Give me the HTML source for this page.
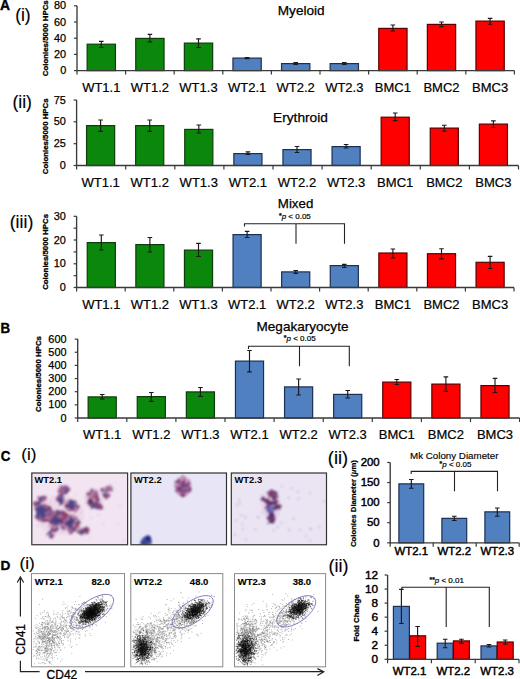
<!DOCTYPE html>
<html><head><meta charset="utf-8"><style>
html,body{margin:0;padding:0;background:#fff;width:520px;height:679px;overflow:hidden}
svg{display:block}
text{font-family:"Liberation Sans", sans-serif;fill:#000}
</style></head><body>
<svg width="520" height="679" viewBox="0 0 520 679" font-family='"Liberation Sans", sans-serif'>
<rect width="520" height="679" fill="#fff"/>
<defs><filter id="bl" x="-20%" y="-20%" width="140%" height="140%"><feGaussianBlur stdDeviation="0.9"/></filter><filter id="bl2" x="-20%" y="-20%" width="140%" height="140%"><feGaussianBlur stdDeviation="0.5"/></filter></defs>
<text x="0.05" y="10.0" font-size="13.9" text-anchor="start" font-weight="bold" stroke="#000" stroke-width="0.35" >A</text>
<text x="15.15" y="20.9" font-size="17.5" text-anchor="start" stroke="#000" stroke-width="0.15" >(i)</text>
<rect x="87.15" y="44.20" width="28.30" height="26.40" fill="#0b870b" stroke="#0d3d0d" stroke-width="1.2"/>
<rect x="135.75" y="38.40" width="28.30" height="32.20" fill="#0b870b" stroke="#0d3d0d" stroke-width="1.2"/>
<rect x="184.35" y="43.10" width="28.30" height="27.50" fill="#0b870b" stroke="#0d3d0d" stroke-width="1.2"/>
<rect x="232.95" y="58.10" width="28.30" height="12.50" fill="#5080c0" stroke="#1c2f52" stroke-width="1.2"/>
<rect x="281.55" y="63.60" width="28.30" height="7.00" fill="#5080c0" stroke="#1c2f52" stroke-width="1.2"/>
<rect x="330.15" y="63.60" width="28.30" height="7.00" fill="#5080c0" stroke="#1c2f52" stroke-width="1.2"/>
<rect x="378.75" y="28.40" width="28.30" height="42.20" fill="#ff0000" stroke="#5a0000" stroke-width="1.2"/>
<rect x="427.35" y="24.40" width="28.30" height="46.20" fill="#ff0000" stroke="#5a0000" stroke-width="1.2"/>
<rect x="475.95" y="21.10" width="28.30" height="49.50" fill="#ff0000" stroke="#5a0000" stroke-width="1.2"/>
<path d="M77 5.8V70.6H514.4000000000001" fill="none" stroke="#3a3a3a" stroke-width="1.35"/>
<path d="M74 70.6H77" stroke="#3a3a3a" stroke-width="1.2"/>
<text x="66.2" y="74.2" font-size="10.9" text-anchor="end" stroke="#000" stroke-width="0.25" >0</text>
<path d="M74 54.4H77" stroke="#3a3a3a" stroke-width="1.2"/>
<text x="66.2" y="58.0" font-size="10.9" text-anchor="end" stroke="#000" stroke-width="0.25" >20</text>
<path d="M74 38.2H77" stroke="#3a3a3a" stroke-width="1.2"/>
<text x="66.2" y="41.8" font-size="10.9" text-anchor="end" stroke="#000" stroke-width="0.25" >40</text>
<path d="M74 22.0H77" stroke="#3a3a3a" stroke-width="1.2"/>
<text x="66.2" y="25.6" font-size="10.9" text-anchor="end" stroke="#000" stroke-width="0.25" >60</text>
<path d="M74 5.8H77" stroke="#3a3a3a" stroke-width="1.2"/>
<text x="66.2" y="9.4" font-size="10.9" text-anchor="end" stroke="#000" stroke-width="0.25" >80</text>
<path d="M77.00 70.6V74.6" stroke="#3a3a3a" stroke-width="1.2"/>
<path d="M125.60 70.6V74.6" stroke="#3a3a3a" stroke-width="1.2"/>
<path d="M174.20 70.6V74.6" stroke="#3a3a3a" stroke-width="1.2"/>
<path d="M222.80 70.6V74.6" stroke="#3a3a3a" stroke-width="1.2"/>
<path d="M271.40 70.6V74.6" stroke="#3a3a3a" stroke-width="1.2"/>
<path d="M320.00 70.6V74.6" stroke="#3a3a3a" stroke-width="1.2"/>
<path d="M368.60 70.6V74.6" stroke="#3a3a3a" stroke-width="1.2"/>
<path d="M417.20 70.6V74.6" stroke="#3a3a3a" stroke-width="1.2"/>
<path d="M465.80 70.6V74.6" stroke="#3a3a3a" stroke-width="1.2"/>
<path d="M514.40 70.6V74.6" stroke="#3a3a3a" stroke-width="1.2"/>
<path d="M101.30 41.3V47.5M99.00 41.3h4.6M99.00 47.5h4.6" stroke="#1a1a1a" stroke-width="1.15" fill="none"/>
<path d="M149.90 34.3V41.8M147.60 34.3h4.6M147.60 41.8h4.6" stroke="#1a1a1a" stroke-width="1.15" fill="none"/>
<path d="M198.50 38.8V47.5M196.20 38.8h4.6M196.20 47.5h4.6" stroke="#1a1a1a" stroke-width="1.15" fill="none"/>
<path d="M247.10 57.5V58.6M244.80 57.5h4.6M244.80 58.6h4.6" stroke="#1a1a1a" stroke-width="1.15" fill="none"/>
<path d="M295.70 62.6V64.4M293.40 62.6h4.6M293.40 64.4h4.6" stroke="#1a1a1a" stroke-width="1.15" fill="none"/>
<path d="M344.30 62.6V64.4M342.00 62.6h4.6M342.00 64.4h4.6" stroke="#1a1a1a" stroke-width="1.15" fill="none"/>
<path d="M392.90 25V31M390.60 25h4.6M390.60 31h4.6" stroke="#1a1a1a" stroke-width="1.15" fill="none"/>
<path d="M441.50 22V26.6M439.20 22h4.6M439.20 26.6h4.6" stroke="#1a1a1a" stroke-width="1.15" fill="none"/>
<path d="M490.10 18.4V24.2M487.80 18.4h4.6M487.80 24.2h4.6" stroke="#1a1a1a" stroke-width="1.15" fill="none"/>
<text x="101.30" y="91.5" font-size="13.0" text-anchor="middle" stroke="#000" stroke-width="0.2" >WT1.1</text>
<text x="149.90" y="91.5" font-size="13.0" text-anchor="middle" stroke="#000" stroke-width="0.2" >WT1.2</text>
<text x="198.50" y="91.5" font-size="13.0" text-anchor="middle" stroke="#000" stroke-width="0.2" >WT1.3</text>
<text x="247.10" y="91.5" font-size="13.0" text-anchor="middle" stroke="#000" stroke-width="0.2" >WT2.1</text>
<text x="295.70" y="91.5" font-size="13.0" text-anchor="middle" stroke="#000" stroke-width="0.2" >WT2.2</text>
<text x="344.30" y="91.5" font-size="13.0" text-anchor="middle" stroke="#000" stroke-width="0.2" >WT2.3</text>
<text x="392.90" y="91.5" font-size="13.0" text-anchor="middle" stroke="#000" stroke-width="0.2" >BMC1</text>
<text x="441.50" y="91.5" font-size="13.0" text-anchor="middle" stroke="#000" stroke-width="0.2" >BMC2</text>
<text x="490.10" y="91.5" font-size="13.0" text-anchor="middle" stroke="#000" stroke-width="0.2" >BMC3</text>
<text x="48.2" y="38.2" font-size="7.85" font-weight="bold" text-anchor="middle" stroke="#000" stroke-width="0.3" transform="rotate(-90 48.2 38.2)">Colonies/5000 HPCs</text>
<text x="277.8" y="14.6" font-size="13.58" text-anchor="start" stroke="#000" stroke-width="0.25" >Myeloid</text>
<text x="12.45" y="107.8" font-size="17.56" text-anchor="start" stroke="#000" stroke-width="0.15" >(ii)</text>
<rect x="86.55" y="125.60" width="28.10" height="39.90" fill="#0b870b" stroke="#0d3d0d" stroke-width="1.2"/>
<rect x="135.65" y="125.60" width="28.10" height="39.90" fill="#0b870b" stroke="#0d3d0d" stroke-width="1.2"/>
<rect x="184.75" y="129.40" width="28.10" height="36.10" fill="#0b870b" stroke="#0d3d0d" stroke-width="1.2"/>
<rect x="233.85" y="153.60" width="28.10" height="11.90" fill="#5080c0" stroke="#1c2f52" stroke-width="1.2"/>
<rect x="282.95" y="149.60" width="28.10" height="15.90" fill="#5080c0" stroke="#1c2f52" stroke-width="1.2"/>
<rect x="332.05" y="146.60" width="28.10" height="18.90" fill="#5080c0" stroke="#1c2f52" stroke-width="1.2"/>
<rect x="381.15" y="117.20" width="28.10" height="48.30" fill="#ff0000" stroke="#5a0000" stroke-width="1.2"/>
<rect x="430.25" y="128.10" width="28.10" height="37.40" fill="#ff0000" stroke="#5a0000" stroke-width="1.2"/>
<rect x="479.35" y="124.10" width="28.10" height="41.40" fill="#ff0000" stroke="#5a0000" stroke-width="1.2"/>
<path d="M76.6 100V165.5H518.5" fill="none" stroke="#3a3a3a" stroke-width="1.35"/>
<path d="M73.6 165.5H76.6" stroke="#3a3a3a" stroke-width="1.2"/>
<text x="65.8" y="169.1" font-size="10.9" text-anchor="end" stroke="#000" stroke-width="0.25" >0</text>
<path d="M73.6 143.7H76.6" stroke="#3a3a3a" stroke-width="1.2"/>
<text x="65.8" y="147.3" font-size="10.9" text-anchor="end" stroke="#000" stroke-width="0.25" >25</text>
<path d="M73.6 121.8H76.6" stroke="#3a3a3a" stroke-width="1.2"/>
<text x="65.8" y="125.4" font-size="10.9" text-anchor="end" stroke="#000" stroke-width="0.25" >50</text>
<path d="M73.6 100H76.6" stroke="#3a3a3a" stroke-width="1.2"/>
<text x="65.8" y="103.6" font-size="10.9" text-anchor="end" stroke="#000" stroke-width="0.25" >75</text>
<path d="M76.60 165.5V169.5" stroke="#3a3a3a" stroke-width="1.2"/>
<path d="M125.70 165.5V169.5" stroke="#3a3a3a" stroke-width="1.2"/>
<path d="M174.80 165.5V169.5" stroke="#3a3a3a" stroke-width="1.2"/>
<path d="M223.90 165.5V169.5" stroke="#3a3a3a" stroke-width="1.2"/>
<path d="M273.00 165.5V169.5" stroke="#3a3a3a" stroke-width="1.2"/>
<path d="M322.10 165.5V169.5" stroke="#3a3a3a" stroke-width="1.2"/>
<path d="M371.20 165.5V169.5" stroke="#3a3a3a" stroke-width="1.2"/>
<path d="M420.30 165.5V169.5" stroke="#3a3a3a" stroke-width="1.2"/>
<path d="M469.40 165.5V169.5" stroke="#3a3a3a" stroke-width="1.2"/>
<path d="M518.50 165.5V169.5" stroke="#3a3a3a" stroke-width="1.2"/>
<path d="M100.60 120V131.3M98.30 120h4.6M98.30 131.3h4.6" stroke="#1a1a1a" stroke-width="1.15" fill="none"/>
<path d="M149.70 120V131.3M147.40 120h4.6M147.40 131.3h4.6" stroke="#1a1a1a" stroke-width="1.15" fill="none"/>
<path d="M198.80 125V133M196.50 125h4.6M196.50 133h4.6" stroke="#1a1a1a" stroke-width="1.15" fill="none"/>
<path d="M247.90 151.8V154.5M245.60 151.8h4.6M245.60 154.5h4.6" stroke="#1a1a1a" stroke-width="1.15" fill="none"/>
<path d="M297.00 146.5V152.5M294.70 146.5h4.6M294.70 152.5h4.6" stroke="#1a1a1a" stroke-width="1.15" fill="none"/>
<path d="M346.10 144.5V148M343.80 144.5h4.6M343.80 148h4.6" stroke="#1a1a1a" stroke-width="1.15" fill="none"/>
<path d="M395.20 113V120.6M392.90 113h4.6M392.90 120.6h4.6" stroke="#1a1a1a" stroke-width="1.15" fill="none"/>
<path d="M444.30 125.2V131.2M442.00 125.2h4.6M442.00 131.2h4.6" stroke="#1a1a1a" stroke-width="1.15" fill="none"/>
<path d="M493.40 120.9V127.5M491.10 120.9h4.6M491.10 127.5h4.6" stroke="#1a1a1a" stroke-width="1.15" fill="none"/>
<text x="100.60" y="186.6" font-size="13.06" text-anchor="middle" stroke="#000" stroke-width="0.2" >WT1.1</text>
<text x="149.70" y="186.6" font-size="13.06" text-anchor="middle" stroke="#000" stroke-width="0.2" >WT1.2</text>
<text x="198.80" y="186.6" font-size="13.06" text-anchor="middle" stroke="#000" stroke-width="0.2" >WT1.3</text>
<text x="247.90" y="186.6" font-size="13.06" text-anchor="middle" stroke="#000" stroke-width="0.2" >WT2.1</text>
<text x="297.00" y="186.6" font-size="13.06" text-anchor="middle" stroke="#000" stroke-width="0.2" >WT2.2</text>
<text x="346.10" y="186.6" font-size="13.06" text-anchor="middle" stroke="#000" stroke-width="0.2" >WT2.3</text>
<text x="395.20" y="186.6" font-size="13.06" text-anchor="middle" stroke="#000" stroke-width="0.2" >BMC1</text>
<text x="444.30" y="186.6" font-size="13.06" text-anchor="middle" stroke="#000" stroke-width="0.2" >BMC2</text>
<text x="493.40" y="186.6" font-size="13.06" text-anchor="middle" stroke="#000" stroke-width="0.2" >BMC3</text>
<text x="48.2" y="136.3" font-size="7.85" font-weight="bold" text-anchor="middle" stroke="#000" stroke-width="0.3" transform="rotate(-90 48.2 136.3)">Colonies/5000 HPCs</text>
<text x="273.05" y="122.1" font-size="13.7" text-anchor="start" stroke="#000" stroke-width="0.25" >Erythroid</text>
<text x="9.73" y="227.5" font-size="17.7" text-anchor="start" stroke="#000" stroke-width="0.15" >(iii)</text>
<rect x="87.25" y="242.60" width="28.10" height="44.90" fill="#0b870b" stroke="#0d3d0d" stroke-width="1.2"/>
<rect x="135.85" y="244.60" width="28.10" height="42.90" fill="#0b870b" stroke="#0d3d0d" stroke-width="1.2"/>
<rect x="184.45" y="250.10" width="28.10" height="37.40" fill="#0b870b" stroke="#0d3d0d" stroke-width="1.2"/>
<rect x="233.05" y="234.60" width="28.10" height="52.90" fill="#5080c0" stroke="#1c2f52" stroke-width="1.2"/>
<rect x="281.65" y="271.90" width="28.10" height="15.60" fill="#5080c0" stroke="#1c2f52" stroke-width="1.2"/>
<rect x="330.25" y="265.60" width="28.10" height="21.90" fill="#5080c0" stroke="#1c2f52" stroke-width="1.2"/>
<rect x="378.85" y="253.00" width="28.10" height="34.50" fill="#ff0000" stroke="#5a0000" stroke-width="1.2"/>
<rect x="427.45" y="253.70" width="28.10" height="33.80" fill="#ff0000" stroke="#5a0000" stroke-width="1.2"/>
<rect x="476.05" y="262.30" width="28.10" height="25.20" fill="#ff0000" stroke="#5a0000" stroke-width="1.2"/>
<path d="M76.6 216.3V287.5H514.0" fill="none" stroke="#3a3a3a" stroke-width="1.35"/>
<path d="M73.6 287.5H76.6" stroke="#3a3a3a" stroke-width="1.2"/>
<text x="65.8" y="291.1" font-size="10.9" text-anchor="end" stroke="#000" stroke-width="0.25" >0</text>
<path d="M73.6 263.8H76.6" stroke="#3a3a3a" stroke-width="1.2"/>
<text x="65.8" y="267.4" font-size="10.9" text-anchor="end" stroke="#000" stroke-width="0.25" >10</text>
<path d="M73.6 240H76.6" stroke="#3a3a3a" stroke-width="1.2"/>
<text x="65.8" y="243.6" font-size="10.9" text-anchor="end" stroke="#000" stroke-width="0.25" >20</text>
<path d="M73.6 216.3H76.6" stroke="#3a3a3a" stroke-width="1.2"/>
<text x="65.8" y="219.9" font-size="10.9" text-anchor="end" stroke="#000" stroke-width="0.25" >30</text>
<path d="M76.60 287.5V291.5" stroke="#3a3a3a" stroke-width="1.2"/>
<path d="M125.20 287.5V291.5" stroke="#3a3a3a" stroke-width="1.2"/>
<path d="M173.80 287.5V291.5" stroke="#3a3a3a" stroke-width="1.2"/>
<path d="M222.40 287.5V291.5" stroke="#3a3a3a" stroke-width="1.2"/>
<path d="M271.00 287.5V291.5" stroke="#3a3a3a" stroke-width="1.2"/>
<path d="M319.60 287.5V291.5" stroke="#3a3a3a" stroke-width="1.2"/>
<path d="M368.20 287.5V291.5" stroke="#3a3a3a" stroke-width="1.2"/>
<path d="M416.80 287.5V291.5" stroke="#3a3a3a" stroke-width="1.2"/>
<path d="M465.40 287.5V291.5" stroke="#3a3a3a" stroke-width="1.2"/>
<path d="M514.00 287.5V291.5" stroke="#3a3a3a" stroke-width="1.2"/>
<path d="M101.30 235V250M99.00 235h4.6M99.00 250h4.6" stroke="#1a1a1a" stroke-width="1.15" fill="none"/>
<path d="M149.90 237.5V252M147.60 237.5h4.6M147.60 252h4.6" stroke="#1a1a1a" stroke-width="1.15" fill="none"/>
<path d="M198.50 243.3V256.5M196.20 243.3h4.6M196.20 256.5h4.6" stroke="#1a1a1a" stroke-width="1.15" fill="none"/>
<path d="M247.10 231.3V237.5M244.80 231.3h4.6M244.80 237.5h4.6" stroke="#1a1a1a" stroke-width="1.15" fill="none"/>
<path d="M295.70 270.5V273.3M293.40 270.5h4.6M293.40 273.3h4.6" stroke="#1a1a1a" stroke-width="1.15" fill="none"/>
<path d="M344.30 264.3V267.5M342.00 264.3h4.6M342.00 267.5h4.6" stroke="#1a1a1a" stroke-width="1.15" fill="none"/>
<path d="M392.90 249V258M390.60 249h4.6M390.60 258h4.6" stroke="#1a1a1a" stroke-width="1.15" fill="none"/>
<path d="M441.50 248.7V258.8M439.20 248.7h4.6M439.20 258.8h4.6" stroke="#1a1a1a" stroke-width="1.15" fill="none"/>
<path d="M490.10 256.3V268.5M487.80 256.3h4.6M487.80 268.5h4.6" stroke="#1a1a1a" stroke-width="1.15" fill="none"/>
<text x="101.30" y="308.6" font-size="13.0" text-anchor="middle" stroke="#000" stroke-width="0.2" >WT1.1</text>
<text x="149.90" y="308.6" font-size="13.0" text-anchor="middle" stroke="#000" stroke-width="0.2" >WT1.2</text>
<text x="198.50" y="308.6" font-size="13.0" text-anchor="middle" stroke="#000" stroke-width="0.2" >WT1.3</text>
<text x="247.10" y="308.6" font-size="13.0" text-anchor="middle" stroke="#000" stroke-width="0.2" >WT2.1</text>
<text x="295.70" y="308.6" font-size="13.0" text-anchor="middle" stroke="#000" stroke-width="0.2" >WT2.2</text>
<text x="344.30" y="308.6" font-size="13.0" text-anchor="middle" stroke="#000" stroke-width="0.2" >WT2.3</text>
<text x="392.90" y="308.6" font-size="13.0" text-anchor="middle" stroke="#000" stroke-width="0.2" >BMC1</text>
<text x="441.50" y="308.6" font-size="13.0" text-anchor="middle" stroke="#000" stroke-width="0.2" >BMC2</text>
<text x="490.10" y="308.6" font-size="13.0" text-anchor="middle" stroke="#000" stroke-width="0.2" >BMC3</text>
<path d="M73.6 275.65H76.6" stroke="#3a3a3a" stroke-width="1.2"/>
<path d="M73.6 251.9H76.6" stroke="#3a3a3a" stroke-width="1.2"/>
<path d="M73.6 228.15H76.6" stroke="#3a3a3a" stroke-width="1.2"/>
<text x="48.2" y="251.9" font-size="7.85" font-weight="bold" text-anchor="middle" stroke="#000" stroke-width="0.3" transform="rotate(-90 48.2 251.9)">Colonies/5000 HPCs</text>
<text x="277.84" y="207.8" font-size="13.3" text-anchor="start" stroke="#000" stroke-width="0.25" >Mixed</text>
<text x="279.0" y="219.4" font-size="8" stroke="#000" stroke-width="0.2"><tspan font-size="6.8" dy="-1" font-weight="bold">*</tspan><tspan font-style="italic" dy="1">p</tspan> &lt; 0.05</text>
<path d="M244.5 226.5V223.8H344.5V243.8M296 223.8V243.8" fill="none" stroke="#222" stroke-width="1.1"/>
<text x="0.54" y="333.4" font-size="13.3" text-anchor="start" font-weight="bold" transform="matrix(1 0 0 1.1 0 -33.340)" stroke="#000" stroke-width="0.35" >B</text>
<rect x="88.15" y="396.90" width="28.10" height="21.10" fill="#0b870b" stroke="#0d3d0d" stroke-width="1.2"/>
<rect x="137.25" y="396.60" width="28.10" height="21.40" fill="#0b870b" stroke="#0d3d0d" stroke-width="1.2"/>
<rect x="186.35" y="391.90" width="28.10" height="26.10" fill="#0b870b" stroke="#0d3d0d" stroke-width="1.2"/>
<rect x="235.45" y="361.10" width="28.10" height="56.90" fill="#5080c0" stroke="#1c2f52" stroke-width="1.2"/>
<rect x="284.55" y="386.90" width="28.10" height="31.10" fill="#5080c0" stroke="#1c2f52" stroke-width="1.2"/>
<rect x="333.65" y="394.40" width="28.10" height="23.60" fill="#5080c0" stroke="#1c2f52" stroke-width="1.2"/>
<rect x="382.75" y="382.10" width="28.10" height="35.90" fill="#ff0000" stroke="#5a0000" stroke-width="1.2"/>
<rect x="431.85" y="384.10" width="28.10" height="33.90" fill="#ff0000" stroke="#5a0000" stroke-width="1.2"/>
<rect x="480.95" y="385.60" width="28.10" height="32.40" fill="#ff0000" stroke="#5a0000" stroke-width="1.2"/>
<path d="M77.7 339.1V418H519.6" fill="none" stroke="#3a3a3a" stroke-width="1.35"/>
<path d="M74.7 418.0H77.7" stroke="#3a3a3a" stroke-width="1.2"/>
<text x="66.5" y="421.6" font-size="10.9" text-anchor="end" stroke="#000" stroke-width="0.25" >0</text>
<path d="M74.7 404.85H77.7" stroke="#3a3a3a" stroke-width="1.2"/>
<text x="66.5" y="408.45" font-size="10.9" text-anchor="end" stroke="#000" stroke-width="0.25" >100</text>
<path d="M74.7 391.7H77.7" stroke="#3a3a3a" stroke-width="1.2"/>
<text x="66.5" y="395.3" font-size="10.9" text-anchor="end" stroke="#000" stroke-width="0.25" >200</text>
<path d="M74.7 378.55H77.7" stroke="#3a3a3a" stroke-width="1.2"/>
<text x="66.5" y="382.15" font-size="10.9" text-anchor="end" stroke="#000" stroke-width="0.25" >300</text>
<path d="M74.7 365.4H77.7" stroke="#3a3a3a" stroke-width="1.2"/>
<text x="66.5" y="369.0" font-size="10.9" text-anchor="end" stroke="#000" stroke-width="0.25" >400</text>
<path d="M74.7 352.25H77.7" stroke="#3a3a3a" stroke-width="1.2"/>
<text x="66.5" y="355.85" font-size="10.9" text-anchor="end" stroke="#000" stroke-width="0.25" >500</text>
<path d="M74.7 339.1H77.7" stroke="#3a3a3a" stroke-width="1.2"/>
<text x="66.5" y="342.7" font-size="10.9" text-anchor="end" stroke="#000" stroke-width="0.25" >600</text>
<path d="M77.70 418V422" stroke="#3a3a3a" stroke-width="1.2"/>
<path d="M126.80 418V422" stroke="#3a3a3a" stroke-width="1.2"/>
<path d="M175.90 418V422" stroke="#3a3a3a" stroke-width="1.2"/>
<path d="M225.00 418V422" stroke="#3a3a3a" stroke-width="1.2"/>
<path d="M274.10 418V422" stroke="#3a3a3a" stroke-width="1.2"/>
<path d="M323.20 418V422" stroke="#3a3a3a" stroke-width="1.2"/>
<path d="M372.30 418V422" stroke="#3a3a3a" stroke-width="1.2"/>
<path d="M421.40 418V422" stroke="#3a3a3a" stroke-width="1.2"/>
<path d="M470.50 418V422" stroke="#3a3a3a" stroke-width="1.2"/>
<path d="M519.60 418V422" stroke="#3a3a3a" stroke-width="1.2"/>
<path d="M102.20 394.5V399M99.90 394.5h4.6M99.90 399h4.6" stroke="#1a1a1a" stroke-width="1.15" fill="none"/>
<path d="M151.30 392.5V401.3M149.00 392.5h4.6M149.00 401.3h4.6" stroke="#1a1a1a" stroke-width="1.15" fill="none"/>
<path d="M200.40 387.5V396.3M198.10 387.5h4.6M198.10 396.3h4.6" stroke="#1a1a1a" stroke-width="1.15" fill="none"/>
<path d="M249.50 350.5V371.8M247.20 350.5h4.6M247.20 371.8h4.6" stroke="#1a1a1a" stroke-width="1.15" fill="none"/>
<path d="M298.60 379V395M296.30 379h4.6M296.30 395h4.6" stroke="#1a1a1a" stroke-width="1.15" fill="none"/>
<path d="M347.70 390.5V398M345.40 390.5h4.6M345.40 398h4.6" stroke="#1a1a1a" stroke-width="1.15" fill="none"/>
<path d="M396.80 379.5V384.5M394.50 379.5h4.6M394.50 384.5h4.6" stroke="#1a1a1a" stroke-width="1.15" fill="none"/>
<path d="M445.90 376.8V391.3M443.60 376.8h4.6M443.60 391.3h4.6" stroke="#1a1a1a" stroke-width="1.15" fill="none"/>
<path d="M495.00 378.3V392.5M492.70 378.3h4.6M492.70 392.5h4.6" stroke="#1a1a1a" stroke-width="1.15" fill="none"/>
<text x="102.20" y="438.8" font-size="13.0" text-anchor="middle" stroke="#000" stroke-width="0.2" >WT1.1</text>
<text x="151.30" y="438.8" font-size="13.0" text-anchor="middle" stroke="#000" stroke-width="0.2" >WT1.2</text>
<text x="200.40" y="438.8" font-size="13.0" text-anchor="middle" stroke="#000" stroke-width="0.2" >WT1.3</text>
<text x="249.50" y="438.8" font-size="13.0" text-anchor="middle" stroke="#000" stroke-width="0.2" >WT2.1</text>
<text x="298.60" y="438.8" font-size="13.0" text-anchor="middle" stroke="#000" stroke-width="0.2" >WT2.2</text>
<text x="347.70" y="438.8" font-size="13.0" text-anchor="middle" stroke="#000" stroke-width="0.2" >WT2.3</text>
<text x="396.80" y="438.8" font-size="13.0" text-anchor="middle" stroke="#000" stroke-width="0.2" >BMC1</text>
<text x="445.90" y="438.8" font-size="13.0" text-anchor="middle" stroke="#000" stroke-width="0.2" >BMC2</text>
<text x="495.00" y="438.8" font-size="13.0" text-anchor="middle" stroke="#000" stroke-width="0.2" >BMC3</text>
<text x="40.7" y="374" font-size="7.85" font-weight="bold" text-anchor="middle" stroke="#000" stroke-width="0.3" transform="rotate(-90 40.7 374)">Colonies/5000 HPCs</text>
<text x="256.5" y="331.0" font-size="13.57" text-anchor="start" stroke="#000" stroke-width="0.25" >Megakaryocyte</text>
<text x="283.8" y="341.4" font-size="8" stroke="#000" stroke-width="0.2"><tspan font-size="6.8" dy="-1" font-weight="bold">*</tspan><tspan font-style="italic" dy="1">p</tspan> &lt; 0.05</text>
<path d="M248.5 349V346.3H349.3V366.3M299.5 346.3V366.3" fill="none" stroke="#222" stroke-width="1.1"/>
<text x="0.7" y="461.2" font-size="13.3" text-anchor="start" font-weight="bold" transform="matrix(1 0 0 1.05 0 -23.060)" stroke="#000" stroke-width="0.35" >C</text>
<text x="21.27" y="459.9" font-size="17.1" text-anchor="start" stroke="#000" stroke-width="0.15" >(i)</text>
<clipPath id="mc0"><rect x="31.8" y="473" width="95.8" height="71.75"/></clipPath>
<clipPath id="mc1"><rect x="130.9" y="473" width="95.6" height="71.75"/></clipPath>
<clipPath id="mc2"><rect x="231.3" y="473" width="95.19999999999999" height="71.75"/></clipPath>
<rect x="31.8" y="473" width="95.8" height="71.75" fill="#f2e4f0"/>
<g clip-path="url(#mc0)"><g filter="url(#bl)">
<ellipse cx="60" cy="515" rx="24" ry="20" fill="#e6c0dc" opacity="0.35"/>
<ellipse cx="94" cy="499" rx="10" ry="11" fill="#e6c0dc" opacity="0.35"/>
<ellipse cx="44" cy="513" rx="8" ry="9.5" fill="#4a2e62" opacity="0.45"/>
<ellipse cx="59" cy="518" rx="11" ry="8" fill="#7a4278" opacity="0.4"/>
<ellipse cx="71" cy="523" rx="9" ry="9" fill="#7a4278" opacity="0.45"/>
<ellipse cx="70" cy="505" rx="6" ry="6" fill="#7a4278" opacity="0.35"/>
<ellipse cx="93" cy="500" rx="5" ry="8" fill="#7a4278" opacity="0.3"/>
<ellipse cx="62" cy="491" rx="5" ry="4" fill="#7a4278" opacity="0.35"/>
<ellipse cx="83" cy="531" rx="4.5" ry="4" fill="#7a4278" opacity="0.35"/>
<circle cx="66.1" cy="491.0" r="1.8" fill="#8e4676" opacity="0.68"/>
<circle cx="66.7" cy="491.5" r="1.1" fill="#4a5092" opacity="0.68"/>
<circle cx="63.8" cy="488.7" r="1.7" fill="#4a2e62" opacity="0.68"/>
<circle cx="60.5" cy="491.3" r="2.3" fill="#8e4676" opacity="0.68"/>
<circle cx="63.1" cy="493.1" r="1.3" fill="#8e4676" opacity="0.68"/>
<circle cx="68.9" cy="490.0" r="1.4" fill="#4a2e62" opacity="0.68"/>
<circle cx="67.0" cy="488.1" r="2.1" fill="#4a5092" opacity="0.68"/>
<circle cx="68.1" cy="490.6" r="1.0" fill="#4a2e62" opacity="0.68"/>
<circle cx="61.4" cy="486.7" r="1.8" fill="#7a4278" opacity="0.68"/>
<circle cx="62.7" cy="493.3" r="1.2" fill="#8e4676" opacity="0.68"/>
<circle cx="66.0" cy="487.2" r="2.1" fill="#b46a9a" opacity="0.68"/>
<circle cx="60.1" cy="491.5" r="1.1" fill="#8e4676" opacity="0.68"/>
<circle cx="65.8" cy="488.0" r="1.1" fill="#4a5092" opacity="0.68"/>
<circle cx="63.1" cy="488.0" r="1.3" fill="#8e4676" opacity="0.68"/>
<circle cx="61.1" cy="489.0" r="1.2" fill="#b46a9a" opacity="0.68"/>
<circle cx="65.8" cy="493.1" r="1.8" fill="#8e4676" opacity="0.68"/>
<circle cx="66.0" cy="489.1" r="1.2" fill="#8e4676" opacity="0.68"/>
<circle cx="67.9" cy="489.3" r="2.4" fill="#b46a9a" opacity="0.68"/>
<circle cx="65.0" cy="486.5" r="1.5" fill="#7a4278" opacity="0.68"/>
<circle cx="65.9" cy="490.9" r="2.2" fill="#7a4278" opacity="0.68"/>
<circle cx="65.9" cy="491.6" r="2.2" fill="#4a5092" opacity="0.68"/>
<circle cx="68.1" cy="489.3" r="1.7" fill="#7a4278" opacity="0.68"/>
<circle cx="63.7" cy="489.1" r="1.5" fill="#b46a9a" opacity="0.68"/>
<circle cx="60.5" cy="488.3" r="1.7" fill="#b46a9a" opacity="0.68"/>
<circle cx="61.9" cy="489.4" r="1.1" fill="#4a5092" opacity="0.68"/>
<circle cx="39.5" cy="498.8" r="1.5" fill="#8e4676" opacity="0.68"/>
<circle cx="44.5" cy="498.8" r="2.0" fill="#7a4278" opacity="0.68"/>
<circle cx="40.3" cy="499.7" r="1.5" fill="#d6a8c8" opacity="0.68"/>
<circle cx="40.8" cy="499.9" r="1.0" fill="#4a5092" opacity="0.68"/>
<circle cx="38.8" cy="497.7" r="2.0" fill="#b46a9a" opacity="0.68"/>
<circle cx="45.0" cy="497.6" r="2.1" fill="#8e4676" opacity="0.68"/>
<circle cx="42.8" cy="497.1" r="1.4" fill="#4a5092" opacity="0.68"/>
<circle cx="41.8" cy="500.8" r="1.8" fill="#4a2e62" opacity="0.68"/>
<circle cx="41.0" cy="498.0" r="1.5" fill="#4a5092" opacity="0.68"/>
<circle cx="41.7" cy="497.6" r="1.7" fill="#7a4278" opacity="0.68"/>
<circle cx="39.6" cy="499.9" r="1.2" fill="#4a2e62" opacity="0.68"/>
<circle cx="43.6" cy="497.9" r="1.3" fill="#7a4278" opacity="0.68"/>
<circle cx="41.1" cy="499.7" r="2.3" fill="#4a5092" opacity="0.68"/>
<circle cx="43.6" cy="499.9" r="2.2" fill="#b46a9a" opacity="0.68"/>
<circle cx="47.0" cy="513.0" r="2.2" fill="#4a5092" opacity="0.68"/>
<circle cx="49.8" cy="515.3" r="2.1" fill="#7a4278" opacity="0.68"/>
<circle cx="49.4" cy="510.5" r="1.0" fill="#7a4278" opacity="0.68"/>
<circle cx="37.6" cy="517.2" r="1.9" fill="#4a2e62" opacity="0.68"/>
<circle cx="40.6" cy="515.6" r="1.4" fill="#8e4676" opacity="0.68"/>
<circle cx="39.1" cy="518.7" r="2.1" fill="#4a5092" opacity="0.68"/>
<circle cx="40.8" cy="512.6" r="2.2" fill="#4a5092" opacity="0.68"/>
<circle cx="36.8" cy="509.5" r="1.4" fill="#7a4278" opacity="0.68"/>
<circle cx="44.8" cy="505.6" r="1.9" fill="#b46a9a" opacity="0.68"/>
<circle cx="48.7" cy="507.8" r="1.7" fill="#b46a9a" opacity="0.68"/>
<circle cx="41.7" cy="508.6" r="1.8" fill="#b46a9a" opacity="0.68"/>
<circle cx="45.2" cy="506.9" r="1.7" fill="#7a4278" opacity="0.68"/>
<circle cx="48.0" cy="507.4" r="1.5" fill="#b46a9a" opacity="0.68"/>
<circle cx="39.8" cy="519.0" r="2.2" fill="#7a4278" opacity="0.68"/>
<circle cx="49.6" cy="506.8" r="1.1" fill="#7a4278" opacity="0.68"/>
<circle cx="48.0" cy="509.5" r="1.5" fill="#4a2e62" opacity="0.68"/>
<circle cx="42.3" cy="510.0" r="1.9" fill="#4a5092" opacity="0.68"/>
<circle cx="43.8" cy="512.0" r="1.6" fill="#8e4676" opacity="0.68"/>
<circle cx="38.5" cy="515.6" r="2.2" fill="#4a2e62" opacity="0.68"/>
<circle cx="45.4" cy="519.4" r="1.8" fill="#7a4278" opacity="0.68"/>
<circle cx="50.1" cy="508.1" r="1.8" fill="#7a4278" opacity="0.68"/>
<circle cx="46.8" cy="510.5" r="2.0" fill="#4a2e62" opacity="0.68"/>
<circle cx="43.6" cy="507.0" r="1.9" fill="#b46a9a" opacity="0.68"/>
<circle cx="40.1" cy="518.8" r="1.9" fill="#b46a9a" opacity="0.68"/>
<circle cx="39.4" cy="512.6" r="2.3" fill="#4a5092" opacity="0.68"/>
<circle cx="45.2" cy="516.2" r="2.2" fill="#7a4278" opacity="0.68"/>
<circle cx="47.9" cy="512.7" r="1.2" fill="#4a2e62" opacity="0.68"/>
<circle cx="39.5" cy="509.3" r="1.2" fill="#8e4676" opacity="0.68"/>
<circle cx="47.9" cy="508.7" r="2.1" fill="#8e4676" opacity="0.68"/>
<circle cx="48.8" cy="509.6" r="1.7" fill="#b46a9a" opacity="0.68"/>
<circle cx="46.1" cy="518.9" r="2.3" fill="#d6a8c8" opacity="0.68"/>
<circle cx="50.5" cy="514.0" r="1.1" fill="#4a2e62" opacity="0.68"/>
<circle cx="48.6" cy="519.2" r="1.7" fill="#d6a8c8" opacity="0.68"/>
<circle cx="39.8" cy="517.3" r="2.0" fill="#8e4676" opacity="0.68"/>
<circle cx="47.4" cy="514.6" r="1.6" fill="#8e4676" opacity="0.68"/>
<circle cx="40.1" cy="506.4" r="2.0" fill="#b46a9a" opacity="0.68"/>
<circle cx="40.3" cy="511.8" r="2.4" fill="#7a4278" opacity="0.68"/>
<circle cx="50.6" cy="513.5" r="1.2" fill="#8e4676" opacity="0.68"/>
<circle cx="48.8" cy="514.7" r="1.6" fill="#4a2e62" opacity="0.68"/>
<circle cx="37.0" cy="516.8" r="2.3" fill="#7a4278" opacity="0.68"/>
<circle cx="51.4" cy="515.5" r="2.0" fill="#4a2e62" opacity="0.68"/>
<circle cx="49.3" cy="513.1" r="1.8" fill="#b46a9a" opacity="0.68"/>
<circle cx="45.1" cy="509.7" r="1.8" fill="#4a2e62" opacity="0.68"/>
<circle cx="51.2" cy="514.5" r="1.3" fill="#4a2e62" opacity="0.68"/>
<circle cx="45.1" cy="520.2" r="1.3" fill="#7a4278" opacity="0.68"/>
<circle cx="42.6" cy="517.3" r="1.8" fill="#8e4676" opacity="0.68"/>
<circle cx="49.5" cy="508.7" r="1.4" fill="#4a2e62" opacity="0.68"/>
<circle cx="46.8" cy="516.1" r="2.0" fill="#b46a9a" opacity="0.68"/>
<circle cx="42.7" cy="518.1" r="2.3" fill="#8e4676" opacity="0.68"/>
<circle cx="45.8" cy="514.2" r="1.6" fill="#8e4676" opacity="0.68"/>
<circle cx="38.3" cy="516.3" r="1.0" fill="#8e4676" opacity="0.68"/>
<circle cx="51.6" cy="510.9" r="1.6" fill="#4a2e62" opacity="0.68"/>
<circle cx="43.1" cy="519.8" r="1.7" fill="#7a4278" opacity="0.68"/>
<circle cx="48.7" cy="509.4" r="1.2" fill="#8e4676" opacity="0.68"/>
<circle cx="46.1" cy="510.9" r="2.0" fill="#7a4278" opacity="0.68"/>
<circle cx="43.1" cy="515.9" r="2.1" fill="#7a4278" opacity="0.68"/>
<circle cx="45.9" cy="513.3" r="2.1" fill="#d6a8c8" opacity="0.68"/>
<circle cx="41.6" cy="515.9" r="2.1" fill="#8e4676" opacity="0.68"/>
<circle cx="41.1" cy="507.3" r="2.4" fill="#4a5092" opacity="0.68"/>
<circle cx="41.7" cy="512.6" r="1.8" fill="#7a4278" opacity="0.68"/>
<circle cx="43.3" cy="505.9" r="1.3" fill="#8e4676" opacity="0.68"/>
<circle cx="41.2" cy="516.4" r="1.3" fill="#4a2e62" opacity="0.68"/>
<circle cx="45.6" cy="510.0" r="2.0" fill="#7a4278" opacity="0.68"/>
<circle cx="40.3" cy="516.1" r="2.2" fill="#d6a8c8" opacity="0.68"/>
<circle cx="44.6" cy="516.5" r="1.8" fill="#4a5092" opacity="0.68"/>
<circle cx="40.5" cy="518.7" r="2.1" fill="#b46a9a" opacity="0.68"/>
<circle cx="44.3" cy="520.2" r="1.0" fill="#7a4278" opacity="0.68"/>
<circle cx="46.6" cy="514.0" r="1.5" fill="#8e4676" opacity="0.68"/>
<circle cx="38.6" cy="513.3" r="1.0" fill="#7a4278" opacity="0.68"/>
<circle cx="47.1" cy="520.6" r="1.5" fill="#4a2e62" opacity="0.68"/>
<circle cx="43.4" cy="520.7" r="1.5" fill="#8e4676" opacity="0.68"/>
<circle cx="39.0" cy="512.8" r="1.8" fill="#b46a9a" opacity="0.68"/>
<circle cx="57.1" cy="497.8" r="1.0" fill="#d6a8c8" opacity="0.68"/>
<circle cx="59.9" cy="500.7" r="2.1" fill="#4a2e62" opacity="0.68"/>
<circle cx="59.2" cy="496.6" r="2.1" fill="#7a4278" opacity="0.68"/>
<circle cx="58.8" cy="498.2" r="1.0" fill="#8e4676" opacity="0.68"/>
<circle cx="61.9" cy="504.1" r="1.1" fill="#7a4278" opacity="0.68"/>
<circle cx="57.1" cy="500.0" r="1.0" fill="#b46a9a" opacity="0.68"/>
<circle cx="60.0" cy="504.2" r="1.2" fill="#4a2e62" opacity="0.68"/>
<circle cx="62.5" cy="500.0" r="1.0" fill="#d6a8c8" opacity="0.68"/>
<circle cx="56.9" cy="498.4" r="1.3" fill="#8e4676" opacity="0.68"/>
<circle cx="59.7" cy="498.6" r="1.3" fill="#4a5092" opacity="0.68"/>
<circle cx="63.1" cy="496.7" r="1.5" fill="#8e4676" opacity="0.68"/>
<circle cx="61.7" cy="495.3" r="1.7" fill="#4a2e62" opacity="0.68"/>
<circle cx="61.2" cy="501.4" r="1.0" fill="#8e4676" opacity="0.68"/>
<circle cx="59.4" cy="499.0" r="2.0" fill="#b46a9a" opacity="0.68"/>
<circle cx="62.8" cy="498.9" r="1.5" fill="#4a2e62" opacity="0.68"/>
<circle cx="59.5" cy="495.7" r="1.4" fill="#7a4278" opacity="0.68"/>
<circle cx="62.3" cy="500.8" r="2.3" fill="#8e4676" opacity="0.68"/>
<circle cx="61.5" cy="499.8" r="2.2" fill="#4a2e62" opacity="0.68"/>
<circle cx="58.1" cy="499.9" r="2.2" fill="#8e4676" opacity="0.68"/>
<circle cx="62.2" cy="502.9" r="1.2" fill="#7a4278" opacity="0.68"/>
<circle cx="58.5" cy="499.5" r="1.4" fill="#8e4676" opacity="0.68"/>
<circle cx="61.8" cy="503.6" r="1.0" fill="#4a2e62" opacity="0.68"/>
<circle cx="62.2" cy="500.0" r="1.6" fill="#7a4278" opacity="0.68"/>
<circle cx="64.1" cy="500.1" r="1.0" fill="#7a4278" opacity="0.68"/>
<circle cx="63.3" cy="499.2" r="2.2" fill="#d6a8c8" opacity="0.68"/>
<circle cx="71.9" cy="505.0" r="1.0" fill="#b46a9a" opacity="0.68"/>
<circle cx="77.5" cy="506.4" r="2.0" fill="#4a2e62" opacity="0.68"/>
<circle cx="66.8" cy="505.0" r="2.4" fill="#b46a9a" opacity="0.68"/>
<circle cx="66.5" cy="506.9" r="1.8" fill="#8e4676" opacity="0.68"/>
<circle cx="68.1" cy="505.8" r="1.2" fill="#b46a9a" opacity="0.68"/>
<circle cx="67.5" cy="507.8" r="1.2" fill="#4a2e62" opacity="0.68"/>
<circle cx="76.2" cy="509.3" r="2.2" fill="#8e4676" opacity="0.68"/>
<circle cx="70.7" cy="501.5" r="2.2" fill="#7a4278" opacity="0.68"/>
<circle cx="67.1" cy="506.8" r="2.0" fill="#7a4278" opacity="0.68"/>
<circle cx="75.5" cy="510.7" r="1.7" fill="#8e4676" opacity="0.68"/>
<circle cx="70.4" cy="503.6" r="1.0" fill="#4a5092" opacity="0.68"/>
<circle cx="71.4" cy="509.2" r="1.5" fill="#7a4278" opacity="0.68"/>
<circle cx="72.9" cy="506.4" r="2.4" fill="#4a2e62" opacity="0.68"/>
<circle cx="71.4" cy="502.1" r="1.1" fill="#7a4278" opacity="0.68"/>
<circle cx="67.8" cy="508.4" r="1.6" fill="#8e4676" opacity="0.68"/>
<circle cx="75.2" cy="501.7" r="1.4" fill="#8e4676" opacity="0.68"/>
<circle cx="69.6" cy="506.5" r="1.0" fill="#b46a9a" opacity="0.68"/>
<circle cx="69.6" cy="506.5" r="1.2" fill="#4a5092" opacity="0.68"/>
<circle cx="75.9" cy="506.0" r="1.7" fill="#4a5092" opacity="0.68"/>
<circle cx="75.0" cy="509.0" r="1.0" fill="#4a2e62" opacity="0.68"/>
<circle cx="67.9" cy="508.6" r="2.0" fill="#4a2e62" opacity="0.68"/>
<circle cx="72.2" cy="505.3" r="1.3" fill="#7a4278" opacity="0.68"/>
<circle cx="68.5" cy="503.7" r="1.0" fill="#b46a9a" opacity="0.68"/>
<circle cx="71.4" cy="508.3" r="1.9" fill="#8e4676" opacity="0.68"/>
<circle cx="70.1" cy="511.3" r="0.9" fill="#7a4278" opacity="0.68"/>
<circle cx="68.6" cy="509.5" r="1.7" fill="#d6a8c8" opacity="0.68"/>
<circle cx="75.0" cy="509.5" r="2.1" fill="#7a4278" opacity="0.68"/>
<circle cx="71.2" cy="507.7" r="2.1" fill="#7a4278" opacity="0.68"/>
<circle cx="74.1" cy="504.6" r="2.2" fill="#d6a8c8" opacity="0.68"/>
<circle cx="71.4" cy="507.2" r="1.6" fill="#7a4278" opacity="0.68"/>
<circle cx="72.7" cy="508.5" r="2.2" fill="#4a2e62" opacity="0.68"/>
<circle cx="77.6" cy="507.3" r="2.0" fill="#4a5092" opacity="0.68"/>
<circle cx="66.2" cy="505.6" r="1.3" fill="#7a4278" opacity="0.68"/>
<circle cx="67.7" cy="505.8" r="1.4" fill="#4a2e62" opacity="0.68"/>
<circle cx="75.6" cy="508.3" r="2.2" fill="#8e4676" opacity="0.68"/>
<circle cx="66.9" cy="509.0" r="1.4" fill="#d6a8c8" opacity="0.68"/>
<circle cx="76.1" cy="509.7" r="1.9" fill="#d6a8c8" opacity="0.68"/>
<circle cx="76.0" cy="505.1" r="1.0" fill="#4a5092" opacity="0.68"/>
<circle cx="68.1" cy="510.2" r="1.1" fill="#7a4278" opacity="0.68"/>
<circle cx="76.1" cy="506.9" r="1.7" fill="#b46a9a" opacity="0.68"/>
<circle cx="75.6" cy="502.6" r="1.8" fill="#b46a9a" opacity="0.68"/>
<circle cx="70.4" cy="505.9" r="1.9" fill="#7a4278" opacity="0.68"/>
<circle cx="72.9" cy="509.8" r="1.8" fill="#b46a9a" opacity="0.68"/>
<circle cx="72.1" cy="509.1" r="1.9" fill="#7a4278" opacity="0.68"/>
<circle cx="71.6" cy="503.9" r="1.1" fill="#4a2e62" opacity="0.68"/>
<circle cx="69.5" cy="503.9" r="1.3" fill="#8e4676" opacity="0.68"/>
<circle cx="53.6" cy="513.6" r="2.0" fill="#d6a8c8" opacity="0.68"/>
<circle cx="64.3" cy="515.8" r="1.4" fill="#7a4278" opacity="0.68"/>
<circle cx="57.7" cy="513.9" r="1.1" fill="#b46a9a" opacity="0.68"/>
<circle cx="54.6" cy="514.5" r="1.0" fill="#d6a8c8" opacity="0.68"/>
<circle cx="53.0" cy="522.7" r="1.6" fill="#4a2e62" opacity="0.68"/>
<circle cx="56.6" cy="519.9" r="2.2" fill="#4a2e62" opacity="0.68"/>
<circle cx="58.5" cy="514.1" r="2.1" fill="#b46a9a" opacity="0.68"/>
<circle cx="58.6" cy="516.4" r="2.3" fill="#7a4278" opacity="0.68"/>
<circle cx="56.5" cy="524.1" r="2.2" fill="#b46a9a" opacity="0.68"/>
<circle cx="65.7" cy="521.2" r="1.3" fill="#8e4676" opacity="0.68"/>
<circle cx="57.8" cy="517.5" r="1.5" fill="#8e4676" opacity="0.68"/>
<circle cx="57.5" cy="511.8" r="2.2" fill="#7a4278" opacity="0.68"/>
<circle cx="60.8" cy="519.7" r="1.3" fill="#4a5092" opacity="0.68"/>
<circle cx="55.7" cy="515.6" r="2.0" fill="#b46a9a" opacity="0.68"/>
<circle cx="63.5" cy="517.0" r="1.8" fill="#4a2e62" opacity="0.68"/>
<circle cx="53.0" cy="512.5" r="1.6" fill="#b46a9a" opacity="0.68"/>
<circle cx="55.7" cy="523.7" r="1.0" fill="#b46a9a" opacity="0.68"/>
<circle cx="56.9" cy="520.7" r="1.5" fill="#4a5092" opacity="0.68"/>
<circle cx="61.6" cy="522.3" r="1.4" fill="#b46a9a" opacity="0.68"/>
<circle cx="59.5" cy="516.1" r="2.0" fill="#7a4278" opacity="0.68"/>
<circle cx="50.8" cy="515.7" r="1.7" fill="#d6a8c8" opacity="0.68"/>
<circle cx="61.0" cy="512.9" r="1.7" fill="#4a5092" opacity="0.68"/>
<circle cx="63.3" cy="517.8" r="1.6" fill="#4a5092" opacity="0.68"/>
<circle cx="56.6" cy="516.7" r="1.0" fill="#b46a9a" opacity="0.68"/>
<circle cx="53.6" cy="521.2" r="1.8" fill="#b46a9a" opacity="0.68"/>
<circle cx="56.9" cy="517.3" r="2.0" fill="#4a2e62" opacity="0.68"/>
<circle cx="50.9" cy="521.2" r="1.8" fill="#b46a9a" opacity="0.68"/>
<circle cx="54.0" cy="511.8" r="1.1" fill="#7a4278" opacity="0.68"/>
<circle cx="61.5" cy="519.7" r="2.4" fill="#7a4278" opacity="0.68"/>
<circle cx="61.6" cy="521.9" r="1.6" fill="#8e4676" opacity="0.68"/>
<circle cx="58.1" cy="521.8" r="1.4" fill="#4a2e62" opacity="0.68"/>
<circle cx="52.3" cy="518.8" r="2.2" fill="#7a4278" opacity="0.68"/>
<circle cx="64.6" cy="517.0" r="2.3" fill="#7a4278" opacity="0.68"/>
<circle cx="54.4" cy="521.3" r="2.3" fill="#4a2e62" opacity="0.68"/>
<circle cx="56.2" cy="514.4" r="1.5" fill="#4a2e62" opacity="0.68"/>
<circle cx="52.6" cy="521.9" r="1.0" fill="#d6a8c8" opacity="0.68"/>
<circle cx="62.8" cy="512.7" r="2.4" fill="#7a4278" opacity="0.68"/>
<circle cx="63.4" cy="513.8" r="1.6" fill="#7a4278" opacity="0.68"/>
<circle cx="58.3" cy="512.8" r="2.0" fill="#7a4278" opacity="0.68"/>
<circle cx="54.4" cy="519.8" r="1.1" fill="#4a2e62" opacity="0.68"/>
<circle cx="57.3" cy="518.7" r="1.1" fill="#d6a8c8" opacity="0.68"/>
<circle cx="55.4" cy="521.3" r="1.4" fill="#4a5092" opacity="0.68"/>
<circle cx="61.0" cy="516.0" r="1.5" fill="#d6a8c8" opacity="0.68"/>
<circle cx="63.2" cy="517.6" r="2.2" fill="#7a4278" opacity="0.68"/>
<circle cx="62.2" cy="523.1" r="1.2" fill="#8e4676" opacity="0.68"/>
<circle cx="55.2" cy="522.8" r="2.2" fill="#8e4676" opacity="0.68"/>
<circle cx="51.2" cy="518.4" r="1.1" fill="#8e4676" opacity="0.68"/>
<circle cx="65.6" cy="515.3" r="1.8" fill="#4a2e62" opacity="0.68"/>
<circle cx="57.2" cy="512.4" r="1.0" fill="#7a4278" opacity="0.68"/>
<circle cx="58.5" cy="520.2" r="2.0" fill="#4a5092" opacity="0.68"/>
<circle cx="50.4" cy="514.9" r="1.6" fill="#4a5092" opacity="0.68"/>
<circle cx="64.1" cy="522.9" r="2.4" fill="#b46a9a" opacity="0.68"/>
<circle cx="60.4" cy="517.2" r="1.6" fill="#b46a9a" opacity="0.68"/>
<circle cx="58.1" cy="516.5" r="1.8" fill="#b46a9a" opacity="0.68"/>
<circle cx="55.8" cy="519.8" r="1.0" fill="#b46a9a" opacity="0.68"/>
<circle cx="57.2" cy="519.0" r="1.3" fill="#4a2e62" opacity="0.68"/>
<circle cx="52.5" cy="514.1" r="1.5" fill="#8e4676" opacity="0.68"/>
<circle cx="58.2" cy="512.3" r="2.1" fill="#4a5092" opacity="0.68"/>
<circle cx="64.1" cy="517.1" r="1.8" fill="#d6a8c8" opacity="0.68"/>
<circle cx="53.3" cy="521.2" r="1.4" fill="#b46a9a" opacity="0.68"/>
<circle cx="62.9" cy="516.0" r="2.2" fill="#b46a9a" opacity="0.68"/>
<circle cx="61.5" cy="513.0" r="2.0" fill="#8e4676" opacity="0.68"/>
<circle cx="52.9" cy="515.6" r="1.1" fill="#d6a8c8" opacity="0.68"/>
<circle cx="61.5" cy="520.8" r="2.4" fill="#4a2e62" opacity="0.68"/>
<circle cx="49.7" cy="516.7" r="1.2" fill="#b46a9a" opacity="0.68"/>
<circle cx="64.0" cy="513.4" r="2.0" fill="#7a4278" opacity="0.68"/>
<circle cx="54.5" cy="516.8" r="2.0" fill="#4a2e62" opacity="0.68"/>
<circle cx="60.7" cy="523.0" r="1.7" fill="#4a5092" opacity="0.68"/>
<circle cx="61.4" cy="523.8" r="1.9" fill="#b46a9a" opacity="0.68"/>
<circle cx="54.5" cy="515.2" r="1.5" fill="#8e4676" opacity="0.68"/>
<circle cx="63.4" cy="515.8" r="1.6" fill="#7a4278" opacity="0.68"/>
<circle cx="51.1" cy="522.2" r="2.2" fill="#4a2e62" opacity="0.68"/>
<circle cx="73.3" cy="524.5" r="2.0" fill="#4a2e62" opacity="0.68"/>
<circle cx="65.3" cy="520.5" r="2.2" fill="#4a2e62" opacity="0.68"/>
<circle cx="71.6" cy="531.8" r="1.9" fill="#4a2e62" opacity="0.68"/>
<circle cx="72.4" cy="518.6" r="1.3" fill="#7a4278" opacity="0.68"/>
<circle cx="70.1" cy="526.8" r="1.9" fill="#4a5092" opacity="0.68"/>
<circle cx="63.3" cy="529.7" r="2.1" fill="#d6a8c8" opacity="0.68"/>
<circle cx="71.4" cy="519.2" r="1.0" fill="#8e4676" opacity="0.68"/>
<circle cx="72.3" cy="524.3" r="2.0" fill="#4a2e62" opacity="0.68"/>
<circle cx="75.5" cy="525.1" r="2.2" fill="#b46a9a" opacity="0.68"/>
<circle cx="65.9" cy="522.3" r="1.7" fill="#7a4278" opacity="0.68"/>
<circle cx="72.8" cy="516.3" r="1.2" fill="#b46a9a" opacity="0.68"/>
<circle cx="71.8" cy="524.9" r="1.7" fill="#4a2e62" opacity="0.68"/>
<circle cx="74.2" cy="529.7" r="2.1" fill="#4a2e62" opacity="0.68"/>
<circle cx="62.3" cy="522.5" r="1.8" fill="#4a2e62" opacity="0.68"/>
<circle cx="70.9" cy="523.2" r="1.8" fill="#d6a8c8" opacity="0.68"/>
<circle cx="74.8" cy="523.9" r="1.9" fill="#4a5092" opacity="0.68"/>
<circle cx="64.1" cy="520.1" r="1.1" fill="#8e4676" opacity="0.68"/>
<circle cx="68.8" cy="518.1" r="2.3" fill="#d6a8c8" opacity="0.68"/>
<circle cx="64.9" cy="525.8" r="2.3" fill="#d6a8c8" opacity="0.68"/>
<circle cx="71.2" cy="515.5" r="1.6" fill="#d6a8c8" opacity="0.68"/>
<circle cx="68.6" cy="525.7" r="1.2" fill="#4a5092" opacity="0.68"/>
<circle cx="68.9" cy="517.0" r="1.9" fill="#d6a8c8" opacity="0.68"/>
<circle cx="70.0" cy="529.5" r="1.7" fill="#4a5092" opacity="0.68"/>
<circle cx="76.7" cy="521.4" r="1.3" fill="#4a2e62" opacity="0.68"/>
<circle cx="67.7" cy="522.8" r="2.2" fill="#4a5092" opacity="0.68"/>
<circle cx="75.9" cy="520.7" r="1.4" fill="#b46a9a" opacity="0.68"/>
<circle cx="64.8" cy="520.8" r="2.3" fill="#b46a9a" opacity="0.68"/>
<circle cx="70.1" cy="520.7" r="1.9" fill="#7a4278" opacity="0.68"/>
<circle cx="76.9" cy="522.9" r="1.3" fill="#8e4676" opacity="0.68"/>
<circle cx="70.4" cy="532.9" r="1.6" fill="#8e4676" opacity="0.68"/>
<circle cx="72.9" cy="517.4" r="1.8" fill="#8e4676" opacity="0.68"/>
<circle cx="66.4" cy="516.0" r="2.0" fill="#4a5092" opacity="0.68"/>
<circle cx="71.8" cy="523.6" r="1.4" fill="#4a2e62" opacity="0.68"/>
<circle cx="64.6" cy="521.3" r="1.2" fill="#d6a8c8" opacity="0.68"/>
<circle cx="69.1" cy="526.3" r="1.8" fill="#7a4278" opacity="0.68"/>
<circle cx="78.3" cy="526.8" r="1.0" fill="#8e4676" opacity="0.68"/>
<circle cx="70.8" cy="520.9" r="1.2" fill="#4a5092" opacity="0.68"/>
<circle cx="73.1" cy="529.8" r="1.0" fill="#8e4676" opacity="0.68"/>
<circle cx="71.6" cy="530.1" r="1.4" fill="#d6a8c8" opacity="0.68"/>
<circle cx="74.5" cy="519.2" r="2.0" fill="#4a5092" opacity="0.68"/>
<circle cx="72.2" cy="530.2" r="1.7" fill="#7a4278" opacity="0.68"/>
<circle cx="72.4" cy="523.9" r="1.8" fill="#7a4278" opacity="0.68"/>
<circle cx="76.1" cy="521.2" r="1.4" fill="#d6a8c8" opacity="0.68"/>
<circle cx="74.1" cy="523.8" r="1.4" fill="#8e4676" opacity="0.68"/>
<circle cx="70.9" cy="522.5" r="2.3" fill="#4a2e62" opacity="0.68"/>
<circle cx="70.9" cy="517.8" r="2.3" fill="#4a2e62" opacity="0.68"/>
<circle cx="71.3" cy="527.7" r="1.9" fill="#7a4278" opacity="0.68"/>
<circle cx="72.8" cy="522.3" r="2.0" fill="#8e4676" opacity="0.68"/>
<circle cx="71.9" cy="530.2" r="1.0" fill="#b46a9a" opacity="0.68"/>
<circle cx="73.1" cy="522.9" r="2.0" fill="#7a4278" opacity="0.68"/>
<circle cx="62.0" cy="524.0" r="1.0" fill="#b46a9a" opacity="0.68"/>
<circle cx="61.5" cy="526.7" r="1.2" fill="#4a2e62" opacity="0.68"/>
<circle cx="72.0" cy="522.3" r="2.4" fill="#4a2e62" opacity="0.68"/>
<circle cx="72.1" cy="521.5" r="1.6" fill="#7a4278" opacity="0.68"/>
<circle cx="66.8" cy="516.6" r="1.5" fill="#7a4278" opacity="0.68"/>
<circle cx="65.3" cy="525.5" r="1.7" fill="#b46a9a" opacity="0.68"/>
<circle cx="63.2" cy="528.0" r="1.8" fill="#4a2e62" opacity="0.68"/>
<circle cx="71.0" cy="518.9" r="0.9" fill="#7a4278" opacity="0.68"/>
<circle cx="72.0" cy="516.1" r="0.9" fill="#8e4676" opacity="0.68"/>
<circle cx="69.6" cy="532.8" r="1.5" fill="#b46a9a" opacity="0.68"/>
<circle cx="78.7" cy="522.4" r="2.0" fill="#4a2e62" opacity="0.68"/>
<circle cx="73.4" cy="516.4" r="2.0" fill="#d6a8c8" opacity="0.68"/>
<circle cx="74.5" cy="526.1" r="1.9" fill="#7a4278" opacity="0.68"/>
<circle cx="61.5" cy="521.5" r="1.1" fill="#4a2e62" opacity="0.68"/>
<circle cx="73.9" cy="524.8" r="1.8" fill="#d6a8c8" opacity="0.68"/>
<circle cx="70.1" cy="530.8" r="1.4" fill="#b46a9a" opacity="0.68"/>
<circle cx="77.5" cy="524.9" r="1.0" fill="#b46a9a" opacity="0.68"/>
<circle cx="66.6" cy="524.0" r="2.0" fill="#4a2e62" opacity="0.68"/>
<circle cx="65.9" cy="520.9" r="1.3" fill="#8e4676" opacity="0.68"/>
<circle cx="67.2" cy="520.0" r="1.8" fill="#b46a9a" opacity="0.68"/>
<circle cx="63.4" cy="519.1" r="2.4" fill="#8e4676" opacity="0.68"/>
<circle cx="71.3" cy="532.8" r="1.1" fill="#b46a9a" opacity="0.68"/>
<circle cx="85.4" cy="531.0" r="1.9" fill="#4a5092" opacity="0.68"/>
<circle cx="86.5" cy="528.6" r="2.2" fill="#d6a8c8" opacity="0.68"/>
<circle cx="86.4" cy="528.1" r="1.1" fill="#8e4676" opacity="0.68"/>
<circle cx="80.0" cy="529.8" r="1.3" fill="#b46a9a" opacity="0.68"/>
<circle cx="85.4" cy="530.0" r="1.2" fill="#4a5092" opacity="0.68"/>
<circle cx="87.1" cy="529.2" r="1.2" fill="#d6a8c8" opacity="0.68"/>
<circle cx="80.6" cy="534.3" r="1.1" fill="#8e4676" opacity="0.68"/>
<circle cx="81.8" cy="531.2" r="2.2" fill="#8e4676" opacity="0.68"/>
<circle cx="87.2" cy="529.7" r="1.5" fill="#4a2e62" opacity="0.68"/>
<circle cx="81.2" cy="528.8" r="1.6" fill="#d6a8c8" opacity="0.68"/>
<circle cx="78.2" cy="532.0" r="1.4" fill="#4a2e62" opacity="0.68"/>
<circle cx="87.3" cy="532.8" r="1.6" fill="#4a5092" opacity="0.68"/>
<circle cx="86.7" cy="528.6" r="1.1" fill="#7a4278" opacity="0.68"/>
<circle cx="86.6" cy="528.3" r="2.0" fill="#b46a9a" opacity="0.68"/>
<circle cx="86.5" cy="531.3" r="1.1" fill="#7a4278" opacity="0.68"/>
<circle cx="86.4" cy="532.0" r="1.5" fill="#b46a9a" opacity="0.68"/>
<circle cx="82.7" cy="529.9" r="1.2" fill="#4a2e62" opacity="0.68"/>
<circle cx="78.6" cy="530.8" r="2.3" fill="#7a4278" opacity="0.68"/>
<circle cx="81.7" cy="532.4" r="2.1" fill="#4a2e62" opacity="0.68"/>
<circle cx="86.3" cy="531.1" r="1.7" fill="#4a2e62" opacity="0.68"/>
<circle cx="81.8" cy="531.8" r="2.3" fill="#7a4278" opacity="0.68"/>
<circle cx="78.6" cy="529.5" r="1.8" fill="#d6a8c8" opacity="0.68"/>
<circle cx="85.8" cy="529.7" r="2.1" fill="#4a2e62" opacity="0.68"/>
<circle cx="81.8" cy="532.8" r="1.5" fill="#4a5092" opacity="0.68"/>
<circle cx="87.6" cy="530.0" r="2.2" fill="#8e4676" opacity="0.68"/>
<circle cx="50.5" cy="536.8" r="1.8" fill="#4a2e62" opacity="0.68"/>
<circle cx="51.4" cy="535.2" r="1.0" fill="#4a2e62" opacity="0.68"/>
<circle cx="50.5" cy="536.1" r="1.6" fill="#4a2e62" opacity="0.68"/>
<circle cx="47.9" cy="534.1" r="1.5" fill="#4a2e62" opacity="0.68"/>
<circle cx="50.8" cy="534.7" r="1.1" fill="#4a5092" opacity="0.68"/>
<circle cx="53.3" cy="535.3" r="1.6" fill="#b46a9a" opacity="0.68"/>
<circle cx="51.6" cy="531.8" r="1.6" fill="#b46a9a" opacity="0.68"/>
<circle cx="53.4" cy="535.0" r="1.1" fill="#8e4676" opacity="0.68"/>
<circle cx="49.1" cy="535.6" r="1.4" fill="#d6a8c8" opacity="0.68"/>
<circle cx="52.3" cy="537.6" r="1.1" fill="#4a2e62" opacity="0.68"/>
<circle cx="51.6" cy="535.5" r="1.3" fill="#4a5092" opacity="0.68"/>
<circle cx="49.2" cy="532.0" r="1.0" fill="#7a4278" opacity="0.68"/>
<circle cx="50.7" cy="532.2" r="1.1" fill="#8e4676" opacity="0.68"/>
<circle cx="50.0" cy="533.2" r="1.5" fill="#7a4278" opacity="0.68"/>
<circle cx="96.2" cy="492.4" r="1.3" fill="#8e4676" opacity="0.68"/>
<circle cx="90.6" cy="500.1" r="2.2" fill="#7a4278" opacity="0.68"/>
<circle cx="97.5" cy="504.4" r="1.6" fill="#d6a8c8" opacity="0.68"/>
<circle cx="88.2" cy="493.9" r="2.1" fill="#8e4676" opacity="0.68"/>
<circle cx="92.9" cy="496.9" r="1.9" fill="#8e4676" opacity="0.68"/>
<circle cx="92.3" cy="500.6" r="1.7" fill="#4a2e62" opacity="0.68"/>
<circle cx="90.1" cy="504.3" r="1.9" fill="#4a2e62" opacity="0.68"/>
<circle cx="93.7" cy="498.6" r="2.1" fill="#b46a9a" opacity="0.68"/>
<circle cx="97.0" cy="499.9" r="1.9" fill="#8e4676" opacity="0.68"/>
<circle cx="90.4" cy="502.5" r="1.7" fill="#7a4278" opacity="0.68"/>
<circle cx="95.3" cy="491.6" r="1.6" fill="#8e4676" opacity="0.68"/>
<circle cx="93.1" cy="503.8" r="1.4" fill="#7a4278" opacity="0.68"/>
<circle cx="97.0" cy="499.2" r="1.4" fill="#8e4676" opacity="0.68"/>
<circle cx="95.7" cy="493.7" r="2.4" fill="#8e4676" opacity="0.68"/>
<circle cx="96.0" cy="502.5" r="1.1" fill="#7a4278" opacity="0.68"/>
<circle cx="92.9" cy="498.4" r="2.3" fill="#b46a9a" opacity="0.68"/>
<circle cx="88.6" cy="502.5" r="2.0" fill="#7a4278" opacity="0.68"/>
<circle cx="93.7" cy="492.2" r="1.7" fill="#d6a8c8" opacity="0.68"/>
<circle cx="92.4" cy="498.3" r="1.4" fill="#8e4676" opacity="0.68"/>
<circle cx="91.5" cy="493.1" r="1.6" fill="#7a4278" opacity="0.68"/>
<circle cx="97.4" cy="496.0" r="1.7" fill="#7a4278" opacity="0.68"/>
<circle cx="93.8" cy="498.2" r="2.1" fill="#7a4278" opacity="0.68"/>
<circle cx="88.7" cy="494.7" r="1.7" fill="#4a2e62" opacity="0.68"/>
<circle cx="94.2" cy="501.5" r="2.2" fill="#b46a9a" opacity="0.68"/>
<circle cx="92.3" cy="498.7" r="2.0" fill="#7a4278" opacity="0.68"/>
<circle cx="91.2" cy="502.0" r="2.3" fill="#4a2e62" opacity="0.68"/>
<circle cx="90.8" cy="499.4" r="1.0" fill="#7a4278" opacity="0.68"/>
<circle cx="96.8" cy="497.0" r="1.0" fill="#4a5092" opacity="0.68"/>
<circle cx="92.1" cy="507.0" r="1.6" fill="#8e4676" opacity="0.68"/>
<circle cx="91.9" cy="507.7" r="1.3" fill="#4a2e62" opacity="0.68"/>
<circle cx="95.6" cy="503.9" r="1.7" fill="#8e4676" opacity="0.68"/>
<circle cx="94.5" cy="494.4" r="1.2" fill="#b46a9a" opacity="0.68"/>
<circle cx="89.8" cy="500.3" r="2.0" fill="#4a2e62" opacity="0.68"/>
<circle cx="93.9" cy="505.3" r="2.2" fill="#4a2e62" opacity="0.68"/>
<circle cx="93.5" cy="504.3" r="1.3" fill="#8e4676" opacity="0.68"/>
<circle cx="92.3" cy="490.1" r="1.7" fill="#4a2e62" opacity="0.68"/>
<circle cx="98.3" cy="500.1" r="1.8" fill="#4a2e62" opacity="0.68"/>
<circle cx="94.4" cy="506.1" r="2.4" fill="#4a5092" opacity="0.68"/>
<circle cx="97.3" cy="496.8" r="1.3" fill="#7a4278" opacity="0.68"/>
<circle cx="87.8" cy="496.9" r="2.2" fill="#d6a8c8" opacity="0.68"/>
<circle cx="93.7" cy="493.0" r="1.3" fill="#b46a9a" opacity="0.68"/>
<circle cx="89.6" cy="497.1" r="1.0" fill="#b46a9a" opacity="0.68"/>
<circle cx="97.1" cy="503.0" r="1.2" fill="#4a5092" opacity="0.68"/>
<circle cx="93.8" cy="498.8" r="2.2" fill="#d6a8c8" opacity="0.68"/>
<circle cx="98.6" cy="499.0" r="1.2" fill="#8e4676" opacity="0.68"/>
<circle cx="90.7" cy="491.0" r="1.3" fill="#7a4278" opacity="0.68"/>
<circle cx="100.6" cy="508.0" r="1.1" fill="#7a4278" opacity="0.68"/>
<circle cx="101.0" cy="507.5" r="2.4" fill="#7a4278" opacity="0.68"/>
<circle cx="100.6" cy="506.4" r="1.2" fill="#7a4278" opacity="0.68"/>
<circle cx="99.2" cy="508.0" r="1.4" fill="#7a4278" opacity="0.68"/>
<circle cx="100.0" cy="504.2" r="1.3" fill="#7a4278" opacity="0.68"/>
<circle cx="96.3" cy="504.9" r="1.1" fill="#7a4278" opacity="0.68"/>
<circle cx="96.1" cy="507.9" r="1.3" fill="#4a5092" opacity="0.68"/>
<circle cx="99.3" cy="507.4" r="1.0" fill="#8e4676" opacity="0.68"/>
<circle cx="99.1" cy="506.4" r="0.9" fill="#b46a9a" opacity="0.68"/>
<circle cx="97.2" cy="507.5" r="1.5" fill="#4a2e62" opacity="0.68"/>
<circle cx="99.2" cy="504.6" r="2.1" fill="#7a4278" opacity="0.68"/>
<circle cx="98.3" cy="507.1" r="2.3" fill="#7a4278" opacity="0.68"/>
<circle cx="96.4" cy="504.0" r="2.2" fill="#7a4278" opacity="0.68"/>
<circle cx="101.1" cy="506.9" r="1.6" fill="#8e4676" opacity="0.68"/>
<circle cx="105.3" cy="494.2" r="1.3" fill="#7a4278" opacity="0.68"/>
<circle cx="101.9" cy="489.2" r="1.3" fill="#7a4278" opacity="0.68"/>
<circle cx="101.2" cy="493.0" r="1.0" fill="#d6a8c8" opacity="0.68"/>
<circle cx="105.3" cy="489.2" r="1.6" fill="#4a2e62" opacity="0.68"/>
<circle cx="106.8" cy="492.0" r="1.3" fill="#8e4676" opacity="0.68"/>
<circle cx="107.0" cy="491.6" r="1.1" fill="#d6a8c8" opacity="0.68"/>
<circle cx="106.6" cy="490.7" r="2.0" fill="#4a2e62" opacity="0.68"/>
<circle cx="104.2" cy="488.9" r="1.2" fill="#b46a9a" opacity="0.68"/>
<circle cx="102.7" cy="490.2" r="2.1" fill="#4a2e62" opacity="0.68"/>
<circle cx="104.8" cy="488.3" r="2.1" fill="#d6a8c8" opacity="0.68"/>
<circle cx="101.7" cy="489.3" r="1.0" fill="#7a4278" opacity="0.68"/>
<circle cx="104.1" cy="494.1" r="1.2" fill="#d6a8c8" opacity="0.68"/>
<circle cx="107.1" cy="490.6" r="1.7" fill="#7a4278" opacity="0.68"/>
<circle cx="103.8" cy="494.0" r="1.5" fill="#4a2e62" opacity="0.68"/>
<circle cx="107.8" cy="488.4" r="1.8" fill="#8e4676" opacity="0.68"/>
<circle cx="110.8" cy="489.6" r="2.3" fill="#4a5092" opacity="0.68"/>
<circle cx="109.6" cy="488.8" r="1.8" fill="#8e4676" opacity="0.68"/>
<circle cx="108.2" cy="489.0" r="1.9" fill="#d6a8c8" opacity="0.68"/>
<circle cx="107.3" cy="487.2" r="1.5" fill="#7a4278" opacity="0.68"/>
<circle cx="110.3" cy="489.3" r="1.5" fill="#d6a8c8" opacity="0.68"/>
<circle cx="110.1" cy="486.9" r="2.1" fill="#b46a9a" opacity="0.68"/>
<circle cx="109.2" cy="489.7" r="1.0" fill="#7a4278" opacity="0.68"/>
<circle cx="109.4" cy="489.3" r="1.1" fill="#7a4278" opacity="0.68"/>
<circle cx="104.7" cy="494.6" r="1.8" fill="#d6a8c8" opacity="0.68"/>
<circle cx="108.0" cy="494.2" r="2.3" fill="#d6a8c8" opacity="0.68"/>
<circle cx="105.1" cy="495.8" r="2.3" fill="#7a4278" opacity="0.68"/>
<circle cx="106.2" cy="497.5" r="2.1" fill="#8e4676" opacity="0.68"/>
<circle cx="108.3" cy="495.5" r="2.1" fill="#7a4278" opacity="0.68"/>
<circle cx="108.4" cy="495.5" r="1.1" fill="#7a4278" opacity="0.68"/>
<circle cx="105.0" cy="495.3" r="1.4" fill="#7a4278" opacity="0.68"/>
<circle cx="107.8" cy="495.7" r="1.6" fill="#8e4676" opacity="0.68"/>
<circle cx="104.9" cy="494.5" r="1.8" fill="#4a5092" opacity="0.68"/>
<circle cx="39.0" cy="504.8" r="1.5" fill="#d6a8c8" opacity="0.68"/>
<circle cx="35.0" cy="503.9" r="2.1" fill="#7a4278" opacity="0.68"/>
<circle cx="37.5" cy="504.8" r="1.5" fill="#b46a9a" opacity="0.68"/>
<circle cx="37.6" cy="507.7" r="2.3" fill="#7a4278" opacity="0.68"/>
<circle cx="38.1" cy="502.9" r="2.0" fill="#7a4278" opacity="0.68"/>
<circle cx="36.8" cy="508.8" r="2.3" fill="#7a4278" opacity="0.68"/>
<circle cx="35.6" cy="508.8" r="1.2" fill="#7a4278" opacity="0.68"/>
<circle cx="37.1" cy="502.7" r="1.5" fill="#b46a9a" opacity="0.68"/>
<circle cx="35.1" cy="503.1" r="2.1" fill="#8e4676" opacity="0.68"/>
<circle cx="35.1" cy="506.9" r="1.3" fill="#d6a8c8" opacity="0.68"/>
<circle cx="35.6" cy="505.6" r="1.3" fill="#4a5092" opacity="0.68"/>
<circle cx="39.1" cy="503.4" r="2.1" fill="#4a2e62" opacity="0.68"/>
<circle cx="37.9" cy="502.4" r="1.2" fill="#8e4676" opacity="0.68"/>
<circle cx="36.0" cy="504.4" r="1.0" fill="#4a5092" opacity="0.68"/>
<circle cx="57.7" cy="528.5" r="1.6" fill="#4a5092" opacity="0.68"/>
<circle cx="52.4" cy="527.5" r="2.0" fill="#b46a9a" opacity="0.68"/>
<circle cx="57.2" cy="529.3" r="1.7" fill="#4a5092" opacity="0.68"/>
<circle cx="52.5" cy="528.9" r="1.2" fill="#7a4278" opacity="0.68"/>
<circle cx="54.0" cy="525.0" r="1.2" fill="#d6a8c8" opacity="0.68"/>
<circle cx="53.9" cy="524.8" r="2.0" fill="#4a5092" opacity="0.68"/>
<circle cx="55.0" cy="531.0" r="1.7" fill="#4a2e62" opacity="0.68"/>
<circle cx="51.8" cy="526.4" r="1.1" fill="#d6a8c8" opacity="0.68"/>
<circle cx="57.0" cy="525.6" r="1.6" fill="#8e4676" opacity="0.68"/>
<circle cx="54.0" cy="524.9" r="1.9" fill="#d6a8c8" opacity="0.68"/>
<circle cx="55.6" cy="530.1" r="1.7" fill="#7a4278" opacity="0.68"/>
<circle cx="55.6" cy="529.9" r="0.9" fill="#8e4676" opacity="0.68"/>
<circle cx="52.3" cy="528.8" r="1.5" fill="#4a2e62" opacity="0.68"/>
<circle cx="55.8" cy="528.2" r="1.6" fill="#b46a9a" opacity="0.68"/>
<circle cx="55.3" cy="529.8" r="1.1" fill="#7a4278" opacity="0.68"/>
<circle cx="51.2" cy="528.7" r="1.1" fill="#b46a9a" opacity="0.68"/>
<circle cx="53.7" cy="524.4" r="2.0" fill="#8e4676" opacity="0.68"/>
<circle cx="49.3" cy="525.8" r="1.0" fill="#7a4278" opacity="0.68"/>
<circle cx="50.5" cy="531.4" r="1.7" fill="#4a5092" opacity="0.68"/>
<circle cx="52.8" cy="531.0" r="1.8" fill="#8e4676" opacity="0.68"/>
<circle cx="55.9" cy="528.6" r="1.1" fill="#4a2e62" opacity="0.68"/>
<ellipse cx="41" cy="512" rx="5" ry="6" fill="#32408a" opacity="0.7"/>
<ellipse cx="56" cy="521" rx="4" ry="3.5" fill="#32408a" opacity="0.7"/>
<ellipse cx="72" cy="504" rx="3.5" ry="4" fill="#32408a" opacity="0.7"/>
<ellipse cx="70" cy="523" rx="3" ry="3.5" fill="#32408a" opacity="0.7"/>
<ellipse cx="61" cy="500" rx="2.5" ry="3" fill="#32408a" opacity="0.7"/>
<ellipse cx="66" cy="515" rx="2.5" ry="2.5" fill="#a8305a" opacity="0.6"/>
<ellipse cx="77" cy="526" rx="2.5" ry="2" fill="#a8305a" opacity="0.6"/>
<ellipse cx="48" cy="520" rx="2" ry="2" fill="#a8305a" opacity="0.6"/>
<ellipse cx="95" cy="497" rx="2" ry="2" fill="#a8305a" opacity="0.6"/>
<circle cx="37.4" cy="525.4" r="0.5" fill="#8a5a8a" opacity="0.6"/>
<circle cx="35.2" cy="502.1" r="0.5" fill="#8a5a8a" opacity="0.6"/>
<circle cx="89.6" cy="530.2" r="0.5" fill="#8a5a8a" opacity="0.6"/>
<circle cx="58.4" cy="490.2" r="0.5" fill="#8a5a8a" opacity="0.6"/>
<circle cx="117.8" cy="523.6" r="0.5" fill="#8a5a8a" opacity="0.6"/>
<circle cx="103.4" cy="523.8" r="0.5" fill="#8a5a8a" opacity="0.6"/>
<circle cx="97.9" cy="490.0" r="0.5" fill="#8a5a8a" opacity="0.6"/>
<circle cx="45.7" cy="535.7" r="0.5" fill="#8a5a8a" opacity="0.6"/>
<circle cx="61.1" cy="520.5" r="0.5" fill="#8a5a8a" opacity="0.6"/>
<circle cx="98.7" cy="515.0" r="0.5" fill="#8a5a8a" opacity="0.6"/>
<circle cx="39.6" cy="518.3" r="0.5" fill="#8a5a8a" opacity="0.6"/>
<circle cx="76.8" cy="502.5" r="0.5" fill="#8a5a8a" opacity="0.6"/>
<circle cx="74.8" cy="518.1" r="0.5" fill="#8a5a8a" opacity="0.6"/>
<circle cx="37.5" cy="507.5" r="0.5" fill="#8a5a8a" opacity="0.6"/>
<circle cx="52.6" cy="514.1" r="0.5" fill="#8a5a8a" opacity="0.6"/>
<circle cx="50.1" cy="510.1" r="0.5" fill="#8a5a8a" opacity="0.6"/>
<circle cx="76.2" cy="495.0" r="0.5" fill="#8a5a8a" opacity="0.6"/>
<circle cx="56.2" cy="518.0" r="0.5" fill="#8a5a8a" opacity="0.6"/>
<circle cx="90.4" cy="537.7" r="0.5" fill="#8a5a8a" opacity="0.6"/>
<circle cx="91.1" cy="517.5" r="0.5" fill="#8a5a8a" opacity="0.6"/>
<circle cx="123.3" cy="540.7" r="0.5" fill="#8a5a8a" opacity="0.6"/>
<circle cx="81.4" cy="513.0" r="0.5" fill="#8a5a8a" opacity="0.6"/>
<circle cx="119.9" cy="506.1" r="0.5" fill="#8a5a8a" opacity="0.6"/>
<circle cx="108.8" cy="496.5" r="0.5" fill="#8a5a8a" opacity="0.6"/>
<circle cx="50.0" cy="502.2" r="0.5" fill="#8a5a8a" opacity="0.6"/>
</g></g>
<rect x="130.9" y="473" width="95.6" height="71.75" fill="#e8e6f6"/>
<g clip-path="url(#mc1)"><g filter="url(#bl)">
<ellipse cx="183" cy="486.8" rx="8.3" ry="10.3" fill="#c888c0" opacity="0.8"/>
<circle cx="178.4" cy="486.6" r="1.1" fill="#7a4278" opacity="0.75"/>
<circle cx="189.4" cy="490.7" r="1.9" fill="#8e4676" opacity="0.75"/>
<circle cx="179.3" cy="481.5" r="1.8" fill="#4a2e62" opacity="0.75"/>
<circle cx="176.6" cy="490.6" r="1.6" fill="#7a4278" opacity="0.75"/>
<circle cx="183.9" cy="479.7" r="1.9" fill="#8e4676" opacity="0.75"/>
<circle cx="179.5" cy="491.1" r="1.5" fill="#7a4278" opacity="0.75"/>
<circle cx="184.9" cy="486.0" r="2.0" fill="#d6a8c8" opacity="0.75"/>
<circle cx="183.5" cy="483.0" r="2.2" fill="#8e4676" opacity="0.75"/>
<circle cx="181.7" cy="489.9" r="1.3" fill="#7a4278" opacity="0.75"/>
<circle cx="182.9" cy="489.4" r="1.4" fill="#7a4278" opacity="0.75"/>
<circle cx="183.0" cy="477.3" r="2.1" fill="#7a4278" opacity="0.75"/>
<circle cx="188.9" cy="481.1" r="1.5" fill="#b46a9a" opacity="0.75"/>
<circle cx="183.7" cy="491.9" r="1.3" fill="#7a4278" opacity="0.75"/>
<circle cx="181.3" cy="488.0" r="1.5" fill="#7a4278" opacity="0.75"/>
<circle cx="189.8" cy="488.2" r="1.3" fill="#8e4676" opacity="0.75"/>
<circle cx="183.9" cy="477.5" r="1.3" fill="#8e4676" opacity="0.75"/>
<circle cx="178.1" cy="481.7" r="1.5" fill="#8e4676" opacity="0.75"/>
<circle cx="182.7" cy="492.8" r="2.0" fill="#7a4278" opacity="0.75"/>
<circle cx="180.4" cy="480.7" r="2.2" fill="#b46a9a" opacity="0.75"/>
<circle cx="190.0" cy="488.8" r="1.6" fill="#4a2e62" opacity="0.75"/>
<circle cx="179.0" cy="488.7" r="1.7" fill="#4a2e62" opacity="0.75"/>
<circle cx="181.6" cy="491.0" r="1.4" fill="#7a4278" opacity="0.75"/>
<circle cx="181.3" cy="486.5" r="2.1" fill="#7a4278" opacity="0.75"/>
<circle cx="185.3" cy="487.0" r="1.8" fill="#4a2e62" opacity="0.75"/>
<circle cx="180.2" cy="480.7" r="1.5" fill="#4a2e62" opacity="0.75"/>
<circle cx="189.2" cy="488.9" r="2.2" fill="#8e4676" opacity="0.75"/>
<circle cx="182.1" cy="493.1" r="1.9" fill="#7a4278" opacity="0.75"/>
<circle cx="182.5" cy="482.8" r="2.1" fill="#7a4278" opacity="0.75"/>
<circle cx="180.4" cy="484.5" r="1.5" fill="#4a2e62" opacity="0.75"/>
<circle cx="181.2" cy="478.5" r="1.1" fill="#8e4676" opacity="0.75"/>
<circle cx="188.3" cy="490.5" r="1.1" fill="#8e4676" opacity="0.75"/>
<circle cx="176.3" cy="485.9" r="2.0" fill="#8e4676" opacity="0.75"/>
<circle cx="178.2" cy="485.0" r="1.9" fill="#b46a9a" opacity="0.75"/>
<circle cx="183.1" cy="495.0" r="2.2" fill="#4a2e62" opacity="0.75"/>
<circle cx="182.8" cy="495.2" r="1.9" fill="#8e4676" opacity="0.75"/>
<circle cx="178.9" cy="479.6" r="1.4" fill="#7a4278" opacity="0.75"/>
<circle cx="188.3" cy="485.6" r="1.3" fill="#4a2e62" opacity="0.75"/>
<circle cx="182.7" cy="488.0" r="1.0" fill="#8e4676" opacity="0.75"/>
<circle cx="183.0" cy="484.9" r="1.5" fill="#7a4278" opacity="0.75"/>
<circle cx="184.4" cy="487.8" r="2.1" fill="#d6a8c8" opacity="0.75"/>
<circle cx="179.5" cy="480.1" r="1.0" fill="#7a4278" opacity="0.75"/>
<circle cx="183.0" cy="493.5" r="1.5" fill="#8e4676" opacity="0.75"/>
<circle cx="181.6" cy="488.7" r="1.5" fill="#7a4278" opacity="0.75"/>
<circle cx="182.4" cy="492.9" r="1.3" fill="#b46a9a" opacity="0.75"/>
<circle cx="188.3" cy="485.0" r="1.6" fill="#d6a8c8" opacity="0.75"/>
<circle cx="176.5" cy="482.3" r="1.9" fill="#4a2e62" opacity="0.75"/>
<circle cx="183.6" cy="482.3" r="1.4" fill="#4a2e62" opacity="0.75"/>
<circle cx="185.9" cy="490.5" r="2.0" fill="#4a2e62" opacity="0.75"/>
<circle cx="183.6" cy="486.7" r="1.8" fill="#b46a9a" opacity="0.75"/>
<circle cx="181.9" cy="495.3" r="1.1" fill="#4a2e62" opacity="0.75"/>
<circle cx="188.8" cy="489.4" r="1.7" fill="#d6a8c8" opacity="0.75"/>
<circle cx="186.4" cy="485.7" r="2.0" fill="#7a4278" opacity="0.75"/>
<circle cx="179.9" cy="493.5" r="1.5" fill="#b46a9a" opacity="0.75"/>
<circle cx="181.5" cy="479.2" r="2.1" fill="#d6a8c8" opacity="0.75"/>
<circle cx="181.9" cy="481.4" r="1.3" fill="#b46a9a" opacity="0.75"/>
<circle cx="188.6" cy="483.8" r="2.0" fill="#7a4278" opacity="0.75"/>
<circle cx="183.7" cy="477.5" r="1.6" fill="#d6a8c8" opacity="0.75"/>
<circle cx="184.8" cy="489.6" r="1.2" fill="#7a4278" opacity="0.75"/>
<circle cx="183.0" cy="486.7" r="1.8" fill="#4a2e62" opacity="0.75"/>
<circle cx="185.2" cy="493.8" r="1.7" fill="#b46a9a" opacity="0.75"/>
<circle cx="188.8" cy="487.8" r="1.0" fill="#7a4278" opacity="0.75"/>
<circle cx="187.6" cy="480.2" r="1.1" fill="#d6a8c8" opacity="0.75"/>
<circle cx="181.8" cy="490.7" r="1.2" fill="#4a2e62" opacity="0.75"/>
<circle cx="176.5" cy="484.7" r="2.0" fill="#d6a8c8" opacity="0.75"/>
<circle cx="178.5" cy="487.6" r="1.7" fill="#4a2e62" opacity="0.75"/>
<circle cx="181.0" cy="481.7" r="1.2" fill="#b46a9a" opacity="0.75"/>
<circle cx="189.3" cy="489.7" r="2.0" fill="#7a4278" opacity="0.75"/>
<circle cx="186.2" cy="485.3" r="1.7" fill="#7a4278" opacity="0.75"/>
<circle cx="182.5" cy="489.0" r="1.2" fill="#b46a9a" opacity="0.75"/>
<circle cx="179.9" cy="485.4" r="2.0" fill="#b46a9a" opacity="0.75"/>
<ellipse cx="146.5" cy="541.5" rx="5.5" ry="5" fill="#4a5092" opacity="0.95"/><ellipse cx="148" cy="538.5" rx="3" ry="3.2" fill="#1e2a86" opacity="0.9"/><ellipse cx="143" cy="543" rx="3" ry="2" fill="#2a3a9a" opacity="0.9"/>
</g></g>
<rect x="231.3" y="473" width="95.19999999999999" height="71.75" fill="#eae4f3"/>
<g clip-path="url(#mc2)"><g filter="url(#bl)">
<ellipse cx="271.5" cy="506" rx="9" ry="16" fill="#e0bede" opacity="0.5"/>
<circle cx="275.4" cy="503.0" r="1.9" fill="#8e4676" opacity="0.8"/>
<circle cx="269.7" cy="495.0" r="1.9" fill="#7a4278" opacity="0.8"/>
<circle cx="267.4" cy="502.5" r="2.0" fill="#7a4278" opacity="0.8"/>
<circle cx="270.9" cy="492.1" r="1.4" fill="#8e4676" opacity="0.8"/>
<circle cx="274.6" cy="496.9" r="2.1" fill="#7a4278" opacity="0.8"/>
<circle cx="275.1" cy="495.9" r="1.7" fill="#7a4278" opacity="0.8"/>
<circle cx="275.6" cy="493.2" r="2.1" fill="#7a4278" opacity="0.8"/>
<circle cx="271.9" cy="491.5" r="1.9" fill="#5a2a6a" opacity="0.8"/>
<circle cx="267.8" cy="499.2" r="1.3" fill="#8e4676" opacity="0.8"/>
<circle cx="269.9" cy="497.0" r="1.0" fill="#7a4278" opacity="0.8"/>
<circle cx="273.0" cy="498.8" r="1.2" fill="#7a4278" opacity="0.8"/>
<circle cx="274.8" cy="503.3" r="1.1" fill="#4a2e62" opacity="0.8"/>
<circle cx="273.9" cy="503.7" r="1.4" fill="#8e4676" opacity="0.8"/>
<circle cx="275.1" cy="498.4" r="1.4" fill="#4a2e62" opacity="0.8"/>
<circle cx="276.8" cy="496.6" r="1.8" fill="#8e4676" opacity="0.8"/>
<circle cx="274.7" cy="492.6" r="1.5" fill="#4a2e62" opacity="0.8"/>
<circle cx="270.8" cy="503.1" r="1.2" fill="#7a4278" opacity="0.8"/>
<circle cx="272.3" cy="495.7" r="2.2" fill="#7a4278" opacity="0.8"/>
<circle cx="270.2" cy="492.8" r="1.1" fill="#7a4278" opacity="0.8"/>
<circle cx="273.7" cy="499.1" r="1.1" fill="#7a4278" opacity="0.8"/>
<circle cx="276.5" cy="501.4" r="1.9" fill="#5a2a6a" opacity="0.8"/>
<circle cx="271.0" cy="494.1" r="1.5" fill="#4a2e62" opacity="0.8"/>
<circle cx="270.1" cy="495.0" r="1.2" fill="#7a4278" opacity="0.8"/>
<circle cx="267.8" cy="492.8" r="1.2" fill="#8e4676" opacity="0.8"/>
<circle cx="272.1" cy="503.4" r="1.5" fill="#4a2e62" opacity="0.8"/>
<circle cx="273.6" cy="498.0" r="1.8" fill="#7a4278" opacity="0.8"/>
<circle cx="271.0" cy="491.8" r="1.3" fill="#5a2a6a" opacity="0.8"/>
<circle cx="272.9" cy="495.3" r="1.3" fill="#7a4278" opacity="0.8"/>
<circle cx="270.8" cy="502.3" r="1.2" fill="#8e4676" opacity="0.8"/>
<circle cx="272.6" cy="503.3" r="2.3" fill="#4a2e62" opacity="0.8"/>
<circle cx="273.2" cy="498.5" r="1.2" fill="#4a2e62" opacity="0.8"/>
<circle cx="271.0" cy="493.3" r="1.8" fill="#4a2e62" opacity="0.8"/>
<circle cx="269.7" cy="493.6" r="1.9" fill="#7a4278" opacity="0.8"/>
<circle cx="273.9" cy="500.8" r="1.5" fill="#8e4676" opacity="0.8"/>
<circle cx="270.2" cy="492.1" r="1.8" fill="#8e4676" opacity="0.8"/>
<circle cx="269.7" cy="502.2" r="2.2" fill="#8e4676" opacity="0.8"/>
<circle cx="274.4" cy="493.4" r="1.0" fill="#8e4676" opacity="0.8"/>
<circle cx="266.7" cy="501.9" r="1.9" fill="#8e4676" opacity="0.8"/>
<circle cx="273.9" cy="495.2" r="1.9" fill="#7a4278" opacity="0.8"/>
<circle cx="268.2" cy="500.1" r="1.3" fill="#7a4278" opacity="0.8"/>
<circle cx="271.8" cy="491.2" r="1.8" fill="#7a4278" opacity="0.8"/>
<circle cx="270.7" cy="503.4" r="2.2" fill="#7a4278" opacity="0.8"/>
<circle cx="268.4" cy="502.3" r="1.9" fill="#4a2e62" opacity="0.8"/>
<circle cx="270.1" cy="494.4" r="1.0" fill="#7a4278" opacity="0.8"/>
<circle cx="270.8" cy="504.0" r="1.6" fill="#4a2e62" opacity="0.8"/>
<circle cx="278.9" cy="507.8" r="1.9" fill="#4a2e62" opacity="0.8"/>
<circle cx="276.9" cy="506.3" r="1.0" fill="#8e4676" opacity="0.8"/>
<circle cx="274.3" cy="508.0" r="2.2" fill="#5a2a6a" opacity="0.8"/>
<circle cx="276.3" cy="505.9" r="1.6" fill="#4a2e62" opacity="0.8"/>
<circle cx="275.5" cy="509.2" r="1.3" fill="#4a2e62" opacity="0.8"/>
<circle cx="278.0" cy="506.2" r="2.2" fill="#4a2e62" opacity="0.8"/>
<circle cx="278.0" cy="507.8" r="1.0" fill="#4a2e62" opacity="0.8"/>
<circle cx="279.6" cy="506.2" r="2.1" fill="#7a4278" opacity="0.8"/>
<circle cx="268.8" cy="518.1" r="2.2" fill="#4a2e62" opacity="0.8"/>
<circle cx="269.7" cy="522.2" r="1.3" fill="#4a2e62" opacity="0.8"/>
<circle cx="271.9" cy="516.9" r="1.8" fill="#7a4278" opacity="0.8"/>
<circle cx="273.6" cy="515.0" r="1.0" fill="#8e4676" opacity="0.8"/>
<circle cx="273.5" cy="519.1" r="2.3" fill="#8e4676" opacity="0.8"/>
<circle cx="269.6" cy="520.5" r="1.1" fill="#7a4278" opacity="0.8"/>
<circle cx="270.1" cy="512.3" r="1.7" fill="#7a4278" opacity="0.8"/>
<circle cx="272.5" cy="512.8" r="1.0" fill="#4a2e62" opacity="0.8"/>
<circle cx="271.1" cy="519.2" r="1.6" fill="#4a2e62" opacity="0.8"/>
<circle cx="269.9" cy="517.4" r="1.3" fill="#4a2e62" opacity="0.8"/>
<circle cx="272.6" cy="512.7" r="1.5" fill="#5a2a6a" opacity="0.8"/>
<circle cx="271.5" cy="514.5" r="1.5" fill="#4a2e62" opacity="0.8"/>
<circle cx="270.6" cy="519.6" r="1.6" fill="#5a2a6a" opacity="0.8"/>
<circle cx="270.7" cy="514.3" r="1.9" fill="#8e4676" opacity="0.8"/>
<circle cx="272.3" cy="515.2" r="2.1" fill="#5a2a6a" opacity="0.8"/>
<circle cx="272.1" cy="520.2" r="2.3" fill="#4a2e62" opacity="0.8"/>
<circle cx="270.5" cy="514.9" r="2.0" fill="#4a2e62" opacity="0.8"/>
<circle cx="273.4" cy="518.8" r="2.0" fill="#8e4676" opacity="0.8"/>
<circle cx="272.7" cy="521.8" r="1.9" fill="#4a2e62" opacity="0.8"/>
<circle cx="271.0" cy="518.1" r="1.7" fill="#7a4278" opacity="0.8"/>
<circle cx="273.0" cy="514.1" r="1.0" fill="#7a4278" opacity="0.8"/>
<circle cx="272.9" cy="516.6" r="2.0" fill="#5a2a6a" opacity="0.8"/>
<circle cx="263.8" cy="498.2" r="1.4" fill="#4a2e62" opacity="0.8"/>
<circle cx="265.9" cy="500.7" r="2.1" fill="#7a4278" opacity="0.8"/>
<circle cx="265.4" cy="500.7" r="1.7" fill="#5a2a6a" opacity="0.8"/>
<circle cx="262.8" cy="499.3" r="2.3" fill="#7a4278" opacity="0.8"/>
<circle cx="263.3" cy="498.2" r="1.3" fill="#5a2a6a" opacity="0.8"/>
<circle cx="268.2" cy="505.8" r="1.7" fill="#7a4278" opacity="0.8"/>
<circle cx="268.5" cy="507.9" r="1.5" fill="#8e4676" opacity="0.8"/>
<circle cx="265.5" cy="508.1" r="1.1" fill="#7a4278" opacity="0.8"/>
<circle cx="269.1" cy="509.5" r="1.6" fill="#8e4676" opacity="0.8"/>
<circle cx="268.4" cy="506.5" r="1.8" fill="#7a4278" opacity="0.8"/>
<circle cx="267.5" cy="506.0" r="1.6" fill="#7a4278" opacity="0.8"/>
<circle cx="267.4" cy="506.3" r="1.3" fill="#5a2a6a" opacity="0.8"/>
<circle cx="267.1" cy="506.3" r="1.3" fill="#7a4278" opacity="0.8"/>
<ellipse cx="270" cy="509.5" rx="3.8" ry="3.8" fill="#5a5ab4" opacity="0.8"/>
<circle cx="245.5" cy="517.2" r="0.6" fill="#6a4a8a" opacity="0.7"/>
<circle cx="311.0" cy="528.9" r="0.6" fill="#6a4a8a" opacity="0.7"/>
<circle cx="291.3" cy="488.5" r="0.6" fill="#6a4a8a" opacity="0.7"/>
<circle cx="289.3" cy="530.2" r="0.6" fill="#6a4a8a" opacity="0.7"/>
<circle cx="262.2" cy="512.6" r="0.6" fill="#6a4a8a" opacity="0.7"/>
<circle cx="274.0" cy="514.0" r="0.6" fill="#6a4a8a" opacity="0.7"/>
<circle cx="241.4" cy="515.3" r="0.6" fill="#6a4a8a" opacity="0.7"/>
<circle cx="257.7" cy="517.1" r="0.6" fill="#6a4a8a" opacity="0.7"/>
<circle cx="239.7" cy="503.4" r="0.6" fill="#6a4a8a" opacity="0.7"/>
<circle cx="242.8" cy="529.1" r="0.6" fill="#6a4a8a" opacity="0.7"/>
<circle cx="319.2" cy="526.8" r="0.6" fill="#6a4a8a" opacity="0.7"/>
<circle cx="269.0" cy="510.8" r="0.6" fill="#6a4a8a" opacity="0.7"/>
<circle cx="288.6" cy="497.9" r="0.6" fill="#6a4a8a" opacity="0.7"/>
<circle cx="235.0" cy="534.7" r="0.6" fill="#6a4a8a" opacity="0.7"/>
<circle cx="277.2" cy="526.9" r="0.6" fill="#6a4a8a" opacity="0.7"/>
<circle cx="274.9" cy="501.0" r="0.6" fill="#6a4a8a" opacity="0.7"/>
<circle cx="236.1" cy="520.3" r="0.6" fill="#6a4a8a" opacity="0.7"/>
<circle cx="281.9" cy="486.5" r="0.6" fill="#6a4a8a" opacity="0.7"/>
<circle cx="245.9" cy="539.5" r="0.6" fill="#6a4a8a" opacity="0.7"/>
<circle cx="298.8" cy="498.6" r="0.6" fill="#6a4a8a" opacity="0.7"/>
<circle cx="267.4" cy="523.8" r="0.6" fill="#6a4a8a" opacity="0.7"/>
<circle cx="310.2" cy="493.0" r="0.6" fill="#6a4a8a" opacity="0.7"/>
<circle cx="293.5" cy="518.6" r="0.6" fill="#6a4a8a" opacity="0.7"/>
<circle cx="298.0" cy="491.6" r="0.6" fill="#6a4a8a" opacity="0.7"/>
<circle cx="267.6" cy="523.0" r="0.6" fill="#6a4a8a" opacity="0.7"/>
<circle cx="258.5" cy="517.5" r="0.6" fill="#6a4a8a" opacity="0.7"/>
<circle cx="272.1" cy="517.0" r="0.6" fill="#6a4a8a" opacity="0.7"/>
<circle cx="310.3" cy="528.9" r="0.6" fill="#6a4a8a" opacity="0.7"/>
<circle cx="242.2" cy="524.0" r="0.6" fill="#6a4a8a" opacity="0.7"/>
<circle cx="237.1" cy="504.7" r="0.6" fill="#6a4a8a" opacity="0.7"/>
<circle cx="300.0" cy="530.1" r="0.6" fill="#6a4a8a" opacity="0.7"/>
<circle cx="323.9" cy="501.4" r="0.6" fill="#6a4a8a" opacity="0.7"/>
<circle cx="281.1" cy="523.1" r="0.6" fill="#6a4a8a" opacity="0.7"/>
<circle cx="305.5" cy="536.0" r="0.6" fill="#6a4a8a" opacity="0.7"/>
<circle cx="262.3" cy="495.2" r="0.6" fill="#6a4a8a" opacity="0.7"/>
<circle cx="255.2" cy="529.4" r="0.6" fill="#6a4a8a" opacity="0.7"/>
<circle cx="239.1" cy="499.9" r="0.6" fill="#6a4a8a" opacity="0.7"/>
<circle cx="309.9" cy="540.6" r="0.6" fill="#6a4a8a" opacity="0.7"/>
<circle cx="273.9" cy="530.1" r="0.6" fill="#6a4a8a" opacity="0.7"/>
<circle cx="268.6" cy="501.4" r="0.6" fill="#6a4a8a" opacity="0.7"/>
</g></g>
<rect x="31.8" y="473" width="95.8" height="71.75" fill="none" stroke="#333" stroke-width="1.2"/>
<rect x="130.9" y="473" width="95.6" height="71.75" fill="none" stroke="#333" stroke-width="1.2"/>
<rect x="231.3" y="473" width="95.19999999999999" height="71.75" fill="none" stroke="#333" stroke-width="1.2"/>
<text x="34.4" y="482.9" font-size="9.4" text-anchor="start" font-weight="bold" >WT2.1</text>
<text x="134" y="482.9" font-size="9.4" text-anchor="start" font-weight="bold" >WT2.2</text>
<text x="234.5" y="482.9" font-size="9.4" text-anchor="start" font-weight="bold" >WT2.3</text>
<text x="327.8" y="463.6" font-size="18.27" text-anchor="start" stroke="#000" stroke-width="0.15" >(ii)</text>
<rect x="398.90" y="483.85" width="24.80" height="58.95" fill="#5080c0" stroke="#1c2f52" stroke-width="1.2"/>
<rect x="441.90" y="518.35" width="24.80" height="24.45" fill="#5080c0" stroke="#1c2f52" stroke-width="1.2"/>
<rect x="484.90" y="511.85" width="24.80" height="30.95" fill="#5080c0" stroke="#1c2f52" stroke-width="1.2"/>
<path d="M390.2 462.47999999999996V542.8H519.2" fill="none" stroke="#3a3a3a" stroke-width="1.35"/>
<path d="M387.2 542.8H390.2" stroke="#3a3a3a" stroke-width="1.2"/>
<text x="379.7" y="546.56" font-size="11.4" text-anchor="end" stroke="#000" stroke-width="0.45" >0</text>
<path d="M387.2 522.7199999999999H390.2" stroke="#3a3a3a" stroke-width="1.2"/>
<text x="379.7" y="526.48" font-size="11.4" text-anchor="end" stroke="#000" stroke-width="0.45" >50</text>
<path d="M387.2 502.64H390.2" stroke="#3a3a3a" stroke-width="1.2"/>
<text x="379.7" y="506.4" font-size="11.4" text-anchor="end" stroke="#000" stroke-width="0.45" >100</text>
<path d="M387.2 482.55999999999995H390.2" stroke="#3a3a3a" stroke-width="1.2"/>
<text x="379.7" y="486.32" font-size="11.4" text-anchor="end" stroke="#000" stroke-width="0.45" >150</text>
<path d="M387.2 462.47999999999996H390.2" stroke="#3a3a3a" stroke-width="1.2"/>
<text x="379.7" y="466.24" font-size="11.4" text-anchor="end" stroke="#000" stroke-width="0.45" >200</text>
<path d="M390.20 542.8V546.8" stroke="#3a3a3a" stroke-width="1.2"/>
<path d="M433.20 542.8V546.8" stroke="#3a3a3a" stroke-width="1.2"/>
<path d="M476.20 542.8V546.8" stroke="#3a3a3a" stroke-width="1.2"/>
<path d="M519.20 542.8V546.8" stroke="#3a3a3a" stroke-width="1.2"/>
<path d="M411.30 479.5V488.25M409.00 479.5h4.6M409.00 488.25h4.6" stroke="#1a1a1a" stroke-width="1.15" fill="none"/>
<path d="M454.30 516.25V520.5M452.00 516.25h4.6M452.00 520.5h4.6" stroke="#1a1a1a" stroke-width="1.15" fill="none"/>
<path d="M497.30 508V516.25M495.00 508h4.6M495.00 516.25h4.6" stroke="#1a1a1a" stroke-width="1.15" fill="none"/>
<text x="411.30" y="554.5" font-size="11.4" text-anchor="middle" stroke="#000" stroke-width="0.45" >WT2.1</text>
<text x="454.30" y="554.5" font-size="11.4" text-anchor="middle" stroke="#000" stroke-width="0.45" >WT2.2</text>
<text x="497.30" y="554.5" font-size="11.4" text-anchor="middle" stroke="#000" stroke-width="0.45" >WT2.3</text>
<text x="356.2" y="503.6" font-size="7.75" font-weight="bold" text-anchor="middle" stroke="#000" stroke-width="0.2" transform="rotate(-90 356.2 503.6)">Colonies Diameter (<tspan font-style="italic">μ</tspan>m)</text>
<text x="410.0" y="458.7" font-size="9.77" text-anchor="start" stroke="#000" stroke-width="0.15" >Mk Colony Diameter</text>
<text x="439.6" y="466.8" font-size="8" stroke="#000" stroke-width="0.2"><tspan font-size="6.8" dy="-1" font-weight="bold">*</tspan><tspan font-style="italic" dy="1">p</tspan> &lt; 0.05</text>
<path d="M411.2 474.0V471.4H497.5V491.2M454.5 471.4V491.2" fill="none" stroke="#222" stroke-width="1.1"/>
<text x="0.51" y="569.6" font-size="13.66" text-anchor="start" font-weight="bold" stroke="#000" stroke-width="0.35" >D</text>
<text x="19.56" y="569.0" font-size="17.25" text-anchor="start" stroke="#000" stroke-width="0.15" >(i)</text>
<clipPath id="fc0"><rect x="31.5" y="573.6" width="93.0" height="93.19999999999993"/></clipPath>
<g clip-path="url(#fc0)">
<path d="M55.9 627.0h1v1h-1zM36.3 626.5h1v1h-1zM98.0 602.0h1v1h-1zM77.5 619.2h1v1h-1zM70.1 626.9h1v1h-1zM52.4 627.8h1v1h-1zM81.5 612.5h1v1h-1zM96.1 606.9h1v1h-1zM42.4 636.4h1v1h-1zM84.8 611.4h1v1h-1zM48.8 642.3h1v1h-1zM56.3 644.4h1v1h-1zM56.0 637.8h1v1h-1zM81.1 621.2h1v1h-1zM56.6 634.1h1v1h-1zM67.6 637.4h1v1h-1zM66.0 625.2h1v1h-1zM79.5 614.9h1v1h-1zM40.7 630.8h1v1h-1zM82.0 621.7h1v1h-1zM49.3 620.3h1v1h-1zM47.0 620.3h1v1h-1zM59.8 633.8h1v1h-1zM97.2 607.0h1v1h-1zM78.4 622.5h1v1h-1zM67.3 616.4h1v1h-1zM83.3 606.0h1v1h-1zM93.9 611.7h1v1h-1zM52.8 638.2h1v1h-1zM88.9 611.6h1v1h-1zM50.2 640.5h1v1h-1zM67.8 630.2h1v1h-1zM82.1 628.5h1v1h-1zM90.3 617.2h1v1h-1zM75.4 619.5h1v1h-1zM62.3 604.1h1v1h-1zM99.2 603.7h1v1h-1zM90.9 609.5h1v1h-1zM40.4 627.9h1v1h-1zM84.2 618.9h1v1h-1zM91.4 616.0h1v1h-1zM41.6 641.3h1v1h-1zM60.3 638.7h1v1h-1zM49.0 638.8h1v1h-1zM73.6 620.3h1v1h-1zM71.9 629.7h1v1h-1zM82.8 622.3h1v1h-1zM38.5 634.6h1v1h-1zM53.9 644.8h1v1h-1zM91.7 607.5h1v1h-1zM55.4 619.9h1v1h-1zM70.0 625.5h1v1h-1zM63.1 617.4h1v1h-1zM60.1 632.0h1v1h-1zM33.0 655.7h1v1h-1zM70.4 610.5h1v1h-1zM88.6 614.6h1v1h-1zM87.9 610.9h1v1h-1zM96.0 619.1h1v1h-1zM88.5 611.4h1v1h-1zM87.9 621.2h1v1h-1zM94.2 612.9h1v1h-1zM43.7 632.2h1v1h-1zM46.9 636.8h1v1h-1zM44.3 626.6h1v1h-1zM54.6 642.5h1v1h-1zM43.6 638.6h1v1h-1zM43.3 646.5h1v1h-1zM43.8 629.5h1v1h-1zM98.7 602.6h1v1h-1zM34.8 635.5h1v1h-1zM45.3 616.1h1v1h-1zM62.2 625.5h1v1h-1zM44.5 641.3h1v1h-1zM40.8 650.2h1v1h-1zM67.8 610.7h1v1h-1zM38.9 636.6h1v1h-1zM104.5 610.4h1v1h-1zM51.2 663.8h1v1h-1zM83.5 610.5h1v1h-1zM40.6 635.8h1v1h-1zM80.0 625.3h1v1h-1zM61.0 640.1h1v1h-1zM70.2 638.6h1v1h-1zM67.1 607.4h1v1h-1zM89.0 614.3h1v1h-1zM89.5 627.3h1v1h-1zM51.7 634.6h1v1h-1zM35.5 642.8h1v1h-1zM59.4 646.9h1v1h-1zM40.7 631.3h1v1h-1zM83.2 628.0h1v1h-1zM99.9 615.9h1v1h-1zM56.7 649.7h1v1h-1zM66.8 633.5h1v1h-1zM92.3 617.3h1v1h-1zM58.7 644.6h1v1h-1zM59.9 650.0h1v1h-1zM48.7 632.0h1v1h-1zM110.8 594.8h1v1h-1zM60.3 615.7h1v1h-1zM48.8 633.6h1v1h-1zM38.4 645.5h1v1h-1zM94.6 614.6h1v1h-1zM56.9 658.2h1v1h-1zM49.5 639.3h1v1h-1zM82.3 616.6h1v1h-1zM46.5 644.6h1v1h-1zM56.7 635.4h1v1h-1zM49.4 640.5h1v1h-1zM44.0 652.5h1v1h-1zM87.9 616.0h1v1h-1zM82.0 614.5h1v1h-1zM47.7 649.6h1v1h-1zM78.7 610.8h1v1h-1zM99.5 613.4h1v1h-1zM47.9 635.0h1v1h-1zM66.9 616.3h1v1h-1zM53.5 613.4h1v1h-1zM70.9 606.6h1v1h-1zM91.5 628.7h1v1h-1zM85.1 606.5h1v1h-1zM91.9 618.3h1v1h-1zM91.4 615.6h1v1h-1zM43.0 633.4h1v1h-1zM63.0 629.0h1v1h-1zM44.1 648.0h1v1h-1zM87.7 611.5h1v1h-1zM62.0 630.4h1v1h-1zM64.5 626.0h1v1h-1zM51.8 656.6h1v1h-1zM69.3 644.5h1v1h-1zM58.7 637.9h1v1h-1zM61.7 658.9h1v1h-1zM49.7 650.6h1v1h-1zM54.2 638.3h1v1h-1zM93.6 617.9h1v1h-1zM70.7 622.9h1v1h-1zM89.3 618.6h1v1h-1zM38.4 641.3h1v1h-1zM64.8 613.0h1v1h-1zM83.1 616.3h1v1h-1zM57.0 625.5h1v1h-1zM81.4 614.1h1v1h-1zM90.9 620.0h1v1h-1zM86.5 618.6h1v1h-1zM75.6 617.6h1v1h-1zM55.8 627.9h1v1h-1zM94.0 603.5h1v1h-1zM93.8 620.7h1v1h-1zM39.4 652.4h1v1h-1zM75.3 633.5h1v1h-1zM45.0 623.7h1v1h-1zM80.0 626.1h1v1h-1zM100.7 611.1h1v1h-1zM54.1 641.7h1v1h-1zM48.9 641.1h1v1h-1zM45.3 648.2h1v1h-1zM80.3 620.4h1v1h-1zM38.0 628.7h1v1h-1zM52.0 620.4h1v1h-1zM92.6 621.3h1v1h-1zM70.3 624.4h1v1h-1zM42.2 634.0h1v1h-1zM92.1 614.9h1v1h-1zM92.4 608.4h1v1h-1zM54.7 632.0h1v1h-1zM39.5 663.0h1v1h-1zM90.3 618.4h1v1h-1zM49.4 627.8h1v1h-1zM44.6 651.5h1v1h-1zM70.0 640.4h1v1h-1zM72.3 619.1h1v1h-1zM65.4 624.4h1v1h-1zM36.3 633.2h1v1h-1zM39.4 633.8h1v1h-1zM75.2 608.4h1v1h-1zM42.0 634.0h1v1h-1zM48.1 631.2h1v1h-1zM92.7 605.1h1v1h-1zM64.0 630.1h1v1h-1zM44.4 618.6h1v1h-1zM55.3 622.1h1v1h-1zM90.0 615.5h1v1h-1zM59.7 634.4h1v1h-1zM84.6 620.6h1v1h-1zM51.9 644.7h1v1h-1zM47.3 628.3h1v1h-1zM58.8 626.5h1v1h-1zM47.4 657.6h1v1h-1zM40.6 624.3h1v1h-1zM47.9 612.4h1v1h-1zM34.9 646.2h1v1h-1zM65.0 607.7h1v1h-1zM57.8 637.6h1v1h-1zM67.5 636.5h1v1h-1zM39.5 648.6h1v1h-1zM84.3 617.4h1v1h-1zM46.3 650.7h1v1h-1zM43.4 662.0h1v1h-1zM80.4 607.7h1v1h-1zM46.1 631.2h1v1h-1zM37.5 624.8h1v1h-1zM58.4 641.4h1v1h-1zM62.3 617.7h1v1h-1zM46.1 651.3h1v1h-1zM35.6 638.4h1v1h-1zM46.5 651.3h1v1h-1zM91.8 603.7h1v1h-1zM54.1 645.8h1v1h-1zM61.6 616.4h1v1h-1zM92.2 602.1h1v1h-1zM84.9 623.7h1v1h-1zM69.4 635.4h1v1h-1zM42.0 640.8h1v1h-1zM53.7 641.5h1v1h-1zM89.8 614.3h1v1h-1zM97.8 605.7h1v1h-1zM43.7 639.0h1v1h-1zM45.2 657.7h1v1h-1zM72.1 607.2h1v1h-1zM53.0 613.4h1v1h-1zM52.9 644.8h1v1h-1zM89.0 612.3h1v1h-1zM53.6 642.9h1v1h-1zM99.5 605.8h1v1h-1zM67.6 611.6h1v1h-1zM53.2 613.8h1v1h-1zM51.5 628.1h1v1h-1zM59.4 636.2h1v1h-1zM65.4 632.6h1v1h-1zM46.5 649.8h1v1h-1zM90.2 623.2h1v1h-1zM53.5 631.4h1v1h-1zM74.5 609.3h1v1h-1zM50.5 630.4h1v1h-1zM102.0 610.3h1v1h-1zM46.0 646.6h1v1h-1zM46.9 636.4h1v1h-1zM39.0 622.8h1v1h-1zM48.2 645.0h1v1h-1zM82.0 614.6h1v1h-1zM49.3 629.3h1v1h-1zM51.9 641.1h1v1h-1zM84.6 623.7h1v1h-1zM52.3 636.0h1v1h-1zM87.7 613.4h1v1h-1zM48.5 639.4h1v1h-1zM35.5 651.1h1v1h-1zM49.5 639.5h1v1h-1zM36.6 649.4h1v1h-1zM54.6 652.2h1v1h-1zM90.8 617.3h1v1h-1zM70.1 628.0h1v1h-1zM88.5 620.8h1v1h-1zM57.0 636.0h1v1h-1zM58.3 630.2h1v1h-1zM80.4 607.2h1v1h-1zM71.7 615.0h1v1h-1zM87.3 625.4h1v1h-1zM91.3 616.4h1v1h-1zM87.2 617.3h1v1h-1zM80.9 610.9h1v1h-1zM60.7 621.1h1v1h-1zM68.9 624.9h1v1h-1zM87.1 620.4h1v1h-1zM62.9 644.0h1v1h-1zM55.4 623.6h1v1h-1zM41.9 633.3h1v1h-1zM44.3 637.1h1v1h-1zM80.7 615.8h1v1h-1zM82.5 609.4h1v1h-1zM81.2 603.5h1v1h-1zM96.1 604.9h1v1h-1zM49.3 643.4h1v1h-1zM34.4 625.5h1v1h-1zM45.8 625.9h1v1h-1zM85.9 619.5h1v1h-1zM85.0 621.9h1v1h-1zM76.2 619.3h1v1h-1zM48.2 634.9h1v1h-1zM42.0 621.9h1v1h-1zM44.9 627.6h1v1h-1zM44.9 651.5h1v1h-1zM80.0 614.8h1v1h-1zM45.2 662.9h1v1h-1zM62.8 627.7h1v1h-1zM82.9 602.1h1v1h-1zM87.1 615.1h1v1h-1zM95.2 612.8h1v1h-1zM43.9 652.5h1v1h-1zM82.0 613.4h1v1h-1zM89.7 621.1h1v1h-1zM73.5 612.4h1v1h-1zM39.2 645.9h1v1h-1zM41.1 622.2h1v1h-1zM65.2 619.8h1v1h-1zM81.4 617.1h1v1h-1zM49.3 653.2h1v1h-1zM92.1 609.9h1v1h-1zM91.7 616.3h1v1h-1zM91.8 617.6h1v1h-1zM78.8 625.3h1v1h-1zM94.6 614.7h1v1h-1zM85.5 616.9h1v1h-1zM68.6 610.4h1v1h-1zM92.0 625.3h1v1h-1zM91.9 611.3h1v1h-1zM67.0 630.9h1v1h-1zM49.7 633.1h1v1h-1zM41.7 628.5h1v1h-1zM41.9 616.8h1v1h-1zM49.1 662.5h1v1h-1zM82.5 610.2h1v1h-1zM42.2 612.0h1v1h-1zM71.6 628.1h1v1h-1zM86.2 612.7h1v1h-1zM47.6 652.9h1v1h-1zM66.2 620.8h1v1h-1zM40.3 628.5h1v1h-1zM52.4 639.0h1v1h-1zM87.4 610.6h1v1h-1zM57.4 647.1h1v1h-1zM48.3 637.2h1v1h-1zM45.0 635.3h1v1h-1zM62.7 627.3h1v1h-1zM79.8 607.4h1v1h-1zM53.3 643.1h1v1h-1zM90.7 615.1h1v1h-1zM56.8 616.1h1v1h-1zM79.8 609.6h1v1h-1zM84.2 619.0h1v1h-1zM50.1 633.6h1v1h-1zM94.0 605.0h1v1h-1zM51.8 636.9h1v1h-1zM41.5 641.8h1v1h-1zM52.2 639.9h1v1h-1zM43.1 637.7h1v1h-1zM95.0 613.1h1v1h-1zM48.2 638.2h1v1h-1zM54.5 624.4h1v1h-1zM51.4 637.7h1v1h-1zM97.9 611.4h1v1h-1zM38.8 650.0h1v1h-1zM47.3 647.8h1v1h-1zM90.1 615.3h1v1h-1zM82.6 619.3h1v1h-1zM37.2 637.8h1v1h-1zM44.5 633.2h1v1h-1zM78.5 626.2h1v1h-1zM68.9 615.2h1v1h-1zM96.2 614.9h1v1h-1zM51.8 636.0h1v1h-1zM87.7 610.7h1v1h-1zM62.8 640.0h1v1h-1zM88.7 610.1h1v1h-1zM61.2 633.3h1v1h-1zM83.6 604.6h1v1h-1zM58.0 636.4h1v1h-1zM51.6 630.5h1v1h-1zM36.0 650.1h1v1h-1zM69.9 641.5h1v1h-1zM95.6 612.3h1v1h-1zM54.5 635.2h1v1h-1zM46.8 640.2h1v1h-1zM66.0 617.0h1v1h-1zM53.0 618.3h1v1h-1zM39.4 635.6h1v1h-1zM98.8 606.8h1v1h-1zM53.4 634.7h1v1h-1zM68.8 621.7h1v1h-1zM98.5 608.0h1v1h-1zM102.8 600.9h1v1h-1zM33.0 646.8h1v1h-1zM85.9 622.5h1v1h-1zM52.9 650.6h1v1h-1zM78.3 621.5h1v1h-1zM43.3 658.6h1v1h-1zM63.0 621.0h1v1h-1zM97.4 619.7h1v1h-1zM75.9 630.5h1v1h-1zM97.1 607.0h1v1h-1zM32.5 649.1h1v1h-1zM38.3 635.0h1v1h-1zM70.6 611.9h1v1h-1zM42.3 626.8h1v1h-1zM64.9 633.7h1v1h-1zM52.5 625.5h1v1h-1zM73.9 619.0h1v1h-1zM89.7 616.4h1v1h-1zM92.8 623.5h1v1h-1zM37.8 657.6h1v1h-1zM44.9 628.6h1v1h-1zM52.3 632.2h1v1h-1zM99.7 606.3h1v1h-1zM70.2 625.0h1v1h-1zM46.1 631.5h1v1h-1zM71.9 614.4h1v1h-1zM36.8 648.4h1v1h-1zM48.5 624.4h1v1h-1zM50.9 650.1h1v1h-1zM79.3 634.4h1v1h-1zM61.3 629.7h1v1h-1zM100.4 606.2h1v1h-1zM40.6 631.0h1v1h-1zM37.5 627.2h1v1h-1zM94.8 607.4h1v1h-1zM92.3 602.6h1v1h-1zM75.3 631.4h1v1h-1zM84.8 613.0h1v1h-1zM42.5 616.3h1v1h-1zM85.3 620.3h1v1h-1zM49.9 662.8h1v1h-1zM71.2 616.2h1v1h-1zM85.3 614.0h1v1h-1zM73.0 616.5h1v1h-1zM84.8 627.2h1v1h-1zM64.7 603.6h1v1h-1zM82.7 619.7h1v1h-1zM39.5 631.8h1v1h-1zM48.3 655.6h1v1h-1zM55.2 630.0h1v1h-1zM50.3 648.5h1v1h-1zM47.2 648.3h1v1h-1zM72.9 613.7h1v1h-1zM90.7 612.8h1v1h-1zM92.7 614.1h1v1h-1zM82.9 613.2h1v1h-1zM48.2 661.2h1v1h-1zM43.0 618.5h1v1h-1zM78.3 604.1h1v1h-1zM47.9 627.3h1v1h-1zM77.4 633.4h1v1h-1zM36.4 652.4h1v1h-1zM93.7 610.1h1v1h-1zM53.2 610.5h1v1h-1zM98.8 602.1h1v1h-1zM65.6 626.6h1v1h-1zM82.2 613.9h1v1h-1zM85.8 614.2h1v1h-1zM93.8 614.0h1v1h-1zM60.9 621.1h1v1h-1zM35.8 624.3h1v1h-1zM49.7 643.4h1v1h-1zM42.8 626.4h1v1h-1zM88.5 623.8h1v1h-1zM44.0 663.3h1v1h-1zM81.3 610.8h1v1h-1zM42.4 641.1h1v1h-1zM99.1 608.5h1v1h-1zM88.2 615.3h1v1h-1zM91.5 616.1h1v1h-1zM91.6 615.0h1v1h-1zM97.0 610.9h1v1h-1zM45.4 640.6h1v1h-1zM64.3 647.3h1v1h-1zM88.1 619.5h1v1h-1zM53.5 650.0h1v1h-1zM90.2 620.9h1v1h-1zM59.8 633.0h1v1h-1zM89.2 626.0h1v1h-1zM106.0 604.6h1v1h-1zM49.1 633.6h1v1h-1zM90.9 617.2h1v1h-1zM58.7 642.7h1v1h-1zM46.7 647.2h1v1h-1zM97.9 596.2h1v1h-1zM53.8 634.6h1v1h-1zM85.2 618.2h1v1h-1zM89.0 610.5h1v1h-1zM37.5 627.0h1v1h-1zM45.8 659.0h1v1h-1zM72.7 632.9h1v1h-1zM80.5 607.2h1v1h-1zM72.2 628.1h1v1h-1zM48.5 621.7h1v1h-1zM81.3 614.4h1v1h-1zM50.7 630.3h1v1h-1zM57.3 639.4h1v1h-1zM44.9 624.1h1v1h-1zM45.3 633.9h1v1h-1zM89.4 619.9h1v1h-1zM45.9 657.2h1v1h-1zM62.6 634.9h1v1h-1zM41.5 662.4h1v1h-1zM45.0 633.4h1v1h-1zM90.3 617.6h1v1h-1zM54.8 642.8h1v1h-1zM90.2 612.6h1v1h-1zM39.9 635.9h1v1h-1zM51.9 634.7h1v1h-1zM53.9 657.2h1v1h-1zM53.7 651.6h1v1h-1zM107.2 606.2h1v1h-1zM39.5 638.2h1v1h-1zM81.5 611.9h1v1h-1zM47.8 626.8h1v1h-1zM91.1 620.0h1v1h-1zM44.1 622.4h1v1h-1zM53.4 627.4h1v1h-1zM111.6 607.4h1v1h-1zM74.9 622.0h1v1h-1zM90.3 611.8h1v1h-1zM76.2 644.2h1v1h-1zM95.3 607.2h1v1h-1zM88.8 608.1h1v1h-1zM88.4 625.1h1v1h-1zM47.6 614.6h1v1h-1zM43.6 641.4h1v1h-1zM53.2 630.5h1v1h-1zM58.9 627.5h1v1h-1zM89.3 613.2h1v1h-1zM97.0 615.4h1v1h-1zM77.3 620.2h1v1h-1zM97.0 609.9h1v1h-1zM60.2 661.0h1v1h-1zM44.3 638.1h1v1h-1zM95.8 607.6h1v1h-1zM48.0 632.0h1v1h-1zM94.7 605.7h1v1h-1zM36.8 647.5h1v1h-1zM49.9 626.5h1v1h-1zM54.6 617.2h1v1h-1zM46.7 625.9h1v1h-1zM86.0 612.4h1v1h-1zM97.2 619.8h1v1h-1zM45.9 643.1h1v1h-1zM70.8 647.1h1v1h-1zM88.1 616.8h1v1h-1zM44.6 632.0h1v1h-1zM39.6 632.0h1v1h-1zM54.3 624.0h1v1h-1zM51.9 637.0h1v1h-1zM99.6 599.0h1v1h-1zM96.0 613.5h1v1h-1zM53.9 623.0h1v1h-1zM41.4 624.5h1v1h-1zM92.5 613.0h1v1h-1zM67.4 634.3h1v1h-1zM72.9 624.1h1v1h-1zM79.5 623.0h1v1h-1zM91.5 619.1h1v1h-1zM60.2 619.1h1v1h-1zM103.4 602.6h1v1h-1zM52.9 641.1h1v1h-1zM86.7 612.7h1v1h-1zM65.0 621.7h1v1h-1zM44.9 649.4h1v1h-1zM38.4 632.3h1v1h-1zM78.3 621.5h1v1h-1zM53.6 639.2h1v1h-1zM47.0 634.0h1v1h-1zM83.6 612.9h1v1h-1zM85.3 618.3h1v1h-1zM66.5 636.3h1v1h-1zM45.8 651.2h1v1h-1zM68.8 622.4h1v1h-1zM72.3 613.4h1v1h-1zM85.7 609.6h1v1h-1zM51.6 648.6h1v1h-1zM47.3 633.3h1v1h-1zM73.0 612.0h1v1h-1zM46.6 659.5h1v1h-1zM41.9 633.0h1v1h-1zM89.8 611.6h1v1h-1zM50.2 630.6h1v1h-1zM83.2 618.8h1v1h-1zM88.7 606.0h1v1h-1zM87.8 615.6h1v1h-1zM48.8 634.5h1v1h-1zM90.7 619.0h1v1h-1zM54.4 642.4h1v1h-1zM78.6 611.5h1v1h-1zM89.7 608.5h1v1h-1zM38.1 641.5h1v1h-1zM84.8 618.2h1v1h-1zM68.0 630.2h1v1h-1zM60.7 630.7h1v1h-1zM78.4 627.1h1v1h-1zM43.6 630.4h1v1h-1zM64.3 636.2h1v1h-1zM39.5 636.9h1v1h-1zM38.2 631.1h1v1h-1zM52.0 635.2h1v1h-1zM55.9 631.5h1v1h-1zM78.8 631.5h1v1h-1zM90.2 608.3h1v1h-1zM86.0 601.5h1v1h-1zM40.6 637.6h1v1h-1zM84.6 610.1h1v1h-1zM99.6 606.8h1v1h-1zM37.4 635.0h1v1h-1zM41.8 636.7h1v1h-1zM87.7 620.7h1v1h-1zM49.5 630.9h1v1h-1zM102.8 602.6h1v1h-1zM86.4 617.0h1v1h-1zM77.2 613.4h1v1h-1zM49.5 629.2h1v1h-1zM55.0 633.8h1v1h-1zM59.8 618.5h1v1h-1zM57.3 637.2h1v1h-1zM46.8 616.5h1v1h-1zM83.5 619.5h1v1h-1zM51.4 653.0h1v1h-1zM90.0 610.3h1v1h-1zM42.2 662.0h1v1h-1zM44.0 655.2h1v1h-1zM51.1 643.1h1v1h-1zM47.3 640.0h1v1h-1zM61.0 642.2h1v1h-1zM89.9 610.4h1v1h-1zM38.4 646.2h1v1h-1zM85.1 635.7h1v1h-1zM55.7 614.1h1v1h-1zM90.1 610.6h1v1h-1zM87.5 607.2h1v1h-1zM82.1 610.5h1v1h-1zM41.8 627.9h1v1h-1zM86.2 609.0h1v1h-1zM52.2 633.7h1v1h-1zM38.4 635.9h1v1h-1zM103.7 611.5h1v1h-1zM89.2 633.0h1v1h-1zM86.8 616.5h1v1h-1zM89.0 609.5h1v1h-1zM76.0 616.6h1v1h-1zM53.2 642.0h1v1h-1zM84.2 614.7h1v1h-1zM69.1 625.4h1v1h-1zM57.0 633.3h1v1h-1zM85.4 608.2h1v1h-1zM78.4 637.6h1v1h-1zM91.0 611.8h1v1h-1zM52.2 627.0h1v1h-1zM43.6 633.6h1v1h-1zM92.2 619.4h1v1h-1zM88.1 614.6h1v1h-1zM53.4 629.5h1v1h-1zM75.8 608.9h1v1h-1zM84.5 618.7h1v1h-1zM78.6 615.0h1v1h-1zM59.6 627.0h1v1h-1zM43.9 633.7h1v1h-1zM88.6 623.4h1v1h-1zM33.4 643.3h1v1h-1zM69.2 625.9h1v1h-1zM78.9 610.2h1v1h-1zM46.4 653.8h1v1h-1zM44.0 639.2h1v1h-1zM66.1 631.5h1v1h-1zM90.4 622.4h1v1h-1zM40.6 618.1h1v1h-1zM67.3 605.2h1v1h-1zM43.6 629.5h1v1h-1zM49.1 616.0h1v1h-1zM46.9 628.9h1v1h-1zM46.8 611.8h1v1h-1zM67.5 640.2h1v1h-1zM49.4 653.5h1v1h-1zM46.3 637.9h1v1h-1zM59.5 636.7h1v1h-1zM61.1 633.1h1v1h-1zM87.1 613.3h1v1h-1zM42.6 635.8h1v1h-1zM54.7 632.1h1v1h-1zM50.9 649.0h1v1h-1zM42.0 639.7h1v1h-1zM93.7 619.0h1v1h-1zM69.6 619.0h1v1h-1zM37.5 630.6h1v1h-1zM39.7 630.6h1v1h-1zM44.3 656.3h1v1h-1zM69.9 613.0h1v1h-1zM44.0 636.5h1v1h-1zM61.2 627.5h1v1h-1zM37.0 632.9h1v1h-1zM59.6 633.3h1v1h-1zM44.7 633.6h1v1h-1zM41.2 644.0h1v1h-1zM39.5 630.2h1v1h-1zM48.3 629.1h1v1h-1zM44.3 635.8h1v1h-1zM57.3 629.0h1v1h-1zM42.7 647.0h1v1h-1zM61.6 615.6h1v1h-1zM96.0 612.3h1v1h-1zM88.2 614.3h1v1h-1zM47.6 649.1h1v1h-1zM59.7 614.1h1v1h-1zM81.4 618.0h1v1h-1zM78.6 623.0h1v1h-1zM50.8 644.6h1v1h-1zM47.2 635.7h1v1h-1zM45.1 647.3h1v1h-1zM92.2 611.3h1v1h-1zM86.3 607.9h1v1h-1zM48.9 654.5h1v1h-1zM47.8 632.7h1v1h-1zM51.9 658.0h1v1h-1zM37.6 649.3h1v1h-1zM59.3 639.1h1v1h-1zM85.3 607.9h1v1h-1zM96.8 609.6h1v1h-1zM37.0 651.1h1v1h-1zM68.0 636.2h1v1h-1zM42.7 618.3h1v1h-1zM59.6 625.9h1v1h-1zM82.0 620.8h1v1h-1zM77.2 624.9h1v1h-1zM65.8 632.6h1v1h-1zM44.4 635.3h1v1h-1zM71.8 617.7h1v1h-1zM51.9 642.6h1v1h-1zM53.5 637.0h1v1h-1zM74.6 610.1h1v1h-1zM41.9 638.1h1v1h-1zM49.5 647.9h1v1h-1zM104.1 605.5h1v1h-1zM52.6 632.2h1v1h-1zM52.5 621.6h1v1h-1zM87.3 612.8h1v1h-1zM79.2 610.0h1v1h-1zM37.5 640.8h1v1h-1zM48.5 661.0h1v1h-1zM49.1 643.9h1v1h-1zM69.6 621.6h1v1h-1zM106.3 606.3h1v1h-1zM86.1 611.3h1v1h-1zM85.6 626.1h1v1h-1zM35.8 628.1h1v1h-1zM49.1 641.4h1v1h-1zM47.8 648.5h1v1h-1zM39.1 604.0h1v1h-1zM40.1 656.5h1v1h-1zM71.3 627.7h1v1h-1zM49.9 638.1h1v1h-1zM80.0 622.0h1v1h-1zM41.3 639.1h1v1h-1zM89.3 613.6h1v1h-1zM76.5 627.4h1v1h-1zM81.9 626.0h1v1h-1zM49.4 637.5h1v1h-1zM81.9 616.9h1v1h-1zM96.3 621.4h1v1h-1zM58.1 628.3h1v1h-1zM67.2 613.6h1v1h-1zM64.8 634.2h1v1h-1zM42.2 645.6h1v1h-1zM49.7 617.2h1v1h-1zM49.7 632.8h1v1h-1zM78.3 614.9h1v1h-1zM45.0 620.6h1v1h-1zM48.1 632.1h1v1h-1zM77.1 610.0h1v1h-1zM94.7 602.1h1v1h-1zM56.5 625.3h1v1h-1zM46.9 641.4h1v1h-1zM51.4 655.0h1v1h-1zM53.0 639.1h1v1h-1zM76.5 619.9h1v1h-1zM39.6 647.2h1v1h-1zM89.6 626.1h1v1h-1zM82.0 618.4h1v1h-1zM91.0 608.4h1v1h-1zM71.4 615.3h1v1h-1zM90.3 607.5h1v1h-1zM39.0 642.3h1v1h-1zM47.3 643.3h1v1h-1zM95.8 612.3h1v1h-1zM93.6 605.4h1v1h-1zM46.5 642.6h1v1h-1zM60.8 628.5h1v1h-1zM101.3 603.8h1v1h-1zM66.7 622.4h1v1h-1zM47.7 637.7h1v1h-1zM93.6 607.2h1v1h-1zM86.2 623.4h1v1h-1zM46.0 650.2h1v1h-1zM84.6 612.9h1v1h-1zM65.5 607.0h1v1h-1zM80.3 619.1h1v1h-1zM90.5 610.2h1v1h-1zM47.2 624.1h1v1h-1zM71.7 621.6h1v1h-1zM61.9 629.2h1v1h-1z" fill="#000" opacity="0.28"/>
<path d="M87.0 609.7h1v1h-1zM89.8 617.0h1v1h-1zM34.1 637.8h1v1h-1zM82.4 612.4h1v1h-1zM93.3 610.4h1v1h-1zM44.8 640.7h1v1h-1zM85.3 618.8h1v1h-1zM66.9 629.3h1v1h-1zM40.4 634.4h1v1h-1zM40.3 613.8h1v1h-1zM88.4 610.6h1v1h-1zM68.2 630.5h1v1h-1zM47.6 637.1h1v1h-1zM42.9 641.6h1v1h-1zM45.6 646.7h1v1h-1zM48.0 646.3h1v1h-1zM57.5 613.5h1v1h-1zM48.5 640.9h1v1h-1zM89.9 614.0h1v1h-1zM44.3 645.5h1v1h-1zM74.2 614.1h1v1h-1zM43.9 634.3h1v1h-1zM93.8 604.4h1v1h-1zM59.1 642.9h1v1h-1zM80.1 620.3h1v1h-1zM80.1 610.7h1v1h-1zM63.2 626.1h1v1h-1zM89.2 610.4h1v1h-1zM76.2 608.3h1v1h-1zM80.7 620.1h1v1h-1zM90.1 605.7h1v1h-1zM42.7 652.2h1v1h-1zM55.5 626.0h1v1h-1zM78.0 631.5h1v1h-1zM50.9 629.3h1v1h-1zM57.9 637.2h1v1h-1zM76.7 612.5h1v1h-1zM92.6 620.4h1v1h-1zM48.0 614.4h1v1h-1zM71.6 616.6h1v1h-1zM78.5 611.4h1v1h-1zM92.6 615.3h1v1h-1zM70.7 615.1h1v1h-1zM75.5 622.4h1v1h-1zM89.0 614.3h1v1h-1zM58.6 647.5h1v1h-1zM73.0 629.6h1v1h-1zM55.7 633.8h1v1h-1zM92.0 615.7h1v1h-1zM60.8 625.0h1v1h-1zM41.3 647.4h1v1h-1zM102.0 598.4h1v1h-1zM47.3 627.6h1v1h-1zM47.7 641.8h1v1h-1zM45.3 623.1h1v1h-1zM47.5 624.6h1v1h-1zM44.0 609.9h1v1h-1zM95.6 605.0h1v1h-1zM91.9 612.7h1v1h-1zM41.4 632.8h1v1h-1zM39.4 651.9h1v1h-1zM49.6 653.2h1v1h-1zM54.0 631.7h1v1h-1zM88.9 614.1h1v1h-1zM44.4 636.7h1v1h-1zM46.9 633.0h1v1h-1zM64.1 637.1h1v1h-1zM47.5 649.2h1v1h-1zM46.6 650.6h1v1h-1zM82.4 620.8h1v1h-1zM103.6 610.8h1v1h-1zM34.3 646.6h1v1h-1zM56.8 636.6h1v1h-1zM49.6 648.7h1v1h-1zM91.7 611.1h1v1h-1zM80.9 614.8h1v1h-1zM47.7 624.1h1v1h-1zM48.0 616.5h1v1h-1zM87.8 616.0h1v1h-1zM39.0 636.1h1v1h-1zM81.7 612.6h1v1h-1zM50.7 657.0h1v1h-1zM45.0 636.7h1v1h-1zM99.4 599.9h1v1h-1zM102.7 602.8h1v1h-1zM108.7 608.1h1v1h-1zM56.5 643.6h1v1h-1zM77.9 624.5h1v1h-1zM65.3 625.5h1v1h-1zM46.4 643.8h1v1h-1zM98.9 611.1h1v1h-1zM64.0 617.2h1v1h-1zM92.6 613.5h1v1h-1zM47.1 645.5h1v1h-1zM79.0 625.3h1v1h-1zM74.5 627.0h1v1h-1zM62.8 634.8h1v1h-1zM68.6 615.9h1v1h-1zM45.0 636.9h1v1h-1zM40.5 649.7h1v1h-1zM43.9 627.0h1v1h-1zM79.0 622.5h1v1h-1zM93.6 609.3h1v1h-1zM44.0 628.4h1v1h-1zM39.6 625.9h1v1h-1zM93.5 604.4h1v1h-1zM42.5 653.5h1v1h-1zM78.5 626.5h1v1h-1zM89.7 609.1h1v1h-1zM96.6 613.7h1v1h-1zM44.1 652.6h1v1h-1zM85.8 624.2h1v1h-1zM85.8 612.5h1v1h-1zM60.3 623.5h1v1h-1zM96.6 609.6h1v1h-1zM87.9 617.7h1v1h-1zM66.1 624.8h1v1h-1zM81.0 609.7h1v1h-1zM107.1 601.0h1v1h-1zM101.1 607.6h1v1h-1zM90.2 606.9h1v1h-1zM93.6 604.6h1v1h-1zM83.6 623.5h1v1h-1zM88.9 616.3h1v1h-1zM84.4 634.3h1v1h-1zM55.4 634.8h1v1h-1zM49.3 637.1h1v1h-1zM53.2 621.7h1v1h-1zM61.3 621.5h1v1h-1zM54.5 648.8h1v1h-1zM65.7 630.9h1v1h-1zM42.7 623.3h1v1h-1zM75.4 620.3h1v1h-1zM87.7 609.9h1v1h-1zM84.9 607.1h1v1h-1zM46.1 635.7h1v1h-1zM40.7 649.7h1v1h-1zM78.9 615.0h1v1h-1zM70.8 622.8h1v1h-1zM43.9 626.3h1v1h-1zM88.6 619.9h1v1h-1zM42.7 641.5h1v1h-1zM35.5 644.7h1v1h-1zM51.0 624.6h1v1h-1zM72.1 606.6h1v1h-1zM35.5 636.6h1v1h-1zM46.9 645.2h1v1h-1zM91.0 618.7h1v1h-1zM88.7 607.0h1v1h-1zM81.6 606.9h1v1h-1zM77.4 628.7h1v1h-1zM49.1 633.0h1v1h-1zM37.9 649.0h1v1h-1zM75.6 622.8h1v1h-1zM97.2 611.8h1v1h-1zM87.0 620.4h1v1h-1zM46.4 620.5h1v1h-1zM42.1 622.2h1v1h-1zM63.7 632.4h1v1h-1zM55.8 636.4h1v1h-1zM50.7 649.6h1v1h-1zM49.7 628.5h1v1h-1zM51.2 621.2h1v1h-1zM81.4 618.8h1v1h-1zM83.8 620.8h1v1h-1zM33.9 654.8h1v1h-1zM94.6 603.3h1v1h-1zM38.3 629.6h1v1h-1zM66.4 628.6h1v1h-1zM46.4 637.4h1v1h-1zM55.3 634.3h1v1h-1zM52.0 630.7h1v1h-1zM42.9 637.1h1v1h-1zM87.0 610.1h1v1h-1zM99.1 603.3h1v1h-1zM45.2 625.5h1v1h-1zM83.0 613.3h1v1h-1zM82.6 602.3h1v1h-1zM80.4 618.1h1v1h-1zM33.3 638.8h1v1h-1zM71.4 645.9h1v1h-1zM36.4 654.5h1v1h-1zM93.6 609.3h1v1h-1zM51.9 637.4h1v1h-1zM80.0 612.7h1v1h-1zM45.1 639.4h1v1h-1zM88.3 611.4h1v1h-1zM104.6 607.6h1v1h-1zM42.4 632.4h1v1h-1zM54.0 647.1h1v1h-1zM98.0 620.0h1v1h-1zM70.7 627.0h1v1h-1zM106.6 612.4h1v1h-1zM41.8 656.3h1v1h-1zM85.1 614.4h1v1h-1zM86.5 630.3h1v1h-1zM86.6 618.0h1v1h-1zM63.7 631.7h1v1h-1zM46.6 627.4h1v1h-1zM69.1 610.3h1v1h-1zM81.9 625.5h1v1h-1zM47.5 623.6h1v1h-1zM73.0 627.7h1v1h-1zM90.4 634.9h1v1h-1zM62.2 644.8h1v1h-1zM43.6 622.0h1v1h-1zM51.0 629.8h1v1h-1zM91.7 603.9h1v1h-1zM40.9 631.7h1v1h-1zM89.5 611.9h1v1h-1zM79.2 617.7h1v1h-1zM48.3 646.1h1v1h-1zM41.6 635.3h1v1h-1zM52.8 634.3h1v1h-1zM38.3 646.6h1v1h-1zM41.5 650.0h1v1h-1zM54.6 625.6h1v1h-1zM84.6 614.6h1v1h-1zM56.8 631.3h1v1h-1zM69.4 627.3h1v1h-1zM52.0 647.7h1v1h-1zM54.3 631.1h1v1h-1zM54.5 647.3h1v1h-1zM73.6 612.7h1v1h-1zM47.4 640.2h1v1h-1zM98.0 616.9h1v1h-1zM66.2 620.7h1v1h-1zM83.9 616.1h1v1h-1zM71.8 628.1h1v1h-1zM52.6 638.4h1v1h-1zM42.5 638.7h1v1h-1zM79.2 617.9h1v1h-1zM40.7 639.5h1v1h-1zM48.0 638.8h1v1h-1zM75.0 600.9h1v1h-1zM46.9 626.1h1v1h-1zM86.6 620.8h1v1h-1zM35.1 627.2h1v1h-1zM59.3 640.3h1v1h-1zM41.3 635.8h1v1h-1zM75.7 619.4h1v1h-1zM50.7 630.0h1v1h-1zM72.4 616.5h1v1h-1zM63.6 620.0h1v1h-1zM43.6 611.7h1v1h-1zM83.9 622.5h1v1h-1zM87.7 612.1h1v1h-1zM68.3 625.1h1v1h-1zM89.4 605.8h1v1h-1zM52.4 659.8h1v1h-1zM72.5 626.6h1v1h-1zM50.9 625.6h1v1h-1zM43.9 640.9h1v1h-1zM41.7 642.3h1v1h-1zM46.1 648.7h1v1h-1zM75.9 616.6h1v1h-1zM51.4 647.1h1v1h-1zM81.0 616.1h1v1h-1zM94.1 613.7h1v1h-1zM69.7 626.0h1v1h-1zM92.1 605.3h1v1h-1zM73.0 629.2h1v1h-1zM85.2 618.4h1v1h-1zM80.5 628.1h1v1h-1zM57.1 611.9h1v1h-1zM79.5 622.5h1v1h-1zM36.0 631.7h1v1h-1zM91.9 624.1h1v1h-1zM35.6 636.7h1v1h-1zM89.6 608.0h1v1h-1zM51.0 639.0h1v1h-1zM37.8 632.7h1v1h-1zM47.3 638.1h1v1h-1zM92.9 619.7h1v1h-1zM47.3 653.6h1v1h-1zM88.1 610.0h1v1h-1zM83.8 601.3h1v1h-1zM101.5 595.4h1v1h-1zM97.5 616.8h1v1h-1zM45.1 648.0h1v1h-1zM50.9 643.3h1v1h-1zM78.2 615.6h1v1h-1zM46.4 630.6h1v1h-1zM50.0 626.7h1v1h-1zM86.0 605.3h1v1h-1zM34.2 663.2h1v1h-1zM81.9 629.1h1v1h-1zM43.5 652.1h1v1h-1zM60.1 624.7h1v1h-1zM100.9 609.3h1v1h-1zM47.3 640.0h1v1h-1zM96.1 625.0h1v1h-1zM52.7 634.8h1v1h-1zM79.3 615.5h1v1h-1zM41.7 631.1h1v1h-1zM38.3 647.7h1v1h-1zM58.2 645.2h1v1h-1zM87.9 611.9h1v1h-1zM45.4 645.5h1v1h-1zM98.9 614.0h1v1h-1zM95.0 609.2h1v1h-1zM79.3 623.8h1v1h-1zM69.4 632.6h1v1h-1zM68.8 634.7h1v1h-1zM44.8 636.4h1v1h-1zM42.0 598.7h1v1h-1zM49.8 632.7h1v1h-1zM85.4 618.5h1v1h-1zM42.2 633.0h1v1h-1zM39.3 629.4h1v1h-1zM46.2 634.4h1v1h-1zM59.5 640.3h1v1h-1zM43.7 650.1h1v1h-1zM88.9 616.1h1v1h-1zM96.3 614.1h1v1h-1zM86.0 614.4h1v1h-1zM65.3 630.6h1v1h-1zM72.0 617.5h1v1h-1zM87.3 606.2h1v1h-1zM60.8 637.9h1v1h-1zM38.9 653.9h1v1h-1zM49.8 653.4h1v1h-1zM85.2 626.3h1v1h-1zM41.0 646.0h1v1h-1zM50.6 640.1h1v1h-1zM45.4 642.6h1v1h-1zM46.4 628.8h1v1h-1zM63.4 624.3h1v1h-1zM36.9 652.2h1v1h-1zM43.3 630.9h1v1h-1zM59.8 636.6h1v1h-1zM60.3 622.4h1v1h-1zM72.2 621.5h1v1h-1zM59.6 632.4h1v1h-1zM35.9 658.3h1v1h-1zM88.3 623.8h1v1h-1zM57.0 628.2h1v1h-1zM37.1 637.4h1v1h-1zM60.9 624.4h1v1h-1zM98.0 612.6h1v1h-1zM47.1 623.1h1v1h-1zM87.3 613.0h1v1h-1zM69.2 610.7h1v1h-1zM90.9 604.3h1v1h-1zM35.8 652.9h1v1h-1zM94.9 611.1h1v1h-1zM90.1 610.3h1v1h-1zM91.5 617.6h1v1h-1zM51.8 624.2h1v1h-1zM44.9 651.8h1v1h-1zM77.1 617.6h1v1h-1zM77.3 628.7h1v1h-1zM86.3 603.7h1v1h-1zM45.7 638.4h1v1h-1zM71.7 611.8h1v1h-1zM85.6 620.4h1v1h-1zM56.7 627.5h1v1h-1zM82.7 624.0h1v1h-1zM42.1 642.6h1v1h-1zM89.4 620.9h1v1h-1zM81.3 626.9h1v1h-1zM91.3 617.7h1v1h-1zM45.4 630.8h1v1h-1zM64.4 623.2h1v1h-1zM35.4 636.4h1v1h-1zM110.8 607.8h1v1h-1zM57.4 625.3h1v1h-1zM56.8 631.0h1v1h-1zM41.9 649.2h1v1h-1zM43.4 631.5h1v1h-1zM90.2 613.5h1v1h-1zM46.3 623.7h1v1h-1zM77.0 617.6h1v1h-1zM62.6 609.9h1v1h-1zM46.3 645.2h1v1h-1zM88.1 614.9h1v1h-1zM46.3 660.3h1v1h-1zM103.0 613.3h1v1h-1zM38.9 643.2h1v1h-1zM48.2 655.4h1v1h-1zM55.2 630.8h1v1h-1zM70.7 615.8h1v1h-1zM83.0 612.2h1v1h-1zM102.3 615.9h1v1h-1zM49.5 645.5h1v1h-1zM48.2 630.7h1v1h-1zM81.4 606.7h1v1h-1zM83.1 623.4h1v1h-1zM79.4 637.7h1v1h-1zM95.7 604.4h1v1h-1zM93.1 613.9h1v1h-1zM51.7 621.7h1v1h-1zM89.6 613.3h1v1h-1zM50.8 645.2h1v1h-1zM39.1 637.8h1v1h-1zM40.9 638.6h1v1h-1zM51.8 621.4h1v1h-1zM55.7 631.4h1v1h-1zM87.8 615.7h1v1h-1zM88.8 620.3h1v1h-1zM87.9 613.8h1v1h-1zM70.7 620.5h1v1h-1zM58.0 642.2h1v1h-1zM58.3 632.4h1v1h-1zM86.3 616.9h1v1h-1zM73.2 629.0h1v1h-1zM96.7 615.8h1v1h-1zM49.1 630.5h1v1h-1zM79.1 618.2h1v1h-1zM72.9 622.2h1v1h-1zM59.3 627.3h1v1h-1zM33.1 641.2h1v1h-1zM88.6 610.6h1v1h-1zM90.1 615.5h1v1h-1zM75.7 624.1h1v1h-1zM41.2 630.9h1v1h-1zM38.6 637.6h1v1h-1zM48.1 634.4h1v1h-1zM38.4 650.3h1v1h-1zM45.4 626.8h1v1h-1zM74.2 617.9h1v1h-1zM74.9 607.9h1v1h-1zM62.6 643.0h1v1h-1zM84.0 622.8h1v1h-1zM86.4 614.2h1v1h-1zM45.8 612.8h1v1h-1zM77.4 629.0h1v1h-1zM98.2 604.1h1v1h-1zM70.1 620.1h1v1h-1zM44.0 648.4h1v1h-1zM38.6 649.2h1v1h-1zM56.6 645.5h1v1h-1zM95.2 603.7h1v1h-1zM62.0 627.2h1v1h-1zM92.6 608.1h1v1h-1zM52.3 640.7h1v1h-1zM110.4 603.7h1v1h-1zM62.8 628.0h1v1h-1zM56.9 643.7h1v1h-1zM93.5 611.1h1v1h-1zM44.0 626.7h1v1h-1zM51.0 622.1h1v1h-1zM69.7 627.4h1v1h-1zM84.4 608.7h1v1h-1zM67.0 610.8h1v1h-1zM74.2 612.4h1v1h-1zM55.6 644.3h1v1h-1zM38.3 636.5h1v1h-1zM61.7 616.9h1v1h-1zM82.2 621.2h1v1h-1zM88.2 620.8h1v1h-1zM80.1 616.8h1v1h-1zM66.3 618.5h1v1h-1zM82.9 608.9h1v1h-1zM42.4 627.4h1v1h-1zM42.3 638.1h1v1h-1zM84.2 620.2h1v1h-1zM50.3 622.3h1v1h-1zM82.9 616.1h1v1h-1zM92.2 612.2h1v1h-1zM50.3 628.3h1v1h-1zM61.0 641.1h1v1h-1zM37.6 652.6h1v1h-1zM62.0 614.6h1v1h-1zM60.2 623.7h1v1h-1zM39.6 653.6h1v1h-1zM104.8 621.8h1v1h-1zM92.9 604.3h1v1h-1zM77.8 620.1h1v1h-1zM95.0 615.2h1v1h-1zM90.7 614.4h1v1h-1zM47.9 627.9h1v1h-1zM50.1 628.6h1v1h-1zM45.5 649.7h1v1h-1zM44.7 640.9h1v1h-1zM54.1 644.5h1v1h-1zM77.1 619.0h1v1h-1zM90.5 615.1h1v1h-1zM46.8 621.9h1v1h-1zM77.6 614.0h1v1h-1zM78.9 608.6h1v1h-1zM62.4 612.7h1v1h-1zM49.7 630.4h1v1h-1zM63.8 634.7h1v1h-1zM38.9 627.8h1v1h-1zM54.0 638.1h1v1h-1zM84.4 617.2h1v1h-1zM48.5 643.5h1v1h-1zM84.7 605.1h1v1h-1zM54.7 640.8h1v1h-1zM92.3 616.9h1v1h-1zM49.7 651.8h1v1h-1zM71.1 616.9h1v1h-1zM51.8 636.5h1v1h-1zM45.3 647.6h1v1h-1zM59.9 624.8h1v1h-1zM48.4 638.8h1v1h-1zM52.5 626.1h1v1h-1zM63.9 633.6h1v1h-1zM86.8 612.2h1v1h-1zM91.7 612.9h1v1h-1zM91.8 610.6h1v1h-1zM91.1 617.5h1v1h-1zM54.1 634.9h1v1h-1zM41.0 624.3h1v1h-1zM58.1 629.7h1v1h-1zM79.2 617.5h1v1h-1zM49.7 661.0h1v1h-1zM87.3 617.0h1v1h-1zM93.0 611.9h1v1h-1zM51.9 641.3h1v1h-1zM76.6 623.5h1v1h-1zM79.0 621.6h1v1h-1zM57.5 632.8h1v1h-1zM79.5 620.9h1v1h-1zM67.8 627.7h1v1h-1zM88.8 608.3h1v1h-1zM79.9 617.4h1v1h-1zM80.7 617.8h1v1h-1zM44.3 659.8h1v1h-1zM34.6 633.5h1v1h-1zM42.7 633.8h1v1h-1zM62.3 617.0h1v1h-1zM48.8 622.9h1v1h-1zM64.1 633.8h1v1h-1zM84.6 623.0h1v1h-1zM50.3 648.9h1v1h-1zM55.0 623.5h1v1h-1zM54.9 627.6h1v1h-1zM80.5 618.8h1v1h-1zM49.9 619.3h1v1h-1zM52.1 624.7h1v1h-1zM51.2 647.0h1v1h-1zM48.7 633.8h1v1h-1zM39.2 629.4h1v1h-1zM88.4 612.7h1v1h-1zM50.4 645.4h1v1h-1zM75.4 625.0h1v1h-1zM61.3 629.7h1v1h-1zM85.9 621.4h1v1h-1zM71.0 622.9h1v1h-1zM99.1 607.7h1v1h-1zM89.6 612.1h1v1h-1zM47.7 635.1h1v1h-1zM85.8 608.1h1v1h-1zM96.4 614.6h1v1h-1zM38.1 647.5h1v1h-1zM41.8 637.6h1v1h-1zM64.1 618.5h1v1h-1zM45.8 636.5h1v1h-1zM83.5 603.7h1v1h-1zM46.1 653.4h1v1h-1zM46.2 641.3h1v1h-1zM55.4 621.2h1v1h-1zM55.9 629.2h1v1h-1zM87.8 623.0h1v1h-1zM53.5 641.9h1v1h-1zM33.8 632.8h1v1h-1zM35.8 645.9h1v1h-1zM47.4 627.0h1v1h-1zM85.0 630.7h1v1h-1zM75.0 638.6h1v1h-1zM49.8 633.8h1v1h-1zM45.5 638.8h1v1h-1zM81.8 603.0h1v1h-1zM43.5 636.1h1v1h-1zM57.2 635.4h1v1h-1zM92.0 614.4h1v1h-1zM72.7 608.0h1v1h-1zM44.7 627.7h1v1h-1zM72.2 621.9h1v1h-1zM106.0 616.1h1v1h-1zM46.7 634.2h1v1h-1zM96.7 609.4h1v1h-1zM74.3 629.6h1v1h-1zM69.9 633.3h1v1h-1zM63.2 625.5h1v1h-1zM45.3 643.1h1v1h-1zM93.4 602.1h1v1h-1zM85.7 625.7h1v1h-1zM74.9 613.6h1v1h-1zM44.6 616.1h1v1h-1zM88.7 610.4h1v1h-1zM48.5 640.2h1v1h-1zM79.8 620.4h1v1h-1zM74.6 607.7h1v1h-1zM58.6 651.7h1v1h-1zM47.9 639.2h1v1h-1zM68.1 631.1h1v1h-1zM38.4 650.0h1v1h-1zM87.6 615.7h1v1h-1zM52.2 641.8h1v1h-1zM88.5 614.0h1v1h-1zM54.9 618.6h1v1h-1zM92.1 620.0h1v1h-1zM100.7 608.2h1v1h-1zM47.2 656.4h1v1h-1zM63.0 633.0h1v1h-1zM52.4 635.0h1v1h-1zM84.5 621.6h1v1h-1zM78.1 622.2h1v1h-1zM50.2 652.4h1v1h-1zM45.1 635.3h1v1h-1zM98.1 598.6h1v1h-1zM81.7 609.5h1v1h-1zM87.9 619.8h1v1h-1zM96.8 612.9h1v1h-1zM42.0 625.4h1v1h-1zM74.1 621.3h1v1h-1zM44.5 650.2h1v1h-1zM85.3 613.9h1v1h-1zM95.0 616.0h1v1h-1zM83.3 620.5h1v1h-1zM77.5 619.7h1v1h-1zM38.1 662.3h1v1h-1zM85.4 620.2h1v1h-1zM63.3 601.8h1v1h-1zM44.2 634.3h1v1h-1zM49.9 642.6h1v1h-1zM52.4 631.5h1v1h-1zM73.7 625.1h1v1h-1zM42.9 640.5h1v1h-1zM91.0 613.0h1v1h-1zM83.7 617.3h1v1h-1zM37.5 654.8h1v1h-1zM90.7 609.9h1v1h-1zM50.8 651.4h1v1h-1zM64.2 619.6h1v1h-1zM50.6 630.2h1v1h-1zM41.9 627.6h1v1h-1zM87.1 614.4h1v1h-1zM94.6 605.2h1v1h-1zM42.8 644.0h1v1h-1zM49.5 618.0h1v1h-1zM55.2 637.1h1v1h-1zM88.7 605.1h1v1h-1zM49.5 620.6h1v1h-1zM96.2 612.2h1v1h-1zM85.1 619.0h1v1h-1zM51.5 629.6h1v1h-1zM74.7 611.8h1v1h-1zM89.4 619.5h1v1h-1zM44.4 648.4h1v1h-1zM35.6 650.2h1v1h-1zM40.3 636.8h1v1h-1zM71.0 619.9h1v1h-1zM88.0 612.8h1v1h-1zM57.9 628.1h1v1h-1zM71.3 609.0h1v1h-1zM95.2 605.9h1v1h-1zM34.8 618.1h1v1h-1zM61.5 642.6h1v1h-1zM90.2 614.2h1v1h-1zM86.0 621.2h1v1h-1zM39.4 658.6h1v1h-1zM76.5 630.9h1v1h-1zM58.6 622.8h1v1h-1zM51.8 640.0h1v1h-1zM71.2 623.6h1v1h-1zM50.0 639.5h1v1h-1zM47.0 631.4h1v1h-1zM56.0 642.8h1v1h-1zM45.7 645.1h1v1h-1zM87.7 618.2h1v1h-1zM53.7 640.1h1v1h-1zM37.4 639.6h1v1h-1zM51.0 636.8h1v1h-1zM45.1 627.0h1v1h-1zM70.8 631.0h1v1h-1zM39.8 646.2h1v1h-1zM43.4 635.3h1v1h-1zM64.9 630.3h1v1h-1zM49.2 641.4h1v1h-1zM43.0 637.8h1v1h-1zM55.8 655.1h1v1h-1zM33.0 630.4h1v1h-1zM49.8 637.5h1v1h-1zM44.2 629.1h1v1h-1zM75.1 612.3h1v1h-1zM48.9 662.1h1v1h-1zM48.0 615.3h1v1h-1zM36.3 657.8h1v1h-1zM95.4 618.4h1v1h-1zM100.4 603.6h1v1h-1zM50.2 626.7h1v1h-1zM78.5 604.2h1v1h-1zM65.9 627.6h1v1h-1zM79.4 595.9h1v1h-1zM71.2 628.6h1v1h-1zM61.7 611.6h1v1h-1zM42.8 643.5h1v1h-1zM60.6 626.5h1v1h-1zM53.9 630.3h1v1h-1zM51.1 644.7h1v1h-1zM98.7 601.9h1v1h-1zM89.1 621.2h1v1h-1zM70.3 633.9h1v1h-1zM94.3 612.9h1v1h-1zM61.6 627.9h1v1h-1zM53.6 633.8h1v1h-1zM88.6 615.5h1v1h-1zM47.8 622.7h1v1h-1zM81.1 608.5h1v1h-1zM100.6 609.7h1v1h-1zM70.2 621.1h1v1h-1zM49.8 626.1h1v1h-1zM48.1 632.2h1v1h-1zM93.6 612.2h1v1h-1zM45.9 645.8h1v1h-1zM38.7 642.2h1v1h-1zM42.5 635.6h1v1h-1zM75.8 626.0h1v1h-1zM74.1 603.9h1v1h-1zM48.2 639.0h1v1h-1zM57.3 616.9h1v1h-1zM39.1 654.9h1v1h-1zM48.8 638.4h1v1h-1zM42.0 624.0h1v1h-1zM90.4 618.4h1v1h-1zM47.3 651.0h1v1h-1zM43.1 631.0h1v1h-1zM82.3 616.2h1v1h-1zM49.7 633.9h1v1h-1zM52.3 636.8h1v1h-1zM51.0 631.8h1v1h-1zM89.8 604.8h1v1h-1zM60.2 649.0h1v1h-1zM71.3 652.7h1v1h-1zM101.5 611.7h1v1h-1zM45.2 645.2h1v1h-1zM94.0 610.0h1v1h-1zM89.0 618.8h1v1h-1zM65.1 619.9h1v1h-1zM36.4 643.4h1v1h-1zM95.3 623.9h1v1h-1zM46.7 659.3h1v1h-1zM68.1 614.2h1v1h-1zM77.7 613.0h1v1h-1zM79.8 617.4h1v1h-1zM86.1 615.9h1v1h-1zM66.4 630.6h1v1h-1zM88.6 616.5h1v1h-1zM55.2 651.8h1v1h-1zM47.3 652.2h1v1h-1zM39.7 612.4h1v1h-1zM43.9 636.0h1v1h-1zM69.2 632.3h1v1h-1zM84.0 612.7h1v1h-1zM42.9 637.6h1v1h-1zM79.4 633.7h1v1h-1zM48.5 649.7h1v1h-1zM41.6 658.6h1v1h-1zM86.2 621.6h1v1h-1zM36.6 615.0h1v1h-1zM35.6 655.7h1v1h-1zM45.9 655.2h1v1h-1zM56.0 651.7h1v1h-1zM34.4 640.7h1v1h-1zM50.6 626.4h1v1h-1zM46.4 629.8h1v1h-1zM51.3 645.8h1v1h-1zM85.2 620.9h1v1h-1zM96.2 609.6h1v1h-1zM101.6 605.9h1v1h-1zM48.0 622.5h1v1h-1zM60.0 629.3h1v1h-1zM80.3 616.0h1v1h-1zM50.9 640.0h1v1h-1zM67.8 613.2h1v1h-1zM57.3 645.3h1v1h-1zM90.2 619.4h1v1h-1zM73.7 629.2h1v1h-1zM50.6 624.9h1v1h-1zM42.6 628.0h1v1h-1zM44.6 642.6h1v1h-1zM69.6 618.1h1v1h-1zM39.7 626.1h1v1h-1zM72.7 634.6h1v1h-1zM46.4 648.0h1v1h-1zM51.9 653.6h1v1h-1zM87.0 616.5h1v1h-1zM76.2 618.3h1v1h-1zM59.5 617.6h1v1h-1zM39.9 638.2h1v1h-1zM63.6 621.9h1v1h-1zM70.6 626.6h1v1h-1z" fill="#000" opacity="0.28"/>
<path d="M90.9 611.6h1v1h-1zM85.0 623.8h1v1h-1zM94.2 615.6h1v1h-1zM103.5 610.8h1v1h-1zM83.9 611.2h1v1h-1zM90.3 614.0h1v1h-1zM109.4 605.6h1v1h-1zM86.7 612.4h1v1h-1zM90.4 611.7h1v1h-1zM91.0 619.5h1v1h-1zM102.1 613.9h1v1h-1zM90.9 611.0h1v1h-1zM99.7 610.5h1v1h-1zM92.3 618.6h1v1h-1zM83.6 615.4h1v1h-1zM94.5 612.1h1v1h-1zM97.4 608.7h1v1h-1zM96.3 609.2h1v1h-1zM102.6 606.4h1v1h-1zM87.6 611.0h1v1h-1zM94.2 602.6h1v1h-1zM88.3 613.6h1v1h-1zM84.6 612.6h1v1h-1zM86.2 613.5h1v1h-1zM92.9 612.0h1v1h-1zM88.5 606.9h1v1h-1zM82.4 620.7h1v1h-1zM90.9 613.7h1v1h-1zM95.4 608.3h1v1h-1zM94.8 618.5h1v1h-1zM89.9 610.0h1v1h-1zM93.3 613.0h1v1h-1zM93.3 619.2h1v1h-1zM96.9 609.6h1v1h-1zM85.5 617.0h1v1h-1zM91.4 611.5h1v1h-1zM89.6 617.1h1v1h-1zM89.4 619.0h1v1h-1zM93.0 605.8h1v1h-1zM95.3 615.0h1v1h-1zM83.7 610.5h1v1h-1zM93.9 612.1h1v1h-1zM85.4 607.8h1v1h-1zM83.7 614.7h1v1h-1zM82.2 613.0h1v1h-1zM83.9 618.1h1v1h-1zM90.8 606.1h1v1h-1zM87.2 618.7h1v1h-1zM89.4 611.8h1v1h-1zM86.2 621.5h1v1h-1zM91.0 612.7h1v1h-1zM95.3 605.3h1v1h-1zM93.3 609.1h1v1h-1zM92.4 617.8h1v1h-1zM102.1 594.3h1v1h-1zM97.6 602.5h1v1h-1zM84.2 616.9h1v1h-1zM93.6 610.5h1v1h-1zM94.3 605.2h1v1h-1zM101.9 608.1h1v1h-1zM94.4 601.4h1v1h-1zM96.7 612.8h1v1h-1zM94.0 611.2h1v1h-1zM94.7 613.1h1v1h-1zM94.7 611.4h1v1h-1zM89.8 610.5h1v1h-1zM91.1 609.6h1v1h-1zM85.3 618.7h1v1h-1zM90.9 612.4h1v1h-1zM81.5 610.3h1v1h-1zM97.5 613.6h1v1h-1zM92.1 614.0h1v1h-1zM93.3 611.3h1v1h-1zM96.0 604.2h1v1h-1zM99.8 606.2h1v1h-1zM95.0 612.6h1v1h-1zM99.2 605.2h1v1h-1zM94.9 608.3h1v1h-1zM83.7 616.9h1v1h-1zM88.0 610.6h1v1h-1zM99.1 602.6h1v1h-1zM97.4 611.9h1v1h-1zM87.0 609.2h1v1h-1zM91.0 615.3h1v1h-1zM94.7 607.0h1v1h-1zM81.9 613.3h1v1h-1zM93.8 611.7h1v1h-1zM93.0 609.8h1v1h-1zM91.6 613.5h1v1h-1zM92.0 618.9h1v1h-1zM96.4 612.5h1v1h-1zM88.2 610.7h1v1h-1zM87.4 617.3h1v1h-1zM87.3 608.8h1v1h-1zM85.4 621.5h1v1h-1zM101.9 603.6h1v1h-1zM88.0 615.3h1v1h-1zM97.0 611.9h1v1h-1zM84.6 616.9h1v1h-1zM103.7 609.7h1v1h-1zM103.4 606.9h1v1h-1zM86.8 614.9h1v1h-1zM79.6 617.7h1v1h-1zM85.3 616.8h1v1h-1zM86.5 618.0h1v1h-1zM94.8 605.2h1v1h-1zM85.2 614.6h1v1h-1zM97.7 608.0h1v1h-1zM95.0 617.3h1v1h-1zM88.1 610.8h1v1h-1zM88.4 608.7h1v1h-1zM83.2 614.5h1v1h-1zM80.2 617.3h1v1h-1zM99.4 611.1h1v1h-1zM89.6 613.1h1v1h-1zM93.1 610.0h1v1h-1zM83.3 617.7h1v1h-1zM87.2 612.7h1v1h-1zM98.6 607.9h1v1h-1zM91.9 611.9h1v1h-1zM87.1 617.9h1v1h-1zM95.3 604.5h1v1h-1zM98.7 605.0h1v1h-1zM100.7 606.5h1v1h-1zM92.1 612.4h1v1h-1zM87.2 610.3h1v1h-1zM84.9 616.7h1v1h-1zM92.5 608.5h1v1h-1zM91.0 607.8h1v1h-1zM94.0 612.1h1v1h-1zM85.0 617.9h1v1h-1zM89.8 616.8h1v1h-1zM86.5 616.3h1v1h-1zM90.3 617.2h1v1h-1zM84.0 617.2h1v1h-1zM99.2 616.9h1v1h-1zM95.4 612.7h1v1h-1zM92.9 613.5h1v1h-1zM79.7 620.9h1v1h-1zM85.6 617.3h1v1h-1zM91.0 610.9h1v1h-1zM99.0 616.7h1v1h-1zM98.8 615.0h1v1h-1zM87.2 614.7h1v1h-1zM97.7 610.9h1v1h-1zM105.0 604.5h1v1h-1zM88.4 614.8h1v1h-1zM80.8 622.0h1v1h-1zM90.8 613.6h1v1h-1zM92.8 610.2h1v1h-1zM86.2 613.3h1v1h-1zM91.2 610.6h1v1h-1zM98.6 611.3h1v1h-1zM102.7 609.0h1v1h-1zM91.5 612.3h1v1h-1zM89.4 614.9h1v1h-1zM91.9 610.6h1v1h-1zM97.5 609.7h1v1h-1zM91.1 617.9h1v1h-1zM90.6 615.6h1v1h-1zM85.3 620.6h1v1h-1zM82.8 620.6h1v1h-1zM97.4 615.0h1v1h-1zM94.4 609.3h1v1h-1zM98.4 607.7h1v1h-1zM97.8 603.8h1v1h-1zM93.3 612.3h1v1h-1zM97.5 615.4h1v1h-1zM82.3 617.1h1v1h-1zM97.8 615.6h1v1h-1zM95.0 615.4h1v1h-1zM94.8 613.1h1v1h-1zM93.8 608.5h1v1h-1zM96.5 605.7h1v1h-1zM88.9 608.2h1v1h-1zM88.8 610.6h1v1h-1zM89.4 616.3h1v1h-1zM93.7 612.4h1v1h-1zM91.4 618.0h1v1h-1zM89.4 616.0h1v1h-1zM93.1 606.9h1v1h-1zM96.1 613.1h1v1h-1zM88.0 608.8h1v1h-1zM90.0 608.7h1v1h-1zM93.3 607.9h1v1h-1zM96.5 615.0h1v1h-1zM100.9 606.7h1v1h-1zM93.7 617.8h1v1h-1zM83.7 611.3h1v1h-1zM84.5 613.3h1v1h-1zM88.5 616.8h1v1h-1zM92.5 612.2h1v1h-1zM97.3 608.3h1v1h-1zM89.5 607.8h1v1h-1zM76.3 624.9h1v1h-1zM93.5 606.0h1v1h-1zM89.7 611.4h1v1h-1zM94.2 612.7h1v1h-1zM82.0 617.4h1v1h-1zM87.7 608.8h1v1h-1zM96.9 615.0h1v1h-1zM102.4 607.0h1v1h-1zM87.7 613.6h1v1h-1zM92.2 615.5h1v1h-1zM91.1 605.9h1v1h-1zM95.4 612.9h1v1h-1zM90.5 614.6h1v1h-1zM85.9 615.4h1v1h-1zM85.8 615.3h1v1h-1zM90.3 622.1h1v1h-1zM87.5 606.9h1v1h-1zM92.1 613.3h1v1h-1zM84.0 612.0h1v1h-1zM92.4 612.0h1v1h-1zM78.6 611.8h1v1h-1zM101.9 611.5h1v1h-1zM90.8 612.7h1v1h-1zM87.1 611.3h1v1h-1zM94.7 613.6h1v1h-1zM86.7 615.6h1v1h-1zM81.8 614.2h1v1h-1zM93.0 603.2h1v1h-1zM93.2 609.6h1v1h-1zM94.2 613.2h1v1h-1zM84.4 617.5h1v1h-1zM94.5 607.3h1v1h-1zM83.4 614.9h1v1h-1zM85.1 618.1h1v1h-1zM92.4 603.5h1v1h-1zM83.8 614.2h1v1h-1zM93.2 607.5h1v1h-1zM98.8 607.9h1v1h-1zM98.1 607.6h1v1h-1zM94.2 610.1h1v1h-1zM92.5 617.3h1v1h-1zM90.7 612.9h1v1h-1zM93.2 611.9h1v1h-1zM99.3 602.5h1v1h-1zM93.5 606.2h1v1h-1zM90.1 616.9h1v1h-1zM87.5 614.9h1v1h-1zM92.0 612.6h1v1h-1zM98.7 608.3h1v1h-1zM86.7 619.0h1v1h-1zM93.3 612.0h1v1h-1zM89.6 614.5h1v1h-1zM90.6 617.0h1v1h-1zM93.2 615.7h1v1h-1zM86.6 621.1h1v1h-1zM89.4 611.9h1v1h-1zM85.8 614.0h1v1h-1zM93.2 606.6h1v1h-1zM89.8 615.1h1v1h-1zM99.0 606.8h1v1h-1zM91.3 607.6h1v1h-1zM89.4 615.3h1v1h-1zM97.1 609.2h1v1h-1zM99.3 608.2h1v1h-1zM88.9 611.4h1v1h-1zM88.9 613.6h1v1h-1zM93.4 613.1h1v1h-1zM95.2 613.9h1v1h-1zM90.4 610.2h1v1h-1zM86.1 608.1h1v1h-1zM96.0 605.5h1v1h-1zM88.9 607.4h1v1h-1zM89.3 604.3h1v1h-1zM92.0 612.4h1v1h-1zM81.9 616.9h1v1h-1zM94.9 615.2h1v1h-1zM84.2 615.6h1v1h-1zM91.2 614.6h1v1h-1zM100.9 606.9h1v1h-1zM98.2 614.6h1v1h-1zM81.8 617.7h1v1h-1zM90.9 611.9h1v1h-1zM100.3 601.1h1v1h-1zM88.8 615.5h1v1h-1zM84.9 612.9h1v1h-1zM95.0 615.7h1v1h-1zM98.0 613.3h1v1h-1zM89.4 610.5h1v1h-1zM87.8 610.3h1v1h-1zM99.4 612.9h1v1h-1zM97.4 606.6h1v1h-1zM87.6 603.9h1v1h-1zM93.0 612.6h1v1h-1zM88.8 610.9h1v1h-1zM88.6 620.3h1v1h-1zM95.6 603.5h1v1h-1zM83.0 615.5h1v1h-1zM87.8 613.0h1v1h-1zM87.1 612.2h1v1h-1zM91.0 612.1h1v1h-1zM86.8 612.8h1v1h-1zM78.6 620.8h1v1h-1zM85.2 608.8h1v1h-1zM97.3 610.8h1v1h-1zM95.9 610.5h1v1h-1zM102.3 606.1h1v1h-1z" fill="#000" opacity="0.5"/>
<path d="M95.7 605.2h1v1h-1zM101.6 609.2h1v1h-1zM85.8 622.1h1v1h-1zM90.2 616.2h1v1h-1zM90.0 611.7h1v1h-1zM89.2 616.2h1v1h-1zM88.3 608.5h1v1h-1zM85.8 614.9h1v1h-1zM81.7 616.9h1v1h-1zM92.5 612.3h1v1h-1zM86.9 614.2h1v1h-1zM87.4 615.5h1v1h-1zM99.7 610.3h1v1h-1zM83.9 613.7h1v1h-1zM91.0 609.4h1v1h-1zM95.2 604.5h1v1h-1zM90.1 610.9h1v1h-1zM81.9 618.5h1v1h-1zM91.9 609.1h1v1h-1zM93.5 615.8h1v1h-1zM93.0 611.3h1v1h-1zM90.3 603.8h1v1h-1zM91.4 607.4h1v1h-1zM87.8 611.1h1v1h-1zM83.0 614.0h1v1h-1zM96.0 614.6h1v1h-1zM76.8 617.4h1v1h-1zM93.5 612.1h1v1h-1zM87.2 615.5h1v1h-1zM88.5 616.0h1v1h-1zM86.9 611.5h1v1h-1zM87.0 613.4h1v1h-1zM87.3 618.2h1v1h-1zM90.2 615.9h1v1h-1zM95.3 612.6h1v1h-1zM96.7 604.7h1v1h-1zM95.5 609.2h1v1h-1zM83.1 618.4h1v1h-1zM94.1 609.8h1v1h-1zM87.5 618.9h1v1h-1zM84.2 610.1h1v1h-1zM87.7 605.6h1v1h-1zM89.1 612.3h1v1h-1zM102.6 605.6h1v1h-1zM93.5 616.2h1v1h-1zM100.8 604.1h1v1h-1zM89.2 613.1h1v1h-1zM87.9 607.5h1v1h-1zM86.6 618.8h1v1h-1zM98.3 610.0h1v1h-1zM103.1 608.4h1v1h-1zM87.5 615.6h1v1h-1zM81.9 613.6h1v1h-1zM90.2 613.0h1v1h-1zM94.9 609.6h1v1h-1zM92.6 605.8h1v1h-1zM91.6 617.4h1v1h-1zM96.4 615.5h1v1h-1zM95.0 609.0h1v1h-1zM93.9 614.9h1v1h-1zM97.7 611.7h1v1h-1zM94.2 611.8h1v1h-1zM93.2 614.6h1v1h-1zM83.9 611.9h1v1h-1zM88.3 618.6h1v1h-1zM88.8 606.9h1v1h-1zM90.6 610.9h1v1h-1zM96.1 608.8h1v1h-1zM90.7 613.4h1v1h-1zM95.9 604.8h1v1h-1zM86.4 614.1h1v1h-1zM93.1 614.8h1v1h-1zM95.0 611.1h1v1h-1zM91.9 608.8h1v1h-1zM89.8 616.8h1v1h-1zM86.8 611.3h1v1h-1zM92.3 604.7h1v1h-1zM100.7 604.3h1v1h-1zM95.8 615.2h1v1h-1zM95.9 606.6h1v1h-1zM91.2 612.2h1v1h-1zM85.5 612.1h1v1h-1zM92.1 615.5h1v1h-1zM91.1 615.9h1v1h-1zM102.6 608.0h1v1h-1zM88.6 613.8h1v1h-1zM90.8 613.7h1v1h-1zM102.1 601.0h1v1h-1zM94.0 615.1h1v1h-1zM91.3 613.9h1v1h-1zM91.6 613.8h1v1h-1zM98.2 605.8h1v1h-1zM93.5 611.4h1v1h-1zM92.5 606.7h1v1h-1zM85.7 615.2h1v1h-1zM94.6 610.6h1v1h-1zM85.1 610.2h1v1h-1zM95.9 607.8h1v1h-1zM100.1 610.1h1v1h-1zM92.6 616.9h1v1h-1zM99.5 604.6h1v1h-1zM95.7 612.8h1v1h-1zM98.1 603.6h1v1h-1zM88.0 610.0h1v1h-1zM94.3 612.0h1v1h-1zM86.7 607.4h1v1h-1zM83.1 617.2h1v1h-1zM91.6 608.0h1v1h-1zM99.4 607.2h1v1h-1zM91.7 608.6h1v1h-1zM95.4 608.1h1v1h-1zM83.7 616.9h1v1h-1zM80.7 618.5h1v1h-1zM83.2 617.2h1v1h-1zM93.8 607.5h1v1h-1zM99.3 604.7h1v1h-1zM93.5 604.8h1v1h-1zM88.2 612.9h1v1h-1zM91.5 614.4h1v1h-1zM92.2 611.9h1v1h-1zM94.8 607.6h1v1h-1zM95.3 609.7h1v1h-1zM89.1 610.3h1v1h-1zM99.9 600.8h1v1h-1zM92.5 612.7h1v1h-1zM93.1 609.3h1v1h-1zM94.4 607.6h1v1h-1zM88.4 618.5h1v1h-1zM91.3 611.1h1v1h-1zM97.6 610.8h1v1h-1zM93.4 607.8h1v1h-1zM92.6 615.8h1v1h-1zM91.9 612.8h1v1h-1zM96.4 611.4h1v1h-1zM99.9 613.1h1v1h-1zM91.9 619.1h1v1h-1zM94.0 619.4h1v1h-1zM87.0 614.3h1v1h-1zM93.6 611.9h1v1h-1zM100.1 606.1h1v1h-1zM83.5 612.5h1v1h-1zM97.6 607.3h1v1h-1zM87.2 612.3h1v1h-1zM103.1 600.2h1v1h-1zM92.0 614.4h1v1h-1zM93.7 607.8h1v1h-1zM92.2 610.5h1v1h-1zM93.0 609.8h1v1h-1zM96.6 603.5h1v1h-1zM89.0 617.2h1v1h-1zM94.2 613.9h1v1h-1zM94.9 606.9h1v1h-1zM96.9 611.3h1v1h-1zM86.5 613.1h1v1h-1zM80.7 620.3h1v1h-1zM89.1 616.0h1v1h-1zM95.6 605.7h1v1h-1zM94.7 610.3h1v1h-1zM89.6 610.2h1v1h-1zM94.2 610.8h1v1h-1zM84.1 615.2h1v1h-1zM102.4 608.8h1v1h-1zM100.6 602.1h1v1h-1zM86.1 617.1h1v1h-1zM85.5 612.7h1v1h-1zM82.3 621.3h1v1h-1zM92.6 611.7h1v1h-1zM96.4 609.2h1v1h-1zM97.6 612.0h1v1h-1zM83.6 621.3h1v1h-1zM83.3 615.0h1v1h-1zM92.7 610.1h1v1h-1zM94.8 615.2h1v1h-1zM103.6 602.0h1v1h-1zM92.3 615.5h1v1h-1zM89.0 618.9h1v1h-1zM86.5 610.2h1v1h-1zM92.5 607.7h1v1h-1zM95.8 608.7h1v1h-1zM98.8 614.9h1v1h-1zM90.6 609.6h1v1h-1zM86.8 612.2h1v1h-1zM89.4 610.8h1v1h-1zM93.1 610.6h1v1h-1zM94.9 614.0h1v1h-1zM83.5 614.4h1v1h-1zM94.9 603.8h1v1h-1zM98.8 611.9h1v1h-1zM89.7 611.3h1v1h-1zM102.8 607.2h1v1h-1zM89.1 612.4h1v1h-1zM98.6 612.3h1v1h-1zM91.4 612.3h1v1h-1zM87.0 609.0h1v1h-1zM94.2 610.2h1v1h-1zM85.5 611.1h1v1h-1zM96.3 603.5h1v1h-1zM87.5 615.1h1v1h-1zM88.8 614.4h1v1h-1zM99.8 611.2h1v1h-1zM86.6 616.4h1v1h-1zM89.4 611.7h1v1h-1zM83.4 615.7h1v1h-1zM92.2 611.9h1v1h-1zM97.8 610.9h1v1h-1zM89.7 605.5h1v1h-1zM80.1 616.9h1v1h-1zM92.0 609.0h1v1h-1zM95.9 613.4h1v1h-1zM92.5 614.1h1v1h-1zM83.8 613.2h1v1h-1zM96.7 613.1h1v1h-1zM84.1 615.9h1v1h-1zM93.5 606.7h1v1h-1zM91.9 615.9h1v1h-1zM92.2 610.9h1v1h-1zM81.0 620.0h1v1h-1zM92.2 612.3h1v1h-1zM93.1 615.4h1v1h-1zM87.6 614.1h1v1h-1zM91.7 608.9h1v1h-1zM84.0 613.2h1v1h-1zM92.8 611.3h1v1h-1zM94.8 612.9h1v1h-1zM87.6 617.5h1v1h-1zM83.7 612.7h1v1h-1zM82.7 617.2h1v1h-1zM89.3 615.6h1v1h-1zM81.7 621.0h1v1h-1zM86.3 610.5h1v1h-1zM100.1 616.5h1v1h-1zM97.2 609.2h1v1h-1zM98.1 604.2h1v1h-1zM99.3 610.5h1v1h-1zM87.1 615.9h1v1h-1zM86.2 608.5h1v1h-1zM89.1 614.6h1v1h-1zM89.1 614.4h1v1h-1zM101.5 599.4h1v1h-1zM90.3 612.1h1v1h-1zM88.2 622.0h1v1h-1zM91.5 617.0h1v1h-1zM88.9 615.2h1v1h-1zM86.4 617.9h1v1h-1zM96.0 608.6h1v1h-1zM91.7 611.5h1v1h-1zM88.1 611.9h1v1h-1zM97.2 605.1h1v1h-1zM94.4 606.9h1v1h-1zM89.5 613.9h1v1h-1zM97.4 607.4h1v1h-1zM82.5 623.5h1v1h-1zM80.4 617.2h1v1h-1zM100.4 604.1h1v1h-1zM89.8 610.0h1v1h-1zM96.5 613.2h1v1h-1zM91.9 610.9h1v1h-1zM91.8 612.0h1v1h-1zM89.0 618.3h1v1h-1zM92.2 613.4h1v1h-1zM86.9 614.1h1v1h-1zM91.0 609.5h1v1h-1zM88.4 612.2h1v1h-1zM89.8 609.3h1v1h-1zM87.9 614.2h1v1h-1zM94.7 608.7h1v1h-1zM93.9 613.0h1v1h-1zM84.7 611.8h1v1h-1zM93.0 611.9h1v1h-1zM92.1 611.0h1v1h-1zM94.2 617.5h1v1h-1zM80.5 616.7h1v1h-1zM89.5 615.5h1v1h-1zM96.9 609.0h1v1h-1zM89.6 619.0h1v1h-1zM93.1 622.5h1v1h-1zM89.8 608.6h1v1h-1zM87.9 612.8h1v1h-1zM91.2 609.1h1v1h-1zM96.0 607.7h1v1h-1zM90.6 611.1h1v1h-1zM91.5 613.5h1v1h-1zM89.1 607.6h1v1h-1zM93.9 613.4h1v1h-1zM92.4 611.5h1v1h-1zM94.2 606.4h1v1h-1zM93.2 612.9h1v1h-1zM84.7 617.5h1v1h-1zM86.9 613.9h1v1h-1zM95.4 613.5h1v1h-1zM88.0 618.1h1v1h-1zM92.8 610.8h1v1h-1zM82.4 616.5h1v1h-1zM87.2 614.5h1v1h-1zM95.8 606.8h1v1h-1zM88.5 611.7h1v1h-1zM89.1 620.5h1v1h-1zM96.7 613.7h1v1h-1zM97.5 610.3h1v1h-1zM90.3 614.6h1v1h-1z" fill="#000" opacity="0.5"/>
<path d="M83.3 623.7h1v1h-1zM86.3 614.1h1v1h-1zM90.6 608.4h1v1h-1zM94.4 607.5h1v1h-1zM90.1 609.4h1v1h-1zM96.5 616.6h1v1h-1zM87.8 617.9h1v1h-1zM97.9 609.9h1v1h-1zM83.3 612.3h1v1h-1zM92.7 609.2h1v1h-1zM92.5 608.7h1v1h-1zM92.2 613.8h1v1h-1zM86.0 617.5h1v1h-1zM86.9 620.4h1v1h-1zM87.5 621.8h1v1h-1zM97.8 604.5h1v1h-1zM88.5 610.7h1v1h-1zM90.1 610.6h1v1h-1zM96.1 613.4h1v1h-1zM92.6 604.8h1v1h-1zM92.3 612.9h1v1h-1zM98.6 605.5h1v1h-1zM88.6 613.5h1v1h-1zM85.5 615.3h1v1h-1zM89.7 608.9h1v1h-1zM89.6 611.4h1v1h-1zM89.8 611.6h1v1h-1zM107.0 608.3h1v1h-1zM90.4 617.1h1v1h-1zM94.4 605.4h1v1h-1zM98.4 604.4h1v1h-1zM99.5 607.0h1v1h-1zM94.7 615.9h1v1h-1zM93.1 615.5h1v1h-1zM106.0 609.4h1v1h-1zM88.2 616.8h1v1h-1zM92.2 611.6h1v1h-1zM89.9 615.3h1v1h-1zM94.8 605.1h1v1h-1zM90.9 612.4h1v1h-1zM87.4 607.9h1v1h-1zM98.1 614.7h1v1h-1zM90.6 613.5h1v1h-1zM97.6 609.0h1v1h-1zM88.9 613.4h1v1h-1zM88.0 617.6h1v1h-1zM85.0 615.6h1v1h-1zM95.2 610.9h1v1h-1zM92.4 612.4h1v1h-1zM88.5 617.9h1v1h-1zM89.2 608.5h1v1h-1zM87.3 611.2h1v1h-1zM92.7 614.0h1v1h-1zM95.1 605.2h1v1h-1zM83.3 614.1h1v1h-1zM90.9 607.9h1v1h-1zM94.8 614.4h1v1h-1zM94.5 606.8h1v1h-1zM86.0 610.6h1v1h-1zM102.2 610.6h1v1h-1zM89.5 610.2h1v1h-1zM73.3 615.4h1v1h-1zM102.7 601.6h1v1h-1zM96.3 606.7h1v1h-1zM91.5 613.8h1v1h-1zM92.5 611.8h1v1h-1zM91.8 612.5h1v1h-1zM95.0 607.0h1v1h-1zM82.5 616.5h1v1h-1zM92.4 614.9h1v1h-1zM90.9 613.5h1v1h-1zM95.1 613.3h1v1h-1zM97.8 605.8h1v1h-1zM91.3 616.5h1v1h-1zM94.1 613.7h1v1h-1zM90.8 611.4h1v1h-1zM90.2 609.9h1v1h-1zM86.8 621.0h1v1h-1zM91.0 618.0h1v1h-1zM89.5 611.9h1v1h-1zM94.2 615.6h1v1h-1zM87.2 617.6h1v1h-1zM83.3 611.3h1v1h-1zM97.5 604.5h1v1h-1zM100.1 606.3h1v1h-1zM80.7 610.0h1v1h-1zM94.9 613.0h1v1h-1zM91.6 624.2h1v1h-1zM83.9 615.8h1v1h-1zM90.3 612.7h1v1h-1zM103.6 613.8h1v1h-1zM85.0 610.7h1v1h-1zM91.1 609.3h1v1h-1zM93.1 613.4h1v1h-1zM96.9 606.4h1v1h-1zM88.5 613.1h1v1h-1zM88.0 616.6h1v1h-1zM91.0 615.6h1v1h-1zM91.2 607.5h1v1h-1zM97.4 609.8h1v1h-1zM91.3 613.0h1v1h-1zM94.3 610.5h1v1h-1zM80.7 616.1h1v1h-1zM94.6 607.4h1v1h-1zM96.1 606.7h1v1h-1zM90.5 610.3h1v1h-1zM90.1 606.8h1v1h-1zM89.9 613.1h1v1h-1zM94.2 609.8h1v1h-1zM81.4 611.0h1v1h-1zM96.5 614.4h1v1h-1zM92.6 613.4h1v1h-1zM94.5 607.2h1v1h-1zM93.0 613.4h1v1h-1zM94.4 614.3h1v1h-1zM99.8 608.8h1v1h-1zM93.8 610.5h1v1h-1zM79.8 615.7h1v1h-1zM90.8 615.6h1v1h-1zM98.4 609.3h1v1h-1zM90.8 608.3h1v1h-1zM84.4 612.7h1v1h-1zM101.2 612.3h1v1h-1zM90.5 606.3h1v1h-1zM88.1 609.9h1v1h-1zM92.4 617.5h1v1h-1zM94.1 615.1h1v1h-1zM89.9 609.2h1v1h-1zM96.3 603.2h1v1h-1zM93.6 607.8h1v1h-1zM94.6 611.9h1v1h-1zM86.6 608.2h1v1h-1zM90.5 604.9h1v1h-1zM97.4 612.9h1v1h-1zM80.0 622.2h1v1h-1zM95.0 604.6h1v1h-1zM79.5 614.2h1v1h-1zM92.1 609.4h1v1h-1zM90.5 611.6h1v1h-1zM102.1 609.4h1v1h-1zM85.4 610.5h1v1h-1zM98.5 612.4h1v1h-1zM84.7 620.6h1v1h-1zM96.9 607.2h1v1h-1zM78.3 622.3h1v1h-1zM91.0 615.9h1v1h-1zM88.9 617.6h1v1h-1zM95.7 598.9h1v1h-1zM90.6 611.5h1v1h-1zM88.6 614.5h1v1h-1zM90.8 607.3h1v1h-1zM91.5 610.3h1v1h-1zM96.2 608.6h1v1h-1zM103.1 608.7h1v1h-1zM94.9 611.6h1v1h-1zM90.5 611.9h1v1h-1zM95.2 610.5h1v1h-1zM88.7 617.1h1v1h-1zM92.0 608.5h1v1h-1zM92.9 609.3h1v1h-1zM93.5 607.6h1v1h-1zM86.9 613.7h1v1h-1zM93.6 614.4h1v1h-1zM92.5 608.8h1v1h-1zM83.8 615.3h1v1h-1zM96.7 609.0h1v1h-1zM95.6 608.7h1v1h-1zM93.9 607.1h1v1h-1zM90.4 617.7h1v1h-1zM93.4 605.5h1v1h-1zM91.8 603.3h1v1h-1zM86.4 620.2h1v1h-1zM80.6 609.5h1v1h-1zM92.3 608.5h1v1h-1zM88.4 614.5h1v1h-1zM88.7 607.5h1v1h-1zM95.7 608.4h1v1h-1zM101.3 609.0h1v1h-1zM91.4 616.1h1v1h-1zM96.2 609.1h1v1h-1zM98.2 606.0h1v1h-1zM92.4 612.8h1v1h-1zM93.3 615.0h1v1h-1zM91.3 610.2h1v1h-1zM93.9 609.1h1v1h-1zM91.0 608.5h1v1h-1zM90.2 610.6h1v1h-1zM87.9 608.7h1v1h-1zM96.2 610.3h1v1h-1zM90.6 611.3h1v1h-1zM84.9 611.5h1v1h-1zM88.6 605.4h1v1h-1zM87.3 611.1h1v1h-1zM106.0 603.7h1v1h-1zM96.9 608.8h1v1h-1zM95.5 612.7h1v1h-1zM88.2 609.9h1v1h-1zM91.4 604.4h1v1h-1zM92.8 610.2h1v1h-1zM93.4 601.4h1v1h-1zM94.3 611.1h1v1h-1zM89.8 619.0h1v1h-1zM99.4 603.9h1v1h-1zM87.2 611.6h1v1h-1zM87.0 606.7h1v1h-1zM88.0 615.0h1v1h-1zM98.4 604.4h1v1h-1zM95.1 618.8h1v1h-1zM91.8 605.9h1v1h-1zM92.6 610.0h1v1h-1zM91.0 613.8h1v1h-1zM98.9 608.8h1v1h-1zM99.5 611.1h1v1h-1zM90.5 609.8h1v1h-1zM92.9 613.3h1v1h-1zM81.8 613.5h1v1h-1zM95.7 609.6h1v1h-1zM95.4 606.6h1v1h-1zM95.2 606.2h1v1h-1zM84.7 617.6h1v1h-1zM94.3 607.6h1v1h-1zM86.2 617.1h1v1h-1zM101.5 602.7h1v1h-1zM105.3 602.2h1v1h-1zM87.1 611.4h1v1h-1zM90.2 611.0h1v1h-1zM91.5 608.9h1v1h-1zM92.9 604.6h1v1h-1zM94.0 618.5h1v1h-1zM98.6 612.0h1v1h-1zM87.0 604.5h1v1h-1zM88.5 612.3h1v1h-1zM88.6 617.0h1v1h-1zM84.0 618.1h1v1h-1zM86.9 610.7h1v1h-1zM100.2 608.3h1v1h-1zM88.9 607.4h1v1h-1zM102.4 606.9h1v1h-1zM85.9 614.2h1v1h-1zM88.7 608.1h1v1h-1zM104.7 602.8h1v1h-1zM97.7 604.3h1v1h-1zM94.8 612.0h1v1h-1zM83.0 615.3h1v1h-1zM88.1 615.4h1v1h-1zM96.0 603.6h1v1h-1zM95.4 610.4h1v1h-1zM78.2 608.7h1v1h-1zM84.9 614.6h1v1h-1zM92.8 610.8h1v1h-1zM87.3 610.4h1v1h-1zM88.8 613.3h1v1h-1zM81.3 614.0h1v1h-1zM92.4 612.4h1v1h-1zM88.6 612.3h1v1h-1zM104.0 604.1h1v1h-1zM84.7 617.9h1v1h-1zM96.7 611.2h1v1h-1zM95.5 612.0h1v1h-1zM101.0 603.7h1v1h-1zM96.6 605.3h1v1h-1zM87.2 615.4h1v1h-1zM83.2 610.2h1v1h-1zM87.3 610.4h1v1h-1zM88.1 609.8h1v1h-1zM90.9 614.2h1v1h-1zM85.5 609.0h1v1h-1zM95.4 602.7h1v1h-1zM79.5 622.4h1v1h-1zM91.9 602.9h1v1h-1zM93.4 608.4h1v1h-1zM77.3 614.3h1v1h-1zM90.8 608.6h1v1h-1zM87.9 612.9h1v1h-1zM105.5 601.0h1v1h-1zM88.8 608.4h1v1h-1zM97.2 611.4h1v1h-1zM87.3 611.4h1v1h-1zM98.0 605.2h1v1h-1zM88.6 610.8h1v1h-1zM98.6 611.6h1v1h-1zM90.3 609.7h1v1h-1zM85.8 614.0h1v1h-1zM87.5 608.9h1v1h-1zM86.2 612.2h1v1h-1zM87.0 610.2h1v1h-1zM90.0 608.1h1v1h-1zM101.5 610.0h1v1h-1zM85.8 610.3h1v1h-1zM86.0 616.6h1v1h-1zM89.7 610.4h1v1h-1zM97.0 611.2h1v1h-1zM96.4 610.5h1v1h-1zM101.6 606.2h1v1h-1zM97.9 610.4h1v1h-1zM100.8 606.6h1v1h-1zM99.0 611.6h1v1h-1zM86.7 612.9h1v1h-1zM91.9 602.6h1v1h-1zM86.9 611.8h1v1h-1z" fill="#000" opacity="0.5"/>
<path d="M95.7 612.8h1v1h-1zM94.8 607.9h1v1h-1zM89.9 613.2h1v1h-1zM91.6 609.1h1v1h-1zM91.2 610.0h1v1h-1zM87.3 610.3h1v1h-1zM85.2 615.1h1v1h-1zM100.0 611.8h1v1h-1zM86.6 613.6h1v1h-1zM91.1 602.0h1v1h-1zM90.1 608.6h1v1h-1zM96.3 607.1h1v1h-1zM96.5 606.0h1v1h-1zM90.7 611.5h1v1h-1zM87.1 614.5h1v1h-1zM91.0 606.0h1v1h-1zM95.0 605.0h1v1h-1zM102.7 603.7h1v1h-1zM93.0 606.9h1v1h-1zM89.4 611.4h1v1h-1zM92.3 615.1h1v1h-1zM93.3 612.0h1v1h-1zM95.1 612.7h1v1h-1zM78.0 613.1h1v1h-1zM93.5 609.7h1v1h-1zM86.2 609.9h1v1h-1zM93.4 612.6h1v1h-1zM87.0 618.1h1v1h-1zM92.7 607.2h1v1h-1zM84.6 601.9h1v1h-1zM86.2 614.2h1v1h-1zM95.4 603.7h1v1h-1zM95.0 609.5h1v1h-1zM87.8 612.0h1v1h-1zM93.7 615.8h1v1h-1zM96.7 610.0h1v1h-1zM90.7 617.0h1v1h-1zM94.1 605.4h1v1h-1zM98.4 608.3h1v1h-1zM93.6 614.6h1v1h-1zM94.7 614.7h1v1h-1zM90.8 612.6h1v1h-1zM92.7 612.6h1v1h-1zM94.2 608.2h1v1h-1zM87.4 616.4h1v1h-1zM84.9 620.2h1v1h-1zM91.4 616.3h1v1h-1zM82.3 622.6h1v1h-1zM97.0 609.2h1v1h-1zM92.5 614.6h1v1h-1zM83.8 620.0h1v1h-1zM97.5 615.4h1v1h-1zM84.6 607.8h1v1h-1zM91.8 613.4h1v1h-1zM86.9 617.5h1v1h-1zM94.9 609.0h1v1h-1zM98.5 609.6h1v1h-1zM90.2 612.7h1v1h-1zM89.7 608.7h1v1h-1zM88.0 611.0h1v1h-1zM94.7 606.5h1v1h-1zM100.5 598.6h1v1h-1zM92.7 617.6h1v1h-1zM90.9 612.6h1v1h-1zM86.4 612.6h1v1h-1zM90.1 611.3h1v1h-1zM93.6 615.0h1v1h-1zM94.5 606.9h1v1h-1zM97.9 607.7h1v1h-1zM94.8 609.4h1v1h-1zM92.4 613.3h1v1h-1zM90.1 607.3h1v1h-1zM93.7 606.9h1v1h-1zM87.1 614.5h1v1h-1zM90.6 615.0h1v1h-1zM90.5 605.2h1v1h-1zM102.8 610.1h1v1h-1zM80.4 614.0h1v1h-1zM90.4 616.5h1v1h-1zM104.4 613.7h1v1h-1zM91.6 613.7h1v1h-1zM95.6 608.3h1v1h-1zM92.2 606.8h1v1h-1zM94.1 610.6h1v1h-1zM89.4 608.6h1v1h-1zM82.5 614.5h1v1h-1zM92.5 612.8h1v1h-1zM95.8 605.3h1v1h-1zM91.2 612.6h1v1h-1zM91.9 607.2h1v1h-1zM94.2 609.2h1v1h-1zM89.7 613.1h1v1h-1zM85.0 610.7h1v1h-1zM101.2 609.5h1v1h-1zM91.4 617.4h1v1h-1zM91.3 613.5h1v1h-1zM90.9 604.2h1v1h-1zM102.3 603.9h1v1h-1zM93.1 610.8h1v1h-1zM91.0 610.7h1v1h-1zM94.7 609.0h1v1h-1zM96.8 603.5h1v1h-1zM79.7 618.4h1v1h-1zM90.7 609.4h1v1h-1zM94.6 612.4h1v1h-1zM81.1 621.0h1v1h-1zM86.1 611.2h1v1h-1zM85.4 618.8h1v1h-1zM87.9 611.0h1v1h-1zM101.2 608.2h1v1h-1zM90.7 612.9h1v1h-1zM97.2 612.1h1v1h-1zM93.0 610.1h1v1h-1zM88.6 610.2h1v1h-1zM96.9 612.3h1v1h-1zM91.5 614.3h1v1h-1zM86.4 609.5h1v1h-1zM94.8 613.9h1v1h-1zM91.4 611.6h1v1h-1zM88.0 612.5h1v1h-1zM90.0 613.7h1v1h-1zM93.6 612.7h1v1h-1zM88.7 612.2h1v1h-1zM94.4 610.6h1v1h-1zM90.4 606.5h1v1h-1zM97.4 608.2h1v1h-1zM93.1 608.2h1v1h-1zM88.9 617.9h1v1h-1zM98.1 610.7h1v1h-1zM96.8 604.0h1v1h-1zM94.8 616.4h1v1h-1zM82.7 612.2h1v1h-1zM93.4 608.3h1v1h-1zM98.2 614.3h1v1h-1zM97.8 615.1h1v1h-1zM103.9 606.5h1v1h-1zM93.8 608.5h1v1h-1zM92.7 606.4h1v1h-1zM104.8 601.9h1v1h-1zM100.1 610.2h1v1h-1zM97.0 615.4h1v1h-1zM96.0 614.0h1v1h-1zM88.9 620.4h1v1h-1zM90.1 609.9h1v1h-1zM87.1 621.9h1v1h-1zM104.1 601.3h1v1h-1zM85.4 610.7h1v1h-1zM92.7 613.5h1v1h-1zM85.0 602.5h1v1h-1zM98.3 617.9h1v1h-1zM98.5 611.1h1v1h-1zM87.1 613.5h1v1h-1zM93.9 610.2h1v1h-1zM99.4 611.3h1v1h-1zM88.8 611.2h1v1h-1zM88.9 611.8h1v1h-1zM87.0 615.9h1v1h-1zM105.6 605.6h1v1h-1zM89.0 608.9h1v1h-1zM90.8 612.2h1v1h-1zM85.8 611.9h1v1h-1zM93.9 606.2h1v1h-1zM91.2 607.3h1v1h-1zM93.7 611.7h1v1h-1zM88.9 614.8h1v1h-1zM91.2 615.6h1v1h-1zM95.3 617.3h1v1h-1zM100.2 601.8h1v1h-1zM80.3 615.2h1v1h-1zM89.1 611.1h1v1h-1zM90.5 614.3h1v1h-1zM93.0 613.4h1v1h-1zM93.4 609.7h1v1h-1zM90.7 613.2h1v1h-1zM97.3 610.9h1v1h-1zM97.0 609.7h1v1h-1zM92.6 614.4h1v1h-1zM91.6 610.4h1v1h-1zM98.3 610.9h1v1h-1zM90.0 610.2h1v1h-1zM94.3 620.7h1v1h-1zM98.6 609.0h1v1h-1zM97.4 611.7h1v1h-1zM84.5 615.9h1v1h-1zM96.3 617.0h1v1h-1zM90.8 609.7h1v1h-1zM87.2 613.5h1v1h-1zM97.8 602.2h1v1h-1zM90.1 605.9h1v1h-1zM96.5 608.1h1v1h-1zM83.2 615.7h1v1h-1zM92.0 613.7h1v1h-1zM82.1 615.0h1v1h-1zM86.4 613.5h1v1h-1zM90.9 616.2h1v1h-1zM74.3 616.4h1v1h-1zM92.4 614.4h1v1h-1zM95.3 614.0h1v1h-1zM87.9 616.0h1v1h-1zM91.7 620.0h1v1h-1zM90.4 604.6h1v1h-1zM91.1 614.5h1v1h-1zM94.7 612.2h1v1h-1zM96.3 606.7h1v1h-1zM89.2 611.6h1v1h-1zM86.5 607.0h1v1h-1zM89.6 610.7h1v1h-1zM92.5 604.6h1v1h-1zM98.9 613.4h1v1h-1zM97.5 610.3h1v1h-1zM95.6 606.0h1v1h-1zM91.6 610.1h1v1h-1zM84.3 612.8h1v1h-1zM83.7 610.5h1v1h-1zM96.1 609.0h1v1h-1zM93.6 606.4h1v1h-1zM97.4 607.0h1v1h-1zM95.0 609.3h1v1h-1zM89.4 617.3h1v1h-1zM89.1 614.8h1v1h-1zM87.1 616.5h1v1h-1zM92.6 609.9h1v1h-1zM89.1 618.8h1v1h-1zM95.7 608.6h1v1h-1zM90.8 616.5h1v1h-1zM84.2 610.5h1v1h-1zM81.0 616.0h1v1h-1zM91.6 611.4h1v1h-1zM99.7 606.7h1v1h-1zM99.2 608.6h1v1h-1zM89.6 618.8h1v1h-1zM93.9 615.9h1v1h-1zM99.6 614.5h1v1h-1zM85.6 620.6h1v1h-1zM89.9 616.6h1v1h-1zM84.9 613.0h1v1h-1zM92.5 616.5h1v1h-1zM93.6 618.8h1v1h-1zM94.9 608.2h1v1h-1zM90.4 609.7h1v1h-1zM90.0 617.4h1v1h-1zM105.8 602.2h1v1h-1zM96.4 617.6h1v1h-1zM95.0 620.2h1v1h-1zM89.2 614.2h1v1h-1zM92.3 614.8h1v1h-1zM99.1 604.4h1v1h-1zM101.1 603.7h1v1h-1zM88.6 609.5h1v1h-1zM88.3 616.3h1v1h-1zM83.0 613.0h1v1h-1zM84.0 614.6h1v1h-1zM86.6 617.7h1v1h-1zM95.8 603.7h1v1h-1zM96.2 610.1h1v1h-1zM85.4 617.1h1v1h-1zM92.5 616.9h1v1h-1zM84.3 611.7h1v1h-1zM86.7 614.7h1v1h-1zM100.1 609.3h1v1h-1zM91.0 613.8h1v1h-1zM97.7 602.0h1v1h-1zM88.6 614.6h1v1h-1zM90.3 612.4h1v1h-1zM97.3 607.8h1v1h-1zM92.0 604.1h1v1h-1zM87.9 616.7h1v1h-1zM92.6 615.6h1v1h-1zM96.8 606.5h1v1h-1zM93.0 609.8h1v1h-1zM96.6 609.8h1v1h-1zM91.1 611.8h1v1h-1zM91.1 612.4h1v1h-1zM100.6 606.5h1v1h-1zM98.8 609.4h1v1h-1zM91.2 611.2h1v1h-1zM88.4 622.7h1v1h-1zM91.3 610.9h1v1h-1zM93.6 612.6h1v1h-1zM90.3 609.3h1v1h-1zM93.2 612.1h1v1h-1zM92.4 615.3h1v1h-1zM92.3 612.0h1v1h-1zM80.0 616.5h1v1h-1zM101.5 610.6h1v1h-1zM89.2 611.1h1v1h-1zM91.5 613.3h1v1h-1zM89.8 608.1h1v1h-1zM86.5 614.4h1v1h-1zM87.3 616.6h1v1h-1zM98.0 610.3h1v1h-1zM91.5 606.4h1v1h-1zM84.1 614.2h1v1h-1zM85.6 612.8h1v1h-1zM91.4 616.2h1v1h-1zM92.0 619.6h1v1h-1zM96.2 616.8h1v1h-1zM90.1 613.9h1v1h-1zM87.7 611.0h1v1h-1zM88.9 608.7h1v1h-1z" fill="#000" opacity="0.5"/>
<path d="M85.5 611.1h1v1h-1zM93.2 611.9h1v1h-1zM101.7 606.8h1v1h-1zM94.5 608.8h1v1h-1zM102.1 613.6h1v1h-1zM86.5 612.9h1v1h-1zM85.1 620.8h1v1h-1zM85.4 615.6h1v1h-1zM98.8 614.7h1v1h-1zM90.9 610.2h1v1h-1zM95.4 614.8h1v1h-1zM93.0 614.3h1v1h-1zM100.8 608.9h1v1h-1zM84.6 620.0h1v1h-1zM83.8 617.3h1v1h-1zM92.7 611.9h1v1h-1zM89.4 613.0h1v1h-1zM98.6 604.1h1v1h-1zM89.8 611.5h1v1h-1zM79.8 615.8h1v1h-1zM94.0 612.1h1v1h-1zM88.5 614.2h1v1h-1zM93.6 609.2h1v1h-1zM81.5 624.5h1v1h-1zM96.2 600.3h1v1h-1zM91.9 611.1h1v1h-1zM93.8 613.3h1v1h-1zM91.1 609.4h1v1h-1zM86.5 615.5h1v1h-1zM95.1 607.8h1v1h-1zM90.8 610.2h1v1h-1zM85.2 622.0h1v1h-1zM88.4 618.8h1v1h-1zM91.2 608.0h1v1h-1zM100.0 604.1h1v1h-1zM90.9 617.7h1v1h-1zM98.1 610.2h1v1h-1zM102.5 613.6h1v1h-1zM92.1 612.1h1v1h-1zM93.1 608.6h1v1h-1zM95.7 610.7h1v1h-1zM96.7 612.0h1v1h-1zM96.5 614.8h1v1h-1zM91.7 620.2h1v1h-1zM97.3 597.0h1v1h-1zM93.1 613.6h1v1h-1zM96.0 604.2h1v1h-1zM100.2 609.7h1v1h-1zM86.3 611.4h1v1h-1zM99.9 609.8h1v1h-1zM84.6 613.9h1v1h-1zM100.4 608.9h1v1h-1zM87.6 613.9h1v1h-1zM100.8 601.3h1v1h-1zM90.3 609.3h1v1h-1zM85.8 611.6h1v1h-1zM92.3 611.3h1v1h-1zM97.0 608.3h1v1h-1zM92.4 612.7h1v1h-1zM95.2 608.5h1v1h-1zM102.3 596.6h1v1h-1zM85.9 615.2h1v1h-1zM95.4 610.8h1v1h-1zM96.5 606.8h1v1h-1zM106.4 604.7h1v1h-1zM87.0 613.6h1v1h-1zM86.9 615.2h1v1h-1zM87.5 616.2h1v1h-1zM94.6 608.1h1v1h-1zM88.4 618.1h1v1h-1zM94.1 610.3h1v1h-1zM103.7 606.2h1v1h-1zM84.6 614.7h1v1h-1zM89.2 612.2h1v1h-1zM93.5 614.1h1v1h-1zM96.3 607.8h1v1h-1zM82.6 616.5h1v1h-1zM95.9 605.0h1v1h-1zM93.3 611.1h1v1h-1zM88.6 610.7h1v1h-1zM93.2 606.1h1v1h-1zM83.0 608.0h1v1h-1zM90.5 609.4h1v1h-1zM88.7 608.1h1v1h-1zM97.5 602.2h1v1h-1zM85.8 614.5h1v1h-1zM95.9 604.3h1v1h-1zM83.4 620.8h1v1h-1zM88.9 611.6h1v1h-1zM91.1 611.0h1v1h-1zM91.2 614.4h1v1h-1zM84.3 614.4h1v1h-1zM99.2 608.4h1v1h-1zM88.6 607.3h1v1h-1zM93.8 605.1h1v1h-1zM92.5 612.7h1v1h-1zM91.6 613.1h1v1h-1zM89.1 613.0h1v1h-1zM89.3 616.1h1v1h-1zM84.9 620.0h1v1h-1zM84.7 612.8h1v1h-1zM89.5 610.2h1v1h-1zM91.5 616.9h1v1h-1zM90.1 609.8h1v1h-1zM88.4 616.3h1v1h-1zM88.2 613.3h1v1h-1zM103.2 615.4h1v1h-1zM86.8 615.4h1v1h-1zM100.4 604.5h1v1h-1zM95.0 610.3h1v1h-1zM83.2 611.0h1v1h-1zM96.4 607.1h1v1h-1zM83.6 620.7h1v1h-1zM103.6 606.2h1v1h-1zM85.1 613.5h1v1h-1zM95.5 607.7h1v1h-1zM94.0 605.1h1v1h-1zM89.9 614.6h1v1h-1zM90.0 621.4h1v1h-1zM97.4 609.5h1v1h-1zM91.7 609.9h1v1h-1zM98.8 611.7h1v1h-1zM98.0 614.9h1v1h-1zM92.1 611.7h1v1h-1zM89.9 615.4h1v1h-1zM90.1 615.5h1v1h-1zM90.8 606.6h1v1h-1zM94.5 616.1h1v1h-1zM91.0 615.4h1v1h-1zM88.7 616.5h1v1h-1zM95.6 610.6h1v1h-1zM94.1 604.2h1v1h-1zM86.5 609.5h1v1h-1zM93.9 608.5h1v1h-1zM89.7 612.4h1v1h-1zM86.1 617.6h1v1h-1zM86.3 612.9h1v1h-1zM85.7 610.5h1v1h-1zM88.7 613.3h1v1h-1zM93.5 609.8h1v1h-1zM85.1 616.2h1v1h-1zM94.0 609.8h1v1h-1zM97.6 603.5h1v1h-1zM95.6 616.2h1v1h-1zM97.5 603.7h1v1h-1zM86.2 615.7h1v1h-1zM95.6 617.4h1v1h-1zM90.8 614.1h1v1h-1zM88.1 616.7h1v1h-1zM88.6 614.9h1v1h-1zM91.8 611.9h1v1h-1zM94.7 604.5h1v1h-1zM90.9 608.8h1v1h-1zM96.6 612.3h1v1h-1zM93.1 617.1h1v1h-1zM97.6 605.6h1v1h-1zM82.6 621.8h1v1h-1zM96.6 604.8h1v1h-1zM98.1 603.3h1v1h-1zM89.4 608.4h1v1h-1zM84.5 610.8h1v1h-1zM104.2 608.7h1v1h-1zM91.4 612.0h1v1h-1zM100.4 613.8h1v1h-1zM96.9 615.4h1v1h-1zM87.2 612.4h1v1h-1zM99.8 608.8h1v1h-1zM90.5 619.5h1v1h-1zM89.4 614.2h1v1h-1zM89.0 609.1h1v1h-1zM93.0 611.4h1v1h-1zM87.3 615.6h1v1h-1zM93.8 618.6h1v1h-1zM91.2 609.5h1v1h-1zM92.3 613.3h1v1h-1zM81.9 616.1h1v1h-1zM89.8 612.4h1v1h-1zM98.7 606.3h1v1h-1zM93.0 610.1h1v1h-1zM88.8 612.3h1v1h-1zM90.5 608.8h1v1h-1zM88.1 616.2h1v1h-1zM90.4 608.4h1v1h-1zM89.2 606.8h1v1h-1zM89.4 614.8h1v1h-1zM93.8 606.4h1v1h-1zM88.8 610.3h1v1h-1zM81.3 619.8h1v1h-1zM94.9 612.5h1v1h-1zM81.3 617.5h1v1h-1zM83.1 616.8h1v1h-1zM94.9 609.1h1v1h-1zM92.1 610.5h1v1h-1zM86.4 608.4h1v1h-1zM86.4 610.8h1v1h-1zM101.8 611.1h1v1h-1zM86.7 614.1h1v1h-1zM85.7 612.4h1v1h-1zM86.2 613.6h1v1h-1zM83.7 617.2h1v1h-1zM92.8 611.3h1v1h-1zM88.8 608.9h1v1h-1zM92.0 609.5h1v1h-1zM91.9 607.4h1v1h-1zM96.2 610.8h1v1h-1zM89.0 617.3h1v1h-1zM88.0 616.6h1v1h-1zM103.6 605.9h1v1h-1zM91.7 613.2h1v1h-1zM90.2 611.5h1v1h-1zM97.2 607.9h1v1h-1zM85.2 618.7h1v1h-1zM94.7 605.6h1v1h-1zM88.7 616.9h1v1h-1zM102.1 599.8h1v1h-1zM79.4 616.7h1v1h-1zM85.8 614.7h1v1h-1zM105.6 602.3h1v1h-1zM99.3 605.6h1v1h-1zM93.9 618.7h1v1h-1zM99.8 608.7h1v1h-1zM87.8 616.6h1v1h-1zM91.4 612.4h1v1h-1zM89.0 604.4h1v1h-1zM92.3 616.6h1v1h-1zM90.9 618.1h1v1h-1zM99.1 614.9h1v1h-1zM90.1 606.1h1v1h-1zM95.7 602.9h1v1h-1zM90.5 613.1h1v1h-1zM90.8 609.8h1v1h-1zM81.0 615.4h1v1h-1zM91.6 614.3h1v1h-1zM88.7 612.5h1v1h-1zM96.3 611.4h1v1h-1zM87.3 613.0h1v1h-1zM84.7 617.1h1v1h-1zM92.9 611.6h1v1h-1zM92.5 610.2h1v1h-1zM90.5 610.6h1v1h-1zM86.5 618.1h1v1h-1zM88.2 617.0h1v1h-1zM93.8 617.0h1v1h-1zM81.4 614.9h1v1h-1zM94.6 610.2h1v1h-1zM93.1 612.0h1v1h-1zM90.4 610.5h1v1h-1zM82.6 616.9h1v1h-1zM90.9 610.4h1v1h-1zM103.5 607.5h1v1h-1zM91.0 618.1h1v1h-1zM95.3 607.3h1v1h-1zM87.4 618.3h1v1h-1zM84.1 613.1h1v1h-1zM90.2 613.0h1v1h-1zM94.8 609.0h1v1h-1zM92.5 615.9h1v1h-1zM95.2 606.5h1v1h-1zM93.1 608.0h1v1h-1zM99.6 610.9h1v1h-1zM93.9 605.4h1v1h-1zM88.8 608.2h1v1h-1zM95.1 613.2h1v1h-1zM91.3 610.8h1v1h-1zM93.3 610.9h1v1h-1zM91.5 606.4h1v1h-1zM81.9 620.2h1v1h-1zM85.1 612.9h1v1h-1zM83.3 611.7h1v1h-1zM92.3 607.5h1v1h-1zM96.4 604.6h1v1h-1zM93.5 609.9h1v1h-1zM85.9 612.1h1v1h-1zM95.0 613.8h1v1h-1zM91.1 610.7h1v1h-1zM86.2 612.9h1v1h-1zM90.5 615.4h1v1h-1zM92.2 610.4h1v1h-1zM99.9 606.7h1v1h-1zM93.2 613.8h1v1h-1zM91.0 608.5h1v1h-1zM90.1 611.5h1v1h-1zM93.9 609.9h1v1h-1zM92.6 612.0h1v1h-1zM101.9 605.2h1v1h-1zM100.3 605.2h1v1h-1zM98.4 604.2h1v1h-1zM92.9 606.2h1v1h-1zM87.8 608.5h1v1h-1zM97.8 608.3h1v1h-1zM99.1 611.9h1v1h-1zM89.5 615.2h1v1h-1zM91.7 620.0h1v1h-1zM91.1 608.1h1v1h-1zM98.2 607.3h1v1h-1zM86.6 611.6h1v1h-1zM81.8 615.5h1v1h-1zM87.0 618.8h1v1h-1zM101.2 602.7h1v1h-1zM93.7 602.2h1v1h-1z" fill="#000" opacity="0.5"/>
</g>
<ellipse cx="92.2" cy="611.3" rx="25" ry="11" fill="none" stroke="#7878c0" stroke-width="0.85" transform="rotate(-35 92.2 611.3)"/>
<rect x="31.5" y="573.6" width="93.0" height="93.19999999999993" fill="none" stroke="#8a8a8a" stroke-width="1"/>
<text x="34.8" y="585.3" font-size="9.5" text-anchor="start" font-weight="bold" stroke="#000" stroke-width="0.15" >WT2.1</text>
<text x="100.8" y="585.3" font-size="9.5" text-anchor="middle" font-weight="bold" stroke="#000" stroke-width="0.15" >82.0</text>
<clipPath id="fc1"><rect x="130.8" y="573.6" width="92.0" height="93.19999999999993"/></clipPath>
<g clip-path="url(#fc1)">
<path d="M193.8 616.4h1v1h-1zM187.2 613.2h1v1h-1zM203.5 608.3h1v1h-1zM142.3 618.4h1v1h-1zM149.4 645.5h1v1h-1zM177.7 619.8h1v1h-1zM144.9 631.7h1v1h-1zM154.0 636.5h1v1h-1zM135.2 655.7h1v1h-1zM138.7 644.8h1v1h-1zM144.8 631.7h1v1h-1zM190.2 606.2h1v1h-1zM163.1 617.6h1v1h-1zM141.3 656.7h1v1h-1zM154.3 648.9h1v1h-1zM202.0 610.4h1v1h-1zM151.2 636.2h1v1h-1zM156.8 655.6h1v1h-1zM166.0 639.1h1v1h-1zM150.2 638.9h1v1h-1zM151.6 649.8h1v1h-1zM188.4 597.6h1v1h-1zM189.8 615.7h1v1h-1zM136.9 630.9h1v1h-1zM160.8 645.3h1v1h-1zM186.8 615.9h1v1h-1zM180.2 621.3h1v1h-1zM183.2 602.2h1v1h-1zM149.6 656.7h1v1h-1zM188.0 630.2h1v1h-1zM180.9 640.9h1v1h-1zM156.5 645.1h1v1h-1zM187.5 621.9h1v1h-1zM161.5 631.4h1v1h-1zM195.8 620.6h1v1h-1zM154.6 645.8h1v1h-1zM189.3 614.1h1v1h-1zM173.1 650.2h1v1h-1zM156.7 625.9h1v1h-1zM153.4 647.8h1v1h-1zM180.7 592.5h1v1h-1zM171.1 631.9h1v1h-1zM161.8 633.0h1v1h-1zM177.3 615.3h1v1h-1zM184.0 617.4h1v1h-1zM138.7 643.9h1v1h-1zM151.3 648.2h1v1h-1zM147.7 646.1h1v1h-1zM183.2 606.8h1v1h-1zM204.1 615.2h1v1h-1zM151.8 651.9h1v1h-1zM194.2 617.7h1v1h-1zM177.1 615.7h1v1h-1zM182.3 597.0h1v1h-1zM176.1 626.8h1v1h-1zM199.5 610.3h1v1h-1zM152.3 639.6h1v1h-1zM173.2 633.0h1v1h-1zM149.4 644.9h1v1h-1zM135.9 637.8h1v1h-1zM197.1 608.7h1v1h-1zM146.4 654.6h1v1h-1zM198.8 612.1h1v1h-1zM151.7 645.7h1v1h-1zM189.8 622.9h1v1h-1zM134.9 634.1h1v1h-1zM187.0 608.9h1v1h-1zM164.1 622.0h1v1h-1zM191.7 615.2h1v1h-1zM167.8 611.6h1v1h-1zM182.0 620.6h1v1h-1zM192.8 610.6h1v1h-1zM184.1 624.8h1v1h-1zM161.7 646.4h1v1h-1zM166.0 620.2h1v1h-1zM151.0 633.1h1v1h-1zM155.1 641.3h1v1h-1zM184.5 615.2h1v1h-1zM180.6 638.2h1v1h-1zM192.1 620.6h1v1h-1zM172.9 618.5h1v1h-1zM155.9 651.9h1v1h-1zM178.0 613.3h1v1h-1zM143.8 644.3h1v1h-1zM136.3 654.8h1v1h-1zM148.4 651.2h1v1h-1zM144.7 626.4h1v1h-1zM153.7 629.8h1v1h-1zM194.8 614.0h1v1h-1zM195.4 621.7h1v1h-1zM149.3 646.6h1v1h-1zM140.6 630.3h1v1h-1zM160.3 623.4h1v1h-1zM158.1 655.9h1v1h-1zM150.6 641.1h1v1h-1zM185.0 616.7h1v1h-1zM187.5 621.9h1v1h-1zM186.8 620.5h1v1h-1zM143.1 627.3h1v1h-1zM147.1 632.8h1v1h-1zM142.8 654.9h1v1h-1zM142.2 642.4h1v1h-1zM143.7 635.4h1v1h-1zM150.3 644.2h1v1h-1zM156.2 618.7h1v1h-1zM150.2 655.1h1v1h-1zM138.8 642.5h1v1h-1zM179.4 624.3h1v1h-1zM159.9 619.4h1v1h-1zM141.5 622.1h1v1h-1zM190.5 609.3h1v1h-1zM160.4 627.4h1v1h-1zM146.9 646.9h1v1h-1zM153.9 626.9h1v1h-1zM179.9 610.4h1v1h-1zM168.4 621.0h1v1h-1zM190.6 610.5h1v1h-1zM156.7 637.7h1v1h-1zM143.2 638.2h1v1h-1zM182.2 609.9h1v1h-1zM142.1 640.8h1v1h-1zM185.5 620.2h1v1h-1zM155.7 620.1h1v1h-1zM153.4 643.6h1v1h-1zM195.3 607.6h1v1h-1zM139.1 626.7h1v1h-1zM135.1 659.2h1v1h-1zM169.3 612.8h1v1h-1zM191.8 620.5h1v1h-1zM174.2 627.3h1v1h-1zM174.1 621.1h1v1h-1zM188.5 615.4h1v1h-1zM203.6 611.4h1v1h-1zM165.1 624.7h1v1h-1zM140.5 628.5h1v1h-1zM182.0 624.1h1v1h-1zM183.4 616.8h1v1h-1zM154.7 644.3h1v1h-1zM141.8 643.0h1v1h-1zM141.5 643.7h1v1h-1zM170.9 627.0h1v1h-1zM167.4 627.8h1v1h-1zM190.5 614.1h1v1h-1zM185.2 618.6h1v1h-1zM144.9 625.6h1v1h-1zM152.7 639.1h1v1h-1zM194.9 609.4h1v1h-1zM187.5 614.7h1v1h-1zM183.9 624.6h1v1h-1zM175.5 621.7h1v1h-1zM170.5 642.0h1v1h-1zM148.9 631.9h1v1h-1zM172.9 626.3h1v1h-1zM180.7 634.6h1v1h-1zM166.7 637.8h1v1h-1zM137.3 650.2h1v1h-1zM174.3 622.9h1v1h-1zM187.6 614.5h1v1h-1zM143.5 650.7h1v1h-1zM181.9 633.4h1v1h-1zM191.8 615.5h1v1h-1zM198.1 607.5h1v1h-1zM136.4 632.6h1v1h-1zM142.6 654.5h1v1h-1zM134.4 647.8h1v1h-1zM198.4 614.8h1v1h-1zM158.3 630.4h1v1h-1zM157.4 626.5h1v1h-1zM208.4 603.1h1v1h-1zM132.8 649.0h1v1h-1zM175.3 614.9h1v1h-1zM149.4 627.7h1v1h-1zM175.2 626.2h1v1h-1zM184.6 615.3h1v1h-1zM177.2 622.0h1v1h-1zM173.4 640.1h1v1h-1zM150.1 641.7h1v1h-1zM146.2 630.3h1v1h-1zM198.6 612.7h1v1h-1zM148.7 658.4h1v1h-1zM183.0 613.7h1v1h-1zM146.7 639.9h1v1h-1zM158.2 642.5h1v1h-1zM151.4 631.9h1v1h-1zM146.2 625.6h1v1h-1zM141.9 647.4h1v1h-1zM147.9 643.9h1v1h-1zM176.0 614.9h1v1h-1zM197.3 614.6h1v1h-1zM152.1 626.5h1v1h-1zM152.4 634.9h1v1h-1zM174.2 619.0h1v1h-1zM144.9 638.2h1v1h-1zM170.8 625.5h1v1h-1zM173.1 610.8h1v1h-1zM201.3 604.1h1v1h-1zM168.3 607.5h1v1h-1zM174.0 635.9h1v1h-1zM191.6 603.8h1v1h-1zM190.2 618.8h1v1h-1zM186.1 622.6h1v1h-1zM185.8 618.2h1v1h-1zM186.5 618.2h1v1h-1zM194.7 615.8h1v1h-1zM158.3 642.5h1v1h-1zM186.2 612.5h1v1h-1zM150.0 649.1h1v1h-1zM192.1 614.5h1v1h-1zM165.0 612.9h1v1h-1zM177.8 627.1h1v1h-1zM156.5 661.2h1v1h-1zM207.8 601.9h1v1h-1zM147.4 633.9h1v1h-1zM157.9 627.8h1v1h-1zM167.9 623.5h1v1h-1zM145.6 650.2h1v1h-1zM172.7 618.7h1v1h-1zM172.6 628.6h1v1h-1zM158.3 628.5h1v1h-1zM144.7 646.9h1v1h-1zM154.2 651.5h1v1h-1zM175.0 632.2h1v1h-1zM140.9 658.0h1v1h-1zM140.1 635.2h1v1h-1zM191.3 613.2h1v1h-1zM160.9 644.0h1v1h-1zM174.3 630.5h1v1h-1zM149.9 638.1h1v1h-1zM181.3 620.5h1v1h-1zM145.7 635.9h1v1h-1zM196.4 608.5h1v1h-1zM190.5 621.6h1v1h-1zM164.8 626.1h1v1h-1zM173.3 618.9h1v1h-1zM192.6 611.7h1v1h-1zM156.1 640.9h1v1h-1zM190.1 614.2h1v1h-1zM149.3 657.8h1v1h-1zM148.8 654.3h1v1h-1zM155.9 638.5h1v1h-1zM184.4 608.6h1v1h-1zM146.7 635.3h1v1h-1zM174.1 629.9h1v1h-1zM139.3 630.2h1v1h-1zM170.3 628.1h1v1h-1zM146.1 642.2h1v1h-1zM175.2 641.9h1v1h-1zM163.4 633.3h1v1h-1zM188.7 614.2h1v1h-1zM143.3 650.0h1v1h-1zM144.5 638.6h1v1h-1zM182.6 611.6h1v1h-1zM152.3 653.2h1v1h-1zM159.2 632.0h1v1h-1zM159.5 643.5h1v1h-1zM185.7 610.1h1v1h-1zM163.8 635.1h1v1h-1zM198.7 611.6h1v1h-1zM144.8 648.2h1v1h-1zM201.0 605.5h1v1h-1zM172.9 636.5h1v1h-1zM194.2 620.8h1v1h-1zM140.8 641.5h1v1h-1zM170.0 623.4h1v1h-1zM161.2 647.5h1v1h-1zM184.6 617.2h1v1h-1zM194.6 615.7h1v1h-1zM154.5 646.2h1v1h-1zM194.2 609.6h1v1h-1zM141.2 631.8h1v1h-1zM163.3 637.1h1v1h-1zM181.7 619.8h1v1h-1zM183.7 614.9h1v1h-1zM187.1 610.3h1v1h-1zM184.4 621.0h1v1h-1zM150.3 654.1h1v1h-1zM178.1 614.0h1v1h-1zM188.9 611.0h1v1h-1zM178.7 625.8h1v1h-1zM175.9 619.1h1v1h-1zM185.7 615.3h1v1h-1zM134.6 629.5h1v1h-1zM135.4 626.3h1v1h-1zM136.1 659.6h1v1h-1zM147.1 636.5h1v1h-1zM149.0 624.9h1v1h-1zM173.5 613.5h1v1h-1zM152.0 625.4h1v1h-1zM157.8 650.7h1v1h-1zM196.3 611.6h1v1h-1zM186.3 622.7h1v1h-1zM187.5 604.2h1v1h-1zM185.9 629.6h1v1h-1zM159.6 639.7h1v1h-1zM171.6 624.6h1v1h-1zM151.4 624.7h1v1h-1zM169.3 624.4h1v1h-1zM161.1 637.0h1v1h-1zM153.7 628.0h1v1h-1zM143.3 631.0h1v1h-1zM166.0 624.6h1v1h-1zM145.7 652.0h1v1h-1zM190.8 606.0h1v1h-1zM188.0 603.4h1v1h-1zM159.2 621.1h1v1h-1zM163.0 633.0h1v1h-1zM140.6 625.8h1v1h-1zM144.0 644.3h1v1h-1zM162.2 627.8h1v1h-1zM160.1 644.5h1v1h-1zM191.2 610.2h1v1h-1zM204.1 599.8h1v1h-1zM184.4 622.6h1v1h-1zM150.2 642.8h1v1h-1zM151.1 634.4h1v1h-1zM150.2 630.6h1v1h-1zM194.3 606.6h1v1h-1zM172.6 624.0h1v1h-1zM136.2 645.9h1v1h-1zM181.5 617.0h1v1h-1zM162.8 651.0h1v1h-1zM193.4 612.6h1v1h-1zM138.6 631.4h1v1h-1zM144.4 650.1h1v1h-1zM144.2 644.5h1v1h-1zM189.7 621.2h1v1h-1zM166.8 627.9h1v1h-1zM142.5 645.9h1v1h-1zM160.5 644.9h1v1h-1zM138.8 627.3h1v1h-1zM186.7 599.7h1v1h-1zM163.0 623.7h1v1h-1zM146.8 644.4h1v1h-1zM189.4 620.6h1v1h-1zM162.1 641.4h1v1h-1zM202.2 613.7h1v1h-1zM190.6 617.3h1v1h-1zM192.4 606.5h1v1h-1zM191.9 613.0h1v1h-1zM179.5 621.7h1v1h-1zM150.1 629.9h1v1h-1zM170.5 616.8h1v1h-1zM145.2 640.9h1v1h-1zM150.5 631.1h1v1h-1zM191.4 612.7h1v1h-1zM148.2 654.1h1v1h-1zM140.8 631.8h1v1h-1zM198.1 613.4h1v1h-1zM190.4 605.8h1v1h-1zM155.0 639.5h1v1h-1zM187.2 631.8h1v1h-1zM144.5 624.6h1v1h-1zM145.0 637.0h1v1h-1zM146.0 634.4h1v1h-1zM151.0 653.3h1v1h-1zM136.9 639.5h1v1h-1zM200.5 632.8h1v1h-1zM135.0 644.7h1v1h-1zM168.0 618.3h1v1h-1zM192.6 614.1h1v1h-1zM145.7 626.8h1v1h-1zM146.2 651.0h1v1h-1zM149.0 637.9h1v1h-1zM144.1 650.0h1v1h-1zM186.4 607.2h1v1h-1zM145.6 642.3h1v1h-1zM164.3 640.7h1v1h-1zM145.2 654.5h1v1h-1zM163.3 642.9h1v1h-1zM186.2 604.7h1v1h-1zM146.7 630.6h1v1h-1zM147.2 640.7h1v1h-1zM147.3 637.0h1v1h-1zM173.1 615.5h1v1h-1zM192.9 622.3h1v1h-1zM192.9 604.0h1v1h-1zM187.4 618.0h1v1h-1zM192.3 616.8h1v1h-1zM181.3 608.0h1v1h-1zM191.5 631.6h1v1h-1zM166.3 652.4h1v1h-1zM142.3 643.4h1v1h-1zM166.3 642.1h1v1h-1zM153.5 623.8h1v1h-1zM140.8 646.7h1v1h-1zM146.8 640.2h1v1h-1zM173.0 621.4h1v1h-1zM200.7 599.4h1v1h-1zM168.4 632.4h1v1h-1zM158.5 640.7h1v1h-1zM187.7 615.7h1v1h-1zM137.1 636.3h1v1h-1zM178.4 611.9h1v1h-1zM200.5 617.2h1v1h-1zM151.9 637.9h1v1h-1zM169.8 646.7h1v1h-1zM150.6 642.8h1v1h-1zM192.0 613.1h1v1h-1zM177.0 609.8h1v1h-1zM147.3 640.3h1v1h-1zM183.6 615.1h1v1h-1zM186.6 624.9h1v1h-1zM148.0 640.8h1v1h-1zM190.6 607.2h1v1h-1zM150.9 627.5h1v1h-1zM157.7 612.7h1v1h-1zM154.6 643.7h1v1h-1zM166.5 638.4h1v1h-1zM141.6 640.6h1v1h-1zM152.3 625.5h1v1h-1zM159.2 634.8h1v1h-1zM151.8 634.9h1v1h-1zM196.7 616.1h1v1h-1zM178.9 606.6h1v1h-1zM187.0 618.3h1v1h-1zM183.7 608.1h1v1h-1zM164.8 620.8h1v1h-1zM191.5 619.1h1v1h-1zM148.7 638.0h1v1h-1zM142.0 636.9h1v1h-1zM133.6 632.5h1v1h-1zM168.6 635.3h1v1h-1zM168.4 627.2h1v1h-1zM187.7 629.0h1v1h-1zM154.5 616.4h1v1h-1zM188.1 613.2h1v1h-1zM191.4 607.9h1v1h-1zM166.9 638.0h1v1h-1zM187.9 614.7h1v1h-1zM175.2 619.3h1v1h-1zM178.9 620.2h1v1h-1zM192.2 609.0h1v1h-1zM164.9 622.0h1v1h-1zM165.6 640.0h1v1h-1zM143.1 646.1h1v1h-1zM171.2 643.0h1v1h-1zM166.8 626.6h1v1h-1zM192.1 613.9h1v1h-1zM185.8 617.2h1v1h-1zM141.4 654.8h1v1h-1zM134.1 641.9h1v1h-1zM157.4 632.2h1v1h-1zM143.8 649.5h1v1h-1zM188.1 619.8h1v1h-1zM187.3 616.0h1v1h-1zM191.9 612.8h1v1h-1zM199.5 602.1h1v1h-1zM135.5 618.8h1v1h-1zM153.7 652.0h1v1h-1zM166.8 623.8h1v1h-1zM149.9 632.9h1v1h-1zM146.8 650.6h1v1h-1zM143.4 643.7h1v1h-1zM151.9 635.4h1v1h-1zM142.9 641.5h1v1h-1zM139.0 640.5h1v1h-1zM152.7 637.7h1v1h-1zM165.9 633.8h1v1h-1zM178.4 623.0h1v1h-1zM148.7 631.9h1v1h-1zM179.7 622.1h1v1h-1zM156.5 640.9h1v1h-1zM163.2 638.4h1v1h-1zM139.3 651.7h1v1h-1zM146.3 652.8h1v1h-1zM175.8 616.2h1v1h-1zM177.4 618.4h1v1h-1zM138.8 633.1h1v1h-1zM151.4 629.2h1v1h-1zM192.5 615.8h1v1h-1zM187.0 601.5h1v1h-1zM170.7 600.3h1v1h-1zM132.9 630.8h1v1h-1zM201.7 604.4h1v1h-1zM178.9 616.5h1v1h-1zM138.8 634.8h1v1h-1zM154.7 654.3h1v1h-1zM154.7 643.9h1v1h-1zM145.3 655.8h1v1h-1zM150.8 640.9h1v1h-1zM170.9 623.9h1v1h-1zM159.7 630.9h1v1h-1zM153.9 659.8h1v1h-1zM147.0 622.9h1v1h-1zM166.0 643.7h1v1h-1zM140.6 644.2h1v1h-1zM184.3 626.3h1v1h-1zM184.0 615.6h1v1h-1zM179.6 626.7h1v1h-1zM193.1 614.1h1v1h-1zM147.5 643.2h1v1h-1zM168.3 638.1h1v1h-1zM203.1 613.6h1v1h-1zM209.0 607.1h1v1h-1zM195.1 610.3h1v1h-1zM143.2 646.7h1v1h-1zM143.0 644.1h1v1h-1zM176.3 618.0h1v1h-1zM163.7 619.9h1v1h-1zM195.4 614.4h1v1h-1zM159.6 620.4h1v1h-1zM152.7 647.1h1v1h-1zM138.6 644.3h1v1h-1zM158.0 647.7h1v1h-1zM150.1 630.8h1v1h-1zM193.0 614.5h1v1h-1zM142.5 636.5h1v1h-1zM146.6 646.8h1v1h-1zM176.8 627.0h1v1h-1zM200.2 608.1h1v1h-1zM158.0 619.6h1v1h-1zM150.8 632.4h1v1h-1zM170.9 619.1h1v1h-1zM189.0 611.5h1v1h-1zM191.4 609.5h1v1h-1zM186.0 624.7h1v1h-1zM151.5 637.0h1v1h-1zM191.2 611.6h1v1h-1zM139.2 649.2h1v1h-1zM193.3 620.0h1v1h-1zM142.0 632.5h1v1h-1zM171.7 622.3h1v1h-1zM199.0 612.3h1v1h-1zM199.0 614.4h1v1h-1zM165.4 614.9h1v1h-1zM178.6 610.0h1v1h-1zM143.8 645.5h1v1h-1zM184.1 606.5h1v1h-1zM169.5 627.2h1v1h-1zM181.6 627.9h1v1h-1zM183.8 617.5h1v1h-1zM179.3 617.2h1v1h-1zM151.1 633.6h1v1h-1zM182.6 610.3h1v1h-1zM185.6 607.8h1v1h-1zM153.4 650.1h1v1h-1zM193.2 606.8h1v1h-1zM159.4 645.9h1v1h-1zM186.5 625.6h1v1h-1zM137.8 640.5h1v1h-1zM176.6 625.1h1v1h-1zM173.0 633.8h1v1h-1zM139.8 661.6h1v1h-1zM143.6 649.8h1v1h-1zM158.8 627.8h1v1h-1zM148.1 635.4h1v1h-1zM161.4 637.2h1v1h-1zM157.4 639.6h1v1h-1zM162.6 637.4h1v1h-1zM154.9 634.8h1v1h-1zM155.1 625.5h1v1h-1zM181.1 621.8h1v1h-1zM184.8 612.1h1v1h-1zM141.6 640.8h1v1h-1zM183.4 619.8h1v1h-1zM183.6 617.5h1v1h-1zM192.0 608.7h1v1h-1zM186.0 618.7h1v1h-1zM149.8 647.4h1v1h-1zM198.6 602.3h1v1h-1zM145.8 624.4h1v1h-1zM180.1 609.2h1v1h-1zM149.1 648.8h1v1h-1zM187.2 619.1h1v1h-1zM179.7 607.3h1v1h-1zM174.1 625.7h1v1h-1zM143.2 632.8h1v1h-1zM178.3 601.7h1v1h-1zM175.1 636.8h1v1h-1zM146.7 642.6h1v1h-1zM194.2 613.1h1v1h-1zM198.2 607.7h1v1h-1zM153.4 630.4h1v1h-1zM182.0 605.4h1v1h-1zM182.0 604.9h1v1h-1zM138.8 632.5h1v1h-1zM179.7 621.3h1v1h-1zM148.1 636.4h1v1h-1zM137.0 638.4h1v1h-1zM150.5 644.0h1v1h-1zM198.4 616.8h1v1h-1zM183.1 608.5h1v1h-1zM142.4 629.9h1v1h-1zM139.9 650.9h1v1h-1zM137.7 634.7h1v1h-1zM149.3 648.8h1v1h-1zM141.7 648.3h1v1h-1zM181.8 622.2h1v1h-1zM156.9 647.7h1v1h-1zM172.2 622.9h1v1h-1zM187.0 610.1h1v1h-1zM179.0 622.9h1v1h-1zM166.4 626.4h1v1h-1zM143.8 636.6h1v1h-1zM165.6 624.6h1v1h-1zM193.2 625.8h1v1h-1zM152.0 631.5h1v1h-1zM162.2 631.2h1v1h-1zM170.8 639.7h1v1h-1zM169.0 632.8h1v1h-1zM174.0 621.7h1v1h-1zM187.1 604.5h1v1h-1zM176.8 619.6h1v1h-1zM158.8 650.7h1v1h-1zM144.3 649.1h1v1h-1zM139.6 637.3h1v1h-1zM148.5 630.4h1v1h-1zM160.0 653.7h1v1h-1zM173.5 645.6h1v1h-1zM137.4 629.8h1v1h-1zM173.2 598.2h1v1h-1zM157.5 638.9h1v1h-1zM145.7 626.1h1v1h-1zM163.6 634.0h1v1h-1zM146.1 627.7h1v1h-1zM198.8 615.5h1v1h-1zM140.0 650.8h1v1h-1zM145.6 628.3h1v1h-1zM185.4 621.1h1v1h-1zM196.0 602.7h1v1h-1zM142.8 642.4h1v1h-1zM135.6 635.2h1v1h-1zM147.4 652.3h1v1h-1zM157.8 633.9h1v1h-1zM147.4 637.8h1v1h-1zM139.6 639.6h1v1h-1zM147.3 657.9h1v1h-1zM169.0 617.5h1v1h-1zM188.5 605.4h1v1h-1zM174.8 629.3h1v1h-1zM180.9 637.6h1v1h-1zM178.0 609.9h1v1h-1zM196.9 612.7h1v1h-1zM178.7 605.5h1v1h-1zM188.8 617.5h1v1h-1zM156.6 646.6h1v1h-1zM178.9 625.2h1v1h-1zM136.1 662.1h1v1h-1zM146.3 653.7h1v1h-1zM147.1 634.3h1v1h-1zM178.4 610.1h1v1h-1zM183.8 621.9h1v1h-1zM187.4 617.6h1v1h-1zM168.5 642.1h1v1h-1zM189.3 618.6h1v1h-1zM181.1 624.7h1v1h-1zM166.6 635.2h1v1h-1zM207.5 606.1h1v1h-1zM144.4 634.3h1v1h-1zM146.0 653.6h1v1h-1zM184.7 621.1h1v1h-1zM167.5 642.2h1v1h-1zM165.1 638.5h1v1h-1zM193.5 623.6h1v1h-1zM150.0 646.2h1v1h-1zM173.9 614.5h1v1h-1zM137.5 639.8h1v1h-1zM180.3 607.2h1v1h-1zM191.9 616.1h1v1h-1zM158.6 637.1h1v1h-1zM144.6 637.3h1v1h-1zM180.1 609.1h1v1h-1zM143.7 662.4h1v1h-1zM177.2 617.4h1v1h-1zM182.3 628.9h1v1h-1zM148.2 649.2h1v1h-1zM187.9 617.8h1v1h-1zM150.6 623.0h1v1h-1zM143.6 638.8h1v1h-1zM188.0 617.9h1v1h-1zM169.5 636.7h1v1h-1zM150.5 643.0h1v1h-1zM178.4 615.3h1v1h-1zM148.3 650.1h1v1h-1zM142.6 616.1h1v1h-1zM174.6 634.9h1v1h-1zM151.8 654.3h1v1h-1zM140.2 636.9h1v1h-1zM188.6 617.4h1v1h-1zM151.3 647.7h1v1h-1zM149.1 644.7h1v1h-1zM176.6 623.5h1v1h-1zM173.5 621.7h1v1h-1zM160.6 656.7h1v1h-1zM150.3 656.1h1v1h-1zM138.6 631.6h1v1h-1zM165.7 604.6h1v1h-1zM137.7 646.1h1v1h-1zM153.2 631.5h1v1h-1zM146.2 640.6h1v1h-1zM150.5 623.7h1v1h-1zM150.7 612.8h1v1h-1zM192.7 617.1h1v1h-1zM139.6 656.5h1v1h-1zM174.9 622.9h1v1h-1zM199.3 612.5h1v1h-1zM150.7 636.6h1v1h-1zM147.1 652.8h1v1h-1zM151.1 639.1h1v1h-1zM162.9 631.3h1v1h-1zM157.8 653.5h1v1h-1zM145.3 646.9h1v1h-1zM168.2 620.5h1v1h-1zM169.0 633.8h1v1h-1zM208.9 597.9h1v1h-1zM164.6 646.1h1v1h-1zM146.7 653.2h1v1h-1zM140.5 617.6h1v1h-1zM190.5 607.4h1v1h-1zM157.1 637.7h1v1h-1zM171.7 624.3h1v1h-1zM194.6 615.4h1v1h-1zM142.8 650.3h1v1h-1zM153.0 641.5h1v1h-1zM164.5 630.5h1v1h-1zM147.4 641.3h1v1h-1zM173.6 632.4h1v1h-1zM141.3 643.6h1v1h-1zM186.2 615.2h1v1h-1zM135.7 619.0h1v1h-1zM141.8 635.6h1v1h-1zM186.4 619.9h1v1h-1zM180.6 629.4h1v1h-1zM189.4 615.2h1v1h-1zM173.9 621.3h1v1h-1zM188.9 623.0h1v1h-1zM172.7 622.8h1v1h-1zM148.5 644.9h1v1h-1zM187.0 608.6h1v1h-1zM177.5 619.2h1v1h-1zM155.4 653.3h1v1h-1zM161.7 628.7h1v1h-1zM168.4 608.8h1v1h-1zM152.0 648.6h1v1h-1zM151.3 658.7h1v1h-1zM158.2 616.3h1v1h-1zM158.3 627.8h1v1h-1zM163.3 635.7h1v1h-1zM158.6 628.6h1v1h-1zM175.4 616.1h1v1h-1zM158.6 634.8h1v1h-1zM193.0 612.9h1v1h-1zM141.3 640.4h1v1h-1zM142.1 641.5h1v1h-1zM179.4 603.9h1v1h-1zM149.7 652.1h1v1h-1zM179.7 616.8h1v1h-1zM143.6 647.9h1v1h-1zM156.2 643.6h1v1h-1zM150.0 651.0h1v1h-1zM151.9 642.2h1v1h-1zM187.4 614.2h1v1h-1zM164.2 632.8h1v1h-1zM145.0 639.5h1v1h-1zM141.2 642.6h1v1h-1zM149.1 638.6h1v1h-1zM174.0 618.3h1v1h-1zM159.4 626.4h1v1h-1zM191.3 628.0h1v1h-1zM147.4 635.1h1v1h-1zM162.4 623.5h1v1h-1zM142.4 645.6h1v1h-1zM178.5 622.4h1v1h-1zM137.9 627.9h1v1h-1zM141.9 634.8h1v1h-1zM154.4 643.3h1v1h-1zM180.1 591.7h1v1h-1zM142.6 633.1h1v1h-1zM189.3 618.0h1v1h-1zM133.4 641.6h1v1h-1zM164.1 622.7h1v1h-1zM162.3 637.8h1v1h-1zM160.9 632.8h1v1h-1zM150.7 636.4h1v1h-1zM182.5 618.3h1v1h-1zM166.2 626.6h1v1h-1zM143.1 647.9h1v1h-1zM194.8 609.2h1v1h-1zM183.9 629.4h1v1h-1zM164.4 626.0h1v1h-1zM166.4 636.0h1v1h-1zM153.5 631.4h1v1h-1zM163.0 618.9h1v1h-1zM175.8 635.8h1v1h-1zM168.2 616.8h1v1h-1zM185.4 607.9h1v1h-1zM205.7 607.7h1v1h-1zM153.2 658.3h1v1h-1zM192.6 621.9h1v1h-1zM180.3 627.2h1v1h-1zM183.6 614.0h1v1h-1zM158.8 624.3h1v1h-1zM185.4 618.4h1v1h-1zM181.8 621.8h1v1h-1zM194.8 605.8h1v1h-1zM142.8 636.7h1v1h-1zM164.5 641.0h1v1h-1zM142.1 642.7h1v1h-1zM153.2 614.7h1v1h-1zM188.8 611.3h1v1h-1zM193.4 619.9h1v1h-1zM194.6 619.0h1v1h-1zM173.3 613.9h1v1h-1zM160.8 628.6h1v1h-1zM161.6 623.1h1v1h-1zM138.6 624.0h1v1h-1zM173.5 618.4h1v1h-1zM155.7 640.1h1v1h-1zM142.5 643.0h1v1h-1zM156.9 637.1h1v1h-1zM153.6 642.7h1v1h-1zM139.5 635.8h1v1h-1zM135.2 640.2h1v1h-1zM181.4 617.3h1v1h-1zM194.1 612.0h1v1h-1zM159.4 611.4h1v1h-1zM151.8 656.9h1v1h-1zM199.8 611.0h1v1h-1zM195.8 604.8h1v1h-1zM182.8 615.4h1v1h-1zM139.5 636.3h1v1h-1zM170.9 632.7h1v1h-1zM153.7 632.2h1v1h-1zM148.0 649.0h1v1h-1zM176.5 610.4h1v1h-1zM156.7 635.7h1v1h-1zM152.9 629.6h1v1h-1zM188.3 619.7h1v1h-1zM190.3 607.2h1v1h-1zM178.4 625.9h1v1h-1zM171.6 627.4h1v1h-1zM177.1 611.7h1v1h-1zM153.9 658.8h1v1h-1zM145.0 653.6h1v1h-1zM183.4 605.6h1v1h-1zM156.9 635.8h1v1h-1zM179.0 614.5h1v1h-1zM196.7 610.6h1v1h-1zM203.6 601.1h1v1h-1zM185.0 618.6h1v1h-1zM149.6 636.7h1v1h-1zM153.6 633.4h1v1h-1zM166.0 641.7h1v1h-1zM196.7 613.3h1v1h-1zM187.5 611.0h1v1h-1zM196.3 633.7h1v1h-1zM147.7 631.1h1v1h-1zM187.0 618.2h1v1h-1zM161.4 654.4h1v1h-1zM154.2 643.5h1v1h-1zM200.3 609.9h1v1h-1zM174.1 618.4h1v1h-1zM193.2 603.8h1v1h-1zM158.5 640.2h1v1h-1zM147.8 641.2h1v1h-1zM138.0 647.6h1v1h-1zM175.4 611.3h1v1h-1zM153.3 644.3h1v1h-1zM205.9 613.4h1v1h-1zM155.6 625.4h1v1h-1zM172.7 611.7h1v1h-1zM160.0 652.8h1v1h-1zM158.8 653.6h1v1h-1zM186.3 616.0h1v1h-1zM199.4 604.1h1v1h-1zM151.5 638.9h1v1h-1zM138.2 650.9h1v1h-1zM166.7 598.9h1v1h-1zM202.8 607.9h1v1h-1zM142.5 628.3h1v1h-1z" fill="#000" opacity="0.28"/>
<path d="M185.5 627.9h1v1h-1zM203.4 602.7h1v1h-1zM179.4 626.7h1v1h-1zM202.2 620.1h1v1h-1zM180.8 633.3h1v1h-1zM181.9 616.4h1v1h-1zM183.4 616.1h1v1h-1zM183.4 615.9h1v1h-1zM176.2 616.8h1v1h-1zM182.5 603.1h1v1h-1zM148.3 656.9h1v1h-1zM172.6 626.2h1v1h-1zM181.6 617.3h1v1h-1zM143.8 641.0h1v1h-1zM134.3 636.1h1v1h-1zM167.4 626.4h1v1h-1zM152.2 628.8h1v1h-1zM181.9 605.3h1v1h-1zM164.4 626.0h1v1h-1zM164.2 622.4h1v1h-1zM134.8 652.2h1v1h-1zM155.7 644.6h1v1h-1zM169.8 652.9h1v1h-1zM158.6 637.0h1v1h-1zM145.6 634.3h1v1h-1zM160.9 633.7h1v1h-1zM151.5 632.6h1v1h-1zM149.2 646.7h1v1h-1zM144.5 637.6h1v1h-1zM141.5 629.4h1v1h-1zM139.9 644.0h1v1h-1zM155.2 648.8h1v1h-1zM181.4 613.8h1v1h-1zM146.7 636.7h1v1h-1zM182.1 615.2h1v1h-1zM172.4 614.0h1v1h-1zM173.7 619.9h1v1h-1zM192.9 609.2h1v1h-1zM138.3 642.0h1v1h-1zM154.8 631.8h1v1h-1zM166.5 619.2h1v1h-1zM139.2 643.7h1v1h-1zM173.9 619.3h1v1h-1zM154.4 638.3h1v1h-1zM147.0 655.8h1v1h-1zM145.5 629.0h1v1h-1zM149.7 630.2h1v1h-1zM151.5 624.8h1v1h-1zM162.2 637.7h1v1h-1zM151.3 654.5h1v1h-1zM152.7 639.0h1v1h-1zM147.9 642.8h1v1h-1zM204.8 612.6h1v1h-1zM140.6 646.0h1v1h-1zM161.5 651.2h1v1h-1zM151.5 659.4h1v1h-1zM203.1 606.5h1v1h-1zM164.3 631.3h1v1h-1zM143.8 644.1h1v1h-1zM196.6 614.6h1v1h-1zM137.8 624.2h1v1h-1zM147.6 643.4h1v1h-1zM169.1 643.8h1v1h-1zM190.7 608.6h1v1h-1zM153.6 631.1h1v1h-1zM159.0 654.7h1v1h-1zM162.9 647.8h1v1h-1zM144.6 656.4h1v1h-1zM155.3 648.1h1v1h-1zM139.1 632.6h1v1h-1zM136.9 637.0h1v1h-1zM185.0 616.2h1v1h-1zM166.9 620.5h1v1h-1zM184.1 620.1h1v1h-1zM207.5 601.2h1v1h-1zM140.4 644.8h1v1h-1zM149.3 661.9h1v1h-1zM158.4 629.0h1v1h-1zM185.2 612.0h1v1h-1zM208.8 606.3h1v1h-1zM144.4 626.6h1v1h-1zM146.3 636.2h1v1h-1zM186.6 615.6h1v1h-1zM161.3 646.2h1v1h-1zM159.9 632.2h1v1h-1zM186.0 614.4h1v1h-1zM147.4 631.8h1v1h-1zM152.2 645.8h1v1h-1zM178.5 602.1h1v1h-1zM152.2 640.6h1v1h-1zM202.8 603.9h1v1h-1zM141.2 655.0h1v1h-1zM149.4 626.2h1v1h-1zM179.2 623.0h1v1h-1zM179.6 631.8h1v1h-1zM154.8 645.0h1v1h-1zM141.2 648.3h1v1h-1zM151.0 626.7h1v1h-1zM157.1 640.1h1v1h-1zM149.0 650.1h1v1h-1zM165.3 639.8h1v1h-1zM199.0 605.7h1v1h-1zM148.4 622.9h1v1h-1zM144.9 645.2h1v1h-1zM148.2 628.7h1v1h-1zM189.1 622.2h1v1h-1zM184.3 614.8h1v1h-1zM146.1 646.2h1v1h-1zM195.2 609.0h1v1h-1zM140.2 636.3h1v1h-1zM179.4 624.1h1v1h-1zM167.4 629.1h1v1h-1zM178.3 616.8h1v1h-1zM187.0 608.1h1v1h-1zM148.6 636.3h1v1h-1zM148.4 647.0h1v1h-1zM157.2 638.6h1v1h-1zM140.9 646.2h1v1h-1zM143.1 646.5h1v1h-1zM159.6 624.0h1v1h-1zM187.5 629.7h1v1h-1zM145.9 649.9h1v1h-1zM135.5 633.6h1v1h-1zM189.1 613.9h1v1h-1zM139.2 641.0h1v1h-1zM136.0 649.1h1v1h-1zM143.0 639.6h1v1h-1zM167.6 641.7h1v1h-1zM203.2 611.6h1v1h-1zM140.0 640.6h1v1h-1zM199.3 609.4h1v1h-1zM195.2 604.3h1v1h-1zM199.5 607.1h1v1h-1zM152.2 639.3h1v1h-1zM203.6 610.8h1v1h-1zM146.3 635.9h1v1h-1zM162.9 626.7h1v1h-1zM134.2 626.4h1v1h-1zM147.9 641.8h1v1h-1zM149.2 635.2h1v1h-1zM141.2 629.0h1v1h-1zM166.8 613.9h1v1h-1zM174.5 628.5h1v1h-1zM167.7 627.8h1v1h-1zM141.2 618.9h1v1h-1zM137.1 629.4h1v1h-1zM165.2 638.2h1v1h-1zM188.8 629.5h1v1h-1zM180.0 615.9h1v1h-1zM177.4 615.9h1v1h-1zM139.2 640.5h1v1h-1zM147.2 638.8h1v1h-1zM149.8 641.3h1v1h-1zM157.6 619.7h1v1h-1zM164.5 626.1h1v1h-1zM181.4 635.4h1v1h-1zM161.5 635.5h1v1h-1zM144.1 659.2h1v1h-1zM189.9 625.2h1v1h-1zM152.5 647.5h1v1h-1zM195.4 613.4h1v1h-1zM154.2 644.8h1v1h-1zM147.7 639.7h1v1h-1zM201.3 606.1h1v1h-1zM155.3 649.4h1v1h-1zM172.4 637.9h1v1h-1zM146.8 628.9h1v1h-1zM146.5 639.3h1v1h-1zM143.5 638.7h1v1h-1zM151.0 637.8h1v1h-1zM154.4 639.3h1v1h-1zM148.1 641.0h1v1h-1zM197.2 615.0h1v1h-1zM178.5 628.7h1v1h-1zM202.0 623.1h1v1h-1zM136.6 642.4h1v1h-1zM135.1 636.8h1v1h-1zM198.7 611.5h1v1h-1zM162.2 628.0h1v1h-1zM147.7 641.5h1v1h-1zM192.9 614.0h1v1h-1zM165.5 620.9h1v1h-1zM140.6 628.8h1v1h-1zM148.1 623.4h1v1h-1zM175.0 632.7h1v1h-1zM189.5 608.3h1v1h-1zM190.9 619.9h1v1h-1zM153.7 638.0h1v1h-1zM184.7 619.9h1v1h-1zM177.6 627.3h1v1h-1zM142.3 643.2h1v1h-1zM146.6 623.7h1v1h-1zM187.8 620.4h1v1h-1zM149.8 622.3h1v1h-1zM147.4 630.5h1v1h-1zM183.7 633.2h1v1h-1zM144.2 637.7h1v1h-1zM169.7 624.6h1v1h-1zM178.7 622.9h1v1h-1zM193.4 613.5h1v1h-1zM144.9 651.3h1v1h-1zM165.0 647.4h1v1h-1zM142.9 623.3h1v1h-1zM150.0 617.9h1v1h-1zM192.6 611.8h1v1h-1zM168.8 647.3h1v1h-1zM194.0 605.1h1v1h-1zM171.2 638.1h1v1h-1zM177.3 614.3h1v1h-1zM141.9 655.7h1v1h-1zM139.5 627.0h1v1h-1zM175.6 617.9h1v1h-1zM142.1 662.4h1v1h-1zM137.9 646.0h1v1h-1zM142.5 655.8h1v1h-1zM176.8 613.5h1v1h-1zM177.0 621.1h1v1h-1zM159.3 635.5h1v1h-1zM142.2 659.9h1v1h-1zM183.3 622.1h1v1h-1zM146.1 639.4h1v1h-1zM152.1 646.1h1v1h-1zM162.5 628.6h1v1h-1zM170.3 624.1h1v1h-1zM188.7 608.1h1v1h-1zM180.1 606.2h1v1h-1zM152.8 640.8h1v1h-1zM177.2 611.8h1v1h-1zM160.2 637.7h1v1h-1zM142.6 640.6h1v1h-1zM160.4 627.9h1v1h-1zM198.5 591.4h1v1h-1zM193.0 619.9h1v1h-1zM153.2 649.8h1v1h-1zM183.9 621.1h1v1h-1zM187.3 613.4h1v1h-1zM195.4 603.4h1v1h-1zM159.2 637.4h1v1h-1zM159.0 644.9h1v1h-1zM159.1 618.5h1v1h-1zM151.1 647.3h1v1h-1zM148.7 643.8h1v1h-1zM189.8 628.4h1v1h-1zM196.8 634.4h1v1h-1zM154.0 645.2h1v1h-1zM179.0 627.7h1v1h-1zM182.1 610.3h1v1h-1zM139.9 640.0h1v1h-1zM171.8 644.1h1v1h-1zM145.0 650.2h1v1h-1zM204.9 610.6h1v1h-1zM156.3 639.5h1v1h-1zM178.5 605.1h1v1h-1zM151.5 646.1h1v1h-1zM191.5 609.2h1v1h-1zM190.0 616.1h1v1h-1zM142.9 642.5h1v1h-1zM156.8 640.9h1v1h-1zM145.5 632.2h1v1h-1zM180.6 620.2h1v1h-1zM141.6 640.5h1v1h-1zM147.2 651.1h1v1h-1zM148.4 616.5h1v1h-1zM162.1 639.2h1v1h-1zM178.0 624.2h1v1h-1zM159.2 632.4h1v1h-1zM179.3 626.9h1v1h-1zM181.1 624.3h1v1h-1zM192.0 615.9h1v1h-1zM160.6 628.8h1v1h-1zM187.2 615.2h1v1h-1zM145.8 631.0h1v1h-1zM138.0 638.8h1v1h-1zM143.9 638.1h1v1h-1zM154.0 627.7h1v1h-1zM197.6 611.4h1v1h-1zM163.2 639.3h1v1h-1zM141.5 638.3h1v1h-1zM178.5 617.7h1v1h-1zM146.1 632.0h1v1h-1zM146.3 630.3h1v1h-1zM191.9 613.7h1v1h-1zM174.7 632.8h1v1h-1zM183.8 622.8h1v1h-1zM191.7 622.1h1v1h-1zM152.8 635.6h1v1h-1zM197.4 603.9h1v1h-1zM184.5 627.0h1v1h-1zM142.6 640.1h1v1h-1zM181.5 619.2h1v1h-1zM136.9 621.9h1v1h-1zM190.9 601.5h1v1h-1zM180.3 606.8h1v1h-1zM147.9 641.1h1v1h-1zM150.5 648.2h1v1h-1zM174.9 616.7h1v1h-1zM137.1 656.8h1v1h-1zM184.0 621.8h1v1h-1zM185.5 624.9h1v1h-1zM133.8 632.0h1v1h-1zM202.4 610.0h1v1h-1zM143.5 652.0h1v1h-1zM170.8 607.9h1v1h-1zM141.5 640.6h1v1h-1zM149.1 648.9h1v1h-1zM158.9 629.9h1v1h-1zM163.3 626.0h1v1h-1zM158.2 630.2h1v1h-1zM145.5 644.6h1v1h-1zM146.1 639.8h1v1h-1zM151.6 646.4h1v1h-1zM163.8 619.2h1v1h-1zM178.7 611.6h1v1h-1zM150.5 632.0h1v1h-1zM172.0 617.9h1v1h-1zM145.3 649.0h1v1h-1zM184.7 603.3h1v1h-1zM202.4 608.2h1v1h-1zM200.4 602.9h1v1h-1zM160.8 636.0h1v1h-1zM185.5 606.3h1v1h-1zM176.1 610.4h1v1h-1zM138.9 638.2h1v1h-1zM174.4 618.9h1v1h-1zM155.3 627.8h1v1h-1zM170.9 619.6h1v1h-1zM149.2 654.7h1v1h-1zM157.1 647.0h1v1h-1zM145.3 641.0h1v1h-1zM156.7 623.8h1v1h-1zM145.6 646.9h1v1h-1zM157.1 634.0h1v1h-1zM137.5 639.5h1v1h-1zM147.1 633.5h1v1h-1zM196.9 602.9h1v1h-1zM191.6 617.6h1v1h-1zM135.3 631.3h1v1h-1zM166.8 614.6h1v1h-1zM143.5 653.4h1v1h-1zM166.7 626.9h1v1h-1zM147.5 644.5h1v1h-1zM188.1 617.8h1v1h-1zM172.5 618.3h1v1h-1zM186.0 616.6h1v1h-1zM138.6 637.8h1v1h-1zM184.2 614.0h1v1h-1zM156.6 621.7h1v1h-1zM169.8 630.1h1v1h-1zM138.1 660.6h1v1h-1zM138.5 631.7h1v1h-1zM138.7 649.2h1v1h-1zM147.8 628.9h1v1h-1zM142.7 656.9h1v1h-1zM148.9 628.9h1v1h-1zM168.8 626.2h1v1h-1zM144.7 652.9h1v1h-1zM165.7 620.2h1v1h-1zM154.0 645.5h1v1h-1zM148.8 649.0h1v1h-1zM139.2 637.6h1v1h-1zM147.5 639.1h1v1h-1zM177.0 639.7h1v1h-1zM193.1 609.0h1v1h-1zM141.3 640.9h1v1h-1zM157.2 625.9h1v1h-1zM151.7 646.2h1v1h-1zM190.5 613.4h1v1h-1zM169.1 610.1h1v1h-1zM139.2 634.7h1v1h-1zM152.6 659.0h1v1h-1zM184.9 620.4h1v1h-1zM158.8 626.3h1v1h-1zM157.6 636.8h1v1h-1zM150.1 645.4h1v1h-1zM166.7 630.5h1v1h-1zM177.6 612.8h1v1h-1zM193.5 615.0h1v1h-1zM143.0 629.2h1v1h-1zM194.9 625.4h1v1h-1zM161.8 631.6h1v1h-1zM191.8 617.2h1v1h-1zM194.9 615.9h1v1h-1zM155.5 652.3h1v1h-1zM183.5 619.6h1v1h-1zM188.8 618.5h1v1h-1zM151.0 656.3h1v1h-1zM169.2 632.3h1v1h-1zM147.1 653.0h1v1h-1zM145.1 643.6h1v1h-1zM167.6 629.4h1v1h-1zM153.1 626.9h1v1h-1zM136.4 624.0h1v1h-1zM184.1 620.5h1v1h-1zM196.6 615.8h1v1h-1zM199.9 612.1h1v1h-1zM137.6 623.8h1v1h-1zM191.7 612.5h1v1h-1zM158.3 633.4h1v1h-1zM181.9 619.2h1v1h-1zM146.4 644.0h1v1h-1zM188.8 615.4h1v1h-1zM192.7 617.9h1v1h-1zM152.7 651.3h1v1h-1zM179.2 617.6h1v1h-1zM137.6 635.7h1v1h-1zM195.9 609.0h1v1h-1zM159.8 630.6h1v1h-1zM151.0 641.3h1v1h-1zM183.8 615.6h1v1h-1zM188.4 620.5h1v1h-1zM175.6 620.6h1v1h-1zM146.0 633.8h1v1h-1zM166.3 624.6h1v1h-1zM191.2 622.0h1v1h-1zM198.4 605.6h1v1h-1zM143.4 649.4h1v1h-1zM193.0 615.4h1v1h-1zM171.3 623.4h1v1h-1zM147.1 632.6h1v1h-1zM139.0 663.5h1v1h-1zM183.6 627.5h1v1h-1zM158.5 644.6h1v1h-1zM139.4 639.2h1v1h-1zM176.2 617.5h1v1h-1zM177.0 625.0h1v1h-1zM142.4 646.2h1v1h-1zM191.5 607.9h1v1h-1zM153.2 615.7h1v1h-1zM167.0 647.5h1v1h-1zM150.7 652.7h1v1h-1zM189.4 625.0h1v1h-1zM144.4 643.8h1v1h-1zM161.8 656.0h1v1h-1zM167.8 623.2h1v1h-1zM204.9 615.9h1v1h-1zM154.0 621.1h1v1h-1zM153.0 649.8h1v1h-1zM139.1 646.4h1v1h-1zM188.4 621.6h1v1h-1zM170.6 615.4h1v1h-1zM184.3 620.6h1v1h-1zM149.8 623.5h1v1h-1zM190.9 607.4h1v1h-1zM139.3 631.0h1v1h-1zM189.7 616.4h1v1h-1zM200.5 610.0h1v1h-1zM182.1 628.2h1v1h-1zM166.6 619.9h1v1h-1zM193.7 621.1h1v1h-1zM196.7 605.8h1v1h-1zM189.0 605.4h1v1h-1zM160.7 622.6h1v1h-1zM185.7 619.9h1v1h-1zM139.7 632.5h1v1h-1zM177.8 614.0h1v1h-1zM189.5 624.1h1v1h-1zM161.9 634.5h1v1h-1zM153.8 648.9h1v1h-1zM184.0 613.2h1v1h-1zM149.4 638.7h1v1h-1zM185.4 617.6h1v1h-1zM152.3 650.5h1v1h-1zM151.6 627.1h1v1h-1zM187.0 608.8h1v1h-1zM180.8 623.9h1v1h-1zM153.3 624.4h1v1h-1zM155.4 642.6h1v1h-1zM161.6 634.0h1v1h-1zM188.6 608.0h1v1h-1zM146.7 625.5h1v1h-1zM136.4 643.1h1v1h-1zM150.1 646.3h1v1h-1zM139.2 640.3h1v1h-1zM144.1 661.6h1v1h-1zM192.1 613.6h1v1h-1zM157.3 631.0h1v1h-1zM155.5 648.8h1v1h-1zM191.1 607.8h1v1h-1zM135.2 663.3h1v1h-1zM135.7 629.4h1v1h-1zM193.3 608.7h1v1h-1zM141.8 647.4h1v1h-1zM148.8 645.2h1v1h-1zM193.8 613.7h1v1h-1zM154.9 615.0h1v1h-1zM177.2 611.4h1v1h-1zM156.9 625.8h1v1h-1zM166.1 642.2h1v1h-1zM197.6 611.7h1v1h-1zM188.6 615.8h1v1h-1zM138.9 634.4h1v1h-1zM151.3 641.7h1v1h-1zM187.9 626.6h1v1h-1zM172.0 611.9h1v1h-1zM164.3 634.7h1v1h-1zM174.6 608.3h1v1h-1zM149.0 632.7h1v1h-1zM173.9 635.1h1v1h-1zM174.3 610.3h1v1h-1zM153.6 629.2h1v1h-1zM160.4 620.7h1v1h-1zM185.1 615.5h1v1h-1zM164.2 620.1h1v1h-1zM147.7 642.2h1v1h-1zM174.0 625.5h1v1h-1zM191.2 611.7h1v1h-1zM149.7 637.1h1v1h-1zM180.7 615.3h1v1h-1zM188.8 619.2h1v1h-1zM192.4 615.1h1v1h-1zM157.7 633.2h1v1h-1zM169.6 618.0h1v1h-1zM194.5 611.0h1v1h-1zM148.1 638.2h1v1h-1zM179.7 630.9h1v1h-1zM140.9 641.7h1v1h-1zM142.2 634.9h1v1h-1zM195.2 612.2h1v1h-1zM192.2 621.3h1v1h-1zM187.2 615.6h1v1h-1zM153.9 637.9h1v1h-1zM163.7 641.8h1v1h-1zM178.5 613.8h1v1h-1zM186.4 610.3h1v1h-1zM153.8 630.1h1v1h-1zM176.3 618.5h1v1h-1zM172.3 626.0h1v1h-1zM169.6 636.6h1v1h-1zM141.6 644.4h1v1h-1zM184.3 612.1h1v1h-1zM182.7 615.4h1v1h-1zM142.8 643.8h1v1h-1zM173.2 630.2h1v1h-1zM203.6 612.6h1v1h-1zM156.7 641.9h1v1h-1zM175.8 614.0h1v1h-1zM162.2 632.1h1v1h-1zM134.2 637.6h1v1h-1zM150.5 644.3h1v1h-1zM176.2 616.8h1v1h-1zM183.4 604.6h1v1h-1zM139.9 630.9h1v1h-1zM190.8 610.1h1v1h-1zM172.3 630.3h1v1h-1zM144.4 639.6h1v1h-1zM167.0 624.8h1v1h-1zM146.7 625.9h1v1h-1zM186.7 608.8h1v1h-1zM200.4 605.6h1v1h-1zM140.9 648.5h1v1h-1zM155.2 635.1h1v1h-1zM184.3 617.5h1v1h-1zM180.5 607.7h1v1h-1zM188.3 614.5h1v1h-1zM156.5 634.2h1v1h-1zM207.5 614.9h1v1h-1zM146.5 647.8h1v1h-1zM158.0 645.6h1v1h-1zM145.3 643.3h1v1h-1zM153.3 657.8h1v1h-1zM190.9 616.8h1v1h-1zM154.0 638.0h1v1h-1zM153.5 626.5h1v1h-1zM138.0 638.3h1v1h-1zM151.9 643.3h1v1h-1zM197.8 635.4h1v1h-1zM165.2 604.0h1v1h-1zM138.6 642.9h1v1h-1zM201.4 609.8h1v1h-1zM202.7 606.8h1v1h-1zM187.9 607.3h1v1h-1zM188.6 615.3h1v1h-1zM167.4 628.6h1v1h-1zM146.2 633.1h1v1h-1zM183.6 615.5h1v1h-1zM137.6 636.1h1v1h-1zM197.4 615.9h1v1h-1zM138.7 644.1h1v1h-1zM140.5 646.6h1v1h-1zM189.5 604.7h1v1h-1zM180.6 624.8h1v1h-1zM151.0 626.7h1v1h-1zM182.3 617.0h1v1h-1zM158.7 638.0h1v1h-1zM139.9 641.6h1v1h-1zM196.5 619.4h1v1h-1zM184.2 613.8h1v1h-1zM162.1 648.4h1v1h-1zM174.0 629.5h1v1h-1zM185.4 618.7h1v1h-1zM188.9 617.3h1v1h-1zM191.1 608.3h1v1h-1zM162.7 621.7h1v1h-1zM147.8 650.8h1v1h-1zM139.7 643.2h1v1h-1zM189.5 615.0h1v1h-1zM169.3 620.0h1v1h-1zM149.3 639.6h1v1h-1zM200.2 612.2h1v1h-1zM173.1 628.6h1v1h-1zM145.9 638.8h1v1h-1zM140.4 654.1h1v1h-1zM149.9 632.0h1v1h-1zM132.7 624.7h1v1h-1zM192.4 622.8h1v1h-1zM181.2 618.6h1v1h-1zM150.7 645.7h1v1h-1zM149.1 642.1h1v1h-1zM153.5 643.8h1v1h-1zM187.9 617.5h1v1h-1zM143.8 640.6h1v1h-1zM139.3 636.0h1v1h-1zM140.5 655.7h1v1h-1zM195.7 625.0h1v1h-1zM144.1 657.1h1v1h-1zM172.8 629.7h1v1h-1zM146.3 634.3h1v1h-1zM143.0 629.0h1v1h-1zM156.3 638.8h1v1h-1zM191.8 617.4h1v1h-1zM195.4 610.7h1v1h-1zM198.7 612.8h1v1h-1zM145.9 645.4h1v1h-1zM165.7 634.0h1v1h-1zM148.1 654.8h1v1h-1zM174.6 637.4h1v1h-1zM143.5 645.0h1v1h-1zM165.9 655.3h1v1h-1zM172.5 618.2h1v1h-1zM189.7 608.6h1v1h-1zM166.5 625.1h1v1h-1zM145.3 628.9h1v1h-1zM146.6 643.1h1v1h-1zM162.0 636.1h1v1h-1zM134.8 636.7h1v1h-1zM148.0 649.2h1v1h-1zM186.4 614.1h1v1h-1zM161.2 620.9h1v1h-1zM174.3 634.7h1v1h-1zM137.3 651.0h1v1h-1zM158.0 642.3h1v1h-1zM161.3 647.0h1v1h-1zM143.7 645.7h1v1h-1zM159.0 641.0h1v1h-1zM140.0 646.6h1v1h-1zM136.4 659.5h1v1h-1zM167.9 623.5h1v1h-1zM137.6 656.2h1v1h-1zM142.7 637.3h1v1h-1zM140.4 634.9h1v1h-1zM149.2 644.3h1v1h-1zM136.6 642.0h1v1h-1zM152.9 633.2h1v1h-1zM182.4 615.9h1v1h-1zM141.8 648.7h1v1h-1zM135.6 639.5h1v1h-1zM159.7 645.9h1v1h-1zM188.4 614.9h1v1h-1zM145.2 642.9h1v1h-1zM150.2 646.7h1v1h-1zM195.2 616.2h1v1h-1zM135.9 639.5h1v1h-1zM194.4 612.1h1v1h-1zM162.5 630.9h1v1h-1zM151.6 630.2h1v1h-1zM161.0 637.4h1v1h-1zM178.4 620.4h1v1h-1zM167.3 629.2h1v1h-1zM175.5 624.3h1v1h-1zM151.9 651.0h1v1h-1zM146.6 641.1h1v1h-1zM168.3 619.7h1v1h-1zM167.2 620.2h1v1h-1zM210.0 602.6h1v1h-1zM156.1 633.3h1v1h-1zM143.3 634.8h1v1h-1zM154.3 650.6h1v1h-1zM155.7 647.2h1v1h-1zM185.2 612.5h1v1h-1zM138.9 626.0h1v1h-1zM150.6 640.3h1v1h-1zM142.0 652.9h1v1h-1zM186.6 617.2h1v1h-1zM138.5 647.3h1v1h-1zM155.8 648.3h1v1h-1zM150.0 634.5h1v1h-1zM188.6 619.9h1v1h-1zM187.0 617.1h1v1h-1zM151.2 633.7h1v1h-1zM142.7 638.7h1v1h-1zM160.1 620.1h1v1h-1zM155.7 658.0h1v1h-1zM156.9 637.0h1v1h-1zM186.8 622.4h1v1h-1zM155.7 641.2h1v1h-1zM145.5 652.3h1v1h-1zM167.0 624.5h1v1h-1zM182.1 605.8h1v1h-1zM150.2 638.5h1v1h-1zM139.5 638.4h1v1h-1zM184.1 619.9h1v1h-1zM138.3 647.1h1v1h-1zM188.8 613.6h1v1h-1zM155.9 628.4h1v1h-1zM167.9 609.2h1v1h-1zM149.9 640.4h1v1h-1zM199.7 608.9h1v1h-1zM139.7 625.9h1v1h-1zM148.3 623.6h1v1h-1zM159.7 646.5h1v1h-1zM159.5 637.2h1v1h-1zM188.5 619.4h1v1h-1zM170.5 626.4h1v1h-1zM151.9 629.5h1v1h-1zM205.8 605.5h1v1h-1zM143.7 640.5h1v1h-1zM140.0 638.2h1v1h-1zM154.0 637.7h1v1h-1zM163.1 617.2h1v1h-1zM137.9 641.0h1v1h-1zM154.5 650.9h1v1h-1zM141.7 651.9h1v1h-1zM136.9 634.9h1v1h-1zM144.4 637.5h1v1h-1zM205.7 602.0h1v1h-1zM163.1 626.1h1v1h-1zM142.4 656.8h1v1h-1zM154.0 649.9h1v1h-1zM139.8 623.4h1v1h-1zM150.1 638.1h1v1h-1zM153.4 635.6h1v1h-1zM182.7 613.5h1v1h-1zM194.3 614.3h1v1h-1zM142.2 641.7h1v1h-1zM170.3 632.2h1v1h-1zM201.6 606.3h1v1h-1zM198.5 619.7h1v1h-1zM195.4 595.5h1v1h-1zM165.0 645.9h1v1h-1zM211.3 601.4h1v1h-1zM149.8 634.7h1v1h-1zM144.6 635.4h1v1h-1zM148.3 653.2h1v1h-1zM173.8 629.4h1v1h-1zM155.9 637.7h1v1h-1zM147.7 639.0h1v1h-1zM185.9 617.1h1v1h-1zM140.4 647.4h1v1h-1zM140.1 657.0h1v1h-1zM148.5 643.0h1v1h-1zM177.6 611.4h1v1h-1zM201.3 604.9h1v1h-1zM146.9 641.5h1v1h-1zM155.1 650.2h1v1h-1zM147.6 660.2h1v1h-1zM137.6 640.8h1v1h-1zM136.6 638.3h1v1h-1zM143.2 629.6h1v1h-1zM184.2 621.0h1v1h-1zM137.1 634.0h1v1h-1zM156.4 647.1h1v1h-1zM188.9 637.6h1v1h-1zM151.3 630.3h1v1h-1zM155.9 616.3h1v1h-1zM184.9 630.8h1v1h-1zM178.8 613.4h1v1h-1zM148.7 635.0h1v1h-1zM151.9 633.0h1v1h-1zM199.3 607.3h1v1h-1zM179.2 622.9h1v1h-1zM146.9 643.6h1v1h-1zM188.1 610.5h1v1h-1zM174.2 619.1h1v1h-1zM162.8 629.5h1v1h-1zM163.1 620.0h1v1h-1zM143.9 645.2h1v1h-1zM198.4 603.0h1v1h-1zM184.3 614.5h1v1h-1zM143.2 648.2h1v1h-1zM146.1 640.9h1v1h-1zM189.9 622.0h1v1h-1zM154.4 642.9h1v1h-1zM137.8 653.1h1v1h-1zM186.8 623.5h1v1h-1zM160.2 634.2h1v1h-1zM186.2 619.1h1v1h-1zM141.3 627.9h1v1h-1zM159.7 626.7h1v1h-1zM141.2 656.7h1v1h-1zM143.8 642.9h1v1h-1zM196.2 617.5h1v1h-1zM140.0 630.9h1v1h-1zM180.8 620.0h1v1h-1zM133.6 639.5h1v1h-1zM174.6 632.7h1v1h-1zM196.6 611.3h1v1h-1zM191.3 621.6h1v1h-1zM142.4 646.6h1v1h-1zM155.8 633.4h1v1h-1zM188.6 626.2h1v1h-1zM200.5 610.5h1v1h-1zM192.5 615.8h1v1h-1zM167.9 634.5h1v1h-1zM153.6 637.1h1v1h-1zM136.8 640.6h1v1h-1zM160.4 646.6h1v1h-1zM156.3 639.2h1v1h-1zM151.8 646.8h1v1h-1zM154.4 658.3h1v1h-1zM150.6 621.9h1v1h-1zM150.2 645.4h1v1h-1zM197.8 614.4h1v1h-1zM180.6 608.3h1v1h-1zM159.6 652.4h1v1h-1zM155.3 651.1h1v1h-1zM165.6 635.5h1v1h-1zM142.3 647.5h1v1h-1zM146.9 633.5h1v1h-1zM193.6 606.4h1v1h-1zM133.0 631.8h1v1h-1zM160.5 641.4h1v1h-1zM184.6 616.8h1v1h-1zM174.3 634.1h1v1h-1zM194.5 620.8h1v1h-1zM137.1 639.0h1v1h-1zM133.3 641.1h1v1h-1zM165.1 631.2h1v1h-1zM192.7 620.6h1v1h-1zM145.2 644.3h1v1h-1zM182.0 611.6h1v1h-1zM198.4 606.9h1v1h-1zM159.0 642.6h1v1h-1zM141.8 629.6h1v1h-1zM135.4 632.7h1v1h-1zM162.7 644.9h1v1h-1zM164.0 620.6h1v1h-1zM187.6 615.0h1v1h-1zM137.5 640.9h1v1h-1zM142.3 641.0h1v1h-1zM154.1 626.8h1v1h-1zM156.1 655.9h1v1h-1zM176.2 624.7h1v1h-1zM191.5 624.7h1v1h-1zM145.2 653.9h1v1h-1zM153.3 630.1h1v1h-1zM145.6 636.0h1v1h-1zM150.8 622.8h1v1h-1zM132.2 636.1h1v1h-1zM192.4 606.1h1v1h-1zM154.5 624.7h1v1h-1zM168.5 622.4h1v1h-1zM139.5 642.0h1v1h-1zM173.9 620.6h1v1h-1zM153.1 633.0h1v1h-1zM190.6 617.3h1v1h-1zM153.9 624.7h1v1h-1zM171.8 630.6h1v1h-1zM169.9 620.1h1v1h-1zM193.1 616.8h1v1h-1zM162.3 648.4h1v1h-1zM144.8 639.1h1v1h-1zM164.9 640.6h1v1h-1zM199.5 608.2h1v1h-1zM183.4 623.9h1v1h-1zM179.8 632.1h1v1h-1zM146.1 641.3h1v1h-1zM191.5 620.0h1v1h-1zM162.0 621.0h1v1h-1zM171.9 623.7h1v1h-1zM192.3 614.7h1v1h-1z" fill="#000" opacity="0.28"/>
<path d="M192.1 608.3h1v1h-1zM151.4 644.4h1v1h-1zM190.5 606.0h1v1h-1zM199.3 601.0h1v1h-1zM140.8 652.2h1v1h-1zM145.4 643.0h1v1h-1zM145.2 637.1h1v1h-1zM148.7 648.9h1v1h-1zM142.5 648.6h1v1h-1zM201.0 612.8h1v1h-1zM139.0 639.1h1v1h-1zM137.9 659.5h1v1h-1zM142.4 655.3h1v1h-1zM202.3 604.1h1v1h-1zM199.1 608.4h1v1h-1zM154.3 651.8h1v1h-1zM192.6 606.7h1v1h-1zM146.3 646.2h1v1h-1zM140.9 650.0h1v1h-1zM143.3 649.9h1v1h-1zM197.3 603.9h1v1h-1zM190.1 605.5h1v1h-1zM197.2 612.4h1v1h-1zM186.5 616.4h1v1h-1zM190.1 613.3h1v1h-1zM142.1 651.7h1v1h-1zM200.1 610.0h1v1h-1zM187.9 610.4h1v1h-1zM139.1 652.9h1v1h-1zM198.3 604.2h1v1h-1zM145.9 650.4h1v1h-1zM192.3 613.0h1v1h-1zM196.5 610.2h1v1h-1zM186.8 613.4h1v1h-1zM138.7 655.2h1v1h-1zM192.1 615.3h1v1h-1zM148.7 657.1h1v1h-1zM199.1 601.1h1v1h-1zM195.4 612.6h1v1h-1zM144.0 651.1h1v1h-1zM189.4 609.0h1v1h-1zM144.6 645.4h1v1h-1zM205.0 610.4h1v1h-1zM188.8 618.0h1v1h-1zM203.3 606.1h1v1h-1zM199.9 608.6h1v1h-1zM142.7 651.9h1v1h-1zM141.4 643.6h1v1h-1zM142.6 642.8h1v1h-1zM193.2 612.7h1v1h-1zM144.1 648.7h1v1h-1zM198.9 606.8h1v1h-1zM199.7 608.9h1v1h-1zM200.2 599.3h1v1h-1zM137.2 645.2h1v1h-1zM146.8 663.7h1v1h-1zM193.1 608.3h1v1h-1zM138.7 647.4h1v1h-1zM134.9 640.2h1v1h-1zM194.8 605.3h1v1h-1zM195.0 610.7h1v1h-1zM197.2 611.2h1v1h-1zM188.6 610.1h1v1h-1zM136.0 646.6h1v1h-1zM144.1 651.7h1v1h-1zM197.5 615.1h1v1h-1zM143.4 643.3h1v1h-1zM199.8 605.7h1v1h-1zM201.1 612.6h1v1h-1zM205.8 606.7h1v1h-1zM145.3 651.4h1v1h-1zM192.8 605.5h1v1h-1zM147.0 647.3h1v1h-1zM193.8 611.1h1v1h-1zM142.6 656.5h1v1h-1zM201.5 611.6h1v1h-1zM193.6 608.6h1v1h-1zM193.7 611.3h1v1h-1zM144.8 647.4h1v1h-1zM141.6 654.3h1v1h-1zM190.5 618.4h1v1h-1zM132.4 640.3h1v1h-1zM143.1 647.3h1v1h-1zM140.0 643.6h1v1h-1zM143.2 647.1h1v1h-1zM143.9 644.8h1v1h-1zM195.9 608.4h1v1h-1zM187.2 608.0h1v1h-1zM143.9 645.8h1v1h-1zM201.1 605.4h1v1h-1zM148.5 649.1h1v1h-1zM147.4 651.4h1v1h-1zM188.2 611.3h1v1h-1zM193.3 609.4h1v1h-1zM139.8 650.9h1v1h-1zM202.5 610.6h1v1h-1zM196.5 608.5h1v1h-1zM195.4 613.6h1v1h-1zM146.9 642.2h1v1h-1zM141.3 647.8h1v1h-1zM147.9 646.6h1v1h-1zM192.2 611.8h1v1h-1zM192.9 606.6h1v1h-1zM141.5 650.4h1v1h-1zM144.7 647.3h1v1h-1zM146.6 651.4h1v1h-1zM195.9 607.6h1v1h-1zM190.1 613.9h1v1h-1zM193.4 609.2h1v1h-1zM196.9 605.6h1v1h-1zM147.2 655.9h1v1h-1zM143.4 649.4h1v1h-1zM197.5 607.9h1v1h-1zM148.7 650.5h1v1h-1zM193.2 611.3h1v1h-1zM196.6 605.5h1v1h-1zM191.8 608.0h1v1h-1zM141.9 645.8h1v1h-1zM194.3 603.7h1v1h-1zM147.2 657.4h1v1h-1zM133.7 645.1h1v1h-1zM144.6 644.0h1v1h-1zM137.3 659.1h1v1h-1zM188.8 608.7h1v1h-1zM145.3 639.1h1v1h-1zM187.3 616.9h1v1h-1zM198.1 611.6h1v1h-1zM142.4 639.0h1v1h-1zM201.8 606.5h1v1h-1zM151.6 655.2h1v1h-1zM190.8 608.4h1v1h-1zM139.5 656.3h1v1h-1zM145.6 638.5h1v1h-1zM200.1 607.3h1v1h-1zM141.3 647.1h1v1h-1zM147.9 656.2h1v1h-1zM139.2 653.8h1v1h-1zM196.9 609.5h1v1h-1zM145.1 644.3h1v1h-1zM141.2 651.6h1v1h-1zM197.4 610.5h1v1h-1zM192.5 615.6h1v1h-1zM200.8 610.9h1v1h-1zM181.0 613.8h1v1h-1zM200.9 610.6h1v1h-1zM194.9 608.2h1v1h-1zM142.3 653.0h1v1h-1zM194.6 608.7h1v1h-1zM205.3 605.0h1v1h-1zM188.7 608.5h1v1h-1zM199.6 612.6h1v1h-1zM200.8 607.1h1v1h-1zM138.2 658.3h1v1h-1zM142.1 657.8h1v1h-1zM145.4 647.0h1v1h-1zM141.5 644.0h1v1h-1zM141.5 650.8h1v1h-1zM141.7 656.2h1v1h-1zM147.0 649.3h1v1h-1zM142.1 627.5h1v1h-1zM197.7 607.2h1v1h-1zM193.3 614.8h1v1h-1zM142.2 654.3h1v1h-1zM193.9 599.4h1v1h-1zM200.4 601.6h1v1h-1zM140.9 644.7h1v1h-1zM193.2 607.0h1v1h-1zM193.9 610.5h1v1h-1zM138.6 651.3h1v1h-1zM146.5 647.2h1v1h-1zM196.2 614.3h1v1h-1zM199.2 610.5h1v1h-1zM139.4 655.9h1v1h-1zM145.1 647.5h1v1h-1zM146.3 647.6h1v1h-1zM191.9 607.7h1v1h-1zM188.8 612.2h1v1h-1zM139.1 635.3h1v1h-1zM141.1 643.3h1v1h-1zM136.6 644.7h1v1h-1zM192.2 610.2h1v1h-1zM144.6 642.3h1v1h-1zM199.2 605.7h1v1h-1zM141.3 653.0h1v1h-1zM191.4 606.2h1v1h-1zM194.7 610.0h1v1h-1zM143.5 643.8h1v1h-1zM197.6 607.4h1v1h-1zM195.7 617.2h1v1h-1zM141.6 643.9h1v1h-1zM200.1 607.9h1v1h-1zM189.2 609.3h1v1h-1zM146.7 647.7h1v1h-1zM193.6 610.0h1v1h-1zM146.7 654.9h1v1h-1zM201.4 606.4h1v1h-1zM145.8 647.9h1v1h-1zM206.5 608.1h1v1h-1zM194.5 606.2h1v1h-1zM148.3 637.2h1v1h-1zM135.7 643.5h1v1h-1zM190.3 608.7h1v1h-1zM195.8 609.7h1v1h-1zM187.9 617.9h1v1h-1zM196.8 607.0h1v1h-1zM137.8 650.9h1v1h-1zM151.2 640.4h1v1h-1zM141.0 642.7h1v1h-1zM136.3 650.2h1v1h-1zM144.1 658.8h1v1h-1zM137.5 648.5h1v1h-1zM195.5 611.7h1v1h-1zM187.6 612.2h1v1h-1zM142.7 639.7h1v1h-1zM193.0 615.8h1v1h-1zM195.4 609.9h1v1h-1zM139.4 648.5h1v1h-1zM141.3 641.0h1v1h-1zM203.7 604.7h1v1h-1zM142.9 660.2h1v1h-1zM144.5 653.8h1v1h-1zM144.5 643.9h1v1h-1zM190.8 617.9h1v1h-1zM142.2 648.7h1v1h-1zM144.4 654.0h1v1h-1zM195.3 614.6h1v1h-1zM190.3 616.9h1v1h-1zM196.5 607.4h1v1h-1zM138.7 647.4h1v1h-1zM201.6 599.8h1v1h-1zM194.9 617.0h1v1h-1zM197.2 611.7h1v1h-1zM197.4 610.1h1v1h-1zM190.1 615.3h1v1h-1zM141.1 646.6h1v1h-1zM194.0 612.7h1v1h-1zM147.4 636.2h1v1h-1zM141.5 643.3h1v1h-1zM138.9 644.7h1v1h-1zM194.3 614.0h1v1h-1zM142.9 655.6h1v1h-1zM196.9 603.9h1v1h-1zM135.9 654.2h1v1h-1zM193.4 611.1h1v1h-1zM143.8 653.3h1v1h-1zM141.5 650.2h1v1h-1zM144.9 644.2h1v1h-1zM202.9 607.5h1v1h-1zM197.9 616.8h1v1h-1zM145.0 650.3h1v1h-1zM139.9 650.1h1v1h-1zM137.9 644.6h1v1h-1zM143.9 648.1h1v1h-1zM201.5 602.8h1v1h-1zM143.7 653.8h1v1h-1zM143.1 642.5h1v1h-1zM197.9 608.3h1v1h-1zM139.8 639.9h1v1h-1zM149.1 652.8h1v1h-1zM198.5 610.9h1v1h-1zM140.2 640.6h1v1h-1zM141.9 648.1h1v1h-1zM202.2 607.2h1v1h-1zM197.1 613.0h1v1h-1zM198.9 616.9h1v1h-1zM141.8 650.1h1v1h-1zM191.1 609.6h1v1h-1zM192.9 606.9h1v1h-1zM189.0 615.0h1v1h-1zM138.8 655.5h1v1h-1zM134.5 648.3h1v1h-1zM145.3 644.9h1v1h-1zM133.5 646.3h1v1h-1zM189.2 610.1h1v1h-1zM206.7 600.2h1v1h-1zM136.7 655.3h1v1h-1zM193.9 609.7h1v1h-1zM144.0 660.0h1v1h-1zM145.6 648.6h1v1h-1zM192.1 614.3h1v1h-1zM187.1 615.8h1v1h-1zM198.6 605.5h1v1h-1zM135.5 639.9h1v1h-1zM143.9 650.1h1v1h-1zM191.9 607.2h1v1h-1zM197.9 609.1h1v1h-1zM144.0 649.4h1v1h-1zM186.4 610.4h1v1h-1zM203.2 611.6h1v1h-1zM139.3 647.6h1v1h-1zM209.1 609.4h1v1h-1zM191.7 610.6h1v1h-1zM194.4 604.2h1v1h-1zM139.6 640.6h1v1h-1zM194.6 605.9h1v1h-1zM193.1 610.2h1v1h-1zM197.7 609.0h1v1h-1zM137.0 641.5h1v1h-1zM182.5 611.7h1v1h-1zM145.1 651.7h1v1h-1zM189.5 617.9h1v1h-1zM139.6 644.7h1v1h-1zM201.9 603.9h1v1h-1zM140.2 650.6h1v1h-1zM203.3 608.6h1v1h-1zM138.0 649.0h1v1h-1zM203.1 611.0h1v1h-1zM198.2 609.8h1v1h-1zM205.0 605.6h1v1h-1zM191.9 613.0h1v1h-1zM204.5 605.9h1v1h-1zM207.0 603.2h1v1h-1zM141.9 644.5h1v1h-1zM146.1 642.6h1v1h-1zM141.2 640.0h1v1h-1zM188.9 611.7h1v1h-1zM142.9 647.6h1v1h-1zM193.5 619.4h1v1h-1zM184.4 619.0h1v1h-1zM201.0 604.7h1v1h-1zM141.3 648.1h1v1h-1zM203.0 603.6h1v1h-1zM144.6 652.1h1v1h-1zM137.6 647.7h1v1h-1zM193.0 610.2h1v1h-1zM194.2 609.0h1v1h-1zM136.9 655.0h1v1h-1zM196.9 613.0h1v1h-1zM194.7 615.7h1v1h-1zM142.0 648.5h1v1h-1zM136.0 651.4h1v1h-1zM200.2 605.0h1v1h-1zM197.6 610.6h1v1h-1zM197.9 607.1h1v1h-1zM198.2 609.3h1v1h-1zM199.7 615.3h1v1h-1zM195.6 611.5h1v1h-1zM142.2 652.8h1v1h-1zM202.9 603.7h1v1h-1zM197.6 602.4h1v1h-1zM137.2 641.8h1v1h-1zM199.9 614.4h1v1h-1zM143.9 644.9h1v1h-1zM150.3 647.0h1v1h-1zM202.7 607.2h1v1h-1zM138.6 640.9h1v1h-1zM140.5 659.3h1v1h-1zM193.1 622.2h1v1h-1zM154.4 650.2h1v1h-1zM194.1 612.9h1v1h-1zM194.8 600.1h1v1h-1zM141.4 654.1h1v1h-1zM140.0 651.2h1v1h-1zM195.6 610.1h1v1h-1zM139.9 648.8h1v1h-1zM140.1 647.4h1v1h-1zM188.4 608.5h1v1h-1zM202.9 608.9h1v1h-1z" fill="#000" opacity="0.5"/>
<path d="M191.5 608.6h1v1h-1zM208.4 602.4h1v1h-1zM137.6 647.0h1v1h-1zM192.2 610.7h1v1h-1zM138.1 655.3h1v1h-1zM200.5 599.2h1v1h-1zM198.2 608.4h1v1h-1zM142.7 646.8h1v1h-1zM192.1 605.4h1v1h-1zM196.9 614.0h1v1h-1zM202.5 609.7h1v1h-1zM199.0 603.4h1v1h-1zM145.7 645.8h1v1h-1zM188.7 613.3h1v1h-1zM196.2 605.6h1v1h-1zM146.1 649.2h1v1h-1zM192.3 604.2h1v1h-1zM191.1 611.4h1v1h-1zM199.0 610.4h1v1h-1zM139.0 642.6h1v1h-1zM196.2 617.6h1v1h-1zM146.0 657.0h1v1h-1zM204.9 604.3h1v1h-1zM148.2 660.5h1v1h-1zM135.2 647.9h1v1h-1zM198.2 605.7h1v1h-1zM133.8 652.1h1v1h-1zM191.4 612.4h1v1h-1zM211.2 595.1h1v1h-1zM195.3 614.3h1v1h-1zM142.4 654.4h1v1h-1zM145.0 635.0h1v1h-1zM196.8 612.2h1v1h-1zM194.8 608.9h1v1h-1zM135.2 643.3h1v1h-1zM138.1 658.5h1v1h-1zM142.1 650.2h1v1h-1zM197.4 611.9h1v1h-1zM144.2 646.5h1v1h-1zM188.9 616.4h1v1h-1zM132.6 658.0h1v1h-1zM138.4 651.5h1v1h-1zM193.7 605.4h1v1h-1zM195.1 611.7h1v1h-1zM139.4 648.1h1v1h-1zM139.2 649.5h1v1h-1zM144.0 653.3h1v1h-1zM192.1 618.1h1v1h-1zM143.3 637.0h1v1h-1zM142.5 658.1h1v1h-1zM152.0 647.6h1v1h-1zM141.1 646.4h1v1h-1zM140.9 650.8h1v1h-1zM188.4 611.9h1v1h-1zM144.0 646.2h1v1h-1zM198.5 602.3h1v1h-1zM137.8 650.1h1v1h-1zM137.5 644.6h1v1h-1zM144.3 657.3h1v1h-1zM193.7 614.0h1v1h-1zM145.2 650.0h1v1h-1zM139.2 659.9h1v1h-1zM151.0 641.7h1v1h-1zM142.6 645.8h1v1h-1zM200.3 606.9h1v1h-1zM140.6 648.7h1v1h-1zM139.8 644.1h1v1h-1zM191.8 609.4h1v1h-1zM197.2 607.7h1v1h-1zM195.4 606.2h1v1h-1zM146.3 649.1h1v1h-1zM140.1 652.4h1v1h-1zM140.3 650.7h1v1h-1zM136.0 644.7h1v1h-1zM192.1 608.7h1v1h-1zM145.5 652.1h1v1h-1zM140.2 653.9h1v1h-1zM140.4 650.2h1v1h-1zM139.4 642.4h1v1h-1zM132.3 648.9h1v1h-1zM140.0 658.1h1v1h-1zM204.5 601.5h1v1h-1zM144.8 644.0h1v1h-1zM191.1 611.6h1v1h-1zM138.1 650.5h1v1h-1zM140.1 643.5h1v1h-1zM144.7 636.5h1v1h-1zM138.7 642.8h1v1h-1zM192.7 609.1h1v1h-1zM145.7 641.2h1v1h-1zM200.6 607.0h1v1h-1zM137.3 648.5h1v1h-1zM141.8 651.4h1v1h-1zM146.3 659.9h1v1h-1zM141.6 643.4h1v1h-1zM189.4 605.5h1v1h-1zM194.6 608.6h1v1h-1zM136.9 650.9h1v1h-1zM196.6 612.0h1v1h-1zM193.4 608.0h1v1h-1zM199.8 610.2h1v1h-1zM148.0 641.8h1v1h-1zM143.5 650.7h1v1h-1zM139.2 638.0h1v1h-1zM144.1 643.1h1v1h-1zM140.5 654.5h1v1h-1zM194.7 608.3h1v1h-1zM141.1 657.8h1v1h-1zM198.1 607.7h1v1h-1zM151.0 651.4h1v1h-1zM148.6 653.3h1v1h-1zM194.0 606.6h1v1h-1zM142.3 647.7h1v1h-1zM136.5 659.2h1v1h-1zM188.9 608.9h1v1h-1zM140.1 649.7h1v1h-1zM147.1 648.5h1v1h-1zM192.5 615.0h1v1h-1zM139.8 649.9h1v1h-1zM148.1 653.6h1v1h-1zM194.5 602.0h1v1h-1zM192.3 613.0h1v1h-1zM197.3 605.3h1v1h-1zM151.0 649.6h1v1h-1zM194.7 606.6h1v1h-1zM194.7 610.9h1v1h-1zM192.9 616.8h1v1h-1zM135.7 654.9h1v1h-1zM193.5 609.3h1v1h-1zM139.1 641.8h1v1h-1zM196.0 611.0h1v1h-1zM195.5 610.8h1v1h-1zM143.2 651.4h1v1h-1zM144.6 657.7h1v1h-1zM146.1 645.5h1v1h-1zM141.6 642.2h1v1h-1zM199.4 604.8h1v1h-1zM146.4 645.7h1v1h-1zM194.4 613.8h1v1h-1zM186.2 614.6h1v1h-1zM197.5 609.2h1v1h-1zM144.0 654.6h1v1h-1zM192.0 608.8h1v1h-1zM142.2 656.9h1v1h-1zM199.6 604.2h1v1h-1zM191.9 614.3h1v1h-1zM142.3 648.1h1v1h-1zM138.9 647.8h1v1h-1zM189.9 618.1h1v1h-1zM193.1 605.9h1v1h-1zM141.9 649.3h1v1h-1zM206.4 607.2h1v1h-1zM194.0 603.7h1v1h-1zM190.7 611.4h1v1h-1zM199.8 608.7h1v1h-1zM200.4 607.4h1v1h-1zM202.2 610.5h1v1h-1zM201.7 599.7h1v1h-1zM190.4 607.9h1v1h-1zM193.0 609.8h1v1h-1zM150.6 644.0h1v1h-1zM192.9 611.3h1v1h-1zM201.1 601.9h1v1h-1zM137.1 648.5h1v1h-1zM143.6 638.2h1v1h-1zM140.1 650.8h1v1h-1zM136.4 654.6h1v1h-1zM185.6 612.6h1v1h-1zM205.6 603.9h1v1h-1zM192.0 611.1h1v1h-1zM187.2 610.8h1v1h-1zM139.6 647.5h1v1h-1zM194.2 607.5h1v1h-1zM145.1 653.5h1v1h-1zM199.0 610.0h1v1h-1zM147.4 646.0h1v1h-1zM137.4 636.3h1v1h-1zM199.0 606.4h1v1h-1zM189.3 612.5h1v1h-1zM190.0 607.4h1v1h-1zM146.3 640.8h1v1h-1zM135.0 636.6h1v1h-1zM143.7 642.4h1v1h-1zM201.6 605.1h1v1h-1zM147.7 658.0h1v1h-1zM141.1 644.4h1v1h-1zM186.8 613.7h1v1h-1zM142.6 649.1h1v1h-1zM196.0 612.6h1v1h-1zM150.9 643.8h1v1h-1zM193.3 611.2h1v1h-1zM201.5 605.9h1v1h-1zM197.6 613.3h1v1h-1zM137.9 646.2h1v1h-1zM143.3 642.0h1v1h-1zM147.8 646.9h1v1h-1zM196.5 612.5h1v1h-1zM193.4 610.4h1v1h-1zM137.6 649.2h1v1h-1zM200.0 607.5h1v1h-1zM188.8 612.4h1v1h-1zM150.2 649.0h1v1h-1zM195.5 605.1h1v1h-1zM134.0 650.4h1v1h-1zM199.1 608.2h1v1h-1zM136.9 637.3h1v1h-1zM144.9 653.1h1v1h-1zM136.5 655.5h1v1h-1zM195.6 610.0h1v1h-1zM191.4 607.8h1v1h-1zM136.2 653.3h1v1h-1zM187.7 616.1h1v1h-1zM193.4 607.4h1v1h-1zM138.5 648.7h1v1h-1zM144.2 651.0h1v1h-1zM141.4 650.1h1v1h-1zM135.2 650.5h1v1h-1zM142.7 647.5h1v1h-1zM186.8 616.6h1v1h-1zM141.9 648.7h1v1h-1zM204.2 612.1h1v1h-1zM145.9 642.3h1v1h-1zM197.0 610.5h1v1h-1zM194.6 613.1h1v1h-1zM198.0 612.1h1v1h-1zM196.5 609.4h1v1h-1zM185.1 617.2h1v1h-1zM190.0 609.3h1v1h-1zM143.0 649.6h1v1h-1zM198.1 616.5h1v1h-1zM139.0 636.8h1v1h-1zM142.5 654.8h1v1h-1zM196.2 610.4h1v1h-1zM184.3 615.8h1v1h-1zM146.9 657.0h1v1h-1zM134.1 653.5h1v1h-1zM193.8 600.1h1v1h-1zM194.4 609.5h1v1h-1zM192.5 612.4h1v1h-1zM138.3 648.1h1v1h-1zM135.4 654.0h1v1h-1zM142.9 644.3h1v1h-1zM142.3 652.7h1v1h-1zM203.1 609.6h1v1h-1zM200.4 599.2h1v1h-1zM194.7 612.6h1v1h-1zM141.2 650.2h1v1h-1zM188.6 612.3h1v1h-1zM142.8 640.6h1v1h-1zM137.7 648.6h1v1h-1zM141.5 650.5h1v1h-1zM140.5 648.3h1v1h-1zM202.7 603.9h1v1h-1zM186.6 612.3h1v1h-1zM196.1 607.5h1v1h-1zM213.7 595.9h1v1h-1zM146.0 644.3h1v1h-1zM201.0 604.8h1v1h-1zM139.5 645.0h1v1h-1zM150.5 641.9h1v1h-1zM139.8 645.7h1v1h-1zM136.5 647.0h1v1h-1zM142.2 656.0h1v1h-1zM193.1 615.0h1v1h-1zM140.4 652.7h1v1h-1zM144.1 647.9h1v1h-1zM144.3 648.9h1v1h-1zM144.1 646.2h1v1h-1zM197.1 605.2h1v1h-1zM137.0 654.1h1v1h-1zM187.9 617.1h1v1h-1zM194.8 609.3h1v1h-1zM201.7 605.0h1v1h-1zM142.2 656.8h1v1h-1zM148.6 661.5h1v1h-1zM200.0 609.8h1v1h-1zM192.0 612.7h1v1h-1zM135.8 653.7h1v1h-1zM199.1 602.0h1v1h-1zM145.6 642.7h1v1h-1zM194.7 611.8h1v1h-1zM146.0 644.3h1v1h-1zM135.3 639.4h1v1h-1zM144.2 644.3h1v1h-1zM144.4 650.8h1v1h-1zM144.8 640.7h1v1h-1zM190.4 613.4h1v1h-1zM142.2 650.4h1v1h-1zM141.6 646.7h1v1h-1zM145.7 649.1h1v1h-1zM189.5 612.6h1v1h-1zM138.9 654.5h1v1h-1zM200.9 605.4h1v1h-1zM194.4 610.8h1v1h-1zM144.3 651.9h1v1h-1zM141.5 654.0h1v1h-1zM198.7 599.1h1v1h-1zM193.2 610.7h1v1h-1zM142.2 644.6h1v1h-1zM144.6 654.3h1v1h-1zM189.5 615.0h1v1h-1zM147.0 646.7h1v1h-1zM210.7 605.1h1v1h-1zM197.4 609.9h1v1h-1zM194.6 612.8h1v1h-1zM199.7 604.7h1v1h-1zM198.3 612.1h1v1h-1zM142.9 646.8h1v1h-1zM137.2 653.0h1v1h-1zM144.8 659.1h1v1h-1zM141.4 643.9h1v1h-1zM143.3 641.3h1v1h-1zM140.0 637.5h1v1h-1zM196.4 614.4h1v1h-1zM194.9 607.8h1v1h-1zM186.9 614.3h1v1h-1zM142.6 658.2h1v1h-1zM206.1 606.6h1v1h-1zM145.6 651.7h1v1h-1zM144.2 657.7h1v1h-1zM144.0 636.7h1v1h-1zM139.3 645.6h1v1h-1zM134.5 642.4h1v1h-1zM197.3 613.9h1v1h-1zM191.0 615.1h1v1h-1zM184.5 615.9h1v1h-1zM191.6 611.1h1v1h-1zM147.5 648.9h1v1h-1zM136.9 651.8h1v1h-1zM137.2 637.9h1v1h-1zM133.1 638.4h1v1h-1zM144.6 647.7h1v1h-1zM186.4 607.9h1v1h-1zM142.1 643.9h1v1h-1zM191.6 612.0h1v1h-1zM144.2 639.8h1v1h-1zM190.9 603.4h1v1h-1zM186.0 610.3h1v1h-1zM193.7 604.1h1v1h-1zM183.6 610.9h1v1h-1zM148.0 650.9h1v1h-1zM196.7 604.2h1v1h-1zM140.2 650.1h1v1h-1zM189.3 618.3h1v1h-1zM184.8 615.6h1v1h-1zM201.4 606.4h1v1h-1zM189.4 615.0h1v1h-1zM199.2 603.3h1v1h-1zM142.5 649.5h1v1h-1zM195.2 606.9h1v1h-1zM148.8 648.9h1v1h-1zM195.3 605.5h1v1h-1zM151.5 649.7h1v1h-1zM140.1 641.7h1v1h-1zM197.4 616.0h1v1h-1zM145.9 641.5h1v1h-1zM144.3 642.1h1v1h-1zM180.2 618.6h1v1h-1z" fill="#000" opacity="0.5"/>
<path d="M138.6 650.6h1v1h-1zM132.4 652.2h1v1h-1zM201.3 605.1h1v1h-1zM142.5 647.3h1v1h-1zM141.8 650.4h1v1h-1zM147.6 651.0h1v1h-1zM198.2 608.8h1v1h-1zM138.2 644.6h1v1h-1zM191.6 610.0h1v1h-1zM139.4 654.4h1v1h-1zM147.3 657.9h1v1h-1zM194.7 612.0h1v1h-1zM142.3 651.2h1v1h-1zM199.4 605.7h1v1h-1zM193.8 621.4h1v1h-1zM138.4 642.3h1v1h-1zM189.1 605.3h1v1h-1zM191.1 612.0h1v1h-1zM188.4 606.6h1v1h-1zM201.0 606.5h1v1h-1zM195.9 609.7h1v1h-1zM142.6 640.8h1v1h-1zM142.4 647.2h1v1h-1zM139.8 653.9h1v1h-1zM143.7 655.0h1v1h-1zM188.0 605.4h1v1h-1zM139.9 640.4h1v1h-1zM195.2 604.7h1v1h-1zM140.3 638.9h1v1h-1zM141.9 650.7h1v1h-1zM193.6 611.1h1v1h-1zM143.8 643.2h1v1h-1zM201.9 607.1h1v1h-1zM142.8 647.3h1v1h-1zM146.7 648.3h1v1h-1zM195.8 607.2h1v1h-1zM200.1 602.1h1v1h-1zM141.1 654.5h1v1h-1zM140.1 645.0h1v1h-1zM192.5 615.1h1v1h-1zM196.3 605.9h1v1h-1zM142.0 643.6h1v1h-1zM136.0 645.1h1v1h-1zM137.6 646.7h1v1h-1zM145.5 661.8h1v1h-1zM201.6 606.6h1v1h-1zM145.9 649.1h1v1h-1zM145.1 642.5h1v1h-1zM142.3 647.9h1v1h-1zM144.0 653.6h1v1h-1zM137.0 649.4h1v1h-1zM132.2 651.9h1v1h-1zM187.3 617.2h1v1h-1zM191.0 610.2h1v1h-1zM135.9 652.1h1v1h-1zM190.1 610.0h1v1h-1zM200.4 615.1h1v1h-1zM139.2 657.2h1v1h-1zM197.2 607.1h1v1h-1zM188.7 615.5h1v1h-1zM144.7 646.0h1v1h-1zM202.3 600.7h1v1h-1zM201.5 603.4h1v1h-1zM203.5 605.6h1v1h-1zM187.5 612.1h1v1h-1zM187.5 617.8h1v1h-1zM192.0 614.6h1v1h-1zM142.8 651.7h1v1h-1zM138.1 650.6h1v1h-1zM192.5 604.9h1v1h-1zM178.6 615.3h1v1h-1zM141.2 637.4h1v1h-1zM142.2 644.2h1v1h-1zM147.5 655.2h1v1h-1zM144.5 648.6h1v1h-1zM201.6 605.3h1v1h-1zM189.6 612.4h1v1h-1zM184.8 614.7h1v1h-1zM142.4 647.7h1v1h-1zM201.1 608.2h1v1h-1zM132.3 653.4h1v1h-1zM142.7 653.0h1v1h-1zM141.8 642.9h1v1h-1zM182.0 612.8h1v1h-1zM147.7 639.4h1v1h-1zM146.4 652.6h1v1h-1zM151.8 649.3h1v1h-1zM141.1 642.7h1v1h-1zM135.6 653.7h1v1h-1zM136.4 649.7h1v1h-1zM139.9 647.1h1v1h-1zM199.5 607.7h1v1h-1zM194.7 604.3h1v1h-1zM191.0 610.3h1v1h-1zM189.5 614.5h1v1h-1zM198.8 610.7h1v1h-1zM140.3 647.7h1v1h-1zM194.5 611.7h1v1h-1zM192.9 614.1h1v1h-1zM183.3 613.5h1v1h-1zM146.9 653.0h1v1h-1zM206.8 607.6h1v1h-1zM186.8 614.2h1v1h-1zM187.0 616.7h1v1h-1zM135.6 640.2h1v1h-1zM142.9 658.8h1v1h-1zM195.2 604.4h1v1h-1zM134.6 649.7h1v1h-1zM185.3 612.3h1v1h-1zM144.0 646.0h1v1h-1zM196.1 613.6h1v1h-1zM145.1 648.7h1v1h-1zM149.8 650.1h1v1h-1zM140.9 656.1h1v1h-1zM143.3 645.7h1v1h-1zM189.6 615.3h1v1h-1zM143.4 652.7h1v1h-1zM192.8 604.2h1v1h-1zM137.2 646.1h1v1h-1zM200.7 605.0h1v1h-1zM199.4 607.3h1v1h-1zM187.9 621.1h1v1h-1zM191.6 612.6h1v1h-1zM197.4 605.5h1v1h-1zM141.1 645.2h1v1h-1zM133.9 646.4h1v1h-1zM197.1 605.7h1v1h-1zM198.9 613.3h1v1h-1zM195.4 613.9h1v1h-1zM138.2 650.5h1v1h-1zM142.8 644.3h1v1h-1zM140.8 645.7h1v1h-1zM150.6 646.7h1v1h-1zM142.9 641.5h1v1h-1zM140.5 647.9h1v1h-1zM147.2 650.6h1v1h-1zM197.8 611.0h1v1h-1zM190.9 614.2h1v1h-1zM191.5 605.9h1v1h-1zM137.0 643.3h1v1h-1zM198.0 618.0h1v1h-1zM199.8 605.0h1v1h-1zM142.1 636.0h1v1h-1zM201.2 606.4h1v1h-1zM139.8 649.9h1v1h-1zM141.6 643.7h1v1h-1zM191.6 614.8h1v1h-1zM137.9 639.7h1v1h-1zM141.4 648.4h1v1h-1zM140.9 650.2h1v1h-1zM188.4 605.9h1v1h-1zM191.5 615.6h1v1h-1zM187.9 610.9h1v1h-1zM189.5 612.5h1v1h-1zM196.5 617.9h1v1h-1zM205.8 608.7h1v1h-1zM189.2 613.6h1v1h-1zM138.6 643.9h1v1h-1zM137.4 644.4h1v1h-1zM140.1 638.0h1v1h-1zM140.8 653.2h1v1h-1zM195.0 608.5h1v1h-1zM145.2 654.3h1v1h-1zM205.4 604.4h1v1h-1zM189.9 606.4h1v1h-1zM133.9 646.1h1v1h-1zM190.5 610.9h1v1h-1zM188.5 614.4h1v1h-1zM143.6 650.9h1v1h-1zM139.6 633.1h1v1h-1zM149.6 649.3h1v1h-1zM192.9 612.0h1v1h-1zM191.6 606.5h1v1h-1zM186.5 610.2h1v1h-1zM198.7 607.3h1v1h-1zM142.9 651.4h1v1h-1zM198.5 607.0h1v1h-1zM194.8 617.2h1v1h-1zM198.3 615.1h1v1h-1zM199.0 614.2h1v1h-1zM138.8 641.6h1v1h-1zM146.3 631.7h1v1h-1zM141.2 652.4h1v1h-1zM195.6 601.8h1v1h-1zM150.2 641.8h1v1h-1zM149.7 647.3h1v1h-1zM140.9 662.7h1v1h-1zM194.8 610.6h1v1h-1zM148.1 654.0h1v1h-1zM197.9 611.0h1v1h-1zM192.8 610.1h1v1h-1zM195.6 615.0h1v1h-1zM144.1 646.2h1v1h-1zM139.0 644.2h1v1h-1zM147.2 638.1h1v1h-1zM201.7 603.9h1v1h-1zM136.3 650.2h1v1h-1zM140.9 661.9h1v1h-1zM193.9 614.6h1v1h-1zM142.3 650.5h1v1h-1zM138.4 649.0h1v1h-1zM196.4 612.6h1v1h-1zM199.0 602.3h1v1h-1zM186.9 608.9h1v1h-1zM141.9 655.2h1v1h-1zM189.5 611.9h1v1h-1zM193.8 607.1h1v1h-1zM142.4 650.3h1v1h-1zM191.8 610.2h1v1h-1zM146.8 647.0h1v1h-1zM200.7 612.9h1v1h-1zM199.0 609.0h1v1h-1zM194.5 615.7h1v1h-1zM143.6 656.8h1v1h-1zM137.1 644.8h1v1h-1zM199.2 607.0h1v1h-1zM184.5 614.0h1v1h-1zM145.0 647.0h1v1h-1zM141.9 655.3h1v1h-1zM190.8 605.5h1v1h-1zM141.9 649.0h1v1h-1zM134.0 640.6h1v1h-1zM190.3 612.2h1v1h-1zM199.6 606.0h1v1h-1zM203.2 609.6h1v1h-1zM190.7 621.6h1v1h-1zM196.4 610.6h1v1h-1zM193.2 614.4h1v1h-1zM198.1 617.1h1v1h-1zM198.5 611.8h1v1h-1zM195.3 607.0h1v1h-1zM195.1 601.2h1v1h-1zM196.5 617.6h1v1h-1zM146.1 631.2h1v1h-1zM190.1 616.4h1v1h-1zM134.0 651.5h1v1h-1zM189.8 604.3h1v1h-1zM197.1 605.0h1v1h-1zM196.8 602.9h1v1h-1zM208.4 604.5h1v1h-1zM147.3 636.5h1v1h-1zM140.6 642.8h1v1h-1zM202.3 606.7h1v1h-1zM186.8 612.7h1v1h-1zM138.2 634.9h1v1h-1zM192.9 605.3h1v1h-1zM146.3 646.4h1v1h-1zM188.0 609.6h1v1h-1zM143.9 640.9h1v1h-1zM142.2 653.5h1v1h-1zM140.0 644.7h1v1h-1zM196.7 606.3h1v1h-1zM141.2 653.5h1v1h-1zM141.0 652.0h1v1h-1zM191.7 613.0h1v1h-1zM140.1 652.6h1v1h-1zM148.6 647.5h1v1h-1zM139.8 643.2h1v1h-1zM200.5 610.6h1v1h-1zM138.5 642.2h1v1h-1zM201.8 610.8h1v1h-1zM195.4 605.6h1v1h-1zM144.0 654.8h1v1h-1zM140.0 642.8h1v1h-1zM141.6 653.0h1v1h-1zM196.4 611.0h1v1h-1zM189.9 611.5h1v1h-1zM139.2 654.5h1v1h-1zM141.8 650.4h1v1h-1zM188.6 617.0h1v1h-1zM200.5 609.0h1v1h-1zM142.5 648.7h1v1h-1zM196.4 612.9h1v1h-1zM140.1 653.2h1v1h-1zM148.5 652.9h1v1h-1zM145.5 657.3h1v1h-1zM195.5 612.5h1v1h-1zM194.7 604.8h1v1h-1zM196.9 607.3h1v1h-1zM141.0 648.0h1v1h-1zM194.4 614.1h1v1h-1zM187.8 613.7h1v1h-1zM198.7 609.1h1v1h-1zM141.2 642.4h1v1h-1zM202.0 604.9h1v1h-1zM201.7 608.4h1v1h-1zM185.8 614.4h1v1h-1zM145.4 651.1h1v1h-1zM192.9 614.2h1v1h-1zM143.3 646.5h1v1h-1zM193.7 608.6h1v1h-1zM148.4 647.8h1v1h-1zM136.7 644.0h1v1h-1zM199.1 607.4h1v1h-1zM191.7 613.3h1v1h-1zM136.0 647.7h1v1h-1zM190.7 608.4h1v1h-1zM194.5 606.8h1v1h-1zM182.4 620.4h1v1h-1zM140.2 653.8h1v1h-1zM191.5 607.3h1v1h-1zM188.7 610.5h1v1h-1zM198.4 609.0h1v1h-1zM189.2 611.1h1v1h-1zM196.2 620.5h1v1h-1zM203.0 612.7h1v1h-1zM140.5 659.6h1v1h-1zM196.9 609.7h1v1h-1zM142.5 653.8h1v1h-1zM146.5 648.8h1v1h-1zM137.1 653.2h1v1h-1zM199.0 611.6h1v1h-1zM198.7 604.4h1v1h-1zM145.6 656.7h1v1h-1zM155.1 646.9h1v1h-1zM135.0 645.6h1v1h-1zM138.7 651.0h1v1h-1zM140.4 649.2h1v1h-1zM193.0 608.1h1v1h-1zM142.2 644.0h1v1h-1zM144.8 638.5h1v1h-1zM192.5 609.3h1v1h-1zM136.7 650.1h1v1h-1zM201.7 606.5h1v1h-1zM140.0 648.6h1v1h-1zM197.9 611.8h1v1h-1zM146.2 650.0h1v1h-1zM150.2 647.7h1v1h-1zM136.9 660.9h1v1h-1zM140.6 646.7h1v1h-1zM191.1 611.2h1v1h-1zM135.9 642.3h1v1h-1zM143.7 642.9h1v1h-1zM180.3 610.7h1v1h-1zM194.5 613.9h1v1h-1zM195.1 616.6h1v1h-1zM192.6 610.2h1v1h-1zM132.7 647.2h1v1h-1zM200.7 604.6h1v1h-1zM135.1 648.4h1v1h-1zM182.5 613.6h1v1h-1zM141.5 634.7h1v1h-1zM145.1 642.7h1v1h-1zM195.1 613.5h1v1h-1zM136.9 649.8h1v1h-1zM197.3 607.2h1v1h-1zM197.3 606.6h1v1h-1zM199.4 606.3h1v1h-1zM194.6 614.2h1v1h-1zM146.8 652.6h1v1h-1zM185.7 616.0h1v1h-1zM186.4 610.8h1v1h-1zM200.3 605.6h1v1h-1zM138.8 648.2h1v1h-1zM141.9 653.1h1v1h-1zM193.3 609.5h1v1h-1zM139.0 658.1h1v1h-1z" fill="#000" opacity="0.5"/>
<path d="M185.5 617.0h1v1h-1zM139.7 642.7h1v1h-1zM145.6 643.5h1v1h-1zM196.5 618.1h1v1h-1zM196.2 612.8h1v1h-1zM200.5 608.4h1v1h-1zM191.5 611.6h1v1h-1zM144.2 653.8h1v1h-1zM201.5 610.2h1v1h-1zM139.8 652.6h1v1h-1zM142.1 660.3h1v1h-1zM145.9 640.6h1v1h-1zM203.1 605.5h1v1h-1zM139.5 651.4h1v1h-1zM191.1 615.3h1v1h-1zM197.0 608.2h1v1h-1zM145.8 655.2h1v1h-1zM189.9 614.2h1v1h-1zM192.5 611.5h1v1h-1zM142.8 647.6h1v1h-1zM205.3 607.7h1v1h-1zM196.7 602.6h1v1h-1zM143.5 651.1h1v1h-1zM145.6 646.3h1v1h-1zM184.8 615.2h1v1h-1zM184.0 616.6h1v1h-1zM148.9 646.6h1v1h-1zM185.8 618.9h1v1h-1zM180.0 623.0h1v1h-1zM192.6 611.3h1v1h-1zM137.2 646.2h1v1h-1zM199.8 604.0h1v1h-1zM191.7 609.2h1v1h-1zM140.9 645.0h1v1h-1zM138.1 644.1h1v1h-1zM197.7 608.3h1v1h-1zM193.9 611.1h1v1h-1zM142.4 634.9h1v1h-1zM137.5 658.1h1v1h-1zM143.0 645.9h1v1h-1zM203.6 602.8h1v1h-1zM199.1 604.3h1v1h-1zM136.1 655.2h1v1h-1zM143.5 656.3h1v1h-1zM141.8 652.0h1v1h-1zM134.2 651.7h1v1h-1zM192.7 606.3h1v1h-1zM194.6 608.4h1v1h-1zM149.9 646.6h1v1h-1zM145.3 647.8h1v1h-1zM194.6 610.9h1v1h-1zM141.4 643.9h1v1h-1zM143.7 643.9h1v1h-1zM145.2 651.3h1v1h-1zM189.7 611.1h1v1h-1zM143.2 644.5h1v1h-1zM187.5 613.9h1v1h-1zM196.5 606.3h1v1h-1zM138.8 639.5h1v1h-1zM199.0 611.3h1v1h-1zM149.7 642.4h1v1h-1zM197.1 611.8h1v1h-1zM193.5 614.2h1v1h-1zM188.3 618.6h1v1h-1zM148.9 640.0h1v1h-1zM192.4 608.1h1v1h-1zM183.6 615.1h1v1h-1zM186.0 620.5h1v1h-1zM145.1 647.2h1v1h-1zM196.1 616.3h1v1h-1zM143.5 640.8h1v1h-1zM139.2 649.6h1v1h-1zM203.6 606.7h1v1h-1zM191.3 607.9h1v1h-1zM192.7 607.8h1v1h-1zM191.2 606.3h1v1h-1zM196.6 608.9h1v1h-1zM140.5 652.4h1v1h-1zM193.2 604.2h1v1h-1zM145.3 648.0h1v1h-1zM196.4 607.3h1v1h-1zM192.2 613.7h1v1h-1zM139.8 646.7h1v1h-1zM140.3 663.3h1v1h-1zM187.9 617.6h1v1h-1zM149.6 651.4h1v1h-1zM147.1 648.8h1v1h-1zM206.5 608.1h1v1h-1zM139.7 654.0h1v1h-1zM142.1 645.1h1v1h-1zM140.0 648.0h1v1h-1zM188.8 613.6h1v1h-1zM191.5 612.7h1v1h-1zM194.6 613.0h1v1h-1zM186.4 613.1h1v1h-1zM199.9 607.0h1v1h-1zM189.2 615.3h1v1h-1zM186.4 617.5h1v1h-1zM143.0 641.1h1v1h-1zM141.8 648.3h1v1h-1zM188.6 608.5h1v1h-1zM147.9 653.7h1v1h-1zM147.3 646.5h1v1h-1zM144.4 645.4h1v1h-1zM143.3 650.2h1v1h-1zM190.2 607.6h1v1h-1zM140.5 641.9h1v1h-1zM199.0 603.4h1v1h-1zM140.6 649.5h1v1h-1zM202.7 608.5h1v1h-1zM135.3 650.7h1v1h-1zM133.4 639.9h1v1h-1zM196.7 602.5h1v1h-1zM146.9 651.3h1v1h-1zM202.4 602.6h1v1h-1zM145.8 655.7h1v1h-1zM139.8 654.0h1v1h-1zM197.1 607.9h1v1h-1zM186.9 619.1h1v1h-1zM143.3 637.5h1v1h-1zM195.4 608.8h1v1h-1zM193.4 615.1h1v1h-1zM200.7 603.7h1v1h-1zM148.4 655.0h1v1h-1zM196.1 607.2h1v1h-1zM140.0 643.8h1v1h-1zM135.4 645.1h1v1h-1zM193.1 611.9h1v1h-1zM195.5 611.2h1v1h-1zM196.9 606.1h1v1h-1zM197.4 607.4h1v1h-1zM192.2 613.7h1v1h-1zM145.3 643.3h1v1h-1zM144.9 648.7h1v1h-1zM144.5 650.4h1v1h-1zM193.6 609.9h1v1h-1zM184.2 617.2h1v1h-1zM202.8 604.5h1v1h-1zM138.1 643.4h1v1h-1zM139.1 651.1h1v1h-1zM191.7 610.2h1v1h-1zM135.4 656.1h1v1h-1zM135.5 646.5h1v1h-1zM203.4 599.6h1v1h-1zM141.8 653.0h1v1h-1zM195.3 608.2h1v1h-1zM199.6 610.1h1v1h-1zM141.8 660.2h1v1h-1zM144.7 649.4h1v1h-1zM202.2 612.9h1v1h-1zM151.8 642.5h1v1h-1zM190.5 608.0h1v1h-1zM200.9 605.2h1v1h-1zM150.6 652.6h1v1h-1zM206.1 602.7h1v1h-1zM143.5 647.0h1v1h-1zM196.3 608.7h1v1h-1zM141.8 653.0h1v1h-1zM141.4 644.7h1v1h-1zM192.0 608.3h1v1h-1zM185.3 613.3h1v1h-1zM194.8 614.8h1v1h-1zM193.6 610.4h1v1h-1zM209.0 602.7h1v1h-1zM139.5 654.1h1v1h-1zM199.9 604.4h1v1h-1zM191.8 609.8h1v1h-1zM142.2 651.5h1v1h-1zM198.4 608.2h1v1h-1zM136.4 643.7h1v1h-1zM202.4 603.3h1v1h-1zM189.4 617.7h1v1h-1zM195.9 612.5h1v1h-1zM186.3 615.5h1v1h-1zM143.3 644.1h1v1h-1zM140.0 650.7h1v1h-1zM191.3 609.2h1v1h-1zM193.0 615.7h1v1h-1zM150.2 642.1h1v1h-1zM139.7 657.0h1v1h-1zM186.6 615.0h1v1h-1zM194.1 605.4h1v1h-1zM193.6 610.3h1v1h-1zM193.8 608.6h1v1h-1zM198.3 600.7h1v1h-1zM142.6 652.3h1v1h-1zM146.6 647.1h1v1h-1zM187.6 609.1h1v1h-1zM191.8 614.4h1v1h-1zM196.6 605.9h1v1h-1zM196.7 607.3h1v1h-1zM203.1 612.6h1v1h-1zM141.7 663.5h1v1h-1zM148.2 652.1h1v1h-1zM141.1 648.1h1v1h-1zM140.4 649.5h1v1h-1zM142.7 654.3h1v1h-1zM145.5 630.2h1v1h-1zM195.9 602.3h1v1h-1zM146.1 646.8h1v1h-1zM138.9 649.3h1v1h-1zM192.2 610.7h1v1h-1zM142.4 636.9h1v1h-1zM142.8 642.0h1v1h-1zM141.8 647.9h1v1h-1zM133.8 650.6h1v1h-1zM203.0 605.8h1v1h-1zM149.3 648.3h1v1h-1zM190.4 617.4h1v1h-1zM146.6 649.1h1v1h-1zM198.1 599.3h1v1h-1zM191.5 603.5h1v1h-1zM139.8 655.4h1v1h-1zM144.2 653.6h1v1h-1zM138.4 646.0h1v1h-1zM141.5 645.3h1v1h-1zM142.7 640.2h1v1h-1zM141.6 651.3h1v1h-1zM193.4 608.0h1v1h-1zM194.2 608.9h1v1h-1zM133.5 641.7h1v1h-1zM200.9 606.2h1v1h-1zM147.5 647.8h1v1h-1zM134.9 654.8h1v1h-1zM191.5 610.6h1v1h-1zM136.9 657.8h1v1h-1zM194.0 611.5h1v1h-1zM197.2 610.7h1v1h-1zM188.2 611.2h1v1h-1zM199.8 601.8h1v1h-1zM188.3 611.6h1v1h-1zM138.8 657.9h1v1h-1zM140.2 632.0h1v1h-1zM140.2 650.9h1v1h-1zM140.5 648.7h1v1h-1zM195.6 609.3h1v1h-1zM142.1 638.9h1v1h-1zM200.8 600.1h1v1h-1zM136.4 662.0h1v1h-1zM142.4 649.2h1v1h-1zM140.6 651.5h1v1h-1zM198.0 609.0h1v1h-1zM142.7 649.1h1v1h-1zM193.8 611.2h1v1h-1zM137.8 661.1h1v1h-1zM190.3 614.3h1v1h-1zM208.2 602.0h1v1h-1zM191.7 612.4h1v1h-1zM191.4 608.7h1v1h-1zM198.6 605.7h1v1h-1zM206.5 608.2h1v1h-1zM143.3 643.8h1v1h-1zM196.5 615.6h1v1h-1zM145.0 649.5h1v1h-1zM200.5 611.5h1v1h-1zM141.0 653.7h1v1h-1zM139.5 646.5h1v1h-1zM138.4 649.4h1v1h-1zM139.6 651.0h1v1h-1zM140.9 650.2h1v1h-1zM149.4 644.5h1v1h-1zM140.5 650.1h1v1h-1zM197.6 604.6h1v1h-1zM193.2 609.4h1v1h-1zM190.3 610.3h1v1h-1zM194.2 606.3h1v1h-1zM184.6 609.7h1v1h-1zM194.6 612.5h1v1h-1zM147.5 646.6h1v1h-1zM145.0 651.8h1v1h-1zM194.0 611.7h1v1h-1zM132.8 644.5h1v1h-1zM193.7 610.0h1v1h-1zM203.0 606.0h1v1h-1zM196.9 615.7h1v1h-1zM146.0 644.5h1v1h-1zM194.6 614.0h1v1h-1zM145.6 660.4h1v1h-1zM144.2 654.4h1v1h-1zM189.7 616.4h1v1h-1zM195.3 604.6h1v1h-1zM137.7 646.0h1v1h-1zM201.2 607.9h1v1h-1zM198.6 605.3h1v1h-1zM150.5 650.7h1v1h-1zM195.6 609.6h1v1h-1zM142.9 647.5h1v1h-1zM192.6 607.7h1v1h-1zM190.8 608.9h1v1h-1zM145.5 646.2h1v1h-1zM146.5 644.0h1v1h-1zM189.8 618.0h1v1h-1zM139.1 655.0h1v1h-1zM144.3 650.0h1v1h-1zM194.2 605.1h1v1h-1zM142.8 646.7h1v1h-1zM192.4 617.3h1v1h-1zM140.7 647.1h1v1h-1zM145.5 658.7h1v1h-1zM139.9 636.4h1v1h-1zM139.5 654.3h1v1h-1zM137.6 651.7h1v1h-1zM182.1 617.0h1v1h-1zM202.3 603.1h1v1h-1zM198.9 611.9h1v1h-1zM193.9 614.6h1v1h-1zM193.3 609.4h1v1h-1zM141.9 644.5h1v1h-1zM145.1 646.7h1v1h-1zM144.9 652.7h1v1h-1zM144.1 644.7h1v1h-1zM143.1 643.3h1v1h-1zM195.9 611.5h1v1h-1zM194.9 614.5h1v1h-1zM197.6 607.6h1v1h-1zM142.1 647.2h1v1h-1zM194.3 614.3h1v1h-1zM186.9 616.0h1v1h-1zM192.6 609.7h1v1h-1zM141.9 658.0h1v1h-1zM201.3 615.5h1v1h-1zM193.0 611.9h1v1h-1zM195.7 614.2h1v1h-1zM185.0 612.3h1v1h-1zM146.1 648.1h1v1h-1zM142.8 658.5h1v1h-1zM150.5 641.2h1v1h-1zM196.7 602.0h1v1h-1zM197.1 611.4h1v1h-1zM194.8 609.5h1v1h-1zM200.1 610.5h1v1h-1zM136.8 652.0h1v1h-1zM138.4 649.7h1v1h-1zM140.2 647.2h1v1h-1zM191.8 611.9h1v1h-1zM192.9 607.7h1v1h-1zM144.7 652.0h1v1h-1zM187.1 613.0h1v1h-1zM139.5 631.6h1v1h-1zM146.1 636.9h1v1h-1zM189.0 614.7h1v1h-1zM196.4 607.8h1v1h-1zM197.8 606.0h1v1h-1zM147.5 644.8h1v1h-1zM146.8 648.5h1v1h-1zM146.6 653.3h1v1h-1zM192.0 615.1h1v1h-1zM134.6 656.5h1v1h-1zM143.7 647.8h1v1h-1zM144.2 648.1h1v1h-1zM143.5 653.4h1v1h-1zM196.0 612.5h1v1h-1zM205.3 609.3h1v1h-1zM142.8 645.1h1v1h-1zM200.5 615.3h1v1h-1zM141.5 643.7h1v1h-1zM152.7 643.2h1v1h-1z" fill="#000" opacity="0.5"/>
<path d="M146.4 645.8h1v1h-1zM188.5 611.2h1v1h-1zM148.5 653.4h1v1h-1zM199.9 607.6h1v1h-1zM145.0 663.3h1v1h-1zM198.1 603.1h1v1h-1zM195.7 610.5h1v1h-1zM154.5 652.3h1v1h-1zM137.6 642.9h1v1h-1zM132.2 640.5h1v1h-1zM133.7 654.9h1v1h-1zM197.9 607.0h1v1h-1zM140.2 651.9h1v1h-1zM146.4 657.4h1v1h-1zM195.2 606.7h1v1h-1zM141.0 651.4h1v1h-1zM143.8 654.9h1v1h-1zM199.5 601.1h1v1h-1zM137.3 654.4h1v1h-1zM138.0 659.1h1v1h-1zM197.2 609.0h1v1h-1zM202.2 605.1h1v1h-1zM196.7 611.5h1v1h-1zM137.7 659.1h1v1h-1zM192.4 614.3h1v1h-1zM193.4 609.1h1v1h-1zM143.1 652.2h1v1h-1zM190.4 611.0h1v1h-1zM139.4 652.2h1v1h-1zM140.4 644.4h1v1h-1zM143.3 653.0h1v1h-1zM200.5 611.7h1v1h-1zM141.1 647.2h1v1h-1zM199.7 604.2h1v1h-1zM141.3 639.2h1v1h-1zM139.8 649.8h1v1h-1zM143.2 650.6h1v1h-1zM184.9 615.3h1v1h-1zM144.0 657.9h1v1h-1zM136.9 654.9h1v1h-1zM139.7 650.0h1v1h-1zM194.5 612.0h1v1h-1zM142.1 649.9h1v1h-1zM145.7 653.2h1v1h-1zM195.1 608.2h1v1h-1zM189.2 613.1h1v1h-1zM153.8 647.9h1v1h-1zM148.5 650.0h1v1h-1zM197.4 604.3h1v1h-1zM140.0 639.2h1v1h-1zM142.9 652.1h1v1h-1zM142.2 651.3h1v1h-1zM138.7 647.0h1v1h-1zM197.8 615.8h1v1h-1zM144.8 643.5h1v1h-1zM143.1 646.1h1v1h-1zM196.1 607.2h1v1h-1zM142.6 652.0h1v1h-1zM145.6 649.5h1v1h-1zM148.8 642.7h1v1h-1zM141.0 642.7h1v1h-1zM198.5 607.1h1v1h-1zM134.4 644.5h1v1h-1zM191.4 617.4h1v1h-1zM197.2 611.6h1v1h-1zM190.9 611.0h1v1h-1zM191.0 613.8h1v1h-1zM196.4 610.3h1v1h-1zM137.9 639.6h1v1h-1zM137.5 636.1h1v1h-1zM203.9 614.3h1v1h-1zM191.9 611.8h1v1h-1zM202.3 609.7h1v1h-1zM139.9 652.4h1v1h-1zM150.1 654.7h1v1h-1zM147.3 655.8h1v1h-1zM140.5 654.0h1v1h-1zM139.7 640.8h1v1h-1zM205.6 604.9h1v1h-1zM190.3 612.4h1v1h-1zM199.2 610.2h1v1h-1zM184.6 615.3h1v1h-1zM199.2 611.3h1v1h-1zM190.1 614.4h1v1h-1zM191.9 611.2h1v1h-1zM192.0 613.5h1v1h-1zM190.6 622.9h1v1h-1zM182.3 615.5h1v1h-1zM142.0 648.4h1v1h-1zM141.4 654.6h1v1h-1zM150.7 655.4h1v1h-1zM135.7 647.2h1v1h-1zM196.3 611.0h1v1h-1zM195.0 612.4h1v1h-1zM147.3 632.4h1v1h-1zM196.3 613.5h1v1h-1zM194.6 610.8h1v1h-1zM136.9 646.8h1v1h-1zM195.7 609.7h1v1h-1zM146.0 644.0h1v1h-1zM149.7 648.2h1v1h-1zM197.2 612.1h1v1h-1zM146.5 641.1h1v1h-1zM136.3 633.9h1v1h-1zM206.4 603.5h1v1h-1zM140.8 646.2h1v1h-1zM137.8 649.6h1v1h-1zM200.1 603.4h1v1h-1zM140.0 648.5h1v1h-1zM136.3 641.2h1v1h-1zM193.4 611.4h1v1h-1zM150.0 648.6h1v1h-1zM146.3 653.4h1v1h-1zM194.8 612.3h1v1h-1zM141.3 655.2h1v1h-1zM146.8 661.6h1v1h-1zM147.9 653.6h1v1h-1zM140.4 639.8h1v1h-1zM198.5 603.9h1v1h-1zM150.0 648.9h1v1h-1zM196.4 607.3h1v1h-1zM144.9 648.6h1v1h-1zM144.0 638.8h1v1h-1zM137.9 651.8h1v1h-1zM192.3 612.6h1v1h-1zM193.8 609.8h1v1h-1zM193.9 615.4h1v1h-1zM135.6 649.7h1v1h-1zM138.3 649.9h1v1h-1zM135.9 658.7h1v1h-1zM141.8 639.8h1v1h-1zM146.4 653.1h1v1h-1zM199.2 613.6h1v1h-1zM145.5 643.4h1v1h-1zM140.2 654.2h1v1h-1zM211.6 604.2h1v1h-1zM138.0 640.8h1v1h-1zM199.5 604.2h1v1h-1zM143.7 650.0h1v1h-1zM141.6 646.4h1v1h-1zM199.1 607.9h1v1h-1zM193.2 612.0h1v1h-1zM143.1 648.7h1v1h-1zM194.6 606.8h1v1h-1zM191.6 610.0h1v1h-1zM181.7 618.5h1v1h-1zM142.8 648.9h1v1h-1zM141.6 651.1h1v1h-1zM137.6 641.5h1v1h-1zM198.3 604.2h1v1h-1zM188.3 615.9h1v1h-1zM197.7 610.3h1v1h-1zM139.4 644.8h1v1h-1zM192.4 612.1h1v1h-1zM198.3 610.1h1v1h-1zM141.1 643.4h1v1h-1zM142.6 651.9h1v1h-1zM197.3 609.7h1v1h-1zM140.2 648.3h1v1h-1zM142.1 658.9h1v1h-1zM197.3 609.5h1v1h-1zM141.1 644.2h1v1h-1zM193.2 611.0h1v1h-1zM196.5 610.1h1v1h-1zM144.6 639.4h1v1h-1zM186.6 613.4h1v1h-1zM192.8 606.4h1v1h-1zM141.0 646.2h1v1h-1zM197.0 611.9h1v1h-1zM197.0 616.2h1v1h-1zM138.2 652.6h1v1h-1zM199.0 612.0h1v1h-1zM186.5 610.2h1v1h-1zM192.0 603.2h1v1h-1zM193.6 603.9h1v1h-1zM141.2 648.4h1v1h-1zM196.1 612.4h1v1h-1zM197.8 608.2h1v1h-1zM195.8 610.9h1v1h-1zM193.4 606.7h1v1h-1zM188.8 611.5h1v1h-1zM140.9 660.7h1v1h-1zM144.3 645.4h1v1h-1zM198.8 609.0h1v1h-1zM152.0 647.1h1v1h-1zM138.5 640.2h1v1h-1zM149.5 641.8h1v1h-1zM197.8 599.4h1v1h-1zM202.8 605.6h1v1h-1zM187.2 614.4h1v1h-1zM198.9 606.5h1v1h-1zM193.6 609.8h1v1h-1zM140.2 640.0h1v1h-1zM140.6 641.3h1v1h-1zM202.3 598.8h1v1h-1zM141.5 649.7h1v1h-1zM138.4 645.9h1v1h-1zM145.0 655.3h1v1h-1zM193.4 617.2h1v1h-1zM191.1 619.7h1v1h-1zM196.3 608.4h1v1h-1zM140.6 648.5h1v1h-1zM191.1 616.7h1v1h-1zM141.7 650.7h1v1h-1zM135.9 641.4h1v1h-1zM189.5 610.5h1v1h-1zM138.0 649.7h1v1h-1zM141.6 646.3h1v1h-1zM138.7 644.8h1v1h-1zM200.6 602.9h1v1h-1zM201.3 602.9h1v1h-1zM136.6 656.9h1v1h-1zM143.8 652.9h1v1h-1zM139.7 643.7h1v1h-1zM138.7 639.1h1v1h-1zM139.4 651.4h1v1h-1zM189.1 611.9h1v1h-1zM134.3 656.9h1v1h-1zM197.5 611.5h1v1h-1zM189.0 611.3h1v1h-1zM201.3 605.3h1v1h-1zM147.2 644.8h1v1h-1zM140.5 649.4h1v1h-1zM192.1 610.8h1v1h-1zM195.0 613.4h1v1h-1zM192.0 609.3h1v1h-1zM204.9 604.1h1v1h-1zM138.5 655.6h1v1h-1zM136.5 654.6h1v1h-1zM195.9 610.7h1v1h-1zM150.1 648.3h1v1h-1zM192.2 616.0h1v1h-1zM142.0 645.6h1v1h-1zM192.1 612.0h1v1h-1zM146.1 657.2h1v1h-1zM194.3 611.9h1v1h-1zM135.8 649.7h1v1h-1zM144.2 647.2h1v1h-1zM193.5 614.2h1v1h-1zM190.9 607.8h1v1h-1zM136.6 640.1h1v1h-1zM190.7 614.6h1v1h-1zM209.5 607.2h1v1h-1zM191.0 613.8h1v1h-1zM146.3 643.9h1v1h-1zM142.7 641.5h1v1h-1zM145.8 642.3h1v1h-1zM141.7 650.4h1v1h-1zM139.1 641.1h1v1h-1zM139.6 641.3h1v1h-1zM140.0 652.6h1v1h-1zM189.5 612.0h1v1h-1zM139.5 647.3h1v1h-1zM185.0 607.2h1v1h-1zM142.8 641.2h1v1h-1zM189.5 612.6h1v1h-1zM193.5 615.9h1v1h-1zM142.0 663.4h1v1h-1zM187.1 615.2h1v1h-1zM138.2 638.6h1v1h-1zM147.5 647.2h1v1h-1zM136.5 654.4h1v1h-1zM144.5 655.8h1v1h-1zM143.2 630.0h1v1h-1zM142.1 646.3h1v1h-1zM194.2 606.6h1v1h-1zM197.5 609.7h1v1h-1zM199.4 607.3h1v1h-1zM200.0 614.8h1v1h-1zM194.3 618.5h1v1h-1zM195.4 614.6h1v1h-1zM198.3 608.0h1v1h-1zM201.7 604.0h1v1h-1zM141.7 651.9h1v1h-1zM137.6 648.4h1v1h-1zM143.0 654.0h1v1h-1zM138.3 646.0h1v1h-1zM143.1 645.6h1v1h-1zM142.1 638.5h1v1h-1zM150.1 645.4h1v1h-1zM193.5 609.7h1v1h-1zM146.0 645.0h1v1h-1zM202.8 605.9h1v1h-1zM192.5 614.2h1v1h-1zM132.5 655.6h1v1h-1zM199.2 614.6h1v1h-1zM142.2 647.3h1v1h-1zM147.7 644.9h1v1h-1zM141.1 652.3h1v1h-1zM137.8 655.7h1v1h-1zM200.1 613.0h1v1h-1zM142.5 640.5h1v1h-1zM142.9 641.3h1v1h-1zM193.9 607.3h1v1h-1zM144.0 638.2h1v1h-1zM197.7 615.7h1v1h-1zM193.8 606.1h1v1h-1zM188.1 607.9h1v1h-1zM143.3 654.2h1v1h-1zM195.8 607.4h1v1h-1zM192.2 610.6h1v1h-1zM140.4 644.3h1v1h-1zM201.4 613.5h1v1h-1zM144.1 646.1h1v1h-1zM196.5 608.5h1v1h-1zM194.1 608.2h1v1h-1zM140.1 655.1h1v1h-1zM196.1 614.6h1v1h-1zM195.0 609.9h1v1h-1zM200.1 603.6h1v1h-1zM138.3 645.2h1v1h-1zM144.1 651.3h1v1h-1zM199.9 613.5h1v1h-1zM204.0 611.0h1v1h-1zM196.8 609.8h1v1h-1zM184.8 608.6h1v1h-1zM193.4 609.7h1v1h-1zM199.9 606.3h1v1h-1zM139.7 646.1h1v1h-1zM140.5 652.5h1v1h-1zM205.4 602.7h1v1h-1zM191.2 611.4h1v1h-1zM194.9 604.0h1v1h-1zM189.1 605.1h1v1h-1zM145.9 657.9h1v1h-1zM141.2 642.6h1v1h-1zM194.8 605.6h1v1h-1zM192.3 618.7h1v1h-1zM144.6 648.7h1v1h-1zM145.4 644.5h1v1h-1zM194.6 610.0h1v1h-1zM196.8 612.5h1v1h-1zM134.4 655.5h1v1h-1zM141.9 650.1h1v1h-1zM139.9 652.6h1v1h-1zM139.1 649.3h1v1h-1zM191.6 614.0h1v1h-1zM142.1 654.1h1v1h-1zM191.7 618.8h1v1h-1zM145.0 651.2h1v1h-1zM141.2 643.2h1v1h-1zM196.4 609.6h1v1h-1zM136.6 638.2h1v1h-1zM140.8 644.9h1v1h-1zM145.3 653.3h1v1h-1zM192.4 613.8h1v1h-1zM132.9 646.6h1v1h-1zM196.0 609.5h1v1h-1zM146.7 648.7h1v1h-1zM195.2 612.5h1v1h-1zM198.2 610.6h1v1h-1zM180.8 616.6h1v1h-1zM193.9 615.0h1v1h-1zM205.5 603.1h1v1h-1zM193.1 611.8h1v1h-1zM137.2 658.7h1v1h-1zM138.4 648.9h1v1h-1z" fill="#000" opacity="0.5"/>
</g>
<ellipse cx="192.7" cy="611.8" rx="24" ry="10.5" fill="none" stroke="#7878c0" stroke-width="0.85" transform="rotate(-35 192.7 611.8)"/>
<rect x="130.8" y="573.6" width="92.0" height="93.19999999999993" fill="none" stroke="#8a8a8a" stroke-width="1"/>
<text x="134.10000000000002" y="585.3" font-size="9.5" text-anchor="start" font-weight="bold" stroke="#000" stroke-width="0.15" >WT2.2</text>
<text x="199.10000000000002" y="585.3" font-size="9.5" text-anchor="middle" font-weight="bold" stroke="#000" stroke-width="0.15" >48.0</text>
<clipPath id="fc2"><rect x="234.5" y="573.6" width="91.10000000000002" height="93.19999999999993"/></clipPath>
<g clip-path="url(#fc2)">
<path d="M246.0 634.0h1v1h-1zM243.1 623.6h1v1h-1zM299.0 613.6h1v1h-1zM248.2 629.8h1v1h-1zM264.0 644.4h1v1h-1zM292.3 612.8h1v1h-1zM288.1 614.8h1v1h-1zM300.4 613.6h1v1h-1zM291.4 597.9h1v1h-1zM251.0 643.1h1v1h-1zM262.1 650.1h1v1h-1zM276.6 630.1h1v1h-1zM253.2 649.0h1v1h-1zM249.9 647.0h1v1h-1zM285.3 613.4h1v1h-1zM251.9 630.2h1v1h-1zM244.3 647.0h1v1h-1zM305.3 621.2h1v1h-1zM244.2 633.1h1v1h-1zM266.7 609.5h1v1h-1zM260.9 650.5h1v1h-1zM255.1 651.2h1v1h-1zM286.2 608.7h1v1h-1zM245.9 655.7h1v1h-1zM237.8 642.0h1v1h-1zM288.1 603.9h1v1h-1zM251.5 634.8h1v1h-1zM299.3 602.1h1v1h-1zM266.8 630.9h1v1h-1zM240.8 627.7h1v1h-1zM304.9 599.4h1v1h-1zM290.1 616.3h1v1h-1zM291.5 615.3h1v1h-1zM293.1 606.6h1v1h-1zM272.9 614.5h1v1h-1zM237.9 633.1h1v1h-1zM253.6 614.7h1v1h-1zM289.7 613.6h1v1h-1zM240.8 624.1h1v1h-1zM297.3 615.4h1v1h-1zM305.4 609.3h1v1h-1zM276.5 649.5h1v1h-1zM282.8 622.4h1v1h-1zM259.4 649.5h1v1h-1zM241.2 631.8h1v1h-1zM242.7 638.3h1v1h-1zM260.6 642.1h1v1h-1zM255.3 623.2h1v1h-1zM245.1 634.7h1v1h-1zM266.5 639.6h1v1h-1zM276.0 619.4h1v1h-1zM250.3 638.5h1v1h-1zM304.8 606.5h1v1h-1zM300.0 598.3h1v1h-1zM264.4 632.6h1v1h-1zM251.2 642.1h1v1h-1zM301.8 605.5h1v1h-1zM273.7 632.0h1v1h-1zM254.8 659.0h1v1h-1zM251.1 641.3h1v1h-1zM261.5 650.3h1v1h-1zM263.4 620.4h1v1h-1zM266.8 621.2h1v1h-1zM246.0 623.1h1v1h-1zM251.6 635.4h1v1h-1zM247.4 616.6h1v1h-1zM263.7 632.5h1v1h-1zM271.5 623.0h1v1h-1zM293.4 608.7h1v1h-1zM264.5 639.0h1v1h-1zM261.2 616.5h1v1h-1zM274.7 620.2h1v1h-1zM252.6 647.3h1v1h-1zM242.9 644.8h1v1h-1zM282.2 611.7h1v1h-1zM295.3 618.8h1v1h-1zM252.7 644.5h1v1h-1zM254.2 629.8h1v1h-1zM269.5 632.1h1v1h-1zM276.1 618.5h1v1h-1zM284.9 624.7h1v1h-1zM251.9 648.6h1v1h-1zM291.4 616.7h1v1h-1zM261.8 632.4h1v1h-1zM241.9 629.8h1v1h-1zM254.0 642.4h1v1h-1zM237.5 630.1h1v1h-1zM246.8 643.1h1v1h-1zM253.1 627.7h1v1h-1zM287.4 607.5h1v1h-1zM239.0 651.0h1v1h-1zM246.2 646.4h1v1h-1zM257.3 634.4h1v1h-1zM264.1 615.4h1v1h-1zM253.3 633.2h1v1h-1zM252.8 646.2h1v1h-1zM247.0 647.0h1v1h-1zM280.7 620.5h1v1h-1zM251.7 639.9h1v1h-1zM242.5 656.8h1v1h-1zM255.4 635.7h1v1h-1zM249.5 642.4h1v1h-1zM263.5 636.0h1v1h-1zM255.6 628.8h1v1h-1zM257.8 634.5h1v1h-1zM251.0 645.0h1v1h-1zM290.0 609.6h1v1h-1zM298.4 617.6h1v1h-1zM254.3 642.9h1v1h-1zM247.5 627.6h1v1h-1zM297.4 614.6h1v1h-1zM293.7 612.0h1v1h-1zM266.7 639.9h1v1h-1zM254.5 623.5h1v1h-1zM248.3 624.8h1v1h-1zM250.1 628.5h1v1h-1zM253.6 640.4h1v1h-1zM291.3 608.9h1v1h-1zM244.2 652.4h1v1h-1zM248.0 640.0h1v1h-1zM245.9 616.9h1v1h-1zM242.2 629.4h1v1h-1zM244.4 660.9h1v1h-1zM245.4 646.2h1v1h-1zM237.4 633.3h1v1h-1zM252.3 619.0h1v1h-1zM248.5 627.9h1v1h-1zM264.2 628.1h1v1h-1zM301.7 607.8h1v1h-1zM272.2 644.4h1v1h-1zM301.7 628.3h1v1h-1zM244.7 636.0h1v1h-1zM253.7 630.5h1v1h-1zM246.4 653.2h1v1h-1zM290.5 616.8h1v1h-1zM251.6 653.2h1v1h-1zM245.8 635.2h1v1h-1zM272.7 625.3h1v1h-1zM303.5 605.9h1v1h-1zM267.0 622.6h1v1h-1zM301.4 602.9h1v1h-1zM240.1 661.3h1v1h-1zM293.7 606.8h1v1h-1zM251.3 635.0h1v1h-1zM303.9 606.1h1v1h-1zM279.4 616.3h1v1h-1zM237.1 646.2h1v1h-1zM273.5 619.1h1v1h-1zM268.3 636.8h1v1h-1zM282.5 599.7h1v1h-1zM250.0 636.0h1v1h-1zM245.5 626.3h1v1h-1zM244.1 653.2h1v1h-1zM279.0 612.7h1v1h-1zM301.1 622.9h1v1h-1zM252.0 618.7h1v1h-1zM250.9 634.1h1v1h-1zM246.6 634.1h1v1h-1zM300.4 617.0h1v1h-1zM245.6 647.6h1v1h-1zM253.8 653.6h1v1h-1zM247.6 633.1h1v1h-1zM251.6 633.7h1v1h-1zM259.9 622.2h1v1h-1zM287.4 614.5h1v1h-1zM273.1 614.9h1v1h-1zM249.5 636.1h1v1h-1zM263.0 632.9h1v1h-1zM282.5 625.7h1v1h-1zM286.0 611.3h1v1h-1zM265.9 626.2h1v1h-1zM246.9 639.6h1v1h-1zM242.3 646.2h1v1h-1zM273.9 616.1h1v1h-1zM245.1 618.4h1v1h-1zM251.2 647.5h1v1h-1zM244.6 632.4h1v1h-1zM290.0 611.9h1v1h-1zM308.7 611.6h1v1h-1zM247.2 645.9h1v1h-1zM238.8 635.7h1v1h-1zM250.9 643.6h1v1h-1zM256.3 629.4h1v1h-1zM267.0 627.1h1v1h-1zM251.9 649.5h1v1h-1zM269.0 611.7h1v1h-1zM292.4 617.1h1v1h-1zM286.9 617.2h1v1h-1zM298.4 609.8h1v1h-1zM245.8 635.8h1v1h-1zM256.0 620.2h1v1h-1zM274.7 633.3h1v1h-1zM289.8 617.2h1v1h-1zM251.6 646.1h1v1h-1zM248.4 638.4h1v1h-1zM248.5 639.4h1v1h-1zM237.3 626.3h1v1h-1zM293.5 617.5h1v1h-1zM266.1 630.1h1v1h-1zM238.4 640.0h1v1h-1zM252.0 642.9h1v1h-1zM252.3 623.8h1v1h-1zM263.7 625.5h1v1h-1zM248.0 643.2h1v1h-1zM297.7 618.5h1v1h-1zM280.4 612.2h1v1h-1zM253.3 657.2h1v1h-1zM294.1 607.0h1v1h-1zM302.8 606.7h1v1h-1zM286.0 616.9h1v1h-1zM298.6 620.3h1v1h-1zM267.4 642.0h1v1h-1zM283.1 614.5h1v1h-1zM254.4 620.3h1v1h-1zM301.1 599.7h1v1h-1zM280.5 615.6h1v1h-1zM298.9 606.8h1v1h-1zM252.1 631.1h1v1h-1zM246.0 653.3h1v1h-1zM298.1 610.2h1v1h-1zM287.2 620.6h1v1h-1zM281.0 626.6h1v1h-1zM253.7 626.2h1v1h-1zM306.1 610.1h1v1h-1zM252.8 634.0h1v1h-1zM306.6 613.5h1v1h-1zM272.1 621.4h1v1h-1zM245.6 651.9h1v1h-1zM279.5 636.6h1v1h-1zM241.5 628.0h1v1h-1zM295.1 608.6h1v1h-1zM254.3 638.8h1v1h-1zM242.2 647.0h1v1h-1zM302.3 613.3h1v1h-1zM264.7 652.4h1v1h-1zM287.8 616.4h1v1h-1zM277.4 619.8h1v1h-1zM240.6 639.6h1v1h-1zM285.6 615.2h1v1h-1zM287.4 607.5h1v1h-1zM297.5 607.2h1v1h-1zM248.2 637.7h1v1h-1zM252.6 647.7h1v1h-1zM252.4 625.9h1v1h-1zM249.5 630.9h1v1h-1zM244.9 645.4h1v1h-1zM292.7 613.9h1v1h-1zM248.8 628.3h1v1h-1zM291.1 633.4h1v1h-1zM243.3 628.9h1v1h-1zM278.4 614.7h1v1h-1zM253.8 637.3h1v1h-1zM291.7 603.9h1v1h-1zM293.9 606.6h1v1h-1zM301.5 600.3h1v1h-1zM256.3 653.3h1v1h-1zM241.2 627.6h1v1h-1zM266.2 621.5h1v1h-1zM273.9 642.2h1v1h-1zM272.7 617.1h1v1h-1zM257.6 643.9h1v1h-1zM281.3 607.4h1v1h-1zM266.5 633.4h1v1h-1zM269.0 627.6h1v1h-1zM277.2 621.3h1v1h-1zM301.9 610.2h1v1h-1zM248.6 629.3h1v1h-1zM289.4 611.9h1v1h-1zM240.1 639.5h1v1h-1zM299.4 612.2h1v1h-1zM247.6 631.4h1v1h-1zM251.3 645.3h1v1h-1zM291.4 604.8h1v1h-1zM289.8 621.0h1v1h-1zM290.6 612.6h1v1h-1zM300.8 602.8h1v1h-1zM236.2 632.1h1v1h-1zM293.0 610.8h1v1h-1zM246.6 649.1h1v1h-1zM263.5 638.9h1v1h-1zM251.8 620.8h1v1h-1zM294.8 628.0h1v1h-1zM263.8 632.0h1v1h-1zM265.5 627.7h1v1h-1zM285.8 625.0h1v1h-1zM306.6 606.7h1v1h-1zM275.8 620.5h1v1h-1zM260.2 634.7h1v1h-1zM266.4 634.8h1v1h-1zM294.2 614.5h1v1h-1zM294.9 599.1h1v1h-1zM247.7 632.5h1v1h-1zM247.4 641.5h1v1h-1zM248.5 643.5h1v1h-1zM266.4 626.3h1v1h-1zM281.4 620.9h1v1h-1zM243.9 639.6h1v1h-1zM250.4 650.9h1v1h-1zM305.2 612.3h1v1h-1zM280.7 611.3h1v1h-1zM260.8 647.7h1v1h-1zM237.3 642.8h1v1h-1zM263.1 629.0h1v1h-1zM252.2 652.4h1v1h-1zM286.9 617.5h1v1h-1zM246.7 624.0h1v1h-1zM248.0 619.3h1v1h-1zM283.7 619.5h1v1h-1zM300.4 607.0h1v1h-1zM304.7 613.4h1v1h-1zM283.1 611.2h1v1h-1zM251.6 639.2h1v1h-1zM249.3 644.9h1v1h-1zM254.3 634.6h1v1h-1zM244.0 640.3h1v1h-1zM262.9 640.6h1v1h-1zM279.6 622.8h1v1h-1zM247.6 645.0h1v1h-1zM313.3 593.9h1v1h-1zM249.9 640.9h1v1h-1zM298.7 611.0h1v1h-1zM246.8 643.5h1v1h-1zM294.1 606.4h1v1h-1zM282.0 638.7h1v1h-1zM243.9 640.8h1v1h-1zM281.4 629.6h1v1h-1zM248.2 636.8h1v1h-1zM312.1 605.0h1v1h-1zM291.4 619.5h1v1h-1zM298.0 605.9h1v1h-1zM245.9 632.6h1v1h-1zM295.0 611.8h1v1h-1zM261.1 631.9h1v1h-1zM276.2 642.2h1v1h-1zM269.4 622.5h1v1h-1zM248.3 637.7h1v1h-1zM268.7 640.0h1v1h-1zM279.0 607.4h1v1h-1zM250.0 643.7h1v1h-1zM246.4 629.2h1v1h-1zM273.0 633.2h1v1h-1zM243.9 637.3h1v1h-1zM247.9 648.5h1v1h-1zM241.3 632.7h1v1h-1zM248.2 657.0h1v1h-1zM255.1 629.6h1v1h-1zM289.8 609.7h1v1h-1zM253.0 652.6h1v1h-1zM276.9 610.7h1v1h-1zM252.6 637.7h1v1h-1zM251.5 647.8h1v1h-1zM255.3 650.7h1v1h-1zM246.1 633.4h1v1h-1zM237.5 636.1h1v1h-1zM243.6 636.6h1v1h-1zM276.6 622.8h1v1h-1zM247.4 636.7h1v1h-1zM266.8 620.5h1v1h-1zM292.9 615.9h1v1h-1zM281.0 625.3h1v1h-1zM245.4 638.1h1v1h-1zM261.2 638.3h1v1h-1zM293.6 614.8h1v1h-1zM295.7 617.9h1v1h-1zM252.2 627.3h1v1h-1zM265.3 623.1h1v1h-1zM249.7 650.7h1v1h-1zM256.5 635.8h1v1h-1zM264.3 648.4h1v1h-1zM254.9 657.8h1v1h-1zM275.7 635.0h1v1h-1zM283.2 641.2h1v1h-1zM251.0 651.8h1v1h-1zM252.6 651.1h1v1h-1zM304.0 611.1h1v1h-1zM237.0 648.1h1v1h-1zM299.7 610.9h1v1h-1zM249.5 637.6h1v1h-1zM294.2 605.8h1v1h-1zM274.1 626.6h1v1h-1zM254.5 630.8h1v1h-1zM258.6 634.6h1v1h-1zM258.4 642.4h1v1h-1zM287.9 609.3h1v1h-1zM297.6 614.5h1v1h-1zM274.1 633.3h1v1h-1zM239.3 644.0h1v1h-1zM284.8 614.3h1v1h-1zM237.0 650.4h1v1h-1zM245.3 632.6h1v1h-1zM249.1 631.5h1v1h-1zM241.2 634.3h1v1h-1zM292.8 614.6h1v1h-1zM244.0 628.5h1v1h-1zM250.6 642.3h1v1h-1zM263.7 645.7h1v1h-1zM243.6 659.2h1v1h-1zM250.8 642.1h1v1h-1zM236.0 634.1h1v1h-1zM247.5 643.8h1v1h-1zM251.8 609.4h1v1h-1zM266.3 638.4h1v1h-1zM288.8 618.0h1v1h-1zM252.6 643.4h1v1h-1zM285.7 633.8h1v1h-1zM251.9 635.4h1v1h-1zM264.4 636.4h1v1h-1zM298.8 601.3h1v1h-1zM245.3 653.1h1v1h-1zM279.4 623.0h1v1h-1zM245.3 625.3h1v1h-1zM246.9 643.9h1v1h-1zM260.6 618.2h1v1h-1zM246.0 662.1h1v1h-1zM243.2 618.5h1v1h-1zM290.1 612.2h1v1h-1zM249.0 652.3h1v1h-1zM259.6 644.7h1v1h-1zM260.6 638.4h1v1h-1zM267.6 624.6h1v1h-1zM244.5 628.7h1v1h-1zM288.2 623.3h1v1h-1zM247.5 641.7h1v1h-1zM278.7 609.3h1v1h-1zM299.4 606.5h1v1h-1zM269.5 624.8h1v1h-1zM269.6 640.1h1v1h-1zM298.3 605.2h1v1h-1zM269.8 621.3h1v1h-1zM257.7 647.8h1v1h-1zM298.2 610.0h1v1h-1zM303.5 606.4h1v1h-1zM276.3 626.9h1v1h-1zM285.2 628.6h1v1h-1zM260.8 634.7h1v1h-1zM280.4 647.5h1v1h-1zM248.8 638.8h1v1h-1zM291.6 606.3h1v1h-1zM251.7 629.0h1v1h-1zM238.7 637.3h1v1h-1zM269.2 632.0h1v1h-1zM296.8 617.0h1v1h-1zM264.4 636.9h1v1h-1zM256.0 625.3h1v1h-1zM245.2 622.1h1v1h-1zM299.2 609.0h1v1h-1zM256.8 633.5h1v1h-1zM245.6 644.4h1v1h-1zM283.2 617.9h1v1h-1zM244.4 640.8h1v1h-1zM236.2 657.8h1v1h-1zM256.7 644.7h1v1h-1zM252.1 639.2h1v1h-1zM292.0 605.3h1v1h-1zM267.3 640.9h1v1h-1zM262.3 643.2h1v1h-1zM246.6 637.5h1v1h-1zM275.6 626.0h1v1h-1zM288.3 616.1h1v1h-1zM260.1 622.9h1v1h-1zM299.7 613.2h1v1h-1zM292.0 612.9h1v1h-1zM251.9 643.8h1v1h-1zM252.4 635.6h1v1h-1zM253.2 648.0h1v1h-1zM252.8 624.4h1v1h-1zM244.5 634.5h1v1h-1zM249.7 646.6h1v1h-1zM236.7 628.8h1v1h-1zM273.2 603.0h1v1h-1zM271.2 644.3h1v1h-1zM298.0 614.8h1v1h-1zM254.1 653.0h1v1h-1zM291.3 626.5h1v1h-1zM300.5 611.3h1v1h-1zM250.2 633.4h1v1h-1zM251.0 639.3h1v1h-1zM251.9 628.1h1v1h-1zM255.2 643.3h1v1h-1zM289.8 622.2h1v1h-1zM277.0 615.3h1v1h-1zM271.4 632.5h1v1h-1zM251.5 644.7h1v1h-1zM264.0 632.0h1v1h-1zM281.9 631.2h1v1h-1zM247.5 618.1h1v1h-1zM248.7 642.7h1v1h-1zM269.5 626.4h1v1h-1zM293.0 618.1h1v1h-1zM265.8 624.3h1v1h-1zM249.9 640.2h1v1h-1zM248.0 623.0h1v1h-1zM282.8 614.5h1v1h-1zM252.8 653.4h1v1h-1zM264.3 647.5h1v1h-1zM292.3 601.6h1v1h-1zM279.7 618.2h1v1h-1zM296.3 612.4h1v1h-1zM246.3 632.4h1v1h-1zM245.4 626.9h1v1h-1zM258.9 649.8h1v1h-1zM237.2 659.9h1v1h-1zM292.1 611.4h1v1h-1zM242.3 631.4h1v1h-1zM255.2 643.0h1v1h-1zM246.4 654.2h1v1h-1zM251.4 637.9h1v1h-1zM251.6 641.0h1v1h-1zM274.2 625.6h1v1h-1zM244.6 653.5h1v1h-1zM239.6 652.1h1v1h-1zM282.2 618.1h1v1h-1zM301.4 622.3h1v1h-1zM250.3 657.1h1v1h-1zM300.7 606.2h1v1h-1zM265.1 618.7h1v1h-1zM278.1 624.2h1v1h-1zM245.2 653.2h1v1h-1zM280.0 617.3h1v1h-1zM252.9 629.5h1v1h-1zM242.4 642.8h1v1h-1zM249.5 629.4h1v1h-1zM285.1 611.8h1v1h-1zM244.8 649.7h1v1h-1zM246.5 637.1h1v1h-1zM262.7 633.0h1v1h-1zM294.2 610.7h1v1h-1zM305.6 597.3h1v1h-1zM283.6 605.8h1v1h-1zM246.5 617.9h1v1h-1zM242.5 642.2h1v1h-1zM264.3 630.5h1v1h-1zM246.7 644.4h1v1h-1zM250.1 641.4h1v1h-1zM292.7 617.4h1v1h-1zM257.6 650.0h1v1h-1zM246.7 660.6h1v1h-1zM244.7 661.7h1v1h-1zM298.2 605.0h1v1h-1zM242.7 640.9h1v1h-1zM255.5 640.9h1v1h-1zM246.0 641.5h1v1h-1zM242.1 652.4h1v1h-1zM266.6 609.1h1v1h-1zM260.9 642.2h1v1h-1zM257.6 643.4h1v1h-1zM298.9 605.4h1v1h-1zM294.9 603.8h1v1h-1zM249.7 623.9h1v1h-1zM280.9 612.0h1v1h-1zM256.1 650.5h1v1h-1zM291.7 603.5h1v1h-1zM245.9 636.6h1v1h-1zM265.1 626.7h1v1h-1zM250.6 621.2h1v1h-1zM296.1 607.3h1v1h-1zM265.5 646.6h1v1h-1zM301.8 617.2h1v1h-1zM263.2 632.0h1v1h-1zM257.7 651.7h1v1h-1zM243.7 630.7h1v1h-1zM272.9 641.8h1v1h-1zM247.1 664.7h1v1h-1zM244.3 634.4h1v1h-1zM268.9 616.6h1v1h-1zM245.6 637.5h1v1h-1zM246.9 620.9h1v1h-1zM290.5 620.5h1v1h-1zM248.4 639.3h1v1h-1zM245.2 641.4h1v1h-1zM245.9 631.8h1v1h-1zM248.8 662.4h1v1h-1zM296.3 611.5h1v1h-1zM260.9 659.4h1v1h-1zM250.4 623.8h1v1h-1zM247.2 620.9h1v1h-1zM291.1 628.3h1v1h-1zM255.8 640.5h1v1h-1zM286.9 615.8h1v1h-1zM240.5 627.6h1v1h-1zM249.2 625.4h1v1h-1zM265.6 624.3h1v1h-1zM265.4 645.2h1v1h-1zM260.7 637.3h1v1h-1zM287.7 615.4h1v1h-1zM239.9 632.7h1v1h-1zM289.3 603.0h1v1h-1zM250.4 620.5h1v1h-1zM253.2 648.6h1v1h-1zM292.4 607.4h1v1h-1zM294.7 606.1h1v1h-1zM276.8 605.6h1v1h-1zM250.0 633.3h1v1h-1zM272.2 606.1h1v1h-1zM244.0 621.5h1v1h-1zM241.0 641.0h1v1h-1zM254.2 620.8h1v1h-1zM253.0 624.6h1v1h-1zM255.9 635.4h1v1h-1zM266.4 635.2h1v1h-1zM253.6 637.7h1v1h-1zM253.3 655.0h1v1h-1zM264.6 647.1h1v1h-1zM244.9 631.8h1v1h-1zM249.6 640.8h1v1h-1zM291.0 610.9h1v1h-1zM296.9 599.7h1v1h-1zM255.8 638.7h1v1h-1zM261.5 639.3h1v1h-1zM253.9 615.1h1v1h-1zM292.7 615.6h1v1h-1zM291.9 606.4h1v1h-1zM296.1 610.8h1v1h-1zM244.1 621.6h1v1h-1zM241.3 633.5h1v1h-1zM291.6 615.7h1v1h-1zM247.1 629.9h1v1h-1zM292.8 600.4h1v1h-1zM254.4 635.5h1v1h-1zM246.2 636.2h1v1h-1zM250.8 647.0h1v1h-1zM308.8 600.3h1v1h-1zM238.6 659.4h1v1h-1zM258.7 637.1h1v1h-1zM252.5 647.0h1v1h-1zM245.6 622.3h1v1h-1zM309.9 607.2h1v1h-1zM278.9 613.0h1v1h-1zM273.0 641.2h1v1h-1zM250.7 632.9h1v1h-1zM243.8 650.2h1v1h-1zM239.9 651.0h1v1h-1zM239.3 652.5h1v1h-1zM246.7 649.5h1v1h-1zM300.7 615.8h1v1h-1zM248.3 633.2h1v1h-1zM245.1 615.9h1v1h-1zM285.7 620.6h1v1h-1zM246.8 637.4h1v1h-1zM245.8 623.3h1v1h-1zM240.2 645.4h1v1h-1zM294.2 615.9h1v1h-1zM302.2 612.6h1v1h-1zM285.4 593.2h1v1h-1zM244.8 629.9h1v1h-1zM301.8 619.6h1v1h-1zM282.8 616.0h1v1h-1zM255.6 631.2h1v1h-1zM241.1 628.4h1v1h-1zM257.9 635.2h1v1h-1zM244.0 623.0h1v1h-1zM237.1 638.9h1v1h-1zM256.3 639.4h1v1h-1zM265.2 629.3h1v1h-1zM283.6 625.4h1v1h-1zM236.1 631.9h1v1h-1zM298.8 610.0h1v1h-1zM241.4 658.7h1v1h-1zM266.6 649.4h1v1h-1zM256.3 647.9h1v1h-1zM243.7 633.2h1v1h-1zM302.3 604.9h1v1h-1zM245.6 634.5h1v1h-1zM252.7 644.4h1v1h-1zM239.6 652.7h1v1h-1zM250.2 632.2h1v1h-1zM248.5 647.5h1v1h-1zM265.4 622.2h1v1h-1zM245.7 644.4h1v1h-1zM291.4 613.2h1v1h-1zM262.5 642.9h1v1h-1zM245.4 648.7h1v1h-1zM237.6 637.3h1v1h-1zM263.5 634.8h1v1h-1zM286.6 628.4h1v1h-1zM242.6 616.1h1v1h-1zM292.4 616.6h1v1h-1zM297.5 616.9h1v1h-1zM286.8 621.9h1v1h-1zM290.2 610.1h1v1h-1zM282.8 624.0h1v1h-1zM298.1 605.4h1v1h-1zM253.0 629.3h1v1h-1zM240.1 645.4h1v1h-1zM239.4 625.4h1v1h-1zM291.5 605.1h1v1h-1zM250.5 662.6h1v1h-1zM282.9 619.4h1v1h-1zM267.4 634.1h1v1h-1zM292.1 618.7h1v1h-1zM268.1 625.1h1v1h-1zM292.2 616.0h1v1h-1zM242.3 635.0h1v1h-1zM294.5 611.3h1v1h-1zM240.3 633.4h1v1h-1zM251.9 631.7h1v1h-1zM251.8 612.0h1v1h-1zM277.3 617.4h1v1h-1zM293.4 610.9h1v1h-1zM275.2 632.0h1v1h-1zM246.7 630.2h1v1h-1zM245.3 609.0h1v1h-1zM248.3 624.3h1v1h-1zM254.9 647.8h1v1h-1zM295.8 610.3h1v1h-1zM256.6 644.0h1v1h-1zM242.7 618.2h1v1h-1zM247.4 662.2h1v1h-1zM278.4 615.7h1v1h-1zM239.0 637.8h1v1h-1zM299.4 613.7h1v1h-1zM243.6 625.8h1v1h-1zM286.1 620.6h1v1h-1zM271.6 622.9h1v1h-1zM282.4 605.8h1v1h-1zM284.6 629.3h1v1h-1zM249.7 629.5h1v1h-1zM240.2 630.1h1v1h-1zM251.2 623.1h1v1h-1zM237.9 635.3h1v1h-1zM274.7 604.2h1v1h-1zM289.4 615.3h1v1h-1zM248.4 649.1h1v1h-1zM266.6 630.2h1v1h-1zM247.9 636.8h1v1h-1zM282.3 636.9h1v1h-1zM298.7 605.7h1v1h-1zM237.9 662.8h1v1h-1zM244.0 644.0h1v1h-1zM247.1 634.8h1v1h-1zM266.2 641.0h1v1h-1zM263.1 615.9h1v1h-1zM278.0 623.2h1v1h-1zM297.5 609.8h1v1h-1zM269.7 634.3h1v1h-1zM299.0 613.1h1v1h-1zM259.6 624.6h1v1h-1zM245.1 619.3h1v1h-1zM246.3 643.2h1v1h-1zM258.1 628.5h1v1h-1zM299.1 617.8h1v1h-1zM269.1 631.7h1v1h-1zM305.0 596.0h1v1h-1zM258.5 638.9h1v1h-1zM239.5 643.7h1v1h-1zM246.0 632.4h1v1h-1zM239.9 628.6h1v1h-1zM250.9 642.4h1v1h-1zM246.5 632.2h1v1h-1zM239.7 638.2h1v1h-1zM255.1 630.9h1v1h-1zM254.0 637.8h1v1h-1zM269.8 642.1h1v1h-1zM245.0 636.1h1v1h-1zM293.2 615.2h1v1h-1zM290.9 618.5h1v1h-1zM295.9 611.4h1v1h-1zM284.4 619.7h1v1h-1zM272.6 616.2h1v1h-1zM242.1 622.8h1v1h-1zM235.7 649.1h1v1h-1zM250.1 645.0h1v1h-1zM297.1 613.2h1v1h-1zM239.1 612.7h1v1h-1zM275.4 621.0h1v1h-1zM249.5 631.6h1v1h-1zM310.3 603.1h1v1h-1zM291.9 601.9h1v1h-1zM253.7 629.3h1v1h-1zM269.8 625.6h1v1h-1zM291.4 607.6h1v1h-1zM253.6 638.4h1v1h-1zM289.5 610.6h1v1h-1zM247.1 638.5h1v1h-1zM258.3 644.6h1v1h-1zM249.1 638.0h1v1h-1zM295.8 618.2h1v1h-1zM245.7 635.9h1v1h-1zM257.5 640.2h1v1h-1zM240.4 627.5h1v1h-1zM265.9 640.8h1v1h-1zM286.9 617.7h1v1h-1zM241.6 640.8h1v1h-1zM293.2 602.4h1v1h-1zM247.1 635.8h1v1h-1zM239.6 642.6h1v1h-1zM285.9 612.8h1v1h-1zM245.8 623.6h1v1h-1zM251.7 641.3h1v1h-1zM294.0 604.1h1v1h-1zM240.4 642.9h1v1h-1zM283.5 646.2h1v1h-1zM288.1 631.0h1v1h-1zM279.7 626.1h1v1h-1zM242.7 644.9h1v1h-1zM267.1 629.3h1v1h-1zM255.3 626.1h1v1h-1zM245.2 644.3h1v1h-1zM280.3 608.2h1v1h-1zM247.3 636.5h1v1h-1zM265.7 619.7h1v1h-1zM298.1 601.0h1v1h-1zM262.2 664.2h1v1h-1zM281.4 599.2h1v1h-1zM241.3 638.2h1v1h-1zM291.1 599.6h1v1h-1zM272.5 611.9h1v1h-1zM254.7 638.8h1v1h-1zM288.0 628.1h1v1h-1zM263.7 625.0h1v1h-1zM249.6 636.7h1v1h-1zM291.1 605.2h1v1h-1zM302.2 604.2h1v1h-1zM241.5 644.7h1v1h-1zM242.3 623.2h1v1h-1zM241.7 629.5h1v1h-1zM300.1 604.2h1v1h-1zM264.5 630.9h1v1h-1zM306.1 602.5h1v1h-1zM286.3 624.3h1v1h-1zM247.2 643.6h1v1h-1zM244.0 644.9h1v1h-1zM255.8 648.1h1v1h-1zM277.1 617.2h1v1h-1zM249.8 641.8h1v1h-1zM265.8 603.5h1v1h-1zM259.3 646.8h1v1h-1zM289.8 607.5h1v1h-1zM260.8 642.5h1v1h-1zM257.7 644.1h1v1h-1zM247.2 640.5h1v1h-1zM266.9 629.3h1v1h-1zM290.0 612.7h1v1h-1zM255.9 637.2h1v1h-1zM281.2 632.7h1v1h-1zM248.9 642.9h1v1h-1zM293.5 606.8h1v1h-1zM277.8 626.5h1v1h-1zM293.5 629.2h1v1h-1zM243.1 663.3h1v1h-1zM268.8 632.8h1v1h-1zM280.0 635.0h1v1h-1zM242.2 641.9h1v1h-1zM246.1 630.0h1v1h-1zM297.1 622.9h1v1h-1zM289.9 613.6h1v1h-1zM270.2 645.4h1v1h-1zM248.4 657.3h1v1h-1zM241.5 645.1h1v1h-1zM290.7 611.7h1v1h-1zM299.9 605.4h1v1h-1zM263.3 612.0h1v1h-1zM256.5 628.1h1v1h-1zM290.6 615.5h1v1h-1zM249.1 634.9h1v1h-1zM286.5 634.3h1v1h-1zM274.4 628.6h1v1h-1zM293.1 605.5h1v1h-1zM239.9 625.6h1v1h-1zM238.6 644.9h1v1h-1zM254.6 618.8h1v1h-1zM277.5 623.1h1v1h-1zM247.5 643.9h1v1h-1zM295.0 617.7h1v1h-1zM241.2 662.2h1v1h-1zM249.6 636.6h1v1h-1zM285.3 634.9h1v1h-1zM240.8 638.9h1v1h-1zM252.2 638.1h1v1h-1zM247.0 643.4h1v1h-1zM257.3 634.2h1v1h-1zM295.2 611.5h1v1h-1zM283.3 622.2h1v1h-1zM260.7 636.6h1v1h-1zM251.4 646.4h1v1h-1zM291.5 611.3h1v1h-1zM286.0 604.9h1v1h-1zM246.8 650.7h1v1h-1zM251.7 630.4h1v1h-1zM260.9 633.3h1v1h-1zM243.2 627.8h1v1h-1zM242.9 644.0h1v1h-1zM288.9 617.4h1v1h-1zM298.0 605.2h1v1h-1zM306.8 609.0h1v1h-1zM250.5 638.3h1v1h-1zM247.7 636.3h1v1h-1zM252.1 648.0h1v1h-1zM235.7 639.0h1v1h-1zM279.6 621.4h1v1h-1zM292.6 608.7h1v1h-1zM282.3 627.6h1v1h-1zM254.1 654.1h1v1h-1zM259.6 639.0h1v1h-1zM245.3 661.8h1v1h-1zM279.5 632.0h1v1h-1zM250.3 649.0h1v1h-1zM238.0 634.5h1v1h-1zM261.9 631.5h1v1h-1z" fill="#000" opacity="0.28"/>
<path d="M244.4 633.4h1v1h-1zM260.8 620.8h1v1h-1zM238.7 632.7h1v1h-1zM245.2 639.0h1v1h-1zM293.9 624.3h1v1h-1zM271.6 621.9h1v1h-1zM286.3 612.0h1v1h-1zM264.7 634.9h1v1h-1zM301.3 607.5h1v1h-1zM248.6 637.1h1v1h-1zM268.2 614.0h1v1h-1zM273.4 647.2h1v1h-1zM286.1 612.5h1v1h-1zM303.9 614.3h1v1h-1zM296.4 613.4h1v1h-1zM246.2 648.2h1v1h-1zM238.8 655.1h1v1h-1zM295.9 604.1h1v1h-1zM260.0 613.2h1v1h-1zM248.5 635.0h1v1h-1zM247.1 621.2h1v1h-1zM249.9 653.7h1v1h-1zM295.9 608.8h1v1h-1zM241.3 655.1h1v1h-1zM247.0 628.8h1v1h-1zM252.6 641.6h1v1h-1zM281.8 619.8h1v1h-1zM251.8 623.6h1v1h-1zM300.0 598.6h1v1h-1zM242.4 643.7h1v1h-1zM246.3 604.1h1v1h-1zM282.6 609.9h1v1h-1zM271.5 624.9h1v1h-1zM254.0 638.8h1v1h-1zM248.0 637.1h1v1h-1zM243.7 618.3h1v1h-1zM251.3 604.3h1v1h-1zM286.7 614.8h1v1h-1zM254.5 633.3h1v1h-1zM279.9 639.7h1v1h-1zM255.7 622.3h1v1h-1zM241.6 638.4h1v1h-1zM279.5 620.1h1v1h-1zM286.5 620.5h1v1h-1zM282.2 625.8h1v1h-1zM244.9 647.4h1v1h-1zM243.9 629.0h1v1h-1zM247.3 639.7h1v1h-1zM307.5 604.9h1v1h-1zM253.3 639.4h1v1h-1zM260.5 640.4h1v1h-1zM296.6 615.0h1v1h-1zM284.8 620.7h1v1h-1zM240.9 632.0h1v1h-1zM244.0 619.0h1v1h-1zM291.7 639.4h1v1h-1zM282.2 613.5h1v1h-1zM276.9 617.3h1v1h-1zM291.1 629.2h1v1h-1zM269.3 641.5h1v1h-1zM299.2 614.7h1v1h-1zM251.5 630.8h1v1h-1zM243.7 645.5h1v1h-1zM282.3 604.0h1v1h-1zM261.2 624.9h1v1h-1zM247.3 644.8h1v1h-1zM286.0 606.0h1v1h-1zM300.3 611.8h1v1h-1zM244.2 645.0h1v1h-1zM294.7 617.9h1v1h-1zM300.3 605.3h1v1h-1zM282.4 615.6h1v1h-1zM294.7 609.9h1v1h-1zM247.1 661.0h1v1h-1zM242.0 628.4h1v1h-1zM239.5 641.2h1v1h-1zM254.8 637.3h1v1h-1zM250.6 635.7h1v1h-1zM273.4 620.7h1v1h-1zM239.8 630.5h1v1h-1zM261.3 634.0h1v1h-1zM247.4 630.9h1v1h-1zM244.6 630.6h1v1h-1zM256.4 630.1h1v1h-1zM253.9 635.1h1v1h-1zM288.0 615.5h1v1h-1zM246.8 638.4h1v1h-1zM241.3 625.7h1v1h-1zM251.2 638.0h1v1h-1zM278.0 628.3h1v1h-1zM247.6 632.3h1v1h-1zM293.6 623.4h1v1h-1zM245.4 647.1h1v1h-1zM252.3 645.2h1v1h-1zM255.6 638.7h1v1h-1zM243.7 641.3h1v1h-1zM255.6 621.4h1v1h-1zM235.6 646.3h1v1h-1zM247.9 656.3h1v1h-1zM243.9 625.7h1v1h-1zM252.4 621.6h1v1h-1zM244.1 651.5h1v1h-1zM270.8 619.8h1v1h-1zM289.3 608.9h1v1h-1zM242.2 647.1h1v1h-1zM265.1 636.8h1v1h-1zM248.4 623.4h1v1h-1zM271.5 630.9h1v1h-1zM288.3 610.6h1v1h-1zM293.9 615.2h1v1h-1zM251.8 628.6h1v1h-1zM251.2 626.0h1v1h-1zM306.7 603.5h1v1h-1zM270.7 616.7h1v1h-1zM290.5 614.4h1v1h-1zM272.0 614.0h1v1h-1zM258.6 635.2h1v1h-1zM254.1 622.7h1v1h-1zM306.8 608.5h1v1h-1zM244.8 623.1h1v1h-1zM297.6 614.7h1v1h-1zM279.9 613.2h1v1h-1zM249.4 623.8h1v1h-1zM293.3 611.9h1v1h-1zM252.6 645.1h1v1h-1zM278.8 606.0h1v1h-1zM283.7 613.5h1v1h-1zM252.3 660.1h1v1h-1zM251.8 636.8h1v1h-1zM255.2 650.1h1v1h-1zM253.9 629.8h1v1h-1zM247.3 627.0h1v1h-1zM266.7 640.4h1v1h-1zM265.6 637.6h1v1h-1zM288.5 619.8h1v1h-1zM251.3 650.8h1v1h-1zM245.8 634.1h1v1h-1zM244.7 642.3h1v1h-1zM254.9 619.0h1v1h-1zM244.3 640.5h1v1h-1zM279.3 615.6h1v1h-1zM250.9 633.6h1v1h-1zM255.7 627.7h1v1h-1zM256.7 636.3h1v1h-1zM302.2 602.8h1v1h-1zM244.9 646.1h1v1h-1zM287.8 614.7h1v1h-1zM242.4 641.6h1v1h-1zM244.2 619.4h1v1h-1zM258.6 648.2h1v1h-1zM257.7 645.9h1v1h-1zM249.0 651.5h1v1h-1zM244.6 658.5h1v1h-1zM252.4 662.1h1v1h-1zM249.2 629.7h1v1h-1zM246.4 623.5h1v1h-1zM258.0 608.7h1v1h-1zM291.2 612.1h1v1h-1zM246.2 617.9h1v1h-1zM293.3 618.1h1v1h-1zM254.5 642.2h1v1h-1zM280.7 626.7h1v1h-1zM280.2 603.0h1v1h-1zM282.6 611.2h1v1h-1zM246.9 646.7h1v1h-1zM289.8 606.8h1v1h-1zM239.5 650.2h1v1h-1zM236.7 646.5h1v1h-1zM271.6 626.1h1v1h-1zM266.7 625.5h1v1h-1zM265.0 633.3h1v1h-1zM268.5 612.1h1v1h-1zM281.5 613.1h1v1h-1zM243.1 624.5h1v1h-1zM247.6 650.2h1v1h-1zM304.0 610.9h1v1h-1zM248.9 631.0h1v1h-1zM294.7 618.8h1v1h-1zM247.2 659.3h1v1h-1zM294.9 614.4h1v1h-1zM298.5 611.4h1v1h-1zM288.2 617.7h1v1h-1zM245.2 640.7h1v1h-1zM287.6 624.5h1v1h-1zM236.8 646.7h1v1h-1zM248.1 612.6h1v1h-1zM238.4 645.9h1v1h-1zM289.4 634.6h1v1h-1zM263.9 641.9h1v1h-1zM266.2 629.5h1v1h-1zM271.9 626.7h1v1h-1zM310.2 604.5h1v1h-1zM250.5 637.4h1v1h-1zM305.3 615.4h1v1h-1zM275.3 607.3h1v1h-1zM278.5 605.5h1v1h-1zM293.7 613.7h1v1h-1zM249.9 644.6h1v1h-1zM245.8 624.9h1v1h-1zM273.4 619.3h1v1h-1zM246.1 623.2h1v1h-1zM271.7 611.4h1v1h-1zM244.0 635.6h1v1h-1zM296.7 607.1h1v1h-1zM245.8 629.1h1v1h-1zM275.2 625.2h1v1h-1zM284.9 621.0h1v1h-1zM299.9 609.9h1v1h-1zM247.6 631.1h1v1h-1zM253.1 646.5h1v1h-1zM259.8 640.1h1v1h-1zM279.4 620.7h1v1h-1zM271.1 629.2h1v1h-1zM249.4 626.0h1v1h-1zM265.1 653.8h1v1h-1zM247.0 644.4h1v1h-1zM288.9 603.9h1v1h-1zM248.2 635.6h1v1h-1zM252.4 644.5h1v1h-1zM259.0 645.9h1v1h-1zM284.6 618.3h1v1h-1zM251.0 630.2h1v1h-1zM290.9 613.7h1v1h-1zM271.7 623.0h1v1h-1zM250.6 623.5h1v1h-1zM262.5 633.1h1v1h-1zM252.3 636.3h1v1h-1zM250.5 628.2h1v1h-1zM297.9 608.9h1v1h-1zM252.5 630.2h1v1h-1zM301.2 603.5h1v1h-1zM293.6 614.1h1v1h-1zM244.2 663.9h1v1h-1zM241.0 618.5h1v1h-1zM302.6 604.8h1v1h-1zM243.6 617.3h1v1h-1zM285.1 619.9h1v1h-1zM275.1 612.9h1v1h-1zM245.3 656.2h1v1h-1zM286.8 616.7h1v1h-1zM246.7 634.9h1v1h-1zM254.1 656.9h1v1h-1zM288.7 608.5h1v1h-1zM291.0 613.0h1v1h-1zM260.3 640.8h1v1h-1zM289.3 605.1h1v1h-1zM244.2 629.8h1v1h-1zM244.8 653.9h1v1h-1zM250.8 642.9h1v1h-1zM304.2 615.8h1v1h-1zM254.7 649.7h1v1h-1zM243.5 642.5h1v1h-1zM299.6 610.6h1v1h-1zM294.7 607.3h1v1h-1zM305.1 617.5h1v1h-1zM277.8 609.3h1v1h-1zM250.7 631.9h1v1h-1zM270.1 622.5h1v1h-1zM245.1 636.4h1v1h-1zM253.0 651.7h1v1h-1zM237.9 634.3h1v1h-1zM242.6 644.2h1v1h-1zM250.6 625.8h1v1h-1zM244.3 623.4h1v1h-1zM244.7 620.8h1v1h-1zM290.1 616.6h1v1h-1zM292.8 608.6h1v1h-1zM252.4 631.9h1v1h-1zM252.2 633.5h1v1h-1zM257.8 634.5h1v1h-1zM299.8 610.2h1v1h-1zM261.9 639.2h1v1h-1zM289.3 623.9h1v1h-1zM243.6 627.0h1v1h-1zM241.2 640.1h1v1h-1zM293.0 616.7h1v1h-1zM247.4 632.8h1v1h-1zM303.2 603.5h1v1h-1zM253.5 640.1h1v1h-1zM249.5 652.8h1v1h-1zM241.2 636.3h1v1h-1zM243.8 648.6h1v1h-1zM255.2 646.9h1v1h-1zM257.7 647.2h1v1h-1zM271.1 608.0h1v1h-1zM236.4 627.4h1v1h-1zM289.4 610.9h1v1h-1zM285.1 623.6h1v1h-1zM247.5 647.8h1v1h-1zM257.8 628.3h1v1h-1zM296.6 613.6h1v1h-1zM285.8 602.9h1v1h-1zM256.0 627.3h1v1h-1zM253.6 626.7h1v1h-1zM284.3 637.3h1v1h-1zM259.7 632.9h1v1h-1zM284.4 625.1h1v1h-1zM288.6 616.5h1v1h-1zM259.9 633.4h1v1h-1zM286.8 614.6h1v1h-1zM300.2 612.5h1v1h-1zM253.2 633.6h1v1h-1zM293.3 611.3h1v1h-1zM277.2 623.0h1v1h-1zM262.2 631.9h1v1h-1zM236.4 625.2h1v1h-1zM299.1 603.3h1v1h-1zM258.1 634.4h1v1h-1zM281.9 617.6h1v1h-1zM241.1 652.1h1v1h-1zM291.2 613.2h1v1h-1zM239.8 643.9h1v1h-1zM243.5 627.5h1v1h-1zM285.4 616.4h1v1h-1zM278.3 621.9h1v1h-1zM248.1 637.1h1v1h-1zM247.2 653.5h1v1h-1zM279.1 618.0h1v1h-1zM249.1 645.7h1v1h-1zM242.5 644.9h1v1h-1zM237.9 651.6h1v1h-1zM282.5 623.4h1v1h-1zM275.8 617.2h1v1h-1zM253.1 646.3h1v1h-1zM255.9 647.9h1v1h-1zM284.8 620.8h1v1h-1zM250.3 653.1h1v1h-1zM240.8 641.4h1v1h-1zM293.1 612.3h1v1h-1zM289.2 609.0h1v1h-1zM247.2 624.1h1v1h-1zM299.9 625.7h1v1h-1zM277.3 632.4h1v1h-1zM263.9 640.9h1v1h-1zM244.8 636.2h1v1h-1zM269.2 621.2h1v1h-1zM242.8 641.0h1v1h-1zM301.2 610.6h1v1h-1zM253.9 645.6h1v1h-1zM247.4 652.2h1v1h-1zM283.9 598.3h1v1h-1zM265.6 634.7h1v1h-1zM295.3 612.2h1v1h-1zM297.6 609.9h1v1h-1zM305.5 610.7h1v1h-1zM271.9 593.9h1v1h-1zM239.1 644.4h1v1h-1zM290.5 605.0h1v1h-1zM237.2 632.3h1v1h-1zM236.9 646.0h1v1h-1zM238.4 633.6h1v1h-1zM307.0 608.7h1v1h-1zM246.6 646.4h1v1h-1zM250.9 642.2h1v1h-1zM247.1 640.8h1v1h-1zM264.6 641.9h1v1h-1zM278.9 612.7h1v1h-1zM242.6 635.2h1v1h-1zM245.8 648.3h1v1h-1zM245.5 631.8h1v1h-1zM253.6 619.5h1v1h-1zM288.8 620.7h1v1h-1zM290.2 608.7h1v1h-1zM250.7 630.3h1v1h-1zM252.9 630.4h1v1h-1zM261.3 656.8h1v1h-1zM284.4 619.9h1v1h-1zM284.8 605.6h1v1h-1zM283.5 613.3h1v1h-1zM254.9 650.2h1v1h-1zM243.6 637.5h1v1h-1zM272.1 623.9h1v1h-1zM257.0 635.1h1v1h-1zM264.8 615.7h1v1h-1zM263.9 638.4h1v1h-1zM253.5 628.8h1v1h-1zM252.9 633.1h1v1h-1zM291.4 614.4h1v1h-1zM283.1 615.1h1v1h-1zM245.7 623.7h1v1h-1zM246.9 632.2h1v1h-1zM284.8 622.7h1v1h-1zM282.9 626.9h1v1h-1zM243.9 641.9h1v1h-1zM255.4 642.9h1v1h-1zM263.3 637.3h1v1h-1zM285.9 611.9h1v1h-1zM244.6 647.0h1v1h-1zM262.2 636.0h1v1h-1zM303.0 605.4h1v1h-1zM266.7 635.8h1v1h-1zM238.2 650.2h1v1h-1zM248.7 644.3h1v1h-1zM248.6 636.0h1v1h-1zM247.2 630.4h1v1h-1zM269.0 623.6h1v1h-1zM258.7 645.6h1v1h-1zM253.0 643.1h1v1h-1zM248.8 647.9h1v1h-1zM252.6 631.6h1v1h-1zM279.1 619.2h1v1h-1zM245.4 638.9h1v1h-1zM241.5 632.7h1v1h-1zM303.2 614.7h1v1h-1zM287.6 611.4h1v1h-1zM252.2 632.9h1v1h-1zM255.2 639.2h1v1h-1zM275.1 638.7h1v1h-1zM237.7 637.5h1v1h-1zM301.3 601.4h1v1h-1zM253.0 631.7h1v1h-1zM273.7 622.5h1v1h-1zM272.8 633.8h1v1h-1zM256.8 629.0h1v1h-1zM246.9 640.7h1v1h-1zM283.8 621.3h1v1h-1zM246.4 616.5h1v1h-1zM253.6 640.5h1v1h-1zM286.4 611.5h1v1h-1zM245.5 610.3h1v1h-1zM247.1 644.4h1v1h-1zM249.8 621.1h1v1h-1zM250.7 650.0h1v1h-1zM292.5 609.8h1v1h-1zM249.3 624.4h1v1h-1zM247.2 647.4h1v1h-1zM240.2 650.4h1v1h-1zM244.2 641.3h1v1h-1zM244.3 651.8h1v1h-1zM241.7 629.4h1v1h-1zM252.9 638.4h1v1h-1zM249.4 631.5h1v1h-1zM250.5 635.9h1v1h-1zM240.4 642.2h1v1h-1zM286.9 621.2h1v1h-1zM291.2 613.5h1v1h-1zM245.2 645.7h1v1h-1zM250.4 651.9h1v1h-1zM267.5 641.2h1v1h-1zM269.5 616.8h1v1h-1zM247.6 621.4h1v1h-1zM245.8 654.4h1v1h-1zM244.8 622.5h1v1h-1zM267.5 624.8h1v1h-1zM291.9 600.9h1v1h-1zM278.1 630.7h1v1h-1zM285.0 615.4h1v1h-1zM245.5 622.1h1v1h-1zM290.6 630.4h1v1h-1zM244.3 651.1h1v1h-1zM298.0 614.7h1v1h-1zM248.3 647.2h1v1h-1zM251.9 629.4h1v1h-1zM272.6 643.0h1v1h-1zM250.7 628.4h1v1h-1zM252.2 627.6h1v1h-1zM257.1 640.5h1v1h-1zM241.8 636.6h1v1h-1zM246.8 631.1h1v1h-1zM268.3 637.4h1v1h-1zM303.1 600.4h1v1h-1zM253.8 634.1h1v1h-1zM284.1 623.8h1v1h-1zM249.6 647.6h1v1h-1zM258.1 627.6h1v1h-1zM245.5 646.3h1v1h-1zM284.6 630.8h1v1h-1zM272.3 638.3h1v1h-1zM263.1 630.1h1v1h-1zM303.7 608.3h1v1h-1zM245.7 639.8h1v1h-1zM281.8 613.3h1v1h-1zM296.2 608.0h1v1h-1zM276.3 639.7h1v1h-1zM260.9 639.2h1v1h-1zM265.8 649.2h1v1h-1zM266.4 632.8h1v1h-1zM261.8 623.0h1v1h-1zM250.5 636.7h1v1h-1zM255.8 636.5h1v1h-1zM245.8 628.1h1v1h-1zM293.9 611.9h1v1h-1zM245.5 649.8h1v1h-1zM246.1 628.5h1v1h-1zM244.4 635.0h1v1h-1zM257.7 641.4h1v1h-1zM254.4 662.5h1v1h-1zM252.7 645.6h1v1h-1zM245.9 630.5h1v1h-1zM246.9 615.5h1v1h-1zM288.8 602.0h1v1h-1zM249.0 646.9h1v1h-1zM247.5 621.0h1v1h-1zM251.5 630.8h1v1h-1zM273.3 622.2h1v1h-1zM287.0 617.1h1v1h-1zM287.1 611.0h1v1h-1zM254.8 641.3h1v1h-1zM281.8 612.7h1v1h-1zM277.1 633.2h1v1h-1zM242.3 652.7h1v1h-1zM280.5 628.9h1v1h-1zM277.5 626.7h1v1h-1zM279.3 612.7h1v1h-1zM295.7 607.6h1v1h-1zM243.3 642.7h1v1h-1zM281.3 612.4h1v1h-1zM272.6 626.7h1v1h-1zM242.2 645.1h1v1h-1zM248.1 655.3h1v1h-1zM295.6 606.0h1v1h-1zM241.8 658.0h1v1h-1zM246.5 644.4h1v1h-1zM299.9 615.2h1v1h-1zM290.9 612.0h1v1h-1zM304.9 612.8h1v1h-1zM286.8 614.0h1v1h-1zM299.7 606.6h1v1h-1zM239.7 644.3h1v1h-1zM253.5 635.2h1v1h-1zM266.9 619.1h1v1h-1zM253.1 630.3h1v1h-1zM280.5 621.0h1v1h-1zM249.5 609.6h1v1h-1zM245.1 638.0h1v1h-1zM286.8 610.9h1v1h-1zM257.2 647.4h1v1h-1zM236.9 630.7h1v1h-1zM259.8 648.4h1v1h-1zM284.4 607.7h1v1h-1zM261.6 643.6h1v1h-1zM256.8 628.8h1v1h-1zM257.1 645.7h1v1h-1zM292.3 620.6h1v1h-1zM247.5 619.8h1v1h-1zM252.0 634.5h1v1h-1zM254.7 644.9h1v1h-1zM289.6 616.2h1v1h-1zM276.2 633.2h1v1h-1zM251.2 609.9h1v1h-1zM262.8 654.6h1v1h-1zM249.2 626.9h1v1h-1zM288.4 604.5h1v1h-1zM252.7 627.8h1v1h-1zM244.6 650.9h1v1h-1zM300.4 610.8h1v1h-1zM243.7 633.2h1v1h-1zM301.3 609.1h1v1h-1zM271.5 639.6h1v1h-1zM265.1 647.1h1v1h-1zM290.9 610.3h1v1h-1zM298.2 610.1h1v1h-1zM244.1 636.1h1v1h-1zM265.8 626.5h1v1h-1zM289.3 615.5h1v1h-1zM301.0 610.7h1v1h-1zM242.0 619.9h1v1h-1zM245.2 642.8h1v1h-1zM299.9 600.6h1v1h-1zM303.0 597.5h1v1h-1zM278.8 634.2h1v1h-1zM250.3 642.5h1v1h-1zM269.0 635.8h1v1h-1zM263.4 635.4h1v1h-1zM299.0 614.1h1v1h-1zM270.0 621.7h1v1h-1zM273.4 616.4h1v1h-1zM291.1 611.5h1v1h-1zM297.8 612.3h1v1h-1zM294.2 606.9h1v1h-1zM298.4 604.9h1v1h-1zM253.3 640.5h1v1h-1zM238.4 635.9h1v1h-1zM242.1 637.7h1v1h-1zM237.5 631.7h1v1h-1zM249.9 651.2h1v1h-1zM275.4 614.7h1v1h-1zM260.3 640.3h1v1h-1zM282.9 621.6h1v1h-1zM286.5 629.4h1v1h-1zM282.8 618.3h1v1h-1zM240.8 628.8h1v1h-1zM295.7 615.9h1v1h-1zM259.4 628.6h1v1h-1zM254.6 633.6h1v1h-1zM241.6 657.2h1v1h-1zM287.7 605.8h1v1h-1zM255.2 628.6h1v1h-1zM258.5 627.4h1v1h-1zM245.5 624.4h1v1h-1zM254.9 631.6h1v1h-1zM298.1 617.6h1v1h-1zM250.8 632.4h1v1h-1zM243.9 630.2h1v1h-1zM274.2 626.4h1v1h-1zM255.5 627.9h1v1h-1zM262.7 627.4h1v1h-1zM269.5 620.8h1v1h-1zM293.0 614.3h1v1h-1zM291.5 616.6h1v1h-1zM248.1 661.2h1v1h-1zM287.4 620.5h1v1h-1zM249.1 650.7h1v1h-1zM264.1 645.7h1v1h-1zM265.3 634.4h1v1h-1zM245.1 636.8h1v1h-1zM249.3 644.0h1v1h-1zM237.3 623.2h1v1h-1zM250.7 652.9h1v1h-1zM317.5 610.9h1v1h-1zM273.8 641.0h1v1h-1zM243.7 622.9h1v1h-1zM245.6 629.8h1v1h-1zM250.0 625.1h1v1h-1zM278.0 615.5h1v1h-1zM245.7 636.6h1v1h-1zM304.1 606.3h1v1h-1zM281.1 620.6h1v1h-1zM262.4 609.9h1v1h-1zM252.6 616.7h1v1h-1zM285.8 611.6h1v1h-1zM292.8 605.3h1v1h-1zM248.9 656.5h1v1h-1zM252.9 625.9h1v1h-1zM302.4 615.1h1v1h-1zM252.9 657.2h1v1h-1zM269.0 636.0h1v1h-1zM247.8 637.9h1v1h-1zM252.1 637.9h1v1h-1zM241.9 639.6h1v1h-1zM302.4 607.3h1v1h-1zM272.1 634.2h1v1h-1zM281.3 624.3h1v1h-1zM287.2 611.2h1v1h-1zM294.3 611.4h1v1h-1zM300.7 602.8h1v1h-1zM244.6 626.6h1v1h-1zM248.8 648.9h1v1h-1zM255.4 652.5h1v1h-1zM254.2 645.1h1v1h-1zM271.6 637.7h1v1h-1zM244.1 646.2h1v1h-1zM284.2 625.8h1v1h-1zM249.8 627.7h1v1h-1zM250.9 641.7h1v1h-1zM246.1 652.8h1v1h-1zM292.3 611.5h1v1h-1zM262.0 640.3h1v1h-1zM287.3 615.5h1v1h-1zM258.1 652.4h1v1h-1zM300.9 604.7h1v1h-1zM243.5 623.1h1v1h-1zM295.4 601.3h1v1h-1zM248.6 636.7h1v1h-1zM295.2 607.0h1v1h-1zM239.8 634.5h1v1h-1zM252.6 615.7h1v1h-1zM244.7 615.3h1v1h-1zM240.5 648.3h1v1h-1zM249.4 638.1h1v1h-1zM247.3 635.7h1v1h-1zM255.7 619.8h1v1h-1zM286.6 624.1h1v1h-1zM249.7 643.2h1v1h-1zM243.0 650.9h1v1h-1zM303.2 604.7h1v1h-1zM261.1 629.0h1v1h-1zM262.3 621.1h1v1h-1zM284.2 624.0h1v1h-1zM297.8 605.8h1v1h-1zM276.5 633.5h1v1h-1zM250.2 618.6h1v1h-1zM274.7 608.0h1v1h-1zM243.2 627.3h1v1h-1zM264.8 639.6h1v1h-1zM304.2 615.5h1v1h-1zM239.7 637.2h1v1h-1zM245.2 646.9h1v1h-1zM252.1 651.8h1v1h-1zM300.8 607.1h1v1h-1zM241.9 641.8h1v1h-1zM246.0 641.2h1v1h-1zM253.4 653.6h1v1h-1zM288.2 618.5h1v1h-1zM245.5 623.1h1v1h-1zM291.3 607.2h1v1h-1zM292.0 616.9h1v1h-1zM247.9 661.5h1v1h-1zM252.8 654.2h1v1h-1zM285.1 611.8h1v1h-1zM279.1 606.6h1v1h-1zM278.0 623.6h1v1h-1zM272.3 633.7h1v1h-1zM287.8 616.3h1v1h-1zM249.5 645.8h1v1h-1zM236.0 623.4h1v1h-1zM262.2 631.6h1v1h-1zM298.3 610.8h1v1h-1zM237.2 624.9h1v1h-1zM249.1 621.0h1v1h-1zM262.7 600.8h1v1h-1zM297.6 602.2h1v1h-1zM289.7 609.2h1v1h-1zM258.6 637.2h1v1h-1zM263.6 633.2h1v1h-1zM269.4 648.5h1v1h-1zM297.0 614.5h1v1h-1zM252.3 656.1h1v1h-1zM284.9 606.1h1v1h-1zM246.8 639.0h1v1h-1zM308.5 602.4h1v1h-1zM284.4 630.1h1v1h-1zM252.3 625.9h1v1h-1zM275.9 606.5h1v1h-1zM292.8 603.5h1v1h-1zM249.1 628.2h1v1h-1zM287.1 617.3h1v1h-1zM249.9 633.5h1v1h-1zM294.5 606.0h1v1h-1zM252.4 652.4h1v1h-1zM263.7 638.7h1v1h-1zM244.5 638.6h1v1h-1zM248.6 632.6h1v1h-1zM277.1 629.3h1v1h-1zM250.7 633.5h1v1h-1zM242.9 645.6h1v1h-1zM311.0 608.2h1v1h-1zM263.4 643.9h1v1h-1zM245.9 658.4h1v1h-1zM264.5 627.6h1v1h-1zM247.1 621.0h1v1h-1zM248.4 644.8h1v1h-1zM269.7 635.5h1v1h-1zM245.3 629.5h1v1h-1zM253.5 602.9h1v1h-1zM254.8 647.6h1v1h-1zM247.3 651.7h1v1h-1zM295.2 615.5h1v1h-1zM252.4 637.6h1v1h-1zM242.3 651.3h1v1h-1zM244.0 624.9h1v1h-1zM281.1 616.6h1v1h-1zM239.6 650.9h1v1h-1zM287.9 639.1h1v1h-1zM267.6 641.0h1v1h-1zM249.7 631.3h1v1h-1zM288.0 638.9h1v1h-1zM283.4 639.2h1v1h-1zM298.0 615.7h1v1h-1zM256.4 621.6h1v1h-1zM254.5 635.5h1v1h-1zM291.0 609.6h1v1h-1zM290.7 612.8h1v1h-1zM266.0 652.0h1v1h-1zM257.2 635.1h1v1h-1zM255.9 626.8h1v1h-1zM284.3 614.6h1v1h-1zM252.5 643.8h1v1h-1zM293.2 619.7h1v1h-1zM302.4 612.2h1v1h-1zM246.0 649.7h1v1h-1zM271.2 631.5h1v1h-1zM294.0 609.6h1v1h-1zM268.6 628.9h1v1h-1zM254.0 640.2h1v1h-1zM274.4 604.3h1v1h-1zM247.9 634.9h1v1h-1zM295.8 610.5h1v1h-1zM294.1 610.9h1v1h-1zM298.7 608.6h1v1h-1zM248.6 642.8h1v1h-1zM242.8 637.8h1v1h-1zM277.4 624.5h1v1h-1zM265.9 622.4h1v1h-1zM292.5 613.6h1v1h-1zM255.2 639.5h1v1h-1zM269.2 637.9h1v1h-1zM295.2 609.6h1v1h-1zM257.0 653.2h1v1h-1zM257.2 634.5h1v1h-1zM281.9 641.4h1v1h-1zM247.1 606.0h1v1h-1zM282.1 625.8h1v1h-1zM242.5 637.9h1v1h-1zM278.3 620.6h1v1h-1zM240.5 619.6h1v1h-1zM302.2 617.4h1v1h-1zM292.7 609.6h1v1h-1zM287.9 606.3h1v1h-1zM304.0 608.1h1v1h-1zM260.5 619.6h1v1h-1zM299.9 611.7h1v1h-1zM265.8 606.2h1v1h-1zM244.9 646.2h1v1h-1zM293.5 621.0h1v1h-1zM288.9 607.5h1v1h-1zM279.5 621.8h1v1h-1zM245.2 653.5h1v1h-1zM254.8 653.0h1v1h-1zM243.6 658.6h1v1h-1zM284.7 617.9h1v1h-1zM285.8 610.1h1v1h-1zM249.2 647.4h1v1h-1zM274.2 633.8h1v1h-1zM276.1 606.9h1v1h-1zM238.7 619.1h1v1h-1zM266.9 630.3h1v1h-1zM271.8 624.0h1v1h-1zM243.4 643.1h1v1h-1zM245.4 639.9h1v1h-1zM238.2 632.3h1v1h-1zM242.9 652.0h1v1h-1zM259.4 615.8h1v1h-1zM254.6 623.2h1v1h-1zM256.0 639.1h1v1h-1zM248.5 612.4h1v1h-1zM241.3 627.6h1v1h-1zM279.1 622.2h1v1h-1zM246.3 623.2h1v1h-1zM262.0 644.9h1v1h-1zM250.9 642.9h1v1h-1zM291.5 617.8h1v1h-1zM271.2 644.5h1v1h-1zM252.7 627.4h1v1h-1zM266.6 605.4h1v1h-1zM267.4 636.0h1v1h-1zM276.5 634.3h1v1h-1zM290.4 611.5h1v1h-1zM272.3 617.4h1v1h-1zM252.8 621.5h1v1h-1zM304.8 617.3h1v1h-1zM287.3 595.5h1v1h-1zM256.2 638.5h1v1h-1zM237.0 646.6h1v1h-1zM253.6 629.1h1v1h-1zM242.9 634.4h1v1h-1zM281.1 612.7h1v1h-1zM252.2 644.7h1v1h-1zM288.9 613.7h1v1h-1zM295.3 608.1h1v1h-1zM248.8 635.6h1v1h-1zM264.2 615.0h1v1h-1zM274.2 633.9h1v1h-1zM252.8 628.8h1v1h-1zM259.7 634.2h1v1h-1zM248.6 639.3h1v1h-1zM286.0 624.2h1v1h-1zM261.0 641.3h1v1h-1zM252.3 633.4h1v1h-1zM311.8 603.9h1v1h-1zM261.8 643.7h1v1h-1zM293.7 621.1h1v1h-1zM242.8 628.0h1v1h-1zM293.5 622.5h1v1h-1zM249.3 621.7h1v1h-1zM280.3 624.7h1v1h-1zM238.1 618.0h1v1h-1zM293.4 615.6h1v1h-1zM250.2 648.0h1v1h-1zM242.5 660.9h1v1h-1zM291.4 616.2h1v1h-1zM280.4 614.7h1v1h-1zM249.8 657.7h1v1h-1zM268.3 624.5h1v1h-1zM258.8 634.0h1v1h-1zM245.6 647.5h1v1h-1zM291.3 608.7h1v1h-1zM261.0 652.3h1v1h-1zM251.8 624.3h1v1h-1zM285.4 611.9h1v1h-1zM244.3 645.1h1v1h-1zM245.6 646.3h1v1h-1zM242.5 636.7h1v1h-1zM244.0 629.3h1v1h-1zM298.7 610.3h1v1h-1zM261.5 654.1h1v1h-1zM243.9 642.2h1v1h-1zM275.4 610.2h1v1h-1zM252.6 647.8h1v1h-1zM239.7 635.0h1v1h-1zM300.3 606.6h1v1h-1zM282.4 616.7h1v1h-1zM266.9 632.5h1v1h-1zM251.3 636.8h1v1h-1zM250.5 631.5h1v1h-1zM238.2 619.3h1v1h-1zM266.4 620.0h1v1h-1zM291.1 616.6h1v1h-1zM286.5 621.7h1v1h-1zM245.2 624.2h1v1h-1zM242.3 630.7h1v1h-1zM291.0 615.7h1v1h-1zM287.8 606.6h1v1h-1zM243.2 661.5h1v1h-1zM248.8 644.2h1v1h-1zM246.7 649.7h1v1h-1zM289.0 618.7h1v1h-1zM243.9 640.2h1v1h-1z" fill="#000" opacity="0.28"/>
<path d="M244.6 651.2h1v1h-1zM247.7 648.7h1v1h-1zM292.3 607.9h1v1h-1zM305.6 608.4h1v1h-1zM298.5 609.3h1v1h-1zM242.2 650.9h1v1h-1zM251.9 651.9h1v1h-1zM246.5 654.6h1v1h-1zM297.7 611.5h1v1h-1zM246.5 650.8h1v1h-1zM290.2 610.9h1v1h-1zM245.7 651.2h1v1h-1zM238.2 641.8h1v1h-1zM249.2 649.8h1v1h-1zM303.7 606.9h1v1h-1zM296.7 609.0h1v1h-1zM240.2 644.3h1v1h-1zM295.6 607.9h1v1h-1zM297.4 607.3h1v1h-1zM247.6 649.6h1v1h-1zM299.9 600.9h1v1h-1zM244.3 645.5h1v1h-1zM302.0 607.0h1v1h-1zM300.7 611.4h1v1h-1zM290.4 616.1h1v1h-1zM247.0 663.2h1v1h-1zM296.0 607.2h1v1h-1zM295.8 603.3h1v1h-1zM288.5 614.6h1v1h-1zM244.6 642.4h1v1h-1zM254.9 641.7h1v1h-1zM294.4 606.5h1v1h-1zM246.9 651.8h1v1h-1zM240.7 641.2h1v1h-1zM241.3 642.6h1v1h-1zM251.4 644.0h1v1h-1zM243.6 638.0h1v1h-1zM293.5 608.1h1v1h-1zM299.4 610.4h1v1h-1zM291.1 608.7h1v1h-1zM249.2 650.6h1v1h-1zM301.8 609.3h1v1h-1zM244.3 650.5h1v1h-1zM242.1 651.0h1v1h-1zM242.7 639.3h1v1h-1zM251.0 642.1h1v1h-1zM239.8 643.7h1v1h-1zM242.8 645.0h1v1h-1zM243.2 661.0h1v1h-1zM302.8 603.5h1v1h-1zM299.1 611.6h1v1h-1zM245.9 651.2h1v1h-1zM300.0 607.8h1v1h-1zM297.7 602.0h1v1h-1zM300.6 605.9h1v1h-1zM247.0 641.6h1v1h-1zM291.7 603.4h1v1h-1zM293.9 612.9h1v1h-1zM295.7 604.5h1v1h-1zM240.7 652.0h1v1h-1zM296.6 611.2h1v1h-1zM242.7 660.9h1v1h-1zM244.0 653.7h1v1h-1zM247.5 658.7h1v1h-1zM244.7 648.6h1v1h-1zM299.3 603.5h1v1h-1zM240.5 643.5h1v1h-1zM248.8 645.3h1v1h-1zM239.8 650.6h1v1h-1zM298.8 606.3h1v1h-1zM294.5 610.2h1v1h-1zM242.2 650.5h1v1h-1zM247.8 643.6h1v1h-1zM295.7 613.3h1v1h-1zM295.3 608.1h1v1h-1zM302.7 603.7h1v1h-1zM239.9 652.3h1v1h-1zM252.3 644.9h1v1h-1zM294.7 607.2h1v1h-1zM248.2 657.7h1v1h-1zM296.1 612.6h1v1h-1zM293.0 607.9h1v1h-1zM309.6 606.0h1v1h-1zM299.8 603.4h1v1h-1zM292.0 607.1h1v1h-1zM247.1 647.3h1v1h-1zM300.8 607.6h1v1h-1zM248.2 648.8h1v1h-1zM247.9 653.4h1v1h-1zM298.8 610.4h1v1h-1zM302.3 608.5h1v1h-1zM297.3 608.5h1v1h-1zM236.9 645.8h1v1h-1zM301.8 600.1h1v1h-1zM299.1 615.1h1v1h-1zM300.6 609.3h1v1h-1zM297.0 610.0h1v1h-1zM242.8 648.2h1v1h-1zM244.7 652.3h1v1h-1zM292.6 609.6h1v1h-1zM300.5 609.8h1v1h-1zM247.3 650.4h1v1h-1zM250.9 647.0h1v1h-1zM243.5 634.1h1v1h-1zM246.5 651.5h1v1h-1zM295.7 613.9h1v1h-1zM301.4 606.9h1v1h-1zM239.0 649.5h1v1h-1zM306.4 604.4h1v1h-1zM246.3 652.5h1v1h-1zM243.0 639.0h1v1h-1zM289.2 615.2h1v1h-1zM246.5 662.1h1v1h-1zM242.4 647.1h1v1h-1zM301.9 606.9h1v1h-1zM246.6 637.2h1v1h-1zM247.6 650.2h1v1h-1zM302.2 612.1h1v1h-1zM303.3 605.9h1v1h-1zM302.1 613.5h1v1h-1zM299.4 597.5h1v1h-1zM248.1 655.0h1v1h-1zM241.9 645.4h1v1h-1zM300.1 603.9h1v1h-1zM246.9 655.2h1v1h-1zM248.8 659.2h1v1h-1zM298.6 610.3h1v1h-1zM302.1 610.8h1v1h-1zM302.7 605.7h1v1h-1zM257.5 655.8h1v1h-1zM308.3 599.2h1v1h-1zM291.0 609.2h1v1h-1zM237.4 651.6h1v1h-1zM298.1 605.9h1v1h-1zM245.8 659.8h1v1h-1zM306.2 604.0h1v1h-1zM238.1 638.0h1v1h-1zM302.7 610.4h1v1h-1zM294.2 609.7h1v1h-1zM245.4 650.6h1v1h-1zM300.6 608.2h1v1h-1zM248.0 649.5h1v1h-1zM239.5 648.6h1v1h-1zM304.6 604.9h1v1h-1zM243.2 638.3h1v1h-1zM307.3 603.0h1v1h-1zM244.8 643.4h1v1h-1zM250.5 643.2h1v1h-1zM298.5 604.2h1v1h-1zM304.8 600.0h1v1h-1zM252.3 640.8h1v1h-1zM243.4 644.2h1v1h-1zM302.8 605.2h1v1h-1zM239.2 645.7h1v1h-1zM241.7 631.7h1v1h-1zM302.4 618.0h1v1h-1zM243.9 647.7h1v1h-1zM301.3 607.1h1v1h-1zM296.1 603.9h1v1h-1zM248.5 648.5h1v1h-1zM240.6 657.2h1v1h-1zM241.0 651.1h1v1h-1zM298.2 610.6h1v1h-1zM301.7 609.5h1v1h-1zM245.0 646.5h1v1h-1zM304.7 609.4h1v1h-1zM248.1 654.2h1v1h-1zM247.6 644.8h1v1h-1zM247.0 642.4h1v1h-1zM301.1 599.7h1v1h-1zM244.0 652.6h1v1h-1zM289.0 610.7h1v1h-1zM244.8 660.1h1v1h-1zM299.9 604.6h1v1h-1zM251.0 641.9h1v1h-1zM240.2 638.1h1v1h-1zM250.3 656.0h1v1h-1zM242.6 654.7h1v1h-1zM244.9 654.2h1v1h-1zM255.3 647.6h1v1h-1zM302.1 604.2h1v1h-1zM241.7 653.8h1v1h-1zM293.1 609.9h1v1h-1zM298.4 604.9h1v1h-1zM250.3 660.6h1v1h-1zM295.6 604.0h1v1h-1zM297.9 611.3h1v1h-1zM299.9 605.5h1v1h-1zM244.0 641.3h1v1h-1zM296.3 609.1h1v1h-1zM307.5 599.7h1v1h-1zM245.0 645.6h1v1h-1zM305.8 603.5h1v1h-1zM248.7 652.3h1v1h-1zM292.9 609.9h1v1h-1zM293.9 608.2h1v1h-1zM304.7 606.3h1v1h-1zM246.1 659.7h1v1h-1zM295.9 616.8h1v1h-1zM301.7 606.9h1v1h-1zM299.8 608.3h1v1h-1zM243.0 652.8h1v1h-1zM298.0 607.3h1v1h-1zM245.2 654.5h1v1h-1zM242.6 652.0h1v1h-1zM302.0 607.5h1v1h-1zM305.2 606.8h1v1h-1zM247.8 653.1h1v1h-1zM244.0 653.0h1v1h-1zM295.7 612.1h1v1h-1zM296.8 606.6h1v1h-1zM247.9 639.9h1v1h-1zM307.1 606.6h1v1h-1zM251.4 656.7h1v1h-1zM245.7 640.8h1v1h-1zM245.3 652.5h1v1h-1zM246.4 653.3h1v1h-1zM248.2 650.3h1v1h-1zM293.9 603.5h1v1h-1zM307.0 606.6h1v1h-1zM245.1 634.8h1v1h-1zM301.3 609.3h1v1h-1zM250.3 657.1h1v1h-1zM254.2 644.6h1v1h-1zM297.0 608.3h1v1h-1zM254.2 653.6h1v1h-1zM249.1 646.5h1v1h-1zM242.4 636.4h1v1h-1zM313.6 597.9h1v1h-1zM245.3 657.9h1v1h-1zM295.1 609.9h1v1h-1zM305.0 609.7h1v1h-1zM242.7 660.1h1v1h-1zM248.7 645.3h1v1h-1zM303.6 608.4h1v1h-1zM305.6 607.7h1v1h-1zM248.8 659.5h1v1h-1zM239.5 654.8h1v1h-1zM308.6 602.4h1v1h-1zM290.8 605.7h1v1h-1zM302.4 602.9h1v1h-1zM245.9 654.1h1v1h-1zM303.5 606.0h1v1h-1zM295.6 605.0h1v1h-1zM245.2 644.6h1v1h-1zM247.1 634.2h1v1h-1zM248.9 645.8h1v1h-1zM297.5 611.2h1v1h-1zM299.5 608.7h1v1h-1zM237.7 638.6h1v1h-1zM303.3 608.1h1v1h-1zM246.4 651.7h1v1h-1zM239.5 647.7h1v1h-1zM297.7 604.8h1v1h-1zM250.2 648.2h1v1h-1zM249.5 645.1h1v1h-1zM243.1 651.3h1v1h-1zM241.3 654.2h1v1h-1zM299.4 601.7h1v1h-1zM299.9 601.1h1v1h-1zM296.0 612.7h1v1h-1zM244.9 650.0h1v1h-1zM300.9 601.7h1v1h-1zM311.2 603.7h1v1h-1zM297.0 610.2h1v1h-1zM242.9 655.3h1v1h-1zM241.3 659.2h1v1h-1zM297.8 599.4h1v1h-1zM245.7 649.6h1v1h-1zM308.0 604.1h1v1h-1zM297.4 603.7h1v1h-1zM242.7 650.0h1v1h-1zM242.1 646.4h1v1h-1zM245.5 649.8h1v1h-1zM302.7 606.4h1v1h-1zM252.9 652.8h1v1h-1zM300.9 615.9h1v1h-1zM243.0 650.5h1v1h-1zM300.6 612.4h1v1h-1zM305.4 604.9h1v1h-1zM242.4 640.8h1v1h-1zM248.3 648.4h1v1h-1zM248.9 657.3h1v1h-1zM246.4 655.3h1v1h-1zM245.2 645.5h1v1h-1zM243.4 659.1h1v1h-1zM245.9 646.4h1v1h-1zM294.4 609.8h1v1h-1zM293.5 610.0h1v1h-1zM248.9 657.5h1v1h-1zM288.8 611.1h1v1h-1zM304.0 605.7h1v1h-1zM251.7 647.5h1v1h-1zM308.4 603.8h1v1h-1zM298.4 601.2h1v1h-1zM293.4 611.6h1v1h-1zM291.5 605.0h1v1h-1zM243.5 648.8h1v1h-1zM241.8 662.2h1v1h-1zM292.5 611.7h1v1h-1zM243.1 646.1h1v1h-1zM292.8 610.9h1v1h-1zM297.2 605.4h1v1h-1zM245.8 648.0h1v1h-1zM244.7 640.8h1v1h-1zM295.9 603.5h1v1h-1zM236.7 637.8h1v1h-1zM238.4 644.3h1v1h-1zM241.7 662.6h1v1h-1zM298.0 609.4h1v1h-1zM245.2 654.1h1v1h-1zM245.1 648.1h1v1h-1zM299.2 612.9h1v1h-1zM250.6 647.0h1v1h-1zM305.7 604.2h1v1h-1zM242.1 650.6h1v1h-1zM292.2 608.2h1v1h-1zM244.6 664.0h1v1h-1zM247.4 648.6h1v1h-1zM300.7 605.2h1v1h-1zM249.8 639.8h1v1h-1zM247.0 640.5h1v1h-1zM246.4 655.1h1v1h-1zM245.0 654.5h1v1h-1zM244.5 646.8h1v1h-1zM242.5 650.5h1v1h-1zM301.5 601.3h1v1h-1zM295.6 608.0h1v1h-1zM292.3 604.7h1v1h-1zM298.1 605.2h1v1h-1zM299.4 614.3h1v1h-1zM299.9 614.0h1v1h-1zM240.9 645.6h1v1h-1zM240.6 649.9h1v1h-1zM245.8 652.1h1v1h-1zM298.8 608.0h1v1h-1zM243.7 645.6h1v1h-1z" fill="#000" opacity="0.5"/>
<path d="M249.1 648.4h1v1h-1zM304.7 602.8h1v1h-1zM301.3 603.8h1v1h-1zM242.4 651.4h1v1h-1zM294.1 607.9h1v1h-1zM289.2 613.0h1v1h-1zM291.8 609.2h1v1h-1zM249.1 658.1h1v1h-1zM302.9 597.6h1v1h-1zM241.9 645.0h1v1h-1zM237.9 650.7h1v1h-1zM248.0 647.4h1v1h-1zM241.7 653.0h1v1h-1zM245.7 644.5h1v1h-1zM299.8 611.0h1v1h-1zM299.5 609.1h1v1h-1zM296.1 613.3h1v1h-1zM241.1 651.2h1v1h-1zM295.9 606.9h1v1h-1zM247.3 657.6h1v1h-1zM249.6 660.0h1v1h-1zM237.8 658.1h1v1h-1zM300.0 604.8h1v1h-1zM296.1 613.3h1v1h-1zM302.2 611.6h1v1h-1zM298.9 611.1h1v1h-1zM242.3 640.0h1v1h-1zM236.3 650.3h1v1h-1zM243.9 640.6h1v1h-1zM245.5 651.7h1v1h-1zM242.6 649.1h1v1h-1zM293.1 606.1h1v1h-1zM245.9 649.8h1v1h-1zM287.0 615.2h1v1h-1zM240.1 644.0h1v1h-1zM297.9 611.1h1v1h-1zM239.6 648.9h1v1h-1zM244.3 635.7h1v1h-1zM301.3 602.7h1v1h-1zM236.2 658.6h1v1h-1zM244.8 655.6h1v1h-1zM299.9 605.8h1v1h-1zM299.3 609.5h1v1h-1zM295.7 613.8h1v1h-1zM236.0 650.3h1v1h-1zM243.5 643.7h1v1h-1zM247.4 650.9h1v1h-1zM238.7 656.1h1v1h-1zM241.6 649.9h1v1h-1zM305.8 608.3h1v1h-1zM241.6 650.0h1v1h-1zM239.6 656.5h1v1h-1zM299.1 610.0h1v1h-1zM253.5 644.1h1v1h-1zM304.4 605.1h1v1h-1zM241.1 647.0h1v1h-1zM241.2 643.4h1v1h-1zM248.5 649.1h1v1h-1zM248.8 644.0h1v1h-1zM297.1 613.6h1v1h-1zM237.1 647.4h1v1h-1zM291.3 611.2h1v1h-1zM301.3 612.1h1v1h-1zM238.8 651.4h1v1h-1zM299.2 614.1h1v1h-1zM242.8 640.2h1v1h-1zM299.9 607.8h1v1h-1zM299.7 597.5h1v1h-1zM312.5 600.8h1v1h-1zM305.7 604.0h1v1h-1zM296.4 608.8h1v1h-1zM245.7 658.6h1v1h-1zM301.8 614.5h1v1h-1zM250.9 661.4h1v1h-1zM243.1 657.8h1v1h-1zM304.1 604.0h1v1h-1zM240.6 655.0h1v1h-1zM238.3 654.4h1v1h-1zM242.1 649.2h1v1h-1zM241.4 648.3h1v1h-1zM303.9 601.6h1v1h-1zM298.1 612.3h1v1h-1zM301.1 606.2h1v1h-1zM240.1 644.0h1v1h-1zM247.0 640.6h1v1h-1zM306.3 605.5h1v1h-1zM248.6 647.6h1v1h-1zM291.3 611.8h1v1h-1zM242.5 644.4h1v1h-1zM244.3 653.2h1v1h-1zM306.4 603.1h1v1h-1zM244.7 652.9h1v1h-1zM304.0 608.0h1v1h-1zM248.8 641.6h1v1h-1zM247.9 660.1h1v1h-1zM238.7 659.0h1v1h-1zM245.3 660.5h1v1h-1zM311.6 602.9h1v1h-1zM295.5 603.6h1v1h-1zM289.4 609.1h1v1h-1zM298.3 597.7h1v1h-1zM307.0 610.8h1v1h-1zM246.3 649.7h1v1h-1zM242.2 643.8h1v1h-1zM240.4 645.8h1v1h-1zM243.5 649.8h1v1h-1zM242.6 660.5h1v1h-1zM245.0 651.5h1v1h-1zM247.1 640.3h1v1h-1zM298.0 604.7h1v1h-1zM246.3 651.7h1v1h-1zM256.6 640.9h1v1h-1zM250.3 645.4h1v1h-1zM304.9 607.3h1v1h-1zM291.8 611.5h1v1h-1zM238.9 642.5h1v1h-1zM246.8 663.8h1v1h-1zM298.6 606.3h1v1h-1zM246.9 643.8h1v1h-1zM241.0 645.1h1v1h-1zM239.9 655.4h1v1h-1zM292.3 608.4h1v1h-1zM241.9 649.6h1v1h-1zM295.8 607.1h1v1h-1zM298.9 604.5h1v1h-1zM243.9 654.7h1v1h-1zM291.0 602.3h1v1h-1zM244.2 642.9h1v1h-1zM301.3 604.3h1v1h-1zM250.7 646.0h1v1h-1zM248.0 646.0h1v1h-1zM296.0 609.1h1v1h-1zM249.8 657.8h1v1h-1zM243.4 650.8h1v1h-1zM238.6 655.9h1v1h-1zM248.3 649.0h1v1h-1zM241.5 649.2h1v1h-1zM246.0 649.5h1v1h-1zM297.0 608.8h1v1h-1zM238.5 649.7h1v1h-1zM246.1 645.3h1v1h-1zM238.6 644.9h1v1h-1zM304.5 602.9h1v1h-1zM247.8 652.0h1v1h-1zM294.4 607.1h1v1h-1zM301.5 605.9h1v1h-1zM250.2 637.8h1v1h-1zM252.8 653.1h1v1h-1zM242.5 638.4h1v1h-1zM244.1 642.9h1v1h-1zM290.8 608.4h1v1h-1zM300.8 609.6h1v1h-1zM238.6 648.3h1v1h-1zM299.4 605.3h1v1h-1zM245.5 643.3h1v1h-1zM246.9 647.1h1v1h-1zM244.5 658.3h1v1h-1zM284.6 614.9h1v1h-1zM243.5 644.6h1v1h-1zM253.8 652.7h1v1h-1zM306.9 602.5h1v1h-1zM243.2 648.5h1v1h-1zM243.4 647.7h1v1h-1zM240.8 648.2h1v1h-1zM299.6 612.0h1v1h-1zM245.1 648.1h1v1h-1zM308.9 604.4h1v1h-1zM306.2 605.4h1v1h-1zM303.8 605.5h1v1h-1zM249.9 629.7h1v1h-1zM295.7 610.5h1v1h-1zM305.3 600.9h1v1h-1zM295.2 605.9h1v1h-1zM303.5 603.1h1v1h-1zM253.3 653.2h1v1h-1zM248.5 646.2h1v1h-1zM245.8 652.2h1v1h-1zM240.4 651.2h1v1h-1zM308.4 603.3h1v1h-1zM245.7 653.5h1v1h-1zM242.7 649.6h1v1h-1zM301.2 606.8h1v1h-1zM301.3 606.5h1v1h-1zM235.9 648.5h1v1h-1zM243.0 645.5h1v1h-1zM243.0 656.6h1v1h-1zM246.0 641.8h1v1h-1zM242.4 643.0h1v1h-1zM242.0 652.7h1v1h-1zM299.1 607.7h1v1h-1zM297.8 611.0h1v1h-1zM298.8 602.4h1v1h-1zM247.6 652.7h1v1h-1zM243.6 650.7h1v1h-1zM298.3 601.2h1v1h-1zM294.2 611.9h1v1h-1zM248.0 636.4h1v1h-1zM238.4 647.7h1v1h-1zM295.4 603.7h1v1h-1zM243.7 664.6h1v1h-1zM247.9 650.0h1v1h-1zM244.7 648.0h1v1h-1zM245.1 654.9h1v1h-1zM298.2 607.8h1v1h-1zM244.5 655.6h1v1h-1zM291.9 617.2h1v1h-1zM298.2 609.1h1v1h-1zM237.5 637.6h1v1h-1zM301.6 603.1h1v1h-1zM303.3 602.0h1v1h-1zM240.2 650.0h1v1h-1zM254.0 651.0h1v1h-1zM298.8 610.4h1v1h-1zM241.2 654.1h1v1h-1zM246.0 641.3h1v1h-1zM296.6 608.5h1v1h-1zM237.9 659.7h1v1h-1zM296.8 610.2h1v1h-1zM298.5 610.2h1v1h-1zM238.0 635.2h1v1h-1zM251.6 637.9h1v1h-1zM305.1 603.8h1v1h-1zM307.3 607.3h1v1h-1zM243.5 648.8h1v1h-1zM244.1 662.0h1v1h-1zM292.1 610.1h1v1h-1zM245.3 642.5h1v1h-1zM295.6 605.9h1v1h-1zM245.4 650.9h1v1h-1zM244.9 646.7h1v1h-1zM299.2 612.0h1v1h-1zM302.0 603.4h1v1h-1zM243.4 642.5h1v1h-1zM247.1 652.2h1v1h-1zM308.1 607.2h1v1h-1zM301.2 612.6h1v1h-1zM302.2 604.9h1v1h-1zM251.0 647.2h1v1h-1zM242.1 644.9h1v1h-1zM239.3 653.9h1v1h-1zM249.5 649.5h1v1h-1zM240.3 642.6h1v1h-1zM242.4 646.8h1v1h-1zM251.2 649.4h1v1h-1zM238.2 645.7h1v1h-1zM241.0 649.6h1v1h-1zM244.4 651.9h1v1h-1zM298.4 605.9h1v1h-1zM245.2 648.6h1v1h-1zM244.0 659.5h1v1h-1zM244.3 654.8h1v1h-1zM247.8 645.3h1v1h-1zM287.7 611.2h1v1h-1zM251.5 651.8h1v1h-1zM293.4 609.8h1v1h-1zM300.7 607.5h1v1h-1zM297.5 610.0h1v1h-1zM238.5 644.1h1v1h-1zM302.5 608.6h1v1h-1zM288.4 615.0h1v1h-1zM294.8 613.6h1v1h-1zM288.9 606.8h1v1h-1zM237.3 646.1h1v1h-1zM250.4 649.6h1v1h-1zM298.7 609.1h1v1h-1zM241.0 652.2h1v1h-1zM292.9 610.0h1v1h-1zM296.8 606.0h1v1h-1zM243.2 645.3h1v1h-1zM240.0 650.8h1v1h-1zM248.9 642.5h1v1h-1zM301.0 608.3h1v1h-1zM298.7 609.6h1v1h-1zM292.8 614.5h1v1h-1zM303.6 601.1h1v1h-1zM245.2 649.9h1v1h-1zM307.9 606.8h1v1h-1zM247.5 643.3h1v1h-1zM242.7 633.2h1v1h-1zM304.1 614.3h1v1h-1zM244.4 652.0h1v1h-1zM293.0 611.8h1v1h-1zM298.0 611.2h1v1h-1zM245.9 641.6h1v1h-1zM244.8 658.1h1v1h-1zM307.1 603.1h1v1h-1zM290.6 612.0h1v1h-1zM297.4 607.7h1v1h-1zM293.1 608.9h1v1h-1zM244.7 643.5h1v1h-1zM250.7 649.5h1v1h-1zM300.6 602.7h1v1h-1zM302.1 604.4h1v1h-1zM303.3 608.9h1v1h-1zM245.7 659.7h1v1h-1zM301.1 603.4h1v1h-1zM300.2 599.1h1v1h-1zM240.8 650.8h1v1h-1zM242.5 648.8h1v1h-1zM247.4 646.3h1v1h-1zM242.8 655.9h1v1h-1zM242.2 635.1h1v1h-1zM242.5 647.1h1v1h-1zM296.8 609.6h1v1h-1zM244.6 640.9h1v1h-1zM244.7 657.1h1v1h-1zM289.2 616.3h1v1h-1zM251.3 653.5h1v1h-1zM302.3 611.3h1v1h-1zM300.5 611.5h1v1h-1zM244.9 644.1h1v1h-1zM250.1 647.1h1v1h-1zM248.5 660.4h1v1h-1zM254.1 650.2h1v1h-1zM240.5 635.2h1v1h-1zM306.8 602.5h1v1h-1zM301.5 609.3h1v1h-1zM241.1 641.5h1v1h-1zM296.6 612.0h1v1h-1zM293.4 607.0h1v1h-1zM305.2 605.3h1v1h-1zM244.9 649.3h1v1h-1zM297.0 606.1h1v1h-1zM245.5 639.5h1v1h-1zM307.4 607.5h1v1h-1zM296.4 609.5h1v1h-1zM246.1 646.3h1v1h-1zM297.8 616.6h1v1h-1zM236.5 646.0h1v1h-1zM247.2 651.8h1v1h-1zM243.0 644.7h1v1h-1zM245.4 642.2h1v1h-1zM244.4 648.4h1v1h-1zM299.2 610.4h1v1h-1zM297.9 606.9h1v1h-1zM297.1 605.2h1v1h-1z" fill="#000" opacity="0.5"/>
<path d="M246.9 651.8h1v1h-1zM248.2 654.8h1v1h-1zM304.5 607.9h1v1h-1zM241.2 646.2h1v1h-1zM300.4 606.9h1v1h-1zM239.6 649.2h1v1h-1zM253.9 649.6h1v1h-1zM291.7 606.6h1v1h-1zM247.2 640.3h1v1h-1zM253.2 647.5h1v1h-1zM295.7 608.0h1v1h-1zM290.9 612.8h1v1h-1zM243.9 655.5h1v1h-1zM249.4 645.3h1v1h-1zM244.3 648.5h1v1h-1zM300.4 602.3h1v1h-1zM299.8 608.9h1v1h-1zM297.9 607.7h1v1h-1zM295.0 607.9h1v1h-1zM241.8 640.6h1v1h-1zM249.4 657.9h1v1h-1zM256.0 650.2h1v1h-1zM294.8 608.0h1v1h-1zM244.2 649.8h1v1h-1zM300.5 602.0h1v1h-1zM250.7 657.6h1v1h-1zM303.3 608.8h1v1h-1zM247.2 645.1h1v1h-1zM289.7 611.4h1v1h-1zM244.4 647.9h1v1h-1zM247.3 657.6h1v1h-1zM241.2 646.6h1v1h-1zM289.9 616.2h1v1h-1zM242.3 649.2h1v1h-1zM298.6 606.0h1v1h-1zM251.1 658.7h1v1h-1zM289.9 610.3h1v1h-1zM297.1 609.9h1v1h-1zM240.7 651.8h1v1h-1zM241.9 643.7h1v1h-1zM246.2 644.2h1v1h-1zM302.1 608.7h1v1h-1zM296.0 612.8h1v1h-1zM294.8 609.2h1v1h-1zM243.6 639.9h1v1h-1zM299.3 604.7h1v1h-1zM242.5 647.3h1v1h-1zM239.7 660.8h1v1h-1zM244.3 655.5h1v1h-1zM243.8 649.2h1v1h-1zM242.8 643.4h1v1h-1zM299.7 602.4h1v1h-1zM241.5 655.4h1v1h-1zM247.8 648.7h1v1h-1zM245.8 639.6h1v1h-1zM243.5 650.8h1v1h-1zM299.6 614.1h1v1h-1zM242.8 658.2h1v1h-1zM243.9 653.7h1v1h-1zM248.0 651.4h1v1h-1zM242.8 646.7h1v1h-1zM241.2 654.2h1v1h-1zM241.4 641.2h1v1h-1zM238.0 641.1h1v1h-1zM240.5 635.0h1v1h-1zM247.2 640.9h1v1h-1zM255.8 650.7h1v1h-1zM298.3 602.9h1v1h-1zM251.5 660.4h1v1h-1zM301.3 603.5h1v1h-1zM293.1 612.6h1v1h-1zM298.1 600.1h1v1h-1zM244.9 639.4h1v1h-1zM304.1 604.2h1v1h-1zM295.5 608.3h1v1h-1zM304.9 607.2h1v1h-1zM245.8 647.3h1v1h-1zM297.0 610.9h1v1h-1zM300.6 604.8h1v1h-1zM243.2 659.2h1v1h-1zM245.2 640.0h1v1h-1zM296.7 608.2h1v1h-1zM297.9 607.2h1v1h-1zM250.4 648.5h1v1h-1zM245.2 654.1h1v1h-1zM292.9 607.7h1v1h-1zM244.6 662.5h1v1h-1zM243.6 648.1h1v1h-1zM295.1 604.8h1v1h-1zM244.2 641.5h1v1h-1zM240.8 653.0h1v1h-1zM311.1 603.4h1v1h-1zM297.9 603.2h1v1h-1zM246.5 656.8h1v1h-1zM303.1 599.9h1v1h-1zM249.5 648.8h1v1h-1zM304.4 604.3h1v1h-1zM297.9 605.2h1v1h-1zM245.7 662.8h1v1h-1zM240.1 651.4h1v1h-1zM304.8 608.0h1v1h-1zM312.6 604.8h1v1h-1zM300.4 603.9h1v1h-1zM244.4 645.7h1v1h-1zM250.2 641.6h1v1h-1zM302.7 605.7h1v1h-1zM235.8 655.9h1v1h-1zM247.2 638.9h1v1h-1zM304.8 610.0h1v1h-1zM298.5 609.4h1v1h-1zM249.7 632.0h1v1h-1zM243.1 648.5h1v1h-1zM296.0 612.5h1v1h-1zM241.5 657.9h1v1h-1zM256.0 638.2h1v1h-1zM303.0 602.3h1v1h-1zM250.2 658.2h1v1h-1zM293.4 603.3h1v1h-1zM243.9 653.3h1v1h-1zM290.0 614.5h1v1h-1zM242.4 641.3h1v1h-1zM242.2 650.5h1v1h-1zM248.0 633.6h1v1h-1zM308.7 601.9h1v1h-1zM247.7 660.1h1v1h-1zM297.6 605.7h1v1h-1zM303.1 607.3h1v1h-1zM298.2 603.9h1v1h-1zM249.5 653.3h1v1h-1zM308.6 603.9h1v1h-1zM289.3 616.1h1v1h-1zM296.4 604.7h1v1h-1zM308.3 604.5h1v1h-1zM293.1 608.8h1v1h-1zM300.8 611.2h1v1h-1zM251.4 642.1h1v1h-1zM255.3 644.4h1v1h-1zM244.1 648.6h1v1h-1zM248.9 640.7h1v1h-1zM240.8 650.4h1v1h-1zM245.1 649.2h1v1h-1zM243.7 643.3h1v1h-1zM245.2 642.5h1v1h-1zM296.9 608.7h1v1h-1zM240.6 649.2h1v1h-1zM305.0 604.5h1v1h-1zM244.9 649.6h1v1h-1zM247.6 650.5h1v1h-1zM242.7 644.7h1v1h-1zM244.9 651.9h1v1h-1zM250.5 644.4h1v1h-1zM244.1 660.2h1v1h-1zM241.0 641.8h1v1h-1zM301.4 608.9h1v1h-1zM244.4 643.7h1v1h-1zM240.7 651.6h1v1h-1zM298.1 609.0h1v1h-1zM249.7 647.8h1v1h-1zM243.6 659.6h1v1h-1zM238.5 650.3h1v1h-1zM296.8 608.3h1v1h-1zM297.5 609.9h1v1h-1zM239.7 655.9h1v1h-1zM247.0 654.2h1v1h-1zM237.0 643.8h1v1h-1zM246.4 644.4h1v1h-1zM299.9 613.3h1v1h-1zM238.1 644.3h1v1h-1zM240.4 651.6h1v1h-1zM244.2 650.7h1v1h-1zM245.5 657.5h1v1h-1zM299.8 612.0h1v1h-1zM299.4 605.3h1v1h-1zM251.0 643.3h1v1h-1zM244.7 644.2h1v1h-1zM304.3 606.0h1v1h-1zM307.5 599.6h1v1h-1zM301.2 607.0h1v1h-1zM250.0 650.9h1v1h-1zM244.4 654.7h1v1h-1zM248.4 646.0h1v1h-1zM302.1 610.0h1v1h-1zM297.0 608.6h1v1h-1zM247.1 641.6h1v1h-1zM293.9 599.1h1v1h-1zM292.7 610.5h1v1h-1zM304.9 605.8h1v1h-1zM245.9 656.2h1v1h-1zM243.3 648.0h1v1h-1zM245.4 647.6h1v1h-1zM244.3 652.6h1v1h-1zM245.1 646.0h1v1h-1zM245.0 641.0h1v1h-1zM242.2 645.8h1v1h-1zM299.3 604.1h1v1h-1zM301.2 606.0h1v1h-1zM247.1 642.9h1v1h-1zM249.0 636.0h1v1h-1zM244.0 642.9h1v1h-1zM301.2 604.5h1v1h-1zM239.3 645.8h1v1h-1zM249.6 647.3h1v1h-1zM246.2 653.3h1v1h-1zM248.4 660.3h1v1h-1zM241.9 654.8h1v1h-1zM293.0 613.6h1v1h-1zM299.5 607.0h1v1h-1zM241.3 640.6h1v1h-1zM249.3 653.0h1v1h-1zM243.9 655.9h1v1h-1zM240.4 644.9h1v1h-1zM293.9 610.5h1v1h-1zM301.8 601.5h1v1h-1zM303.8 604.9h1v1h-1zM300.9 606.9h1v1h-1zM304.6 604.2h1v1h-1zM294.5 613.2h1v1h-1zM244.5 651.4h1v1h-1zM246.4 648.9h1v1h-1zM297.3 608.2h1v1h-1zM301.7 609.5h1v1h-1zM300.3 609.0h1v1h-1zM302.7 607.7h1v1h-1zM237.9 655.1h1v1h-1zM308.5 601.8h1v1h-1zM244.6 653.0h1v1h-1zM249.7 647.6h1v1h-1zM305.5 604.8h1v1h-1zM298.4 605.7h1v1h-1zM308.0 603.6h1v1h-1zM299.2 604.8h1v1h-1zM297.7 608.8h1v1h-1zM297.1 611.0h1v1h-1zM240.4 643.2h1v1h-1zM253.5 653.5h1v1h-1zM296.9 612.3h1v1h-1zM244.5 654.3h1v1h-1zM288.7 610.9h1v1h-1zM239.8 645.0h1v1h-1zM239.1 656.4h1v1h-1zM251.1 654.0h1v1h-1zM248.8 641.7h1v1h-1zM250.0 649.9h1v1h-1zM296.2 609.8h1v1h-1zM240.9 651.5h1v1h-1zM243.6 653.9h1v1h-1zM288.9 607.4h1v1h-1zM245.4 645.9h1v1h-1zM246.9 664.5h1v1h-1zM244.3 660.9h1v1h-1zM244.1 643.8h1v1h-1zM239.3 650.4h1v1h-1zM251.1 641.1h1v1h-1zM296.7 609.3h1v1h-1zM238.4 651.5h1v1h-1zM298.3 609.0h1v1h-1zM243.5 645.8h1v1h-1zM251.7 649.9h1v1h-1zM295.8 608.6h1v1h-1zM249.1 647.9h1v1h-1zM247.2 653.0h1v1h-1zM242.5 652.5h1v1h-1zM294.8 606.2h1v1h-1zM245.2 651.4h1v1h-1zM292.6 605.0h1v1h-1zM242.9 648.8h1v1h-1zM307.7 605.3h1v1h-1zM243.6 649.4h1v1h-1zM291.5 617.2h1v1h-1zM294.9 606.6h1v1h-1zM304.0 600.7h1v1h-1zM245.9 647.3h1v1h-1zM247.7 653.2h1v1h-1zM243.2 651.1h1v1h-1zM301.8 610.5h1v1h-1zM295.8 613.5h1v1h-1zM249.5 648.0h1v1h-1zM244.8 638.0h1v1h-1zM247.4 651.3h1v1h-1zM244.7 647.5h1v1h-1zM295.7 616.0h1v1h-1zM291.7 611.9h1v1h-1zM245.8 656.1h1v1h-1zM242.1 659.9h1v1h-1zM249.5 660.2h1v1h-1zM295.7 609.5h1v1h-1zM241.4 641.2h1v1h-1zM242.8 656.5h1v1h-1zM237.8 655.0h1v1h-1zM307.2 602.7h1v1h-1zM247.6 646.3h1v1h-1zM246.4 653.8h1v1h-1zM297.6 608.5h1v1h-1zM242.7 650.7h1v1h-1zM238.2 644.0h1v1h-1zM305.7 607.0h1v1h-1zM299.1 603.3h1v1h-1zM297.8 604.7h1v1h-1zM240.2 641.5h1v1h-1zM248.7 640.9h1v1h-1zM243.4 642.0h1v1h-1zM245.6 656.3h1v1h-1zM294.1 613.2h1v1h-1zM242.7 639.7h1v1h-1zM296.8 614.9h1v1h-1zM242.4 650.9h1v1h-1zM298.1 608.8h1v1h-1zM302.5 603.8h1v1h-1zM301.7 610.2h1v1h-1zM290.8 607.1h1v1h-1zM246.5 643.1h1v1h-1zM253.0 638.9h1v1h-1zM296.5 605.1h1v1h-1zM254.4 636.4h1v1h-1zM301.7 605.5h1v1h-1zM242.9 656.1h1v1h-1zM301.0 610.6h1v1h-1zM290.9 615.1h1v1h-1zM245.7 649.5h1v1h-1zM298.5 609.3h1v1h-1zM242.9 639.7h1v1h-1zM293.7 608.5h1v1h-1zM301.4 604.7h1v1h-1zM245.7 648.2h1v1h-1zM240.6 644.5h1v1h-1zM310.4 603.4h1v1h-1zM242.4 659.9h1v1h-1zM250.8 658.3h1v1h-1zM242.6 646.5h1v1h-1zM246.4 640.8h1v1h-1zM294.5 607.9h1v1h-1zM300.6 603.9h1v1h-1zM242.4 646.8h1v1h-1zM248.4 656.4h1v1h-1zM298.1 608.7h1v1h-1zM245.8 651.0h1v1h-1z" fill="#000" opacity="0.5"/>
<path d="M305.3 606.0h1v1h-1zM301.7 607.5h1v1h-1zM247.9 646.6h1v1h-1zM295.9 609.1h1v1h-1zM243.2 644.2h1v1h-1zM294.6 607.5h1v1h-1zM301.4 610.7h1v1h-1zM248.6 645.0h1v1h-1zM241.6 645.1h1v1h-1zM289.9 616.7h1v1h-1zM298.4 611.4h1v1h-1zM296.4 609.4h1v1h-1zM299.0 609.7h1v1h-1zM303.3 604.4h1v1h-1zM242.5 647.2h1v1h-1zM242.8 646.3h1v1h-1zM247.4 635.3h1v1h-1zM244.7 646.4h1v1h-1zM293.0 609.3h1v1h-1zM245.4 640.9h1v1h-1zM294.1 604.5h1v1h-1zM252.0 642.8h1v1h-1zM296.6 609.8h1v1h-1zM242.9 656.4h1v1h-1zM250.0 649.0h1v1h-1zM299.7 607.6h1v1h-1zM292.6 611.3h1v1h-1zM242.2 645.4h1v1h-1zM244.2 651.1h1v1h-1zM245.1 653.9h1v1h-1zM246.9 649.4h1v1h-1zM241.1 650.8h1v1h-1zM298.5 605.4h1v1h-1zM311.3 607.8h1v1h-1zM237.3 648.2h1v1h-1zM299.9 607.6h1v1h-1zM295.3 606.3h1v1h-1zM296.9 607.3h1v1h-1zM247.7 657.9h1v1h-1zM300.4 608.3h1v1h-1zM248.0 656.3h1v1h-1zM301.1 598.3h1v1h-1zM250.7 635.8h1v1h-1zM299.6 602.1h1v1h-1zM299.2 602.9h1v1h-1zM247.4 650.2h1v1h-1zM249.4 655.6h1v1h-1zM249.1 638.0h1v1h-1zM248.4 650.1h1v1h-1zM287.9 611.7h1v1h-1zM293.6 617.6h1v1h-1zM299.0 603.7h1v1h-1zM243.8 645.3h1v1h-1zM301.5 605.0h1v1h-1zM242.0 659.7h1v1h-1zM297.6 613.2h1v1h-1zM297.1 602.1h1v1h-1zM304.5 601.9h1v1h-1zM296.6 609.1h1v1h-1zM245.2 644.0h1v1h-1zM251.0 640.4h1v1h-1zM244.1 653.1h1v1h-1zM240.3 658.3h1v1h-1zM305.6 605.4h1v1h-1zM298.1 609.8h1v1h-1zM246.4 653.3h1v1h-1zM238.9 644.0h1v1h-1zM244.2 637.2h1v1h-1zM302.0 603.2h1v1h-1zM246.9 642.8h1v1h-1zM246.3 648.5h1v1h-1zM244.0 653.6h1v1h-1zM295.5 613.2h1v1h-1zM291.8 614.1h1v1h-1zM292.4 612.1h1v1h-1zM244.0 650.9h1v1h-1zM247.1 655.4h1v1h-1zM299.3 611.9h1v1h-1zM245.4 637.4h1v1h-1zM242.7 643.9h1v1h-1zM300.3 606.5h1v1h-1zM242.1 649.7h1v1h-1zM296.7 610.5h1v1h-1zM310.8 596.9h1v1h-1zM302.8 609.4h1v1h-1zM246.0 638.4h1v1h-1zM245.6 647.2h1v1h-1zM242.6 657.0h1v1h-1zM244.0 657.2h1v1h-1zM245.7 655.0h1v1h-1zM303.7 601.8h1v1h-1zM249.5 649.4h1v1h-1zM239.5 649.3h1v1h-1zM245.0 643.7h1v1h-1zM246.7 650.2h1v1h-1zM308.5 604.8h1v1h-1zM305.0 608.0h1v1h-1zM244.8 653.8h1v1h-1zM303.2 607.4h1v1h-1zM299.6 608.4h1v1h-1zM298.0 609.3h1v1h-1zM291.9 607.7h1v1h-1zM246.9 640.0h1v1h-1zM242.5 648.8h1v1h-1zM244.5 646.4h1v1h-1zM301.7 600.0h1v1h-1zM243.7 645.4h1v1h-1zM300.4 610.8h1v1h-1zM243.6 644.6h1v1h-1zM237.8 651.1h1v1h-1zM249.9 649.6h1v1h-1zM240.7 649.5h1v1h-1zM243.8 640.2h1v1h-1zM247.8 660.4h1v1h-1zM296.3 609.1h1v1h-1zM302.7 598.4h1v1h-1zM292.7 606.9h1v1h-1zM254.1 657.7h1v1h-1zM243.3 654.2h1v1h-1zM299.0 600.1h1v1h-1zM248.0 644.8h1v1h-1zM251.8 653.7h1v1h-1zM243.1 653.1h1v1h-1zM302.8 607.4h1v1h-1zM297.5 605.4h1v1h-1zM238.8 637.0h1v1h-1zM291.1 605.9h1v1h-1zM302.4 606.7h1v1h-1zM295.2 609.5h1v1h-1zM244.0 652.2h1v1h-1zM244.5 648.8h1v1h-1zM244.0 659.2h1v1h-1zM243.0 648.1h1v1h-1zM309.5 602.8h1v1h-1zM249.7 638.5h1v1h-1zM297.6 608.3h1v1h-1zM297.2 605.4h1v1h-1zM236.6 651.9h1v1h-1zM242.9 650.9h1v1h-1zM244.6 646.7h1v1h-1zM245.9 651.5h1v1h-1zM300.2 612.2h1v1h-1zM249.4 652.5h1v1h-1zM252.0 647.5h1v1h-1zM294.0 605.5h1v1h-1zM299.5 612.6h1v1h-1zM241.7 646.0h1v1h-1zM242.0 651.1h1v1h-1zM253.3 644.6h1v1h-1zM304.2 608.2h1v1h-1zM299.3 611.9h1v1h-1zM284.3 611.5h1v1h-1zM298.3 612.6h1v1h-1zM250.6 651.4h1v1h-1zM250.8 652.7h1v1h-1zM295.6 607.8h1v1h-1zM303.1 605.5h1v1h-1zM283.8 615.5h1v1h-1zM246.4 643.0h1v1h-1zM298.5 613.0h1v1h-1zM297.9 606.3h1v1h-1zM297.1 606.2h1v1h-1zM244.5 654.4h1v1h-1zM294.3 613.9h1v1h-1zM298.5 609.7h1v1h-1zM303.9 604.1h1v1h-1zM250.3 652.5h1v1h-1zM241.6 649.4h1v1h-1zM241.9 645.9h1v1h-1zM245.2 654.8h1v1h-1zM244.6 642.8h1v1h-1zM303.3 606.3h1v1h-1zM304.0 604.0h1v1h-1zM241.4 643.9h1v1h-1zM244.9 651.4h1v1h-1zM250.6 653.6h1v1h-1zM301.3 601.6h1v1h-1zM240.0 656.8h1v1h-1zM295.9 610.3h1v1h-1zM235.6 645.6h1v1h-1zM290.7 612.8h1v1h-1zM299.4 609.3h1v1h-1zM294.9 605.7h1v1h-1zM236.9 637.3h1v1h-1zM298.8 605.6h1v1h-1zM240.8 646.9h1v1h-1zM243.0 644.4h1v1h-1zM293.6 606.9h1v1h-1zM243.2 644.0h1v1h-1zM248.0 645.3h1v1h-1zM246.4 638.6h1v1h-1zM293.6 609.4h1v1h-1zM241.1 648.7h1v1h-1zM295.9 605.4h1v1h-1zM255.8 643.1h1v1h-1zM245.5 655.5h1v1h-1zM306.1 605.8h1v1h-1zM246.1 639.2h1v1h-1zM294.7 607.2h1v1h-1zM245.7 648.3h1v1h-1zM243.6 656.9h1v1h-1zM299.1 606.4h1v1h-1zM294.4 612.4h1v1h-1zM253.3 656.0h1v1h-1zM250.2 639.5h1v1h-1zM299.5 597.2h1v1h-1zM298.8 610.9h1v1h-1zM289.3 610.2h1v1h-1zM294.1 606.4h1v1h-1zM301.3 609.1h1v1h-1zM300.1 608.3h1v1h-1zM300.2 609.2h1v1h-1zM298.6 607.5h1v1h-1zM301.0 608.6h1v1h-1zM295.4 612.9h1v1h-1zM246.3 636.7h1v1h-1zM241.3 654.7h1v1h-1zM302.6 614.8h1v1h-1zM249.7 647.6h1v1h-1zM298.1 609.6h1v1h-1zM247.5 650.5h1v1h-1zM295.4 617.0h1v1h-1zM248.7 644.8h1v1h-1zM252.6 641.4h1v1h-1zM236.2 643.5h1v1h-1zM248.6 640.4h1v1h-1zM297.1 608.8h1v1h-1zM299.7 609.5h1v1h-1zM243.0 642.0h1v1h-1zM292.7 604.1h1v1h-1zM245.7 649.1h1v1h-1zM246.2 650.9h1v1h-1zM292.9 618.2h1v1h-1zM306.2 606.7h1v1h-1zM306.8 600.9h1v1h-1zM253.3 648.7h1v1h-1zM236.2 640.1h1v1h-1zM251.3 643.1h1v1h-1zM252.2 643.4h1v1h-1zM282.7 615.7h1v1h-1zM238.7 659.2h1v1h-1zM309.1 604.1h1v1h-1zM299.2 608.8h1v1h-1zM297.3 609.0h1v1h-1zM292.3 607.5h1v1h-1zM295.1 603.7h1v1h-1zM248.3 650.4h1v1h-1zM248.4 647.6h1v1h-1zM245.0 660.1h1v1h-1zM248.3 650.5h1v1h-1zM242.6 643.7h1v1h-1zM250.3 648.4h1v1h-1zM250.1 649.2h1v1h-1zM302.0 613.5h1v1h-1zM295.0 607.2h1v1h-1zM245.4 655.5h1v1h-1zM295.8 613.4h1v1h-1zM303.5 603.9h1v1h-1zM298.6 603.5h1v1h-1zM248.2 651.5h1v1h-1zM243.0 650.2h1v1h-1zM301.9 610.1h1v1h-1zM249.7 649.9h1v1h-1zM301.0 600.7h1v1h-1zM247.0 650.0h1v1h-1zM293.0 617.8h1v1h-1zM245.8 656.9h1v1h-1zM249.1 653.6h1v1h-1zM255.5 641.9h1v1h-1zM296.4 612.4h1v1h-1zM292.6 611.5h1v1h-1zM302.0 612.7h1v1h-1zM250.5 639.4h1v1h-1zM241.2 648.1h1v1h-1zM295.9 607.3h1v1h-1zM244.3 649.7h1v1h-1zM298.4 608.2h1v1h-1zM238.9 636.4h1v1h-1zM244.8 654.3h1v1h-1zM240.5 644.1h1v1h-1zM240.0 652.4h1v1h-1zM244.0 649.8h1v1h-1zM243.4 648.0h1v1h-1zM240.3 650.4h1v1h-1zM243.2 643.5h1v1h-1zM244.0 655.2h1v1h-1zM245.7 649.2h1v1h-1zM246.6 644.2h1v1h-1zM300.7 607.6h1v1h-1zM303.2 612.1h1v1h-1zM243.5 632.3h1v1h-1zM243.0 657.2h1v1h-1zM302.5 612.8h1v1h-1zM302.0 612.7h1v1h-1zM244.7 651.1h1v1h-1zM303.6 603.4h1v1h-1zM245.6 648.5h1v1h-1zM246.1 653.3h1v1h-1zM244.7 648.0h1v1h-1zM248.2 653.6h1v1h-1zM249.2 648.5h1v1h-1zM242.3 646.2h1v1h-1zM240.4 652.2h1v1h-1zM305.0 604.3h1v1h-1zM244.8 635.7h1v1h-1zM301.4 609.9h1v1h-1zM294.1 612.0h1v1h-1zM301.8 606.3h1v1h-1zM285.7 609.4h1v1h-1zM301.0 606.5h1v1h-1zM297.4 606.5h1v1h-1zM240.7 652.0h1v1h-1zM245.1 640.4h1v1h-1zM244.7 649.6h1v1h-1zM307.9 603.6h1v1h-1zM244.8 649.5h1v1h-1zM292.6 604.2h1v1h-1zM294.4 610.7h1v1h-1zM239.4 657.1h1v1h-1zM249.8 652.2h1v1h-1zM301.8 603.0h1v1h-1zM245.1 645.8h1v1h-1zM299.3 611.2h1v1h-1zM296.0 605.0h1v1h-1zM244.2 647.0h1v1h-1zM300.7 605.4h1v1h-1zM247.8 643.4h1v1h-1zM298.4 604.1h1v1h-1zM303.7 607.3h1v1h-1zM303.0 610.2h1v1h-1zM297.5 609.2h1v1h-1zM245.5 658.8h1v1h-1zM295.9 605.8h1v1h-1zM243.1 659.4h1v1h-1zM301.0 607.4h1v1h-1zM245.3 632.2h1v1h-1z" fill="#000" opacity="0.5"/>
<path d="M291.0 615.6h1v1h-1zM287.4 614.0h1v1h-1zM239.6 643.2h1v1h-1zM298.4 609.6h1v1h-1zM297.2 606.5h1v1h-1zM294.8 610.5h1v1h-1zM292.6 616.3h1v1h-1zM247.7 649.2h1v1h-1zM292.5 608.8h1v1h-1zM250.3 644.6h1v1h-1zM244.1 647.4h1v1h-1zM299.7 605.1h1v1h-1zM249.7 638.4h1v1h-1zM292.7 611.7h1v1h-1zM289.6 609.6h1v1h-1zM243.3 644.4h1v1h-1zM247.2 651.6h1v1h-1zM245.0 648.4h1v1h-1zM296.2 607.3h1v1h-1zM246.1 651.5h1v1h-1zM298.7 611.8h1v1h-1zM245.4 639.2h1v1h-1zM240.0 654.2h1v1h-1zM300.4 602.8h1v1h-1zM305.6 605.9h1v1h-1zM304.5 611.4h1v1h-1zM297.1 600.8h1v1h-1zM244.8 659.7h1v1h-1zM238.2 644.4h1v1h-1zM301.5 611.8h1v1h-1zM303.1 604.3h1v1h-1zM298.9 611.1h1v1h-1zM245.9 646.9h1v1h-1zM246.5 648.0h1v1h-1zM305.2 608.3h1v1h-1zM243.0 646.7h1v1h-1zM293.9 612.4h1v1h-1zM298.0 603.9h1v1h-1zM248.9 651.5h1v1h-1zM294.4 606.5h1v1h-1zM245.3 654.3h1v1h-1zM247.3 646.9h1v1h-1zM306.1 604.9h1v1h-1zM242.6 648.6h1v1h-1zM240.7 645.4h1v1h-1zM235.6 650.3h1v1h-1zM243.5 645.2h1v1h-1zM248.1 658.2h1v1h-1zM248.6 645.9h1v1h-1zM291.5 608.1h1v1h-1zM298.3 602.6h1v1h-1zM296.2 606.7h1v1h-1zM250.5 661.5h1v1h-1zM289.5 608.9h1v1h-1zM241.7 656.5h1v1h-1zM243.6 649.6h1v1h-1zM244.2 655.1h1v1h-1zM244.8 645.8h1v1h-1zM242.4 652.4h1v1h-1zM244.4 631.3h1v1h-1zM305.9 603.2h1v1h-1zM253.9 650.3h1v1h-1zM249.9 649.1h1v1h-1zM248.1 654.1h1v1h-1zM297.1 604.8h1v1h-1zM250.0 647.8h1v1h-1zM242.1 645.7h1v1h-1zM242.3 640.3h1v1h-1zM298.3 612.9h1v1h-1zM245.4 645.1h1v1h-1zM303.5 602.6h1v1h-1zM242.2 643.3h1v1h-1zM239.5 639.2h1v1h-1zM297.9 609.7h1v1h-1zM247.2 646.7h1v1h-1zM292.5 610.6h1v1h-1zM238.5 642.2h1v1h-1zM244.3 647.8h1v1h-1zM250.2 644.3h1v1h-1zM298.0 603.0h1v1h-1zM251.5 645.9h1v1h-1zM241.8 650.0h1v1h-1zM291.7 611.9h1v1h-1zM301.4 605.6h1v1h-1zM304.3 602.9h1v1h-1zM240.2 645.3h1v1h-1zM300.7 607.0h1v1h-1zM241.7 648.4h1v1h-1zM242.6 663.7h1v1h-1zM305.1 601.3h1v1h-1zM300.6 605.7h1v1h-1zM298.4 609.4h1v1h-1zM240.5 648.7h1v1h-1zM246.1 652.5h1v1h-1zM249.3 648.6h1v1h-1zM299.6 613.0h1v1h-1zM247.6 659.5h1v1h-1zM239.1 634.8h1v1h-1zM302.2 604.6h1v1h-1zM294.0 606.3h1v1h-1zM245.6 647.5h1v1h-1zM251.7 644.2h1v1h-1zM246.4 647.6h1v1h-1zM299.4 609.1h1v1h-1zM299.0 600.0h1v1h-1zM245.8 655.7h1v1h-1zM301.1 607.3h1v1h-1zM242.8 652.3h1v1h-1zM241.1 645.4h1v1h-1zM302.0 607.7h1v1h-1zM246.5 641.5h1v1h-1zM248.3 644.8h1v1h-1zM250.8 656.7h1v1h-1zM297.2 610.9h1v1h-1zM247.6 642.5h1v1h-1zM298.8 608.7h1v1h-1zM247.5 660.4h1v1h-1zM251.2 651.9h1v1h-1zM248.3 640.1h1v1h-1zM246.9 649.5h1v1h-1zM252.1 645.3h1v1h-1zM297.9 605.1h1v1h-1zM303.5 604.1h1v1h-1zM244.3 652.1h1v1h-1zM242.1 646.0h1v1h-1zM301.4 607.3h1v1h-1zM299.1 605.2h1v1h-1zM243.9 647.1h1v1h-1zM237.0 652.3h1v1h-1zM242.5 634.3h1v1h-1zM299.6 604.3h1v1h-1zM293.5 617.7h1v1h-1zM295.5 607.7h1v1h-1zM246.6 645.3h1v1h-1zM250.5 655.2h1v1h-1zM297.6 606.2h1v1h-1zM242.3 638.9h1v1h-1zM245.0 649.9h1v1h-1zM240.2 648.2h1v1h-1zM235.7 652.8h1v1h-1zM237.6 648.6h1v1h-1zM238.5 635.2h1v1h-1zM242.7 647.2h1v1h-1zM242.5 650.7h1v1h-1zM242.9 649.8h1v1h-1zM295.5 618.7h1v1h-1zM250.8 653.0h1v1h-1zM295.2 611.0h1v1h-1zM245.8 637.5h1v1h-1zM297.5 606.0h1v1h-1zM245.8 646.8h1v1h-1zM245.2 661.0h1v1h-1zM243.0 650.7h1v1h-1zM243.6 650.0h1v1h-1zM243.0 651.0h1v1h-1zM300.5 608.6h1v1h-1zM302.0 609.1h1v1h-1zM246.2 647.4h1v1h-1zM243.3 649.7h1v1h-1zM285.8 614.6h1v1h-1zM247.1 652.9h1v1h-1zM290.3 613.4h1v1h-1zM295.4 608.4h1v1h-1zM310.2 606.1h1v1h-1zM243.5 656.0h1v1h-1zM240.7 646.0h1v1h-1zM249.1 654.9h1v1h-1zM252.8 646.5h1v1h-1zM242.9 653.2h1v1h-1zM246.6 658.2h1v1h-1zM246.7 649.8h1v1h-1zM243.7 641.6h1v1h-1zM298.6 599.8h1v1h-1zM301.1 611.3h1v1h-1zM296.3 604.3h1v1h-1zM302.8 609.0h1v1h-1zM248.3 635.5h1v1h-1zM242.6 635.5h1v1h-1zM297.0 616.5h1v1h-1zM249.6 657.0h1v1h-1zM238.0 650.1h1v1h-1zM240.8 642.2h1v1h-1zM238.6 644.1h1v1h-1zM237.7 647.3h1v1h-1zM251.4 644.1h1v1h-1zM251.9 646.4h1v1h-1zM249.7 644.9h1v1h-1zM292.6 605.9h1v1h-1zM305.5 600.9h1v1h-1zM249.8 652.4h1v1h-1zM295.4 607.1h1v1h-1zM240.9 650.8h1v1h-1zM300.6 606.7h1v1h-1zM246.1 654.3h1v1h-1zM240.9 655.9h1v1h-1zM297.9 605.1h1v1h-1zM242.7 649.7h1v1h-1zM244.9 655.9h1v1h-1zM242.0 646.9h1v1h-1zM243.1 655.2h1v1h-1zM289.9 611.9h1v1h-1zM297.2 611.7h1v1h-1zM238.2 643.2h1v1h-1zM246.3 648.5h1v1h-1zM298.3 605.0h1v1h-1zM295.1 609.9h1v1h-1zM250.3 664.1h1v1h-1zM245.6 641.5h1v1h-1zM295.8 610.7h1v1h-1zM243.4 659.3h1v1h-1zM302.0 611.4h1v1h-1zM248.0 646.2h1v1h-1zM243.6 650.5h1v1h-1zM294.1 608.5h1v1h-1zM241.8 656.7h1v1h-1zM292.2 617.6h1v1h-1zM296.4 609.2h1v1h-1zM296.8 605.0h1v1h-1zM302.1 607.9h1v1h-1zM303.1 603.3h1v1h-1zM246.1 647.7h1v1h-1zM246.5 649.0h1v1h-1zM301.0 600.0h1v1h-1zM301.9 605.1h1v1h-1zM292.0 608.4h1v1h-1zM245.9 649.7h1v1h-1zM301.8 604.0h1v1h-1zM300.6 605.3h1v1h-1zM298.0 616.5h1v1h-1zM252.4 645.2h1v1h-1zM245.3 645.0h1v1h-1zM294.3 603.7h1v1h-1zM243.8 658.5h1v1h-1zM245.1 645.4h1v1h-1zM301.1 607.8h1v1h-1zM245.6 651.4h1v1h-1zM243.0 647.8h1v1h-1zM241.4 655.6h1v1h-1zM253.5 647.5h1v1h-1zM243.1 656.1h1v1h-1zM245.4 648.0h1v1h-1zM296.7 611.3h1v1h-1zM246.9 650.2h1v1h-1zM246.9 637.7h1v1h-1zM242.1 649.3h1v1h-1zM301.0 607.2h1v1h-1zM297.7 605.5h1v1h-1zM239.8 651.0h1v1h-1zM247.1 663.0h1v1h-1zM300.7 608.2h1v1h-1zM300.6 610.8h1v1h-1zM250.7 655.0h1v1h-1zM294.9 611.9h1v1h-1zM245.1 651.8h1v1h-1zM240.1 652.7h1v1h-1zM247.5 645.3h1v1h-1zM238.7 656.5h1v1h-1zM249.2 639.7h1v1h-1zM301.7 607.5h1v1h-1zM296.9 602.8h1v1h-1zM245.2 644.2h1v1h-1zM240.8 641.0h1v1h-1zM296.9 610.9h1v1h-1zM299.7 603.1h1v1h-1zM242.3 641.9h1v1h-1zM246.1 644.9h1v1h-1zM250.0 652.7h1v1h-1zM241.6 654.0h1v1h-1zM298.4 600.9h1v1h-1zM310.1 596.6h1v1h-1zM238.4 653.2h1v1h-1zM297.3 610.6h1v1h-1zM298.1 608.0h1v1h-1zM293.2 617.3h1v1h-1zM289.2 615.6h1v1h-1zM299.8 609.6h1v1h-1zM290.9 612.1h1v1h-1zM248.5 652.2h1v1h-1zM301.6 609.0h1v1h-1zM305.5 603.5h1v1h-1zM246.3 651.1h1v1h-1zM242.0 651.4h1v1h-1zM246.1 646.5h1v1h-1zM244.7 643.9h1v1h-1zM293.8 609.4h1v1h-1zM244.2 646.7h1v1h-1zM301.7 600.6h1v1h-1zM297.5 609.2h1v1h-1zM301.0 613.2h1v1h-1zM249.2 651.8h1v1h-1zM299.3 608.4h1v1h-1zM296.7 606.5h1v1h-1zM242.9 651.1h1v1h-1zM245.4 648.1h1v1h-1zM299.6 602.9h1v1h-1zM243.6 637.0h1v1h-1zM300.8 608.6h1v1h-1zM298.5 608.8h1v1h-1zM245.2 653.3h1v1h-1zM304.5 607.4h1v1h-1zM249.3 650.2h1v1h-1zM242.3 640.7h1v1h-1zM243.2 644.5h1v1h-1zM242.0 656.9h1v1h-1zM298.3 614.5h1v1h-1zM293.8 612.2h1v1h-1zM295.5 609.3h1v1h-1zM254.2 646.2h1v1h-1zM244.0 645.5h1v1h-1zM244.8 651.4h1v1h-1zM245.2 653.6h1v1h-1zM298.4 607.1h1v1h-1zM299.4 606.4h1v1h-1zM243.7 648.7h1v1h-1zM248.0 644.9h1v1h-1zM294.2 611.0h1v1h-1zM300.5 607.3h1v1h-1zM290.5 610.4h1v1h-1zM300.0 611.9h1v1h-1zM240.9 653.3h1v1h-1zM250.8 646.0h1v1h-1zM299.8 602.6h1v1h-1zM305.8 606.7h1v1h-1zM293.4 612.3h1v1h-1zM299.3 610.5h1v1h-1zM294.0 604.8h1v1h-1zM249.4 653.7h1v1h-1zM295.8 610.4h1v1h-1zM245.2 649.0h1v1h-1zM244.4 641.8h1v1h-1zM242.2 655.1h1v1h-1zM300.6 606.9h1v1h-1zM240.7 651.5h1v1h-1zM254.1 643.4h1v1h-1zM250.1 650.4h1v1h-1zM242.5 654.5h1v1h-1z" fill="#000" opacity="0.5"/>
</g>
<ellipse cx="296.3" cy="611.3" rx="22.5" ry="10.8" fill="none" stroke="#7878c0" stroke-width="0.85" transform="rotate(-35 296.3 611.3)"/>
<rect x="234.5" y="573.6" width="91.10000000000002" height="93.19999999999993" fill="none" stroke="#8a8a8a" stroke-width="1"/>
<text x="237.8" y="585.3" font-size="9.5" text-anchor="start" font-weight="bold" stroke="#000" stroke-width="0.15" >WT2.3</text>
<text x="301.90000000000003" y="585.3" font-size="9.5" text-anchor="middle" font-weight="bold" stroke="#000" stroke-width="0.15" >38.0</text>
<path d="M20.4 616.5V577.5M17.2 582.5L20.4 577L23.6 582.5" fill="none" stroke="#222" stroke-width="1.2"/>
<path d="M20.4 660.8V671.6H39.6M85 671.6H323.6M317.4 668.6L323.8 671.8L317.4 675.4" fill="none" stroke="#222" stroke-width="1.2"/>
<text x="24.6" y="639.3" font-size="12" text-anchor="middle" stroke="#000" stroke-width="0.3" transform="rotate(-90 24.6 639.3)">CD41</text>
<text x="61.9" y="678.7" font-size="12" text-anchor="middle" stroke="#000" stroke-width="0.3" >CD42</text>
<text x="328.5" y="571.6" font-size="18.0" text-anchor="start" stroke="#000" stroke-width="0.15" >(ii)</text>
<rect x="393.40" y="606.40" width="16.00" height="52.90" fill="#5080c0" stroke="#1c2f52" stroke-width="1.2"/>
<rect x="409.60" y="635.80" width="16.00" height="23.50" fill="#ff0000" stroke="#5a0000" stroke-width="1.2"/>
<rect x="437.20" y="643.20" width="16.00" height="16.10" fill="#5080c0" stroke="#1c2f52" stroke-width="1.2"/>
<rect x="453.40" y="640.90" width="16.00" height="18.40" fill="#ff0000" stroke="#5a0000" stroke-width="1.2"/>
<rect x="481.00" y="645.90" width="16.00" height="13.40" fill="#5080c0" stroke="#1c2f52" stroke-width="1.2"/>
<rect x="497.20" y="642.00" width="16.00" height="17.30" fill="#ff0000" stroke="#5a0000" stroke-width="1.2"/>
<path d="M387.6 575.0V659.3H519.0" fill="none" stroke="#3a3a3a" stroke-width="1.35"/>
<path d="M384.6 659.3H387.6" stroke="#3a3a3a" stroke-width="1.2"/>
<text x="378.0" y="663.19" font-size="11.8" text-anchor="end" stroke="#000" stroke-width="0.45" >0</text>
<path d="M384.6 645.25H387.6" stroke="#3a3a3a" stroke-width="1.2"/>
<text x="378.0" y="649.14" font-size="11.8" text-anchor="end" stroke="#000" stroke-width="0.45" >2</text>
<path d="M384.6 631.1999999999999H387.6" stroke="#3a3a3a" stroke-width="1.2"/>
<text x="378.0" y="635.09" font-size="11.8" text-anchor="end" stroke="#000" stroke-width="0.45" >4</text>
<path d="M384.6 617.15H387.6" stroke="#3a3a3a" stroke-width="1.2"/>
<text x="378.0" y="621.04" font-size="11.8" text-anchor="end" stroke="#000" stroke-width="0.45" >6</text>
<path d="M384.6 603.0999999999999H387.6" stroke="#3a3a3a" stroke-width="1.2"/>
<text x="378.0" y="606.99" font-size="11.8" text-anchor="end" stroke="#000" stroke-width="0.45" >8</text>
<path d="M384.6 589.05H387.6" stroke="#3a3a3a" stroke-width="1.2"/>
<text x="378.0" y="592.94" font-size="11.8" text-anchor="end" stroke="#000" stroke-width="0.45" >10</text>
<path d="M384.6 575.0H387.6" stroke="#3a3a3a" stroke-width="1.2"/>
<text x="378.0" y="578.89" font-size="11.8" text-anchor="end" stroke="#000" stroke-width="0.45" >12</text>
<path d="M387.60 659.3V663.3" stroke="#3a3a3a" stroke-width="1.2"/>
<path d="M431.40 659.3V663.3" stroke="#3a3a3a" stroke-width="1.2"/>
<path d="M475.20 659.3V663.3" stroke="#3a3a3a" stroke-width="1.2"/>
<path d="M519.00 659.3V663.3" stroke="#3a3a3a" stroke-width="1.2"/>
<path d="M401.40 589.3V623.5M399.10 589.3h4.6M399.10 623.5h4.6" stroke="#1a1a1a" stroke-width="1.15" fill="none"/>
<path d="M417.60 626.5V646.5M415.30 626.5h4.6M415.30 646.5h4.6" stroke="#1a1a1a" stroke-width="1.15" fill="none"/>
<path d="M445.20 639.2V647.7M442.90 639.2h4.6M442.90 647.7h4.6" stroke="#1a1a1a" stroke-width="1.15" fill="none"/>
<path d="M461.40 639.2V643.1M459.10 639.2h4.6M459.10 643.1h4.6" stroke="#1a1a1a" stroke-width="1.15" fill="none"/>
<path d="M489.00 644.5V647M486.70 644.5h4.6M486.70 647h4.6" stroke="#1a1a1a" stroke-width="1.15" fill="none"/>
<path d="M505.20 640V644.2M502.90 640h4.6M502.90 644.2h4.6" stroke="#1a1a1a" stroke-width="1.15" fill="none"/>
<text x="409.50" y="675.2" font-size="11.45" text-anchor="middle" stroke="#000" stroke-width="0.45" >WT2.1</text>
<text x="453.30" y="675.2" font-size="11.45" text-anchor="middle" stroke="#000" stroke-width="0.45" >WT2.2</text>
<text x="497.10" y="675.2" font-size="11.45" text-anchor="middle" stroke="#000" stroke-width="0.45" >WT2.3</text>
<text x="359.1" y="618" font-size="7.8" font-weight="bold" text-anchor="middle" stroke="#000" stroke-width="0.3" transform="rotate(-90 359.1 618)">Fold Change</text>
<text x="429.5" y="583" font-size="8" stroke="#000" stroke-width="0.2"><tspan font-size="6.8" dy="-1" font-weight="bold">**</tspan><tspan font-style="italic" dy="1">p</tspan> &lt; 0.01</text>
<path d="M401.9 589.5V587.2H489.3V627M446.2 587.2V627" fill="none" stroke="#222" stroke-width="1.1"/>
</svg>
</body></html>
